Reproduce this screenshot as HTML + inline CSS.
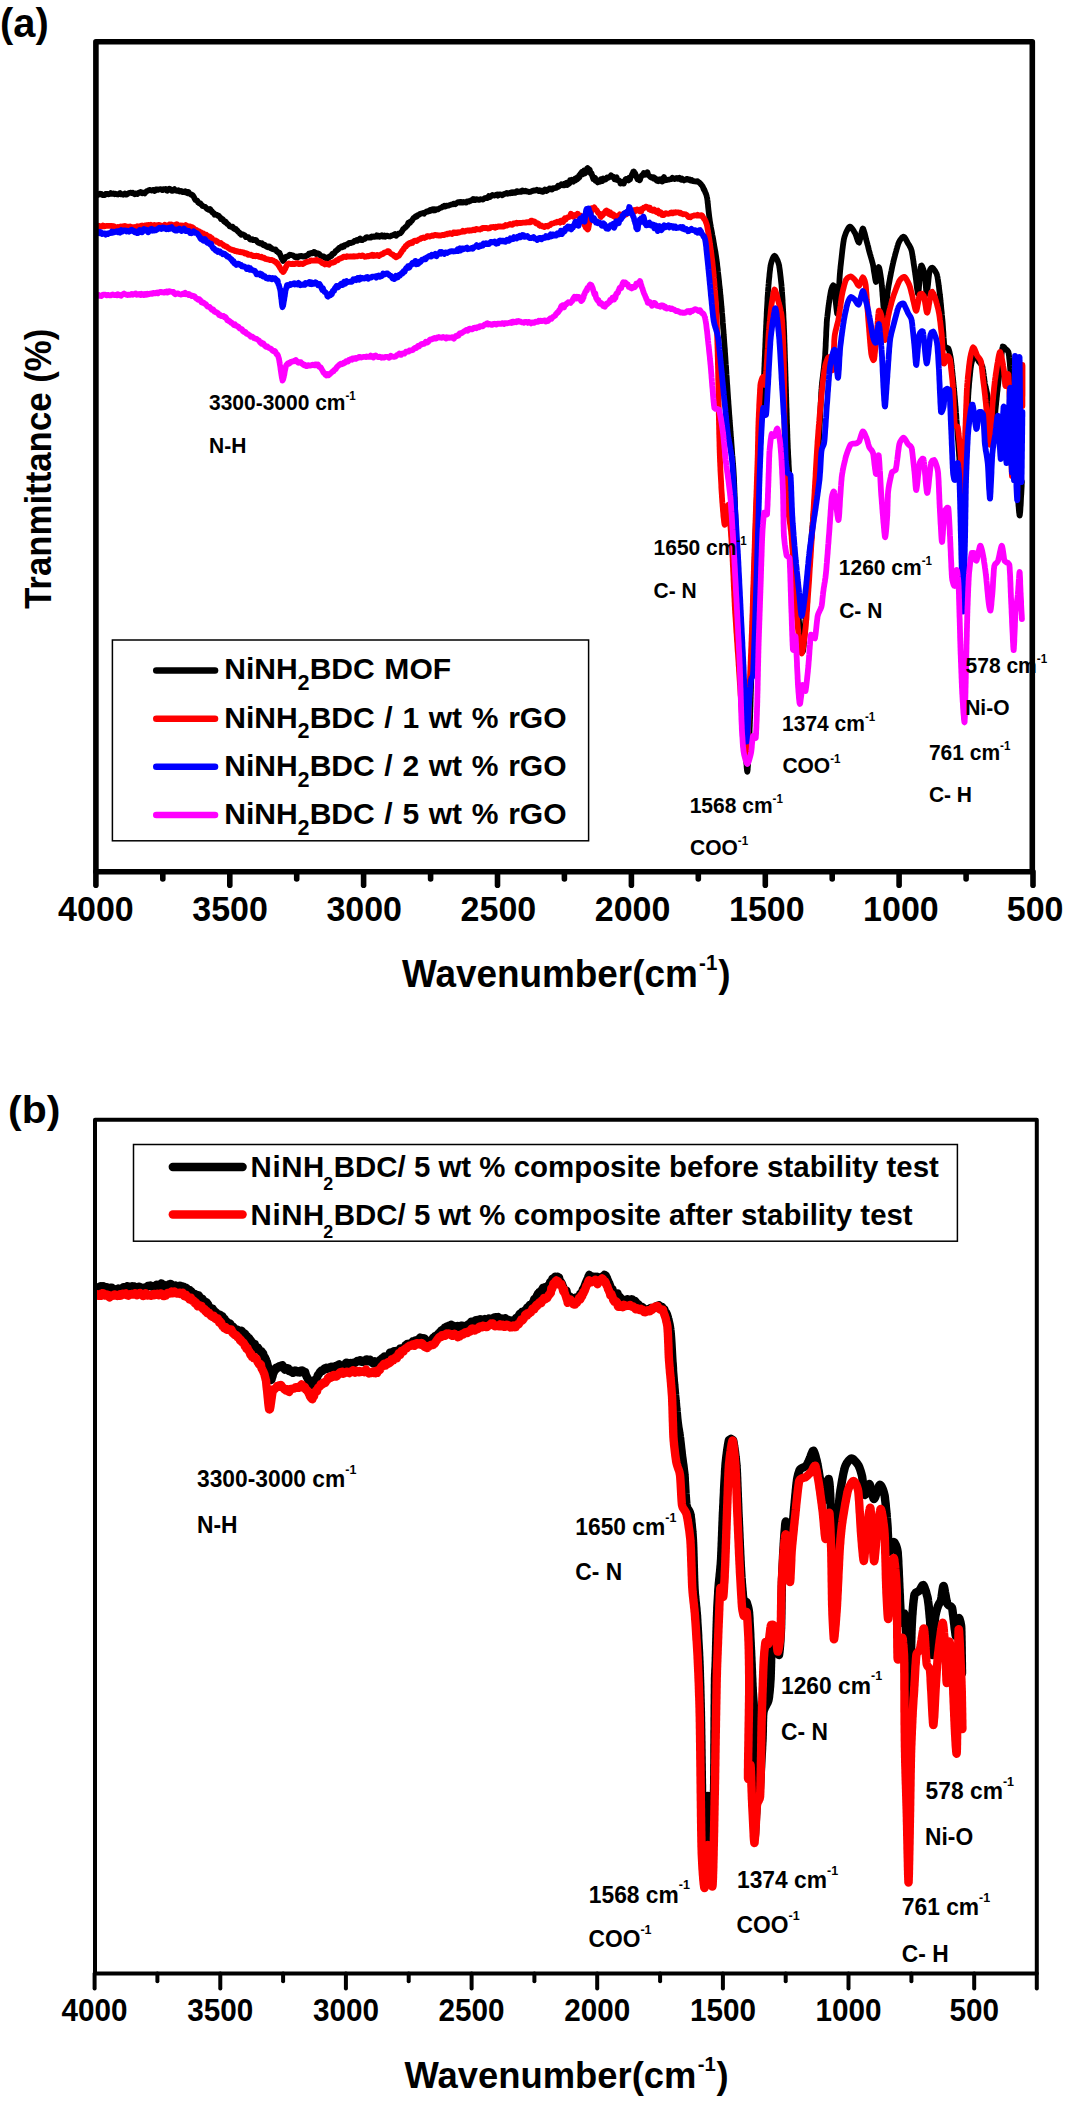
<!DOCTYPE html>
<html><head><meta charset="utf-8"><title>FTIR</title>
<style>html,body{margin:0;padding:0;background:#fff;}body{width:1065px;height:2103px;position:relative;overflow:hidden;font-family:"Liberation Sans",sans-serif;}</style></head>
<body>
<svg width="1065" height="2103" viewBox="0 0 1065 2103" style="display:block;position:absolute;left:0;top:0" font-family="'Liberation Sans', sans-serif" font-weight="bold" fill="#000">
<rect width="1065" height="2103" fill="#fff"/>
<path d="M97.5 195.0 L97.8 195.0 L98.2 194.9 L98.7 194.3 L99.3 194.0 L99.9 193.7 L100.6 194.4 L101.4 194.0 L102.2 195.0 L103.0 195.0 L103.9 195.2 L104.8 195.1 L105.7 193.8 L106.7 194.0 L107.7 193.8 L108.7 194.3 L109.7 194.0 L110.7 193.1 L111.7 193.8 L112.7 193.6 L113.6 193.5 L114.6 194.2 L115.5 193.7 L116.3 194.2 L117.2 194.3 L118.0 194.5 L118.7 194.0 L119.4 193.4 L120.0 193.1 L120.6 194.1 L121.2 194.4 L121.8 194.3 L122.5 194.1 L123.3 194.7 L124.0 194.3 L124.8 193.6 L125.7 194.5 L126.5 194.6 L127.4 194.2 L128.3 193.3 L129.2 192.9 L130.1 192.9 L131.0 192.6 L131.9 193.2 L132.9 192.8 L133.8 193.6 L134.7 194.3 L135.6 193.5 L136.5 193.6 L137.4 194.0 L138.2 192.9 L139.1 192.6 L139.9 192.8 L140.7 192.0 L141.4 192.2 L142.1 193.3 L142.8 193.0 L143.4 192.7 L144.0 193.2 L144.6 193.5 L145.2 192.7 L145.9 192.0 L146.6 191.3 L147.4 191.0 L148.1 190.8 L149.0 190.1 L149.8 190.0 L150.7 190.1 L151.5 190.6 L152.4 190.2 L153.4 189.9 L154.3 191.0 L155.2 190.6 L156.1 189.5 L157.1 189.4 L158.0 189.9 L158.9 189.3 L159.8 189.4 L160.7 189.1 L161.6 189.5 L162.4 190.1 L163.2 189.3 L164.0 189.1 L164.8 189.6 L165.5 189.1 L166.2 190.1 L166.8 190.5 L167.4 190.7 L168.0 189.8 L168.6 189.3 L169.3 188.6 L170.1 188.9 L170.9 190.0 L171.7 190.8 L172.6 190.8 L173.5 189.7 L174.4 189.1 L175.3 190.1 L176.3 190.6 L177.2 190.8 L178.2 190.2 L179.2 191.4 L180.1 191.5 L181.1 191.0 L182.0 191.3 L182.9 192.2 L183.7 192.1 L184.6 192.2 L185.4 191.3 L186.1 192.5 L186.8 192.1 L187.5 193.2 L188.0 192.8 L188.6 192.0 L189.0 193.3 L189.7 193.6 L190.3 194.0 L190.9 194.7 L191.5 194.4 L192.1 194.8 L192.7 195.3 L193.3 196.1 L193.9 197.0 L194.5 198.4 L195.0 199.3 L195.5 200.0 L196.1 200.2 L196.6 200.5 L197.1 200.6 L197.5 201.1 L198.0 202.3 L198.5 202.4 L199.0 203.2 L199.6 203.0 L200.3 203.2 L201.0 204.4 L201.8 205.0 L202.5 205.9 L203.3 206.1 L204.1 206.4 L205.0 206.7 L205.8 207.5 L206.6 208.5 L207.3 209.1 L208.1 209.5 L208.8 209.8 L209.4 209.2 L210.0 209.0 L210.4 209.3 L210.9 210.9 L211.4 210.8 L212.0 211.4 L212.6 212.7 L213.2 212.7 L213.8 213.1 L214.5 214.7 L215.2 214.2 L215.9 214.7 L216.6 214.7 L217.4 215.5 L218.1 216.0 L218.8 215.7 L219.5 216.9 L220.3 217.3 L220.9 219.0 L221.6 218.7 L222.3 219.0 L222.9 219.4 L223.5 220.5 L224.0 221.4 L224.5 221.3 L225.0 222.2 L225.5 221.6 L226.0 222.5 L226.5 222.7 L227.1 223.9 L227.7 224.0 L228.3 224.5 L229.0 225.3 L229.7 226.4 L230.4 226.3 L231.1 226.8 L231.8 226.6 L232.5 226.7 L233.2 227.5 L233.9 228.7 L234.6 229.0 L235.3 229.0 L236.0 229.0 L236.7 230.3 L237.3 230.4 L237.9 231.5 L238.5 232.1 L239.0 232.5 L239.5 232.6 L240.0 233.7 L240.6 234.0 L241.2 234.8 L241.8 234.7 L242.6 234.2 L243.3 234.6 L244.1 235.0 L244.9 235.5 L245.8 237.1 L246.6 236.9 L247.5 237.1 L248.4 237.2 L249.2 238.1 L250.1 239.5 L250.9 239.5 L251.7 239.6 L252.4 239.3 L253.2 240.1 L253.8 240.1 L254.4 239.9 L255.0 240.0 L255.6 239.8 L256.2 240.3 L256.9 241.2 L257.6 242.1 L258.4 242.8 L259.3 242.6 L260.1 243.4 L261.0 243.7 L261.9 243.3 L262.8 244.6 L263.6 245.3 L264.5 244.7 L265.4 245.5 L266.2 246.5 L267.0 246.9 L267.7 247.3 L268.4 246.5 L269.0 246.3 L269.5 246.6 L270.0 247.4 L270.7 248.1 L271.4 248.0 L272.2 249.0 L273.0 249.2 L273.8 249.4 L274.6 249.9 L275.4 249.4 L276.1 250.3 L276.8 251.5 L277.5 251.6 L278.1 252.2 L278.6 253.1 L279.0 253.1 L279.5 252.8 L279.9 254.1 L280.3 255.1 L280.8 255.9 L281.2 257.2 L281.6 258.2 L282.0 259.1 L282.3 259.0 L282.7 260.0 L283.0 261.0 L283.4 259.7 L283.8 260.4 L284.3 259.4 L284.9 258.5 L285.4 257.6 L286.1 256.6 L286.7 256.6 L287.3 256.3 L288.0 256.3 L288.5 255.7 L289.0 255.3 L289.7 254.7 L290.5 255.1 L291.3 254.8 L292.2 255.4 L293.1 255.3 L294.1 256.2 L295.0 257.1 L296.0 257.2 L296.9 256.5 L297.8 257.4 L298.6 256.7 L299.3 256.1 L300.0 256.0 L300.5 256.4 L301.2 256.0 L301.9 256.0 L302.6 256.1 L303.4 256.7 L304.3 256.6 L305.2 256.7 L306.0 255.8 L307.0 255.4 L307.9 255.2 L308.8 253.8 L309.6 254.0 L310.5 253.2 L311.3 252.9 L312.1 253.4 L312.8 253.0 L313.4 252.7 L314.0 251.9 L314.6 252.2 L315.3 252.6 L316.0 254.0 L316.8 253.7 L317.6 253.3 L318.4 253.6 L319.3 253.9 L320.1 255.2 L321.0 256.1 L321.9 256.4 L322.8 256.6 L323.6 256.4 L324.4 257.6 L325.1 257.9 L325.8 258.3 L326.4 257.6 L327.0 257.6 L327.5 258.6 L328.0 258.2 L328.5 257.0 L329.1 257.4 L329.7 256.5 L330.3 256.0 L331.0 256.3 L331.6 255.8 L332.3 253.8 L333.0 253.6 L333.7 253.7 L334.4 253.1 L335.1 252.1 L335.7 250.9 L336.4 250.6 L337.1 250.4 L337.7 249.1 L338.4 249.3 L339.0 248.0 L339.4 248.2 L340.0 247.7 L340.5 247.3 L341.1 246.7 L341.8 247.4 L342.5 247.2 L343.3 245.9 L344.1 246.4 L344.9 245.1 L345.7 244.9 L346.6 244.3 L347.4 244.6 L348.3 243.4 L349.2 243.0 L350.1 242.9 L351.0 243.1 L351.9 242.3 L352.8 242.4 L353.7 241.9 L354.5 241.0 L355.3 240.9 L356.1 240.5 L356.9 239.9 L357.6 240.6 L358.3 239.7 L358.9 239.7 L359.5 239.0 L360.0 238.6 L360.6 239.9 L361.3 240.2 L362.1 240.2 L362.9 239.3 L363.7 239.2 L364.6 239.0 L365.4 238.3 L366.3 237.3 L367.3 237.1 L368.2 237.7 L369.1 237.7 L370.0 237.2 L371.0 237.5 L371.9 236.5 L372.7 236.8 L373.6 236.4 L374.4 236.9 L375.2 236.7 L376.0 236.7 L376.7 235.4 L377.4 236.2 L378.0 236.6 L378.6 235.9 L379.3 236.7 L380.0 236.1 L380.8 235.7 L381.6 235.3 L382.5 236.5 L383.4 236.5 L384.4 235.6 L385.3 236.7 L386.3 235.9 L387.3 235.7 L388.2 236.1 L389.2 236.3 L390.1 236.5 L391.1 236.0 L391.9 235.3 L392.8 235.4 L393.6 234.9 L394.3 234.4 L395.0 234.0 L395.6 234.7 L396.1 235.8 L396.5 234.8 L397.4 234.1 L398.2 234.3 L398.9 233.4 L399.7 233.4 L400.3 233.4 L401.0 232.4 L401.6 231.9 L402.1 231.0 L402.6 230.4 L403.0 229.2 L403.5 228.7 L404.0 228.5 L404.6 228.1 L405.2 227.2 L405.8 227.1 L406.4 226.4 L407.0 225.4 L407.5 225.4 L408.0 223.7 L408.4 222.7 L408.9 223.5 L409.5 223.2 L410.1 222.6 L410.7 221.4 L411.4 221.1 L412.1 220.4 L412.8 219.1 L413.6 218.0 L414.3 217.6 L415.0 217.5 L415.4 216.5 L415.9 216.7 L416.4 216.0 L417.0 216.4 L417.7 215.0 L418.4 214.9 L419.1 214.7 L419.9 214.0 L420.7 213.7 L421.5 213.6 L422.3 213.3 L423.2 212.9 L424.1 213.6 L424.9 212.5 L425.8 212.2 L426.7 211.3 L427.5 211.5 L428.4 211.5 L429.2 210.9 L430.0 210.1 L430.4 210.9 L430.9 210.2 L431.5 210.2 L432.0 209.6 L432.7 210.1 L433.3 209.4 L434.0 210.4 L434.8 209.2 L435.5 210.2 L436.3 209.2 L437.1 209.4 L438.0 209.4 L438.8 208.8 L439.7 208.3 L440.6 207.8 L441.5 207.7 L442.5 206.7 L443.4 206.6 L444.3 205.7 L445.3 206.5 L446.2 205.6 L447.2 205.8 L448.1 205.7 L449.0 205.4 L450.0 205.0 L450.9 204.7 L451.8 204.5 L452.7 204.3 L453.5 203.6 L454.4 203.7 L455.2 204.3 L456.0 203.6 L456.7 203.1 L457.5 202.5 L458.2 202.1 L458.8 202.2 L459.4 202.2 L460.0 202.6 L460.6 202.0 L461.2 201.8 L461.8 202.1 L462.5 202.6 L463.2 202.6 L463.9 202.0 L464.7 202.4 L465.4 202.5 L466.2 202.7 L467.1 201.4 L467.9 201.5 L468.8 201.6 L469.6 201.2 L470.5 201.0 L471.4 200.1 L472.3 200.0 L473.2 199.0 L474.1 199.2 L475.0 200.1 L475.9 199.6 L476.8 199.2 L477.7 199.5 L478.6 199.9 L479.5 199.8 L480.4 199.2 L481.2 199.3 L482.1 199.3 L482.9 199.6 L483.8 198.8 L484.6 198.2 L485.3 198.1 L486.1 198.0 L486.8 198.1 L487.5 197.9 L488.2 197.0 L488.8 196.1 L489.4 196.6 L490.0 196.9 L490.6 196.1 L491.2 196.2 L491.8 195.3 L492.5 195.0 L493.2 195.2 L493.9 195.4 L494.7 195.6 L495.4 195.2 L496.2 194.8 L497.1 194.5 L497.9 195.7 L498.8 195.0 L499.6 194.3 L500.5 194.6 L501.4 194.7 L502.3 195.3 L503.2 194.6 L504.1 193.8 L505.0 193.8 L505.9 193.4 L506.8 193.0 L507.7 193.8 L508.6 193.1 L509.5 193.3 L510.4 193.4 L511.2 192.5 L512.1 192.1 L512.9 193.0 L513.8 192.3 L514.6 192.8 L515.3 192.9 L516.1 191.8 L516.8 191.1 L517.5 191.3 L518.2 192.0 L518.8 191.9 L519.4 191.7 L520.0 191.9 L520.6 191.3 L521.2 191.8 L521.9 191.5 L522.6 190.5 L523.3 191.3 L524.1 191.3 L524.9 191.4 L525.7 190.8 L526.6 191.2 L527.5 191.7 L528.4 191.6 L529.3 192.0 L530.2 191.8 L531.1 191.6 L532.1 191.0 L533.0 190.9 L534.0 190.3 L534.9 190.5 L535.9 190.4 L536.8 189.7 L537.8 190.6 L538.7 191.0 L539.6 190.2 L540.5 190.5 L541.4 191.4 L542.3 190.7 L543.2 191.8 L544.0 190.5 L544.8 189.7 L545.6 190.8 L546.3 191.0 L547.0 190.7 L547.7 189.5 L548.3 189.8 L548.9 189.3 L549.5 188.5 L550.0 188.8 L550.7 188.7 L551.4 189.5 L552.1 189.6 L552.9 188.2 L553.6 188.4 L554.5 188.2 L555.3 187.9 L556.2 187.8 L557.0 187.4 L557.9 185.8 L558.8 186.6 L559.7 185.5 L560.5 185.4 L561.4 184.3 L562.3 184.9 L563.1 185.2 L564.0 184.1 L564.8 185.2 L565.6 183.4 L566.3 182.9 L567.1 185.0 L567.8 184.7 L568.4 183.3 L569.0 183.7 L569.6 183.1 L570.1 180.1 L570.6 181.8 L571.0 181.2 L571.8 179.8 L572.6 180.7 L573.4 181.6 L574.2 179.7 L574.9 178.8 L575.7 180.2 L576.4 178.1 L577.1 179.5 L577.7 177.1 L578.4 178.3 L579.0 175.6 L579.5 177.3 L580.0 174.6 L580.5 173.7 L581.1 173.6 L581.8 172.1 L582.5 174.4 L583.2 172.4 L584.0 170.6 L584.8 173.5 L585.5 172.9 L586.3 170.6 L587.0 168.6 L587.6 168.0 L588.2 168.9 L588.7 170.1 L589.1 170.5 L589.5 169.4 L590.0 170.7 L590.5 173.2 L591.1 173.9 L591.6 173.4 L592.2 175.9 L592.8 177.6 L593.4 179.2 L594.0 179.2 L594.5 178.8 L595.1 177.9 L595.6 181.0 L596.1 181.1 L596.6 180.6 L597.0 181.1 L597.6 182.4 L598.2 180.8 L599.0 181.8 L599.8 181.8 L600.6 179.3 L601.5 179.0 L602.4 181.1 L603.3 178.4 L604.2 179.0 L605.0 178.8 L605.8 179.4 L606.4 178.7 L607.0 177.5 L607.7 177.9 L608.4 177.7 L609.3 177.0 L610.2 176.5 L611.1 175.3 L612.0 176.9 L612.9 176.6 L613.8 176.8 L614.6 179.4 L615.4 178.3 L616.0 177.7 L616.6 177.4 L617.2 180.1 L618.0 180.0 L618.8 180.2 L619.6 180.9 L620.5 183.6 L621.4 182.7 L622.2 182.3 L623.0 183.4 L623.8 183.6 L624.4 181.6 L625.0 180.7 L625.5 179.3 L626.0 179.0 L626.6 178.8 L627.2 179.1 L627.9 179.2 L628.6 180.5 L629.3 177.6 L630.0 179.4 L630.7 177.0 L631.4 176.2 L632.0 174.3 L632.6 174.8 L633.1 172.0 L633.6 172.2 L634.0 171.6 L634.6 174.5 L635.3 173.6 L636.0 175.6 L636.8 177.5 L637.5 179.3 L638.2 178.2 L638.9 179.6 L639.5 180.3 L640.0 180.0 L640.5 177.7 L641.1 176.8 L641.7 175.5 L642.4 174.8 L643.1 175.0 L643.8 172.9 L644.6 173.3 L645.3 174.6 L646.0 173.4 L646.4 174.4 L646.9 174.3 L647.5 172.3 L648.1 175.0 L648.8 175.5 L649.5 176.0 L650.3 176.9 L651.1 177.5 L651.9 177.2 L652.7 177.1 L653.5 178.5 L654.3 177.6 L655.1 178.4 L655.9 179.9 L656.7 180.6 L657.4 179.3 L658.0 180.1 L658.5 181.1 L659.1 179.6 L659.8 179.2 L660.5 180.8 L661.3 179.2 L662.2 181.6 L663.1 178.7 L664.0 177.0 L665.0 180.2 L665.9 179.7 L666.9 180.0 L667.9 179.7 L668.9 179.7 L669.8 179.3 L670.8 179.2 L671.7 178.9 L672.5 177.8 L673.4 178.7 L674.1 178.6 L674.8 179.1 L675.4 178.6 L676.0 178.1 L676.7 178.0 L677.5 178.8 L678.3 178.3 L679.2 177.8 L680.1 179.0 L681.0 179.7 L682.0 178.6 L683.0 179.6 L683.9 180.4 L684.9 179.7 L685.8 179.8 L686.7 179.0 L687.5 178.9 L688.2 179.5 L688.9 179.9 L689.5 179.6 L690.0 180.4 L690.9 180.6 L691.8 180.1 L692.7 181.1 L693.7 181.1 L694.6 181.3 L695.4 181.4 L696.2 181.5 L696.9 181.7 L697.5 181.2 L698.1 182.0 L698.7 182.2 L699.4 182.7 L700.1 183.3 L700.7 184.0 L701.4 184.9 L702.0 185.5 L702.6 186.4 L703.0 187.4 L703.3 187.8 L703.5 189.2 L703.8 188.7 L704.1 189.3 L704.5 190.2 L704.8 190.9 L705.1 191.9 L705.4 192.6 L705.8 193.4 L706.1 194.1 L706.3 194.9 L706.6 195.8 L706.8 196.7 L707.0 197.5 L707.2 198.4 L707.3 199.4 L707.5 200.6 L707.6 202.0 L707.8 203.5 L708.0 205.1 L708.1 206.7 L708.3 208.4 L708.5 210.2 L708.7 211.9 L708.9 213.6 L709.1 215.3 L709.3 217.0 L709.5 218.5 L709.7 220.0 L709.8 220.9 L710.0 221.9 L710.2 223.1 L710.4 224.4 L710.7 225.7 L710.9 227.2 L711.2 228.7 L711.5 230.3 L711.8 231.9 L712.1 233.6 L712.4 235.3 L712.8 237.1 L713.1 238.8 L713.4 240.6 L713.7 242.4 L714.0 244.1 L714.3 245.9 L714.6 247.6 L714.9 249.2 L715.2 250.8 L715.5 252.4 L715.7 253.8 L715.9 255.2 L716.1 256.5 L716.3 257.7 L716.4 258.7 L716.6 259.8 L716.7 261.0 L716.9 262.3 L717.1 263.7 L717.2 265.1 L717.4 266.6 L717.6 268.1 L717.8 269.7 L717.9 271.3 L718.1 273.0 L718.3 274.7 L718.5 276.4 L718.7 278.1 L718.9 279.8 L719.1 281.5 L719.2 283.3 L719.4 285.0 L719.6 286.6 L719.8 288.3 L719.9 289.9 L720.1 291.5 L720.2 293.1 L720.4 294.6 L720.5 296.0 L720.7 297.4 L720.8 298.7 L720.9 299.9 L721.0 301.0 L721.1 302.1 L721.2 303.2 L721.3 304.4 L721.4 305.7 L721.5 307.1 L721.7 308.5 L721.8 309.9 L721.9 311.4 L722.0 313.0 L722.2 314.6 L722.3 316.2 L722.4 317.9 L722.6 319.6 L722.7 321.3 L722.8 323.0 L723.0 324.7 L723.1 326.4 L723.2 328.1 L723.4 329.8 L723.5 331.5 L723.6 333.2 L723.7 334.9 L723.9 336.5 L724.0 338.1 L724.1 339.6 L724.2 341.1 L724.3 342.6 L724.4 344.0 L724.5 345.3 L724.6 346.6 L724.7 347.8 L724.8 348.8 L724.9 349.9 L724.9 351.1 L725.0 352.4 L725.1 353.7 L725.2 355.1 L725.3 356.5 L725.4 358.0 L725.5 359.6 L725.6 361.2 L725.7 362.8 L725.8 364.5 L726.0 366.2 L726.1 367.9 L726.2 369.7 L726.3 371.4 L726.4 373.2 L726.5 375.0 L726.7 376.8 L726.8 378.6 L726.9 380.4 L727.0 382.1 L727.1 383.9 L727.3 385.6 L727.4 387.3 L727.5 389.0 L727.6 390.6 L727.7 392.2 L727.8 393.8 L727.9 395.3 L728.0 396.7 L728.1 398.1 L728.2 399.4 L728.3 400.7 L728.4 401.9 L728.4 403.0 L728.5 404.0 L728.6 405.2 L728.7 406.5 L728.8 407.9 L728.9 409.3 L729.0 410.8 L729.1 412.4 L729.2 414.0 L729.3 415.6 L729.5 417.3 L729.6 419.0 L729.7 420.8 L729.9 422.5 L730.0 424.3 L730.1 426.1 L730.3 427.8 L730.4 429.6 L730.5 431.4 L730.7 433.1 L730.8 434.8 L730.9 436.5 L731.0 438.1 L731.2 439.7 L731.3 441.3 L731.4 442.8 L731.5 444.2 L731.6 445.5 L731.7 446.8 L731.8 448.0 L731.9 449.1 L731.9 450.1 L732.0 451.0 L732.1 452.5 L732.2 453.9 L732.3 455.3 L732.5 456.8 L732.6 458.2 L732.7 459.7 L732.8 461.1 L732.9 462.6 L733.0 464.1 L733.2 465.6 L733.3 467.1 L733.4 468.7 L733.5 470.3 L733.6 472.0 L733.7 473.6 L733.8 475.4 L733.9 477.2 L734.0 479.0 L734.0 479.7 L734.1 480.6 L734.1 481.4 L734.1 482.4 L734.2 483.4 L734.2 484.5 L734.3 485.7 L734.3 486.9 L734.4 488.1 L734.4 489.4 L734.5 490.8 L734.5 492.2 L734.6 493.6 L734.6 495.1 L734.7 496.7 L734.8 498.2 L734.8 499.8 L734.9 501.5 L734.9 503.1 L735.0 504.8 L735.1 506.6 L735.1 508.3 L735.2 510.1 L735.2 511.8 L735.3 513.6 L735.4 515.4 L735.4 517.2 L735.5 519.0 L735.6 520.9 L735.6 522.7 L735.7 524.5 L735.8 526.3 L735.8 528.1 L735.9 529.9 L736.0 531.7 L736.0 533.5 L736.1 535.2 L736.1 537.0 L736.2 538.7 L736.3 540.4 L736.3 542.0 L736.4 543.7 L736.4 545.3 L736.5 546.8 L736.6 548.4 L736.6 549.8 L736.7 551.3 L736.7 552.7 L736.8 554.0 L736.8 555.3 L736.9 556.6 L736.9 557.8 L737.0 558.9 L737.0 560.0 L737.0 561.1 L737.1 562.2 L737.1 563.4 L737.2 564.6 L737.2 565.9 L737.3 567.2 L737.4 568.6 L737.4 570.0 L737.5 571.4 L737.5 572.9 L737.6 574.3 L737.7 575.9 L737.7 577.4 L737.8 579.0 L737.9 580.6 L737.9 582.2 L738.0 583.8 L738.1 585.5 L738.2 587.2 L738.2 588.9 L738.3 590.6 L738.4 592.3 L738.5 594.0 L738.5 595.7 L738.6 597.4 L738.7 599.2 L738.8 600.9 L738.8 602.6 L738.9 604.4 L739.0 606.1 L739.1 607.8 L739.1 609.5 L739.2 611.2 L739.3 612.9 L739.4 614.6 L739.4 616.2 L739.5 617.9 L739.6 619.5 L739.7 621.1 L739.7 622.7 L739.8 624.2 L739.9 625.7 L739.9 627.2 L740.0 628.7 L740.1 630.1 L740.1 631.5 L740.2 632.8 L740.2 634.1 L740.3 635.4 L740.4 636.6 L740.4 637.8 L740.5 638.9 L740.5 640.0 L740.5 641.1 L740.6 642.2 L740.6 643.4 L740.7 644.7 L740.8 646.0 L740.8 647.3 L740.9 648.7 L740.9 650.1 L741.0 651.6 L741.1 653.1 L741.1 654.6 L741.2 656.2 L741.3 657.8 L741.3 659.4 L741.4 661.1 L741.5 662.8 L741.5 664.5 L741.6 666.2 L741.7 667.9 L741.8 669.7 L741.8 671.4 L741.9 673.2 L742.0 675.0 L742.1 676.8 L742.1 678.6 L742.2 680.3 L742.3 682.1 L742.4 683.9 L742.4 685.7 L742.5 687.4 L742.6 689.2 L742.7 690.9 L742.7 692.6 L742.8 694.3 L742.9 696.0 L743.0 697.7 L743.0 699.3 L743.1 700.9 L743.2 702.5 L743.3 704.0 L743.3 705.5 L743.4 707.0 L743.4 708.4 L743.5 709.8 L743.6 711.1 L743.6 712.4 L743.7 713.7 L743.7 714.9 L743.8 716.0 L743.9 717.1 L743.9 718.1 L744.0 719.1 L744.0 720.0 L744.1 721.4 L744.2 722.9 L744.2 724.5 L744.3 726.2 L744.4 728.0 L744.5 729.8 L744.6 731.7 L744.7 733.6 L744.8 735.5 L744.9 737.5 L745.0 739.6 L745.1 741.6 L745.2 743.6 L745.3 745.6 L745.5 747.7 L745.6 749.7 L745.7 751.6 L745.8 753.5 L745.9 755.4 L746.0 757.2 L746.1 759.0 L746.2 760.6 L746.3 762.2 L746.4 763.7 L746.6 765.1 L746.6 766.4 L746.7 767.6 L746.8 768.6 L746.9 769.5 L747.0 770.3 L747.1 770.9 L747.2 771.3 L747.2 771.6 L747.3 771.7 L747.4 771.6 L747.4 771.3 L747.5 770.9 L747.6 770.2 L747.7 769.5 L747.7 768.5 L747.8 767.5 L747.9 766.3 L748.0 764.9 L748.1 763.5 L748.2 762.0 L748.2 760.4 L748.3 758.7 L748.4 756.9 L748.5 755.0 L748.6 753.1 L748.7 751.2 L748.8 749.2 L748.9 747.2 L749.0 745.1 L749.1 743.1 L749.2 741.1 L749.2 739.0 L749.3 737.0 L749.4 735.0 L749.5 733.1 L749.6 731.2 L749.6 729.4 L749.7 727.6 L749.8 725.9 L749.8 724.3 L749.9 722.7 L749.9 721.3 L750.0 720.0 L750.0 719.0 L750.1 718.0 L750.1 716.9 L750.2 715.8 L750.2 714.5 L750.2 713.3 L750.3 711.9 L750.3 710.6 L750.4 709.1 L750.4 707.7 L750.5 706.1 L750.5 704.6 L750.5 703.0 L750.6 701.4 L750.6 699.7 L750.7 698.0 L750.7 696.3 L750.8 694.6 L750.8 692.9 L750.9 691.1 L750.9 689.4 L751.0 687.6 L751.0 685.8 L751.1 684.0 L751.1 682.2 L751.2 680.4 L751.2 678.7 L751.3 676.9 L751.3 675.1 L751.4 673.4 L751.4 671.7 L751.5 670.0 L751.5 668.3 L751.5 666.6 L751.6 665.0 L751.6 663.4 L751.7 661.9 L751.7 660.4 L751.8 658.9 L751.8 657.5 L751.8 656.1 L751.9 654.8 L751.9 653.5 L751.9 652.3 L752.0 651.1 L752.0 650.0 L752.0 648.9 L752.1 647.7 L752.1 646.5 L752.1 645.3 L752.2 643.9 L752.2 642.6 L752.3 641.2 L752.3 639.7 L752.3 638.2 L752.4 636.7 L752.4 635.1 L752.5 633.5 L752.5 631.9 L752.6 630.2 L752.6 628.5 L752.7 626.8 L752.7 625.1 L752.8 623.4 L752.8 621.6 L752.9 619.9 L752.9 618.1 L753.0 616.3 L753.0 614.6 L753.0 612.8 L753.1 611.0 L753.1 609.3 L753.2 607.5 L753.2 605.8 L753.3 604.1 L753.3 602.4 L753.4 600.7 L753.4 599.0 L753.5 597.4 L753.5 595.8 L753.6 594.3 L753.6 592.7 L753.7 591.2 L753.7 589.8 L753.7 588.4 L753.8 587.0 L753.8 585.7 L753.9 584.5 L753.9 583.3 L753.9 582.1 L754.0 581.0 L754.0 580.0 L754.0 578.8 L754.1 577.6 L754.1 576.3 L754.2 575.0 L754.2 573.6 L754.2 572.2 L754.3 570.7 L754.3 569.2 L754.4 567.6 L754.4 566.0 L754.5 564.4 L754.5 562.8 L754.6 561.1 L754.7 559.4 L754.7 557.7 L754.8 556.0 L754.8 554.3 L754.9 552.6 L754.9 550.9 L755.0 549.1 L755.1 547.4 L755.1 545.7 L755.2 544.0 L755.2 542.3 L755.3 540.6 L755.3 539.0 L755.4 537.4 L755.5 535.8 L755.5 534.2 L755.6 532.7 L755.6 531.2 L755.7 529.7 L755.7 528.3 L755.8 526.9 L755.8 525.6 L755.8 524.4 L755.9 523.2 L755.9 522.1 L756.0 521.0 L756.0 520.0 L756.0 518.8 L756.1 517.5 L756.1 516.2 L756.2 514.7 L756.2 513.3 L756.3 511.7 L756.4 510.1 L756.4 508.5 L756.5 506.8 L756.6 505.1 L756.6 503.4 L756.7 501.7 L756.8 499.9 L756.8 498.1 L756.9 496.3 L757.0 494.6 L757.0 492.8 L757.1 491.0 L757.2 489.3 L757.2 487.6 L757.3 485.9 L757.4 484.3 L757.4 482.6 L757.5 481.1 L757.6 479.6 L757.6 478.1 L757.7 476.7 L757.8 475.4 L757.8 474.1 L757.9 473.0 L757.9 471.9 L758.0 470.9 L758.0 470.0 L758.1 468.6 L758.2 467.1 L758.2 465.5 L758.3 464.0 L758.4 462.4 L758.5 460.7 L758.7 459.1 L758.8 457.4 L758.9 455.8 L759.0 454.1 L759.1 452.5 L759.2 450.9 L759.3 449.3 L759.5 447.8 L759.6 446.3 L759.7 444.9 L759.8 443.6 L759.8 442.3 L759.9 441.1 L760.0 440.0 L760.1 438.9 L760.2 437.7 L760.2 436.3 L760.3 434.9 L760.4 433.4 L760.5 431.8 L760.7 430.2 L760.8 428.6 L760.9 426.9 L761.0 425.2 L761.1 423.5 L761.2 421.8 L761.3 420.1 L761.5 418.4 L761.6 416.9 L761.7 415.3 L761.8 413.8 L761.8 412.5 L761.9 411.2 L762.0 410.0 L762.1 408.9 L762.1 407.7 L762.2 406.5 L762.3 405.1 L762.4 403.6 L762.5 402.1 L762.6 400.5 L762.7 398.9 L762.8 397.2 L762.9 395.5 L763.0 393.7 L763.1 392.0 L763.2 390.2 L763.3 388.5 L763.4 386.8 L763.5 385.1 L763.6 383.4 L763.7 381.8 L763.8 380.2 L763.9 378.8 L763.9 377.3 L764.0 376.0 L764.0 375.0 L764.1 374.0 L764.2 372.8 L764.2 371.5 L764.3 370.2 L764.3 368.7 L764.4 367.2 L764.5 365.7 L764.5 364.0 L764.6 362.4 L764.7 360.7 L764.7 358.9 L764.8 357.1 L764.9 355.4 L765.0 353.6 L765.0 351.7 L765.1 349.9 L765.2 348.2 L765.3 346.4 L765.3 344.6 L765.4 342.9 L765.5 341.2 L765.5 339.6 L765.6 338.0 L765.7 336.5 L765.7 335.0 L765.8 333.6 L765.8 332.3 L765.9 331.1 L766.0 330.0 L766.0 329.0 L766.1 327.8 L766.1 326.4 L766.2 325.0 L766.3 323.6 L766.3 322.0 L766.4 320.4 L766.5 318.8 L766.6 317.1 L766.7 315.4 L766.7 313.7 L766.8 312.0 L766.9 310.2 L767.0 308.5 L767.1 306.8 L767.2 305.1 L767.3 303.4 L767.4 301.8 L767.5 300.3 L767.5 298.8 L767.6 297.3 L767.7 296.0 L767.8 294.7 L767.9 293.5 L767.9 292.5 L768.0 291.5 L768.1 290.1 L768.2 288.6 L768.4 287.0 L768.5 285.2 L768.7 283.5 L768.8 281.6 L769.0 279.8 L769.2 277.9 L769.4 276.1 L769.5 274.3 L769.7 272.6 L769.9 271.0 L770.1 269.5 L770.2 268.1 L770.4 266.9 L770.6 265.8 L770.7 265.0 L771.2 263.0 L771.8 260.9 L772.5 258.9 L773.2 257.3 L773.9 256.2 L774.5 255.8 L775.1 256.2 L775.9 257.3 L776.8 258.9 L777.7 260.8 L778.4 262.9 L779.0 265.0 L779.2 265.8 L779.3 266.9 L779.5 268.1 L779.7 269.5 L779.9 271.0 L780.1 272.6 L780.3 274.3 L780.5 276.1 L780.7 277.9 L780.9 279.8 L781.1 281.6 L781.3 283.5 L781.5 285.2 L781.6 287.0 L781.8 288.6 L781.9 290.1 L782.0 291.5 L782.1 292.5 L782.1 293.5 L782.2 294.7 L782.3 295.9 L782.4 297.2 L782.5 298.6 L782.6 300.1 L782.6 301.6 L782.7 303.2 L782.8 304.8 L782.9 306.4 L783.0 308.1 L783.1 309.8 L783.2 311.5 L783.3 313.2 L783.4 315.0 L783.4 316.7 L783.5 318.3 L783.6 320.0 L783.7 321.6 L783.8 323.2 L783.8 324.8 L783.9 326.2 L783.9 327.7 L784.0 329.0 L784.0 329.9 L784.1 330.9 L784.1 332.0 L784.2 333.2 L784.2 334.5 L784.3 335.8 L784.3 337.2 L784.3 338.6 L784.4 340.1 L784.4 341.7 L784.5 343.3 L784.6 344.9 L784.6 346.6 L784.7 348.3 L784.7 350.0 L784.8 351.7 L784.8 353.5 L784.9 355.3 L784.9 357.1 L785.0 358.8 L785.0 360.6 L785.1 362.4 L785.2 364.2 L785.2 365.9 L785.3 367.6 L785.3 369.3 L785.4 371.0 L785.4 372.6 L785.5 374.2 L785.5 375.8 L785.6 377.3 L785.6 378.7 L785.6 380.1 L785.7 381.5 L785.7 382.7 L785.8 383.9 L785.8 385.0 L785.8 386.1 L785.9 387.3 L785.9 388.6 L786.0 389.9 L786.0 391.3 L786.0 392.8 L786.1 394.3 L786.1 395.8 L786.2 397.5 L786.2 399.1 L786.3 400.8 L786.3 402.5 L786.4 404.3 L786.4 406.0 L786.5 407.8 L786.6 409.6 L786.6 411.5 L786.7 413.3 L786.7 415.1 L786.8 416.9 L786.8 418.7 L786.9 420.4 L786.9 422.2 L787.0 423.9 L787.1 425.6 L787.1 427.3 L787.2 428.9 L787.2 430.5 L787.3 432.0 L787.3 433.4 L787.4 434.8 L787.4 436.2 L787.4 437.4 L787.5 438.6 L787.5 439.7 L787.6 440.8 L787.6 441.7 L787.7 443.1 L787.7 444.5 L787.8 446.0 L787.8 447.5 L787.9 449.0 L788.0 450.5 L788.1 452.1 L788.1 453.7 L788.2 455.3 L788.3 456.9 L788.4 458.5 L788.5 460.2 L788.6 461.8 L788.6 463.4 L788.7 465.0 L788.8 466.7 L788.9 468.3 L789.0 469.9 L789.1 471.5 L789.2 473.0 L789.3 474.6 L789.3 476.1 L789.4 477.5 L789.5 479.0 L789.5 479.9 L789.6 480.9 L789.7 482.0 L789.7 483.1 L789.8 484.3 L789.9 485.6 L789.9 487.0 L790.0 488.4 L790.1 489.9 L790.2 491.4 L790.3 493.0 L790.4 494.6 L790.5 496.2 L790.6 497.9 L790.7 499.6 L790.8 501.4 L790.9 503.1 L791.0 504.9 L791.1 506.7 L791.2 508.5 L791.3 510.3 L791.4 512.1 L791.5 513.9 L791.6 515.7 L791.7 517.5 L791.8 519.3 L791.9 521.0 L792.0 522.8 L792.1 524.5 L792.2 526.1 L792.3 527.8 L792.4 529.3 L792.5 530.9 L792.5 532.4 L792.6 533.8 L792.7 535.2 L792.8 536.5 L792.9 537.7 L792.9 538.9 L793.0 540.0 L793.1 541.1 L793.1 542.3 L793.2 543.5 L793.3 544.8 L793.4 546.1 L793.5 547.5 L793.6 548.9 L793.6 550.4 L793.7 551.9 L793.8 553.5 L793.9 555.1 L794.0 556.7 L794.1 558.4 L794.2 560.1 L794.4 561.8 L794.5 563.5 L794.6 565.2 L794.7 566.9 L794.8 568.7 L794.9 570.4 L795.0 572.2 L795.1 573.9 L795.2 575.6 L795.4 577.3 L795.5 579.0 L795.6 580.7 L795.7 582.3 L795.8 584.0 L795.9 585.6 L796.0 587.1 L796.1 588.6 L796.2 590.1 L796.3 591.6 L796.4 592.9 L796.5 594.3 L796.6 595.5 L796.7 596.8 L796.8 597.9 L796.9 599.0 L797.0 600.0 L797.1 601.2 L797.2 602.5 L797.4 604.0 L797.5 605.5 L797.6 607.1 L797.8 608.8 L798.0 610.6 L798.1 612.4 L798.3 614.3 L798.5 616.2 L798.7 618.2 L798.9 620.2 L799.1 622.2 L799.3 624.2 L799.5 626.2 L799.7 628.2 L799.9 630.2 L800.1 632.1 L800.3 634.0 L800.5 635.9 L800.7 637.7 L800.9 639.4 L801.1 641.1 L801.3 642.6 L801.4 644.1 L801.6 645.5 L801.8 646.7 L801.9 647.8 L802.1 648.8 L802.2 649.7 L802.4 650.4 L802.5 650.9 L802.6 651.3 L802.7 651.5 L802.8 651.5 L802.9 651.2 L803.1 650.8 L803.2 650.1 L803.3 649.1 L803.4 648.0 L803.6 646.8 L803.7 645.4 L803.8 643.8 L804.0 642.1 L804.1 640.3 L804.2 638.4 L804.4 636.5 L804.5 634.4 L804.6 632.4 L804.7 630.3 L804.9 628.2 L805.0 626.1 L805.1 624.0 L805.2 622.0 L805.4 620.0 L805.5 618.0 L805.6 616.2 L805.7 614.5 L805.8 612.8 L805.9 611.3 L806.0 610.0 L806.1 609.0 L806.1 608.0 L806.2 606.9 L806.3 605.7 L806.4 604.4 L806.5 603.0 L806.6 601.6 L806.7 600.2 L806.8 598.7 L806.9 597.1 L807.0 595.5 L807.1 593.9 L807.3 592.2 L807.4 590.5 L807.5 588.8 L807.6 587.1 L807.7 585.3 L807.9 583.5 L808.0 581.8 L808.1 580.0 L808.2 578.2 L808.4 576.5 L808.5 574.7 L808.6 573.0 L808.7 571.3 L808.8 569.6 L809.0 567.9 L809.1 566.3 L809.2 564.7 L809.3 563.2 L809.4 561.7 L809.5 560.2 L809.6 558.8 L809.7 557.5 L809.8 556.3 L809.9 555.1 L810.0 554.0 L810.1 552.9 L810.2 551.7 L810.3 550.5 L810.4 549.2 L810.5 547.8 L810.6 546.4 L810.8 545.0 L810.9 543.5 L811.0 541.9 L811.2 540.3 L811.3 538.7 L811.5 537.1 L811.6 535.4 L811.8 533.7 L811.9 532.0 L812.1 530.2 L812.3 528.5 L812.4 526.7 L812.6 525.0 L812.7 523.2 L812.9 521.5 L813.1 519.8 L813.2 518.0 L813.4 516.3 L813.5 514.7 L813.7 513.0 L813.8 511.4 L814.0 509.8 L814.1 508.2 L814.2 506.7 L814.4 505.2 L814.5 503.8 L814.6 502.5 L814.7 501.1 L814.8 499.9 L814.9 498.7 L815.0 497.6 L815.1 496.5 L815.2 495.4 L815.3 494.1 L815.4 492.8 L815.5 491.5 L815.6 490.1 L815.7 488.6 L815.8 487.1 L815.9 485.6 L816.0 484.0 L816.1 482.3 L816.3 480.7 L816.4 479.0 L816.5 477.3 L816.6 475.6 L816.7 473.8 L816.9 472.1 L817.0 470.3 L817.1 468.6 L817.2 466.8 L817.4 465.0 L817.5 463.3 L817.6 461.6 L817.7 459.9 L817.8 458.2 L817.9 456.5 L818.0 454.9 L818.2 453.3 L818.3 451.7 L818.4 450.2 L818.5 448.7 L818.5 447.3 L818.6 445.9 L818.7 444.6 L818.8 443.3 L818.9 442.2 L818.9 441.0 L819.0 440.0 L819.1 438.8 L819.1 437.6 L819.2 436.3 L819.3 434.9 L819.4 433.5 L819.4 432.0 L819.5 430.4 L819.6 428.9 L819.7 427.2 L819.7 425.6 L819.8 423.9 L819.9 422.2 L820.0 420.4 L820.0 418.7 L820.1 416.9 L820.2 415.1 L820.3 413.4 L820.3 411.6 L820.4 409.9 L820.5 408.2 L820.6 406.5 L820.7 404.8 L820.7 403.2 L820.8 401.6 L820.9 400.0 L821.0 398.5 L821.0 397.1 L821.1 395.7 L821.2 394.4 L821.2 393.1 L821.3 392.0 L821.4 390.9 L821.4 389.9 L821.5 389.0 L821.6 387.6 L821.7 386.1 L821.9 384.6 L822.0 383.0 L822.2 381.5 L822.4 379.8 L822.6 378.2 L822.8 376.5 L823.0 374.9 L823.2 373.2 L823.4 371.6 L823.6 369.9 L823.8 368.3 L824.0 366.7 L824.1 365.2 L824.3 363.7 L824.5 362.2 L824.6 360.8 L824.8 359.5 L824.9 358.2 L825.0 357.0 L825.1 355.9 L825.2 354.7 L825.2 353.4 L825.3 351.9 L825.4 350.4 L825.5 348.8 L825.6 347.1 L825.7 345.4 L825.7 343.6 L825.8 341.8 L825.9 340.0 L826.0 338.1 L826.1 336.3 L826.2 334.5 L826.2 332.7 L826.3 330.9 L826.4 329.2 L826.5 327.5 L826.6 326.0 L826.7 324.5 L826.7 323.1 L826.8 321.8 L826.9 320.6 L827.0 319.6 L827.1 318.2 L827.3 316.8 L827.5 315.1 L827.7 313.4 L827.9 311.6 L828.1 309.8 L828.3 307.9 L828.6 306.0 L828.8 304.2 L829.1 302.3 L829.4 300.5 L829.6 298.8 L829.8 297.2 L830.1 295.8 L830.3 294.4 L830.5 293.3 L830.7 292.3 L830.8 291.5 L831.4 289.2 L832.3 286.7 L833.3 285.3 L834.0 285.8 L834.1 286.5 L834.3 287.5 L834.5 288.9 L834.7 290.6 L834.9 292.5 L835.1 294.6 L835.3 296.8 L835.5 299.1 L835.7 301.5 L835.9 303.7 L836.2 305.9 L836.4 308.0 L836.6 309.8 L836.8 311.4 L837.0 312.6 L837.1 313.5 L837.3 314.0 L837.4 314.0 L837.5 313.7 L837.6 313.2 L837.6 312.5 L837.7 311.5 L837.8 310.4 L837.9 309.2 L838.0 307.8 L838.1 306.2 L838.2 304.6 L838.3 302.8 L838.4 300.9 L838.5 299.0 L838.6 297.1 L838.7 295.1 L838.8 293.0 L838.9 291.0 L839.0 289.0 L839.1 287.0 L839.2 285.0 L839.3 283.1 L839.4 281.3 L839.5 279.5 L839.6 277.9 L839.7 276.4 L839.8 275.0 L839.9 273.8 L840.0 272.7 L840.1 271.4 L840.2 270.1 L840.4 268.6 L840.5 267.0 L840.7 265.3 L840.9 263.6 L841.1 261.8 L841.3 260.0 L841.5 258.2 L841.7 256.4 L841.9 254.5 L842.1 252.7 L842.3 250.9 L842.5 249.2 L842.7 247.6 L842.9 246.0 L843.1 244.5 L843.3 243.1 L843.5 241.8 L843.7 240.7 L843.8 239.7 L844.0 238.9 L844.5 236.9 L845.2 234.9 L845.9 232.9 L846.7 231.1 L847.6 229.5 L848.3 228.2 L849.0 227.2 L849.6 226.7 L850.5 226.9 L851.7 228.1 L853.0 229.8 L854.1 231.6 L855.0 233.0 L855.6 234.4 L856.3 236.4 L857.1 238.7 L857.8 240.8 L858.5 242.2 L859.0 242.6 L859.3 242.0 L859.7 240.6 L860.2 238.8 L860.7 236.6 L861.2 234.3 L861.6 232.1 L862.1 230.3 L862.5 229.0 L862.8 228.5 L863.2 228.8 L863.6 229.9 L864.1 231.5 L864.7 233.4 L865.2 235.5 L865.7 237.5 L866.1 239.3 L866.5 240.7 L866.8 241.8 L867.2 243.3 L867.6 244.8 L868.1 246.5 L868.5 248.3 L868.9 250.0 L869.3 251.5 L869.7 252.9 L870.0 254.0 L870.4 255.3 L870.8 256.8 L871.3 258.5 L871.8 260.2 L872.2 261.9 L872.7 263.5 L873.0 265.0 L873.2 266.1 L873.5 267.7 L873.7 269.5 L874.0 271.5 L874.4 273.6 L874.7 275.7 L875.0 277.6 L875.3 279.3 L875.6 280.7 L875.8 281.6 L876.0 282.0 L876.2 281.6 L876.5 280.5 L876.8 278.9 L877.1 276.8 L877.4 274.6 L877.7 272.3 L878.0 270.3 L878.2 268.6 L878.5 267.4 L878.7 267.0 L878.9 267.3 L879.2 268.0 L879.5 269.2 L879.8 270.6 L880.1 272.4 L880.4 274.3 L880.7 276.2 L881.0 278.2 L881.3 280.2 L881.5 282.0 L881.6 282.9 L881.7 284.1 L881.8 285.4 L882.0 287.0 L882.1 288.7 L882.2 290.6 L882.4 292.5 L882.5 294.6 L882.7 296.6 L882.9 298.8 L883.0 300.9 L883.2 302.9 L883.3 305.0 L883.5 306.9 L883.7 308.7 L883.8 310.4 L884.0 311.9 L884.1 313.2 L884.2 314.3 L884.4 315.2 L884.5 315.7 L884.6 316.0 L884.7 315.9 L884.9 315.4 L885.1 314.6 L885.3 313.5 L885.5 312.1 L885.7 310.5 L885.9 308.7 L886.1 306.8 L886.3 304.7 L886.6 302.6 L886.8 300.5 L887.0 298.4 L887.2 296.3 L887.4 294.3 L887.7 292.5 L887.8 290.9 L888.0 289.5 L888.2 288.3 L888.4 287.1 L888.6 285.7 L888.9 284.2 L889.2 282.6 L889.5 281.0 L889.8 279.3 L890.1 277.5 L890.5 275.7 L890.8 274.0 L891.1 272.3 L891.5 270.6 L891.8 269.0 L892.1 267.5 L892.4 266.1 L892.7 264.9 L892.9 263.8 L893.2 262.6 L893.5 261.2 L893.9 259.6 L894.3 258.0 L894.8 256.2 L895.2 254.5 L895.7 252.7 L896.2 251.0 L896.6 249.3 L897.1 247.8 L897.5 246.3 L897.9 245.1 L898.2 244.0 L898.5 243.2 L899.4 241.3 L900.5 239.5 L901.7 238.0 L902.8 237.0 L903.6 236.6 L904.4 237.1 L905.3 238.4 L906.3 240.2 L907.2 241.9 L907.9 243.2 L908.6 244.3 L909.4 245.6 L910.2 247.1 L911.0 248.8 L911.6 250.7 L911.8 251.5 L912.0 252.6 L912.2 253.9 L912.5 255.4 L912.7 257.0 L913.0 258.7 L913.3 260.5 L913.5 262.3 L913.8 264.2 L914.1 266.1 L914.4 267.9 L914.6 269.6 L914.8 271.2 L915.1 272.7 L915.2 273.9 L915.4 275.0 L915.6 276.5 L915.8 278.2 L916.1 280.3 L916.3 282.4 L916.6 284.6 L916.8 286.8 L917.1 288.8 L917.4 290.7 L917.6 292.2 L917.8 293.3 L918.0 294.0 L918.2 294.0 L918.3 293.6 L918.4 292.8 L918.6 291.7 L918.7 290.2 L918.9 288.6 L919.0 286.7 L919.2 284.6 L919.4 282.5 L919.6 280.3 L919.7 278.1 L919.9 275.9 L920.1 273.8 L920.2 271.8 L920.4 270.0 L920.6 268.5 L920.7 267.2 L920.9 266.3 L921.0 265.7 L921.5 265.4 L922.2 266.4 L922.9 268.3 L923.7 270.6 L924.3 273.0 L924.8 275.0 L925.0 276.1 L925.1 277.6 L925.3 279.4 L925.5 281.5 L925.6 283.7 L925.8 285.9 L926.0 288.0 L926.1 290.0 L926.3 291.7 L926.4 293.0 L926.6 293.8 L926.7 294.0 L926.8 293.7 L927.0 292.9 L927.1 291.8 L927.3 290.3 L927.5 288.6 L927.7 286.8 L928.0 284.7 L928.2 282.7 L928.4 280.6 L928.6 278.5 L928.8 276.6 L929.0 274.9 L929.2 273.4 L929.4 272.2 L929.5 271.4 L930.2 269.5 L931.3 268.0 L932.3 267.6 L933.0 268.2 L934.1 269.5 L935.2 271.2 L936.3 273.1 L937.0 275.0 L937.2 275.9 L937.5 277.1 L937.7 278.5 L938.0 280.1 L938.2 281.8 L938.5 283.6 L938.7 285.5 L939.0 287.3 L939.2 289.2 L939.4 290.9 L939.6 292.5 L939.8 294.0 L939.9 295.0 L940.1 296.2 L940.2 297.6 L940.4 299.0 L940.5 300.6 L940.7 302.3 L940.9 304.1 L941.1 305.9 L941.2 307.8 L941.4 309.6 L941.6 311.4 L941.8 313.2 L941.9 315.0 L942.1 316.6 L942.2 318.2 L942.4 319.6 L942.5 320.9 L942.6 322.0 L942.7 323.3 L942.8 324.7 L942.9 326.3 L943.0 328.0 L943.1 329.8 L943.3 331.6 L943.4 333.5 L943.5 335.4 L943.6 337.2 L943.8 339.0 L943.9 340.7 L944.0 342.2 L944.1 343.6 L944.2 344.8 L944.4 345.8 L944.5 346.5 L946.3 347.5 L948.3 348.4 L948.7 349.3 L949.1 350.5 L949.5 352.0 L949.9 353.8 L950.3 355.6 L950.7 357.6 L951.0 359.6 L951.1 360.3 L951.2 361.2 L951.3 362.3 L951.4 363.4 L951.6 364.7 L951.7 366.0 L951.9 367.5 L952.0 369.0 L952.2 370.7 L952.4 372.3 L952.5 374.1 L952.7 375.8 L952.9 377.6 L953.1 379.4 L953.3 381.3 L953.4 383.1 L953.6 384.9 L953.8 386.7 L953.9 388.4 L954.1 390.2 L954.3 391.8 L954.4 393.4 L954.5 394.9 L954.7 396.3 L954.8 397.7 L954.9 398.9 L955.0 400.0 L955.1 401.1 L955.2 402.4 L955.3 403.7 L955.4 405.1 L955.5 406.6 L955.7 408.1 L955.8 409.7 L955.9 411.3 L956.0 413.0 L956.2 414.7 L956.3 416.5 L956.4 418.3 L956.5 420.0 L956.7 421.8 L956.8 423.5 L956.9 425.3 L957.1 427.0 L957.2 428.7 L957.3 430.3 L957.4 431.9 L957.5 433.5 L957.6 434.9 L957.7 436.3 L957.8 437.6 L957.9 438.9 L958.0 440.0 L958.1 441.1 L958.2 442.4 L958.3 443.8 L958.4 445.2 L958.5 446.8 L958.6 448.4 L958.7 450.1 L958.9 451.9 L959.0 453.6 L959.1 455.5 L959.3 457.3 L959.4 459.2 L959.5 461.0 L959.7 462.8 L959.8 464.7 L959.9 466.4 L960.1 468.2 L960.2 469.9 L960.3 471.5 L960.4 473.0 L960.5 474.5 L960.6 475.8 L960.7 477.1 L960.8 478.2 L960.9 479.2 L961.0 480.0 L961.2 482.0 L961.4 484.3 L961.6 486.7 L961.9 489.2 L962.1 491.6 L962.4 493.8 L962.7 495.6 L962.9 497.0 L963.1 497.8 L963.3 497.8 L963.5 497.0 L963.5 496.6 L963.6 496.0 L963.7 495.3 L963.7 494.4 L963.8 493.5 L963.8 492.4 L963.9 491.2 L964.0 489.9 L964.0 488.6 L964.1 487.1 L964.2 485.6 L964.2 484.0 L964.3 482.3 L964.4 480.6 L964.4 478.8 L964.5 477.0 L964.6 475.1 L964.7 473.3 L964.8 471.3 L964.8 469.4 L964.9 467.5 L965.0 465.6 L965.1 463.6 L965.1 461.7 L965.2 459.8 L965.3 457.9 L965.3 456.1 L965.4 454.3 L965.5 452.5 L965.5 450.8 L965.6 449.2 L965.7 447.6 L965.7 446.1 L965.8 444.7 L965.8 443.4 L965.9 442.2 L966.0 441.0 L966.0 440.0 L966.1 438.8 L966.1 437.5 L966.2 436.2 L966.3 434.8 L966.3 433.3 L966.4 431.8 L966.5 430.2 L966.6 428.5 L966.6 426.9 L966.7 425.2 L966.8 423.5 L966.9 421.7 L967.0 419.9 L967.1 418.2 L967.2 416.4 L967.2 414.6 L967.3 412.9 L967.4 411.2 L967.5 409.4 L967.6 407.8 L967.7 406.1 L967.8 404.5 L967.9 402.9 L967.9 401.4 L968.0 400.0 L968.1 398.6 L968.2 397.3 L968.2 396.0 L968.3 394.9 L968.4 393.8 L968.4 392.9 L968.5 392.0 L968.6 390.4 L968.7 388.8 L968.9 387.1 L969.0 385.4 L969.1 383.6 L969.3 381.8 L969.5 380.0 L969.6 378.3 L969.8 376.6 L970.0 374.9 L970.1 373.3 L970.3 371.8 L970.4 370.4 L970.6 369.1 L970.7 367.9 L970.9 366.9 L971.0 366.0 L971.3 364.2 L971.7 362.3 L972.2 360.4 L972.7 358.6 L973.2 356.9 L973.7 355.5 L974.1 354.5 L974.5 354.0 L975.2 354.4 L976.0 355.8 L976.9 357.7 L977.8 359.6 L978.5 361.0 L979.4 362.2 L980.6 363.6 L981.7 365.1 L982.5 367.0 L982.7 367.9 L982.9 369.2 L983.2 370.7 L983.4 372.4 L983.7 374.2 L983.9 376.1 L984.2 378.0 L984.4 379.8 L984.6 381.5 L984.8 382.9 L985.0 384.0 L985.3 385.4 L985.6 386.8 L986.0 388.4 L986.3 390.0 L986.7 391.7 L987.1 393.4 L987.4 395.2 L987.7 397.0 L987.8 397.9 L987.9 399.0 L988.1 400.4 L988.2 401.8 L988.4 403.4 L988.6 405.2 L988.8 407.0 L988.9 408.8 L989.1 410.7 L989.3 412.6 L989.5 414.5 L989.7 416.4 L989.8 418.1 L990.0 419.8 L990.1 421.4 L990.3 422.8 L990.4 424.0 L990.5 425.0 L990.6 426.5 L990.8 428.4 L991.0 430.4 L991.2 432.5 L991.3 434.7 L991.5 436.8 L991.7 438.8 L991.9 440.6 L992.1 442.0 L992.2 443.2 L992.4 443.9 L992.5 444.0 L992.6 443.7 L992.7 443.0 L992.8 442.1 L992.9 440.8 L993.1 439.3 L993.2 437.7 L993.3 435.8 L993.5 433.9 L993.6 431.9 L993.8 430.0 L993.9 428.0 L994.0 426.1 L994.2 424.3 L994.3 422.6 L994.4 421.2 L994.5 420.0 L994.6 418.8 L994.7 417.5 L994.9 416.1 L995.0 414.5 L995.2 412.9 L995.4 411.2 L995.5 409.4 L995.7 407.6 L995.9 405.8 L996.1 404.1 L996.2 402.3 L996.4 400.7 L996.6 399.1 L996.7 397.6 L996.9 396.2 L997.0 395.0 L997.1 393.9 L997.2 392.7 L997.4 391.3 L997.6 389.8 L997.7 388.2 L997.9 386.6 L998.1 384.9 L998.3 383.1 L998.5 381.3 L998.7 379.6 L998.9 377.9 L999.1 376.2 L999.3 374.5 L999.4 373.0 L999.6 371.5 L999.7 370.2 L999.9 369.0 L1000.0 368.0 L1000.2 366.7 L1000.3 365.1 L1000.5 363.5 L1000.7 361.7 L1000.9 359.8 L1001.1 357.9 L1001.4 356.0 L1001.6 354.1 L1001.8 352.4 L1002.0 350.7 L1002.2 349.3 L1002.4 348.1 L1002.6 347.1 L1002.7 346.5 L1004.0 347.0 L1005.5 349.0 L1007.1 350.1 L1008.4 352.0 L1008.6 352.8 L1008.7 353.8 L1008.9 355.0 L1009.1 356.4 L1009.2 358.0 L1009.4 359.7 L1009.6 361.5 L1009.8 363.3 L1009.9 365.2 L1010.1 367.1 L1010.2 369.0 L1010.3 369.8 L1010.3 370.6 L1010.4 371.6 L1010.4 372.7 L1010.5 373.9 L1010.6 375.1 L1010.6 376.5 L1010.7 377.9 L1010.8 379.4 L1010.9 381.0 L1011.0 382.6 L1011.1 384.2 L1011.2 385.9 L1011.3 387.7 L1011.4 389.5 L1011.5 391.2 L1011.5 393.1 L1011.6 394.9 L1011.7 396.7 L1011.8 398.5 L1011.9 400.3 L1012.0 402.1 L1012.1 403.9 L1012.2 405.6 L1012.3 407.3 L1012.4 409.0 L1012.5 410.6 L1012.6 412.2 L1012.6 413.7 L1012.7 415.1 L1012.8 416.5 L1012.9 417.7 L1012.9 418.9 L1013.0 420.0 L1013.1 421.1 L1013.1 422.3 L1013.2 423.6 L1013.3 424.9 L1013.4 426.3 L1013.4 427.8 L1013.5 429.3 L1013.6 430.8 L1013.7 432.4 L1013.8 434.1 L1013.9 435.7 L1014.0 437.4 L1014.1 439.1 L1014.2 440.9 L1014.3 442.6 L1014.4 444.4 L1014.5 446.1 L1014.6 447.9 L1014.7 449.6 L1014.8 451.3 L1014.9 453.0 L1015.0 454.7 L1015.1 456.4 L1015.2 458.0 L1015.3 459.5 L1015.4 461.1 L1015.5 462.5 L1015.6 463.9 L1015.7 465.3 L1015.8 466.6 L1015.9 467.8 L1015.9 468.9 L1016.0 470.0 L1016.1 471.2 L1016.2 472.5 L1016.3 473.9 L1016.4 475.5 L1016.5 477.1 L1016.6 478.9 L1016.7 480.7 L1016.9 482.6 L1017.0 484.5 L1017.1 486.4 L1017.3 488.4 L1017.4 490.4 L1017.5 492.4 L1017.7 494.4 L1017.8 496.4 L1018.0 498.4 L1018.1 500.3 L1018.3 502.1 L1018.4 503.9 L1018.5 505.6 L1018.7 507.2 L1018.8 508.7 L1018.9 510.1 L1019.0 511.3 L1019.1 512.4 L1019.3 513.4 L1019.4 514.2 L1019.4 514.8 L1019.5 515.3 L1019.6 515.5 L1019.7 515.5 L1019.8 515.1 L1019.9 514.4 L1020.0 513.4 L1020.2 512.1 L1020.3 510.6 L1020.4 508.8 L1020.5 506.9 L1020.7 504.9 L1020.8 502.8 L1020.9 500.6 L1021.0 498.4 L1021.1 496.1 L1021.3 493.9 L1021.4 491.8 L1021.5 489.8 L1021.6 487.9 L1021.7 486.2 L1021.7 484.7 L1021.8 483.4 L1021.9 482.4 L1021.9 481.7" fill="none" stroke="#000" stroke-width="5.8" stroke-linejoin="round" stroke-linecap="round"/>
<path d="M97.5 226.1 L97.8 225.7 L98.2 225.9 L98.7 226.4 L99.3 225.9 L99.9 226.2 L100.6 226.1 L101.4 226.4 L102.2 226.4 L103.0 225.6 L103.9 226.2 L104.8 226.3 L105.7 226.0 L106.7 225.8 L107.7 225.9 L108.7 225.8 L109.7 225.8 L110.7 226.0 L111.7 225.8 L112.7 226.3 L113.6 226.2 L114.6 226.7 L115.5 227.3 L116.3 227.7 L117.2 227.1 L118.0 227.0 L118.7 227.5 L119.4 227.5 L120.0 226.8 L120.6 226.4 L121.2 226.6 L121.8 226.7 L122.5 226.4 L123.2 226.2 L124.0 226.8 L124.8 226.1 L125.6 226.9 L126.5 226.5 L127.3 226.8 L128.2 226.8 L129.1 226.7 L130.0 226.4 L130.9 227.3 L131.8 227.5 L132.7 227.2 L133.6 227.1 L134.5 227.4 L135.4 227.2 L136.3 227.0 L137.2 226.3 L138.1 226.8 L138.9 227.1 L139.7 226.1 L140.5 226.1 L141.3 225.6 L142.0 225.5 L142.7 225.7 L143.4 226.0 L144.0 225.8 L144.6 225.5 L145.2 225.5 L145.9 225.3 L146.6 225.2 L147.3 225.8 L148.1 225.0 L148.9 224.8 L149.8 225.2 L150.7 224.8 L151.6 225.5 L152.5 226.0 L153.4 225.3 L154.4 224.9 L155.3 225.7 L156.3 225.8 L157.3 225.2 L158.2 225.0 L159.2 225.0 L160.2 225.4 L161.1 225.6 L162.1 226.1 L163.0 225.6 L163.9 225.7 L164.8 224.7 L165.6 225.3 L166.4 225.4 L167.2 225.8 L168.0 225.3 L168.7 225.3 L169.3 224.6 L169.9 225.0 L170.5 225.3 L171.0 224.4 L171.7 224.5 L172.5 225.4 L173.3 225.2 L174.2 225.1 L175.0 225.4 L175.9 224.5 L176.8 224.2 L177.8 224.9 L178.7 225.3 L179.6 225.8 L180.5 225.3 L181.4 225.5 L182.3 225.8 L183.2 225.7 L184.1 226.2 L184.9 225.6 L185.7 225.0 L186.5 225.6 L187.2 226.5 L187.8 226.9 L188.4 226.6 L189.0 226.3 L189.6 226.4 L190.3 226.6 L191.0 226.8 L191.7 226.8 L192.5 227.9 L193.3 227.8 L194.1 229.1 L194.9 229.3 L195.8 230.0 L196.6 230.0 L197.5 231.1 L198.3 231.0 L199.1 231.2 L199.9 232.0 L200.7 232.1 L201.5 233.0 L202.2 233.6 L202.8 233.7 L203.4 233.5 L204.0 234.2 L204.5 234.4 L205.1 234.7 L205.7 235.4 L206.4 234.9 L207.1 235.7 L207.9 236.0 L208.7 236.6 L209.5 236.5 L210.3 237.0 L211.1 237.8 L211.9 238.2 L212.7 239.6 L213.5 240.1 L214.3 240.1 L215.1 240.4 L215.9 240.6 L216.6 241.8 L217.3 241.4 L217.9 242.3 L218.5 242.5 L219.0 242.9 L219.6 243.6 L220.2 243.2 L220.8 243.0 L221.6 244.0 L222.3 244.1 L223.1 244.6 L223.9 245.6 L224.8 245.8 L225.6 246.5 L226.5 246.4 L227.4 247.2 L228.2 248.0 L229.1 248.4 L229.9 249.1 L230.7 249.6 L231.4 249.4 L232.2 250.1 L232.8 250.1 L233.4 250.0 L234.0 250.1 L234.6 250.9 L235.2 251.2 L236.0 251.0 L236.7 251.5 L237.5 251.1 L238.4 251.8 L239.3 252.1 L240.1 251.6 L241.0 252.3 L242.0 252.1 L242.9 252.3 L243.7 252.3 L244.6 253.4 L245.5 253.6 L246.3 253.2 L247.0 253.7 L247.8 254.6 L248.4 254.9 L249.0 254.4 L249.6 254.5 L250.3 254.9 L251.0 254.7 L251.8 255.5 L252.6 255.3 L253.5 256.2 L254.3 256.0 L255.3 256.3 L256.2 255.6 L257.1 256.1 L258.0 255.9 L258.9 256.8 L259.8 256.8 L260.6 257.3 L261.4 256.8 L262.2 257.7 L262.8 257.8 L263.5 257.6 L264.0 257.6 L264.7 258.5 L265.4 258.9 L266.2 259.0 L267.1 259.3 L268.0 259.4 L268.9 259.6 L269.9 260.0 L270.8 259.9 L271.7 260.0 L272.6 260.4 L273.4 260.6 L274.2 261.2 L274.9 261.8 L275.5 261.6 L276.0 262.2 L276.5 263.1 L276.9 262.9 L277.4 263.1 L278.0 264.2 L278.5 265.6 L279.0 265.9 L279.5 266.7 L280.1 268.0 L280.6 268.6 L281.1 269.2 L281.5 270.3 L281.9 270.9 L282.3 270.6 L282.7 271.3 L283.0 272.0 L283.4 272.0 L283.8 271.4 L284.2 269.9 L284.6 269.8 L285.1 269.1 L285.5 268.2 L286.0 266.8 L286.5 266.1 L287.0 264.8 L287.5 264.2 L288.0 264.3 L288.5 263.9 L289.0 263.4 L289.7 263.9 L290.5 263.9 L291.3 264.1 L292.2 263.9 L293.1 263.6 L294.0 264.2 L295.0 263.9 L295.9 263.2 L296.9 263.4 L297.7 263.1 L298.6 264.1 L299.3 264.1 L300.0 263.6 L300.5 263.5 L301.2 263.6 L301.8 263.8 L302.6 264.1 L303.4 263.7 L304.2 263.2 L305.1 262.5 L306.0 262.3 L306.9 261.7 L307.9 261.8 L308.8 261.3 L309.7 261.3 L310.6 260.6 L311.5 260.3 L312.3 260.7 L313.1 260.6 L313.8 260.5 L314.4 260.5 L315.0 260.5 L315.6 260.1 L316.3 259.8 L317.0 260.7 L317.8 260.6 L318.6 260.9 L319.4 260.9 L320.3 261.3 L321.2 262.0 L322.1 263.0 L323.0 263.5 L323.9 263.5 L324.7 264.4 L325.6 263.6 L326.4 263.7 L327.1 264.3 L327.8 264.2 L328.4 264.1 L329.0 264.6 L329.6 263.8 L330.2 263.4 L330.8 262.8 L331.5 262.9 L332.2 262.5 L333.0 262.7 L333.7 262.2 L334.5 262.1 L335.3 261.3 L336.1 260.6 L336.9 260.2 L337.7 260.4 L338.5 259.2 L339.3 258.7 L340.0 258.8 L340.7 258.4 L341.4 257.8 L342.0 257.9 L342.5 257.6 L343.1 257.0 L343.8 256.6 L344.5 256.8 L345.3 256.9 L346.2 257.0 L347.0 256.1 L347.9 256.5 L348.9 256.7 L349.8 256.4 L350.8 256.4 L351.7 256.6 L352.7 256.6 L353.6 256.1 L354.6 256.7 L355.5 256.3 L356.4 256.3 L357.2 256.4 L358.0 255.8 L358.7 255.8 L359.4 255.6 L360.0 255.9 L360.6 256.1 L361.3 255.9 L362.0 255.5 L362.8 255.5 L363.7 256.1 L364.6 256.8 L365.5 256.7 L366.5 256.6 L367.4 256.0 L368.4 256.3 L369.4 256.2 L370.3 255.4 L371.3 255.9 L372.2 254.9 L373.1 255.9 L374.0 255.1 L374.8 255.8 L375.6 255.5 L376.3 255.5 L377.0 254.9 L377.5 255.0 L378.0 255.2 L378.8 256.0 L379.7 255.2 L380.5 255.0 L381.4 254.2 L382.3 254.2 L383.1 253.9 L384.0 252.7 L384.8 252.4 L385.6 252.4 L386.3 252.1 L386.9 252.2 L387.5 251.2 L388.1 251.1 L388.8 251.3 L389.6 252.4 L390.4 253.3 L391.3 254.0 L392.1 254.3 L393.0 254.6 L393.8 255.7 L394.6 255.7 L395.4 256.9 L396.0 257.3 L396.5 256.4 L397.0 256.7 L397.6 256.5 L398.2 255.9 L398.9 255.7 L399.5 254.9 L400.2 253.9 L400.9 252.9 L401.5 251.9 L402.0 251.1 L402.6 250.3 L403.0 249.8 L403.5 249.7 L403.9 248.4 L404.5 247.8 L405.0 247.3 L405.6 246.0 L406.2 246.3 L406.9 245.1 L407.6 244.1 L408.3 244.4 L409.0 243.2 L409.4 243.6 L409.9 243.1 L410.5 242.7 L411.1 243.2 L411.8 242.2 L412.5 242.8 L413.3 241.8 L414.1 241.0 L415.0 240.6 L415.8 240.8 L416.7 241.1 L417.6 240.3 L418.5 239.8 L419.4 239.2 L420.2 239.0 L421.1 238.2 L421.9 238.1 L422.6 237.9 L423.3 237.5 L424.0 237.7 L424.5 238.1 L425.1 237.6 L425.7 237.2 L426.4 237.2 L427.1 236.2 L427.8 236.3 L428.6 236.1 L429.4 236.6 L430.3 236.1 L431.1 236.0 L432.0 235.5 L432.9 235.9 L433.8 235.4 L434.8 235.0 L435.7 235.0 L436.6 235.4 L437.5 235.2 L438.5 235.6 L439.4 235.5 L440.2 235.4 L441.1 235.5 L441.9 235.1 L442.8 234.9 L443.5 235.0 L444.3 235.0 L445.0 234.4 L445.5 234.5 L446.1 234.3 L446.7 234.4 L447.3 233.6 L448.0 233.6 L448.7 233.8 L449.4 233.3 L450.2 233.1 L451.0 233.8 L451.8 234.0 L452.7 233.6 L453.6 232.5 L454.5 232.4 L455.4 233.0 L456.3 232.5 L457.2 233.1 L458.2 232.2 L459.1 232.5 L460.1 232.2 L461.0 231.8 L462.0 231.8 L462.9 230.8 L463.9 231.5 L464.8 231.5 L465.7 230.9 L466.6 230.7 L467.5 230.5 L468.4 230.4 L469.3 230.8 L470.1 230.3 L470.9 230.7 L471.7 230.3 L472.4 230.4 L473.1 229.6 L473.8 229.7 L474.4 229.9 L475.0 230.2 L475.6 229.5 L476.2 229.0 L476.9 229.0 L477.6 229.4 L478.3 229.3 L479.1 229.3 L479.8 229.5 L480.7 228.9 L481.5 228.9 L482.3 228.1 L483.2 227.9 L484.1 227.9 L485.0 228.0 L485.9 228.0 L486.9 227.8 L487.8 228.5 L488.7 228.4 L489.7 228.4 L490.6 227.3 L491.5 227.1 L492.5 227.1 L493.4 227.0 L494.3 227.4 L495.2 227.7 L496.1 226.8 L497.0 227.2 L497.9 226.6 L498.7 226.3 L499.5 226.6 L500.3 226.3 L501.1 226.5 L501.8 226.7 L502.5 226.5 L503.2 226.7 L503.8 226.2 L504.4 225.9 L505.0 226.1 L505.6 225.1 L506.3 225.5 L507.0 225.5 L507.7 225.2 L508.5 224.8 L509.3 224.5 L510.1 224.0 L510.9 224.5 L511.8 224.8 L512.7 224.6 L513.6 223.3 L514.6 223.5 L515.5 223.4 L516.4 222.8 L517.4 223.5 L518.3 223.0 L519.3 222.8 L520.2 223.2 L521.2 222.8 L522.1 222.8 L523.0 222.7 L523.9 222.7 L524.7 222.7 L525.6 222.7 L526.4 222.1 L527.2 222.4 L527.9 222.3 L528.7 221.9 L529.3 222.0 L530.0 222.3 L530.5 221.0 L531.1 220.7 L531.6 220.7 L532.0 220.6 L532.8 221.5 L533.7 221.5 L534.5 221.5 L535.3 222.1 L536.1 223.4 L536.9 223.7 L537.6 223.3 L538.4 223.6 L539.1 225.2 L539.9 225.9 L540.6 225.3 L541.3 225.3 L542.0 225.9 L542.7 226.5 L543.3 226.6 L544.0 227.0 L544.5 227.0 L545.0 226.5 L545.6 225.8 L546.3 225.9 L547.0 226.4 L547.7 226.5 L548.5 225.6 L549.4 225.1 L550.2 225.2 L551.1 223.9 L552.0 223.7 L552.9 223.3 L553.8 223.3 L554.7 222.8 L555.5 222.5 L556.4 222.6 L557.2 221.7 L558.1 222.2 L558.8 222.0 L559.6 221.4 L560.3 222.6 L560.9 220.6 L561.5 221.5 L562.0 220.5 L562.6 220.7 L563.3 221.9 L564.0 220.3 L564.8 218.3 L565.6 219.6 L566.5 218.3 L567.3 217.5 L568.2 217.2 L569.1 217.2 L570.0 216.4 L570.9 213.7 L571.8 215.8 L572.6 215.1 L573.4 216.6 L574.2 215.0 L574.9 215.2 L575.5 215.6 L576.1 215.7 L576.6 215.5 L577.0 214.6 L577.6 213.7 L578.2 214.6 L578.8 216.4 L579.4 215.3 L579.9 216.6 L580.4 215.4 L581.0 217.3 L581.4 218.0 L581.9 221.0 L582.3 219.6 L582.7 221.6 L583.0 220.8 L583.4 221.1 L583.8 223.5 L584.3 224.1 L584.7 225.3 L585.2 226.2 L585.7 227.7 L586.2 227.3 L586.7 227.2 L587.1 228.8 L587.5 229.4 L587.8 227.8 L587.9 229.5 L588.1 229.0 L588.2 228.8 L588.3 228.0 L588.5 227.6 L588.6 226.8 L588.8 226.0 L588.9 224.7 L589.1 224.0 L589.2 223.4 L589.4 221.8 L589.5 220.9 L589.7 219.6 L589.9 218.9 L590.1 217.9 L590.2 216.7 L590.4 215.2 L590.6 214.5 L590.8 213.2 L590.9 212.5 L591.1 212.0 L591.3 210.5 L591.5 209.7 L591.6 209.1 L591.8 208.2 L592.0 209.1 L592.4 209.4 L593.0 208.9 L593.6 208.4 L594.4 207.4 L595.2 209.1 L596.0 209.8 L596.8 210.5 L597.7 212.1 L598.5 213.2 L599.3 213.3 L599.9 214.2 L600.5 216.5 L601.0 216.9 L601.7 214.2 L602.4 215.5 L603.2 214.5 L604.0 213.4 L604.8 212.3 L605.6 211.1 L606.3 210.6 L607.0 212.9 L607.5 211.0 L608.1 211.3 L608.7 213.9 L609.4 214.3 L610.2 212.3 L611.0 215.1 L611.8 214.9 L612.7 215.8 L613.5 214.4 L614.4 216.3 L615.2 217.1 L616.0 217.4 L616.5 218.3 L617.0 218.2 L617.6 217.2 L618.3 215.5 L619.1 216.1 L619.9 214.3 L620.7 215.5 L621.6 214.9 L622.5 214.6 L623.4 213.8 L624.4 214.6 L625.3 213.8 L626.3 214.4 L627.2 213.4 L628.2 211.2 L629.1 210.6 L629.9 210.0 L630.8 211.7 L631.5 210.8 L632.3 212.2 L632.9 210.8 L633.5 210.3 L634.0 210.0 L634.7 211.6 L635.5 210.0 L636.3 209.8 L637.1 209.4 L637.9 210.3 L638.7 210.7 L639.6 211.2 L640.4 209.6 L641.3 211.5 L642.1 208.9 L642.9 208.8 L643.7 207.6 L644.5 207.8 L645.3 207.5 L646.0 206.7 L646.5 206.6 L647.1 207.0 L647.7 207.3 L648.4 207.3 L649.1 209.3 L649.9 207.7 L650.7 210.0 L651.6 209.6 L652.5 210.8 L653.4 210.7 L654.3 209.5 L655.2 211.1 L656.1 211.9 L657.0 211.0 L657.9 210.6 L658.8 213.5 L659.7 212.5 L660.5 212.1 L661.3 212.7 L662.1 215.0 L662.8 215.0 L663.4 214.5 L664.0 214.9 L664.6 213.7 L665.3 213.9 L666.0 213.2 L666.9 213.6 L667.7 213.8 L668.6 213.8 L669.5 213.5 L670.5 212.8 L671.5 212.4 L672.5 213.3 L673.4 212.5 L674.4 212.8 L675.4 212.1 L676.3 212.6 L677.2 212.3 L678.1 212.4 L678.9 212.6 L679.7 213.2 L680.4 212.8 L681.0 213.5 L681.5 213.5 L682.0 213.6 L682.9 214.3 L683.8 214.2 L684.6 214.2 L685.5 214.3 L686.3 214.6 L687.0 215.2 L687.8 216.1 L688.6 217.1 L689.3 217.1 L690.0 217.1 L690.5 217.3 L691.2 216.4 L692.0 216.3 L692.8 215.8 L693.7 215.7 L694.7 215.3 L695.6 215.4 L696.6 215.5 L697.6 214.8 L698.5 215.5 L699.4 215.3 L700.2 215.5 L700.9 215.9 L701.5 215.3 L702.0 215.5 L702.5 216.0 L702.9 217.1 L703.4 217.8 L703.8 218.4 L704.3 219.2 L704.7 219.4 L705.1 220.3 L705.5 221.0 L705.8 222.0 L706.2 222.9 L706.5 223.8 L706.8 224.7 L707.0 225.7 L707.2 226.4 L707.3 227.3 L707.5 228.3 L707.7 229.5 L707.9 230.7 L708.2 232.1 L708.4 233.5 L708.6 235.1 L708.9 236.7 L709.2 238.4 L709.4 240.1 L709.7 241.8 L709.9 243.6 L710.2 245.4 L710.4 247.2 L710.7 249.0 L710.9 250.8 L711.2 252.5 L711.4 254.2 L711.6 255.9 L711.8 257.5 L712.0 259.0 L712.2 260.4 L712.4 261.8 L712.5 263.0 L712.6 264.0 L712.7 265.1 L712.8 266.3 L713.0 267.5 L713.1 268.8 L713.2 270.2 L713.4 271.7 L713.5 273.2 L713.6 274.7 L713.8 276.3 L713.9 278.0 L714.1 279.6 L714.2 281.3 L714.4 283.1 L714.5 284.8 L714.6 286.5 L714.8 288.3 L714.9 290.0 L715.1 291.8 L715.2 293.5 L715.3 295.2 L715.4 296.9 L715.6 298.5 L715.7 300.2 L715.8 301.7 L715.9 303.3 L716.0 304.7 L716.1 306.2 L716.2 307.5 L716.2 308.8 L716.3 310.0 L716.4 311.0 L716.4 312.1 L716.5 313.3 L716.5 314.5 L716.6 315.9 L716.6 317.2 L716.7 318.7 L716.7 320.2 L716.8 321.7 L716.8 323.3 L716.9 324.9 L716.9 326.6 L717.0 328.2 L717.0 330.0 L717.1 331.7 L717.1 333.5 L717.2 335.2 L717.2 337.0 L717.3 338.8 L717.3 340.6 L717.4 342.3 L717.4 344.1 L717.5 345.9 L717.5 347.6 L717.6 349.3 L717.6 351.0 L717.7 352.7 L717.7 354.3 L717.7 355.9 L717.8 357.4 L717.8 358.9 L717.9 360.4 L717.9 361.7 L717.9 363.1 L717.9 364.3 L718.0 365.5 L718.0 366.6 L718.0 367.7 L718.1 368.9 L718.1 370.2 L718.1 371.5 L718.1 372.9 L718.2 374.4 L718.2 375.9 L718.2 377.4 L718.2 379.0 L718.3 380.7 L718.3 382.4 L718.3 384.1 L718.4 385.8 L718.4 387.6 L718.4 389.4 L718.5 391.2 L718.5 393.0 L718.5 394.8 L718.5 396.6 L718.6 398.3 L718.6 400.1 L718.6 401.9 L718.7 403.6 L718.7 405.3 L718.7 407.0 L718.7 408.7 L718.8 410.3 L718.8 411.8 L718.8 413.3 L718.8 414.8 L718.9 416.2 L718.9 417.5 L718.9 418.8 L718.9 419.9 L719.0 421.1 L719.0 422.1 L719.0 423.0 L719.0 424.4 L719.1 425.9 L719.1 427.4 L719.1 428.9 L719.2 430.5 L719.2 432.2 L719.2 433.8 L719.3 435.5 L719.3 437.2 L719.4 438.9 L719.4 440.6 L719.5 442.3 L719.5 444.0 L719.5 445.7 L719.6 447.3 L719.6 449.0 L719.7 450.5 L719.7 452.1 L719.8 453.6 L719.8 455.0 L719.9 456.4 L719.9 457.7 L720.0 458.9 L720.0 460.0 L720.0 461.1 L720.1 462.3 L720.2 463.6 L720.2 465.0 L720.3 466.5 L720.4 468.1 L720.4 469.7 L720.5 471.4 L720.6 473.1 L720.7 474.8 L720.8 476.6 L720.9 478.3 L721.0 480.1 L721.1 481.9 L721.2 483.6 L721.3 485.3 L721.3 487.0 L721.4 488.6 L721.5 490.1 L721.6 491.6 L721.7 493.0 L721.8 494.3 L721.9 495.5 L721.9 496.6 L722.0 497.6 L722.1 499.0 L722.2 500.5 L722.3 502.2 L722.5 504.0 L722.6 505.9 L722.8 507.8 L722.9 509.8 L723.1 511.8 L723.3 513.7 L723.4 515.6 L723.6 517.4 L723.8 519.0 L724.0 520.6 L724.1 521.9 L724.3 523.0 L724.4 523.9 L724.6 524.5 L724.7 524.8 L724.9 524.6 L725.1 523.6 L725.4 522.1 L725.7 520.0 L726.0 517.7 L726.4 515.2 L726.7 512.7 L727.1 510.3 L727.4 508.1 L727.7 506.4 L728.0 505.2 L728.3 504.7 L728.5 505.0 L728.6 505.4 L728.7 506.0 L728.8 506.7 L728.9 507.6 L729.0 508.6 L729.1 509.7 L729.2 511.0 L729.4 512.4 L729.5 513.8 L729.6 515.4 L729.8 517.1 L729.9 518.8 L730.0 520.6 L730.2 522.4 L730.3 524.3 L730.4 526.2 L730.6 528.1 L730.7 530.1 L730.9 532.0 L731.0 534.0 L731.1 536.0 L731.3 537.9 L731.4 539.8 L731.5 541.7 L731.6 543.5 L731.7 545.2 L731.9 546.9 L732.0 548.5 L732.1 550.0 L732.1 551.5 L732.2 552.8 L732.3 554.0 L732.4 555.0 L732.4 556.1 L732.5 557.3 L732.6 558.6 L732.6 559.9 L732.7 561.3 L732.8 562.7 L732.8 564.2 L732.9 565.7 L733.0 567.2 L733.1 568.9 L733.1 570.5 L733.2 572.2 L733.3 573.9 L733.4 575.6 L733.5 577.3 L733.5 579.0 L733.6 580.8 L733.7 582.5 L733.8 584.3 L733.8 586.1 L733.9 587.8 L734.0 589.5 L734.1 591.2 L734.2 592.9 L734.2 594.6 L734.3 596.2 L734.4 597.8 L734.5 599.4 L734.5 600.9 L734.6 602.4 L734.7 603.8 L734.7 605.2 L734.8 606.5 L734.9 607.7 L734.9 608.9 L735.0 610.0 L735.1 611.1 L735.1 612.3 L735.2 613.5 L735.3 614.8 L735.4 616.2 L735.5 617.6 L735.6 619.1 L735.7 620.6 L735.8 622.1 L735.9 623.7 L736.0 625.4 L736.1 627.0 L736.2 628.7 L736.3 630.4 L736.4 632.1 L736.6 633.9 L736.7 635.6 L736.8 637.4 L736.9 639.2 L737.0 640.9 L737.2 642.7 L737.3 644.4 L737.4 646.1 L737.5 647.9 L737.6 649.5 L737.7 651.2 L737.9 652.8 L738.0 654.4 L738.1 656.0 L738.2 657.5 L738.3 659.0 L738.4 660.4 L738.5 661.8 L738.6 663.1 L738.6 664.3 L738.7 665.5 L738.8 666.6 L738.9 667.7 L739.0 668.9 L739.0 670.2 L739.1 671.5 L739.2 672.9 L739.3 674.3 L739.4 675.9 L739.5 677.4 L739.6 679.0 L739.7 680.7 L739.8 682.4 L739.9 684.1 L740.1 685.8 L740.2 687.6 L740.3 689.3 L740.4 691.1 L740.5 692.9 L740.6 694.7 L740.8 696.5 L740.9 698.3 L741.0 700.1 L741.1 701.9 L741.2 703.6 L741.3 705.3 L741.5 707.0 L741.6 708.6 L741.7 710.2 L741.8 711.8 L741.9 713.3 L742.0 714.8 L742.1 716.2 L742.2 717.5 L742.3 718.8 L742.4 719.9 L742.4 721.0 L742.5 722.1 L742.6 723.0 L742.7 724.4 L742.8 725.9 L743.0 727.6 L743.1 729.3 L743.3 731.1 L743.4 733.0 L743.6 735.0 L743.7 737.0 L743.9 739.0 L744.1 741.0 L744.3 743.0 L744.4 745.0 L744.6 746.9 L744.8 748.8 L745.0 750.6 L745.1 752.3 L745.3 753.9 L745.4 755.3 L745.6 756.6 L745.7 757.8 L745.9 758.8 L746.0 759.5 L746.1 760.1 L746.2 760.4 L746.3 760.5 L746.4 760.3 L746.5 759.9 L746.5 759.3 L746.6 758.5 L746.7 757.5 L746.8 756.4 L746.9 755.0 L747.0 753.6 L747.1 752.0 L747.2 750.3 L747.3 748.5 L747.4 746.6 L747.5 744.7 L747.5 742.7 L747.6 740.7 L747.7 738.7 L747.8 736.7 L747.9 734.7 L748.0 732.7 L748.1 730.8 L748.1 729.0 L748.2 727.2 L748.3 725.5 L748.3 723.9 L748.4 722.5 L748.4 721.2 L748.5 720.0 L748.5 718.9 L748.6 717.8 L748.6 716.5 L748.7 715.2 L748.8 713.8 L748.8 712.3 L748.9 710.8 L748.9 709.3 L749.0 707.7 L749.0 706.0 L749.1 704.4 L749.1 702.7 L749.2 701.0 L749.3 699.3 L749.3 697.5 L749.4 695.8 L749.4 694.1 L749.5 692.4 L749.5 690.8 L749.6 689.1 L749.7 687.5 L749.7 686.0 L749.8 684.4 L749.8 683.0 L749.9 681.6 L749.9 680.2 L750.0 679.0 L750.0 677.8 L750.0 676.8 L750.1 675.6 L750.1 674.4 L750.2 673.2 L750.2 671.8 L750.3 670.4 L750.4 668.9 L750.4 667.4 L750.5 665.9 L750.6 664.2 L750.6 662.6 L750.7 660.9 L750.8 659.2 L750.8 657.5 L750.9 655.8 L751.0 654.0 L751.1 652.3 L751.1 650.5 L751.2 648.8 L751.3 647.0 L751.4 645.3 L751.4 643.6 L751.5 641.9 L751.6 640.3 L751.6 638.7 L751.7 637.1 L751.7 635.6 L751.8 634.2 L751.9 632.8 L751.9 631.5 L752.0 630.2 L752.0 629.0 L752.0 628.0 L752.1 626.9 L752.1 625.7 L752.2 624.4 L752.2 623.1 L752.2 621.7 L752.3 620.3 L752.3 618.8 L752.4 617.3 L752.4 615.7 L752.5 614.1 L752.6 612.4 L752.6 610.8 L752.7 609.1 L752.7 607.3 L752.8 605.6 L752.8 603.8 L752.9 602.1 L752.9 600.3 L753.0 598.5 L753.0 596.8 L753.1 595.0 L753.2 593.3 L753.2 591.6 L753.3 589.9 L753.3 588.2 L753.4 586.5 L753.4 584.9 L753.5 583.4 L753.5 581.8 L753.6 580.4 L753.6 578.9 L753.6 577.5 L753.7 576.2 L753.7 575.0 L753.8 573.8 L753.8 572.7 L753.8 571.6 L753.9 570.4 L753.9 569.2 L754.0 567.9 L754.0 566.5 L754.1 565.1 L754.1 563.6 L754.2 562.1 L754.2 560.5 L754.3 558.9 L754.3 557.3 L754.4 555.6 L754.4 553.9 L754.5 552.2 L754.5 550.5 L754.6 548.7 L754.7 547.0 L754.7 545.2 L754.8 543.5 L754.8 541.7 L754.9 539.9 L755.0 538.2 L755.0 536.5 L755.1 534.7 L755.1 533.1 L755.2 531.4 L755.2 529.8 L755.3 528.2 L755.3 526.6 L755.4 525.1 L755.4 523.6 L755.5 522.2 L755.5 520.8 L755.6 519.5 L755.6 518.3 L755.7 517.1 L755.7 516.0 L755.7 514.9 L755.8 513.7 L755.8 512.5 L755.9 511.1 L755.9 509.7 L756.0 508.3 L756.0 506.8 L756.1 505.2 L756.1 503.6 L756.2 502.0 L756.2 500.3 L756.3 498.6 L756.4 496.9 L756.4 495.1 L756.5 493.4 L756.5 491.6 L756.6 489.8 L756.7 488.0 L756.7 486.2 L756.8 484.5 L756.8 482.7 L756.9 481.0 L757.0 479.2 L757.0 477.5 L757.1 475.9 L757.1 474.2 L757.2 472.6 L757.2 471.1 L757.3 469.6 L757.3 468.2 L757.4 466.8 L757.4 465.5 L757.5 464.2 L757.5 463.0 L757.5 461.9 L757.6 460.9 L757.6 460.0 L757.6 458.6 L757.7 457.2 L757.7 455.7 L757.8 454.1 L757.8 452.5 L757.8 450.9 L757.9 449.2 L757.9 447.5 L757.9 445.8 L758.0 444.1 L758.0 442.4 L758.1 440.7 L758.1 439.0 L758.1 437.3 L758.2 435.7 L758.2 434.1 L758.2 432.5 L758.3 430.9 L758.3 429.5 L758.3 428.0 L758.4 426.7 L758.4 425.4 L758.5 424.1 L758.5 423.0 L758.5 421.9 L758.6 420.6 L758.6 419.3 L758.7 417.8 L758.8 416.2 L758.8 414.6 L758.9 412.8 L759.0 411.1 L759.1 409.2 L759.2 407.4 L759.2 405.5 L759.3 403.7 L759.4 401.8 L759.5 400.0 L759.6 398.2 L759.7 396.4 L759.8 394.7 L759.9 393.1 L760.0 391.6 L760.0 390.2 L760.1 388.9 L760.2 387.7 L760.3 386.6 L760.3 385.7 L760.4 385.0 L760.7 382.9 L761.3 380.7 L761.9 378.9 L762.5 377.5 L762.9 377.0 L763.3 378.0 L763.7 380.4 L764.2 383.0 L764.6 384.9 L765.0 385.0 L765.1 384.5 L765.2 383.6 L765.3 382.5 L765.4 381.2 L765.6 379.6 L765.7 377.9 L765.9 376.1 L766.0 374.2 L766.1 372.2 L766.3 370.2 L766.4 368.2 L766.6 366.3 L766.7 364.5 L766.8 362.8 L766.9 361.3 L767.0 360.0 L767.1 359.0 L767.2 357.8 L767.2 356.5 L767.3 355.0 L767.4 353.5 L767.5 351.9 L767.6 350.2 L767.8 348.5 L767.9 346.8 L768.0 345.0 L768.1 343.2 L768.2 341.5 L768.3 339.8 L768.4 338.1 L768.5 336.5 L768.6 335.0 L768.7 333.5 L768.8 332.2 L768.9 331.0 L769.0 330.0 L769.1 328.7 L769.2 327.3 L769.4 325.7 L769.5 324.0 L769.7 322.3 L769.9 320.5 L770.0 318.7 L770.2 316.9 L770.4 315.1 L770.6 313.3 L770.7 311.6 L770.9 310.0 L771.1 308.5 L771.2 307.2 L771.4 306.0 L771.5 305.0 L771.7 303.4 L772.0 301.6 L772.3 299.7 L772.6 297.7 L773.0 295.8 L773.3 293.9 L773.6 292.3 L774.0 291.0 L774.2 290.0 L774.5 289.6 L774.9 289.8 L775.4 290.8 L775.9 292.3 L776.5 294.3 L777.1 296.3 L777.6 298.3 L778.0 300.0 L778.2 300.9 L778.5 301.9 L778.8 303.1 L779.2 304.4 L779.5 305.8 L779.9 307.3 L780.3 308.9 L780.6 310.6 L781.0 312.3 L781.3 314.1 L781.6 315.9 L781.8 317.8 L782.0 319.6 L782.1 320.4 L782.1 321.3 L782.2 322.2 L782.3 323.3 L782.3 324.4 L782.4 325.6 L782.5 326.9 L782.5 328.3 L782.6 329.7 L782.7 331.1 L782.8 332.7 L782.8 334.2 L782.9 335.8 L783.0 337.5 L783.0 339.1 L783.1 340.9 L783.2 342.6 L783.2 344.3 L783.3 346.1 L783.4 347.9 L783.4 349.7 L783.5 351.5 L783.6 353.3 L783.6 355.0 L783.7 356.8 L783.7 358.6 L783.8 360.3 L783.8 362.0 L783.9 363.7 L783.9 365.3 L783.9 366.9 L784.0 368.5 L784.0 370.0 L784.0 370.9 L784.0 371.8 L784.0 372.8 L784.1 373.8 L784.1 375.0 L784.1 376.1 L784.1 377.4 L784.1 378.7 L784.1 380.0 L784.2 381.4 L784.2 382.9 L784.2 384.4 L784.2 385.9 L784.2 387.5 L784.2 389.1 L784.2 390.8 L784.3 392.5 L784.3 394.2 L784.3 395.9 L784.3 397.7 L784.3 399.5 L784.3 401.3 L784.3 403.1 L784.4 405.0 L784.4 406.8 L784.4 408.7 L784.4 410.6 L784.4 412.5 L784.4 414.3 L784.4 416.2 L784.5 418.1 L784.5 420.0 L784.5 421.8 L784.5 423.7 L784.5 425.5 L784.5 427.4 L784.5 429.2 L784.5 431.0 L784.6 432.7 L784.6 434.5 L784.6 436.2 L784.6 437.9 L784.6 439.5 L784.6 441.1 L784.6 442.7 L784.6 444.2 L784.7 445.7 L784.7 447.2 L784.7 448.6 L784.7 449.9 L784.7 451.2 L784.7 452.4 L784.7 453.6 L784.7 454.7 L784.7 455.8 L784.8 456.8 L784.8 457.7 L784.8 458.5 L784.8 459.3 L784.8 460.0 L784.8 461.8 L784.9 463.5 L784.9 465.3 L785.0 467.0 L785.1 468.6 L785.1 470.2 L785.2 471.8 L785.3 473.3 L785.3 474.8 L785.4 476.2 L785.5 477.6 L785.6 478.9 L785.7 480.2 L785.7 481.4 L785.8 482.5 L785.9 483.6 L785.9 484.9 L786.0 486.3 L786.1 487.8 L786.2 489.4 L786.3 491.0 L786.5 492.8 L786.6 494.5 L786.7 496.3 L786.8 498.0 L787.0 499.7 L787.1 501.4 L787.2 502.9 L787.3 504.4 L787.5 505.8 L787.6 507.0 L787.7 508.1 L787.9 509.2 L788.0 510.5 L788.2 511.9 L788.5 513.3 L788.7 514.8 L788.9 516.3 L789.2 518.0 L789.4 519.6 L789.7 521.3 L789.9 523.0 L790.2 524.7 L790.4 526.5 L790.6 528.2 L790.9 529.9 L791.1 531.6 L791.2 533.3 L791.4 535.0 L791.5 535.9 L791.6 536.8 L791.6 537.9 L791.7 539.0 L791.8 540.3 L791.9 541.6 L792.0 543.0 L792.1 544.5 L792.2 546.0 L792.3 547.7 L792.5 549.3 L792.6 551.0 L792.7 552.8 L792.8 554.5 L792.9 556.4 L793.0 558.2 L793.2 560.0 L793.3 561.9 L793.4 563.8 L793.5 565.6 L793.6 567.5 L793.8 569.3 L793.9 571.2 L794.0 573.0 L794.1 574.8 L794.2 576.5 L794.3 578.2 L794.4 579.8 L794.5 581.4 L794.6 583.0 L794.7 584.4 L794.8 585.8 L794.9 587.1 L795.0 588.4 L795.1 589.5 L795.1 590.6 L795.2 591.5 L795.3 592.9 L795.4 594.3 L795.5 595.8 L795.6 597.3 L795.7 598.9 L795.8 600.6 L795.9 602.2 L796.1 603.9 L796.2 605.6 L796.3 607.4 L796.4 609.1 L796.5 610.8 L796.7 612.5 L796.8 614.2 L796.9 615.8 L797.0 617.5 L797.1 619.0 L797.3 620.5 L797.4 622.0 L797.5 623.4 L797.6 624.7 L797.7 625.9 L797.8 627.0 L797.9 628.1 L798.0 629.0 L798.2 630.5 L798.3 632.1 L798.5 633.9 L798.8 635.9 L799.0 637.9 L799.3 639.9 L799.5 641.9 L799.8 643.9 L800.1 645.8 L800.3 647.6 L800.6 649.2 L800.9 650.6 L801.1 651.8 L801.3 652.6 L801.5 653.2 L801.7 653.4 L801.9 653.2 L802.1 652.6 L802.3 651.8 L802.6 650.6 L802.8 649.2 L803.1 647.6 L803.4 645.8 L803.6 643.9 L803.9 641.9 L804.2 639.9 L804.5 637.9 L804.7 635.9 L804.9 633.9 L805.2 632.1 L805.3 630.5 L805.5 629.0 L805.6 628.1 L805.7 627.0 L805.8 625.9 L805.9 624.7 L806.0 623.4 L806.1 622.0 L806.2 620.5 L806.4 619.0 L806.5 617.5 L806.6 615.8 L806.7 614.2 L806.8 612.5 L807.0 610.8 L807.1 609.1 L807.2 607.4 L807.3 605.6 L807.4 603.9 L807.6 602.2 L807.7 600.6 L807.8 598.9 L807.9 597.3 L808.0 595.8 L808.1 594.3 L808.2 592.9 L808.3 591.5 L808.4 590.6 L808.4 589.5 L808.5 588.4 L808.6 587.2 L808.7 585.9 L808.8 584.6 L808.9 583.2 L809.0 581.7 L809.1 580.2 L809.2 578.6 L809.3 577.0 L809.4 575.3 L809.5 573.6 L809.6 571.9 L809.7 570.1 L809.8 568.3 L810.0 566.5 L810.1 564.7 L810.2 562.9 L810.3 561.1 L810.4 559.3 L810.6 557.5 L810.7 555.7 L810.8 553.9 L810.9 552.2 L811.0 550.4 L811.1 548.8 L811.2 547.1 L811.3 545.5 L811.4 544.0 L811.5 542.5 L811.6 541.1 L811.7 539.7 L811.8 538.4 L811.9 537.2 L811.9 536.1 L812.0 535.0 L812.1 533.8 L812.2 532.6 L812.2 531.3 L812.3 529.9 L812.4 528.5 L812.5 527.0 L812.6 525.5 L812.7 523.9 L812.8 522.3 L812.9 520.6 L813.0 519.0 L813.1 517.3 L813.2 515.6 L813.3 513.8 L813.4 512.1 L813.5 510.4 L813.6 508.6 L813.7 506.9 L813.8 505.2 L813.9 503.5 L814.0 501.8 L814.1 500.1 L814.2 498.5 L814.3 496.9 L814.4 495.4 L814.5 493.9 L814.6 492.4 L814.6 491.0 L814.7 489.7 L814.8 488.4 L814.9 487.2 L814.9 486.0 L815.0 485.0 L815.1 483.9 L815.1 482.6 L815.2 481.3 L815.3 480.0 L815.4 478.5 L815.5 477.1 L815.6 475.6 L815.6 474.0 L815.7 472.4 L815.8 470.7 L815.9 469.1 L816.0 467.4 L816.1 465.7 L816.2 464.0 L816.3 462.3 L816.4 460.6 L816.5 458.9 L816.6 457.2 L816.7 455.5 L816.8 453.9 L816.9 452.3 L817.0 450.7 L817.1 449.2 L817.2 447.7 L817.3 446.2 L817.4 444.8 L817.5 443.5 L817.5 442.3 L817.6 441.1 L817.7 440.0 L817.8 438.9 L817.9 437.7 L818.0 436.4 L818.1 435.0 L818.2 433.6 L818.3 432.1 L818.4 430.5 L818.6 428.9 L818.7 427.2 L818.8 425.5 L819.0 423.7 L819.1 422.0 L819.3 420.2 L819.4 418.4 L819.6 416.6 L819.7 414.8 L819.9 413.1 L820.0 411.3 L820.2 409.6 L820.3 407.9 L820.4 406.3 L820.6 404.7 L820.7 403.2 L820.9 401.7 L821.0 400.3 L821.1 399.0 L821.2 397.8 L821.3 396.6 L821.4 395.6 L821.5 394.7 L821.7 393.2 L821.8 391.6 L822.0 390.0 L822.2 388.2 L822.4 386.4 L822.6 384.6 L822.8 382.7 L823.0 380.9 L823.2 379.1 L823.5 377.3 L823.7 375.6 L823.9 373.9 L824.1 372.4 L824.3 370.9 L824.5 369.6 L824.7 368.4 L824.8 367.4 L825.0 366.6 L825.5 364.4 L826.2 362.2 L827.0 360.1 L827.7 358.4 L828.4 357.3 L829.0 357.0 L829.3 357.6 L829.8 359.1 L830.2 361.1 L830.7 363.4 L831.2 365.7 L831.6 367.8 L832.1 369.4 L832.4 370.2 L832.7 370.0 L832.8 369.5 L832.9 368.8 L833.0 367.9 L833.1 366.7 L833.1 365.3 L833.2 363.8 L833.3 362.1 L833.4 360.4 L833.5 358.5 L833.6 356.5 L833.6 354.6 L833.7 352.5 L833.8 350.5 L833.9 348.6 L834.0 346.6 L834.1 344.8 L834.2 343.0 L834.2 341.4 L834.3 339.9 L834.4 338.6 L834.5 337.4 L834.6 336.5 L834.8 334.9 L835.1 333.3 L835.4 331.7 L835.8 330.0 L836.2 328.5 L836.6 326.9 L837.0 325.3 L837.4 323.8 L837.8 322.4 L838.1 321.0 L838.4 319.6 L838.6 318.6 L838.8 317.3 L839.0 315.9 L839.2 314.4 L839.4 312.7 L839.7 310.9 L839.9 309.1 L840.2 307.2 L840.5 305.4 L840.7 303.5 L841.0 301.8 L841.2 300.1 L841.4 298.6 L841.6 297.2 L841.8 296.0 L842.0 295.0 L842.3 293.5 L842.6 291.9 L843.0 290.1 L843.5 288.3 L843.9 286.6 L844.3 284.9 L844.8 283.3 L845.2 281.9 L845.6 280.8 L845.9 280.0 L847.3 278.1 L849.1 276.9 L850.6 276.4 L852.0 277.1 L853.7 278.6 L855.0 280.0 L855.9 281.4 L857.0 283.4 L858.1 285.2 L859.0 285.8 L859.5 285.1 L860.2 283.5 L861.0 281.5 L861.7 279.6 L862.3 278.1 L862.8 277.4 L863.3 277.8 L864.0 279.0 L864.7 280.6 L865.2 282.6 L865.6 284.5 L865.7 285.2 L865.8 286.1 L865.9 287.1 L866.0 288.3 L866.1 289.6 L866.2 291.0 L866.3 292.6 L866.5 294.2 L866.6 295.9 L866.7 297.6 L866.8 299.4 L867.0 301.2 L867.1 303.1 L867.3 304.9 L867.4 306.8 L867.5 308.6 L867.6 310.4 L867.8 312.2 L867.9 313.9 L868.0 315.5 L868.1 317.0 L868.2 318.4 L868.3 319.8 L868.4 321.0 L868.5 322.0 L868.6 323.2 L868.7 324.6 L868.8 326.1 L869.0 327.7 L869.1 329.4 L869.2 331.1 L869.4 332.9 L869.5 334.8 L869.7 336.6 L869.8 338.5 L870.0 340.3 L870.1 342.1 L870.3 343.9 L870.4 345.6 L870.6 347.2 L870.7 348.7 L870.9 350.0 L871.0 351.3 L871.1 352.4 L871.2 353.3 L871.3 354.0 L871.8 356.3 L872.6 358.6 L873.4 360.1 L874.0 359.6 L874.1 359.0 L874.3 358.1 L874.4 357.0 L874.6 355.7 L874.7 354.1 L874.9 352.4 L875.1 350.6 L875.3 348.7 L875.5 346.7 L875.7 344.7 L875.9 342.7 L876.0 340.7 L876.2 338.8 L876.4 337.0 L876.5 335.4 L876.7 333.9 L876.8 332.6 L876.9 331.5 L877.0 330.1 L877.2 328.4 L877.3 326.6 L877.5 324.7 L877.6 322.7 L877.8 320.7 L877.9 318.7 L878.1 316.8 L878.2 315.1 L878.4 313.6 L878.5 312.4 L878.7 311.4 L878.8 310.8 L879.4 310.6 L880.2 312.0 L881.0 314.2 L881.6 316.4 L881.8 317.3 L881.9 318.6 L882.1 320.2 L882.3 322.0 L882.6 324.0 L882.8 326.2 L883.1 328.4 L883.3 330.6 L883.5 332.7 L883.8 334.6 L884.0 336.4 L884.2 337.9 L884.4 339.0 L884.6 339.7 L884.8 340.0 L885.0 339.8 L885.2 339.1 L885.4 338.0 L885.6 336.6 L885.8 335.0 L886.1 333.1 L886.3 331.1 L886.6 329.0 L886.8 326.8 L887.1 324.7 L887.3 322.7 L887.6 320.7 L887.8 319.0 L888.0 317.6 L888.2 316.4 L888.5 315.1 L888.8 313.6 L889.1 312.0 L889.5 310.3 L890.0 308.5 L890.4 306.8 L890.9 305.0 L891.3 303.3 L891.7 301.7 L892.2 300.2 L892.6 298.8 L892.9 297.7 L893.3 296.5 L893.7 295.2 L894.3 293.6 L894.9 292.0 L895.5 290.3 L896.1 288.6 L896.8 286.9 L897.4 285.3 L898.0 283.9 L898.5 282.6 L899.0 281.6 L899.4 280.8 L900.6 279.2 L902.1 277.8 L903.5 277.0 L904.7 277.0 L905.3 277.6 L906.1 278.7 L906.9 280.1 L907.7 281.7 L908.6 283.4 L909.3 285.0 L909.8 286.4 L910.1 287.4 L910.5 288.8 L910.9 290.4 L911.3 292.1 L911.8 293.9 L912.2 295.7 L912.6 297.4 L912.9 299.0 L913.2 300.4 L913.5 301.4 L913.9 303.1 L914.4 305.3 L914.9 307.5 L915.4 309.4 L915.9 310.6 L916.3 310.8 L916.5 310.3 L916.8 309.2 L917.2 307.6 L917.5 305.8 L917.9 303.8 L918.3 301.7 L918.7 299.6 L919.1 297.7 L919.4 296.0 L919.7 294.8 L920.0 294.0 L922.0 293.7 L923.8 295.8 L924.0 296.7 L924.3 298.1 L924.6 299.9 L925.0 302.0 L925.3 304.1 L925.7 306.3 L926.0 308.4 L926.3 310.2 L926.6 311.6 L926.9 312.5 L927.2 312.7 L927.4 312.3 L927.7 311.5 L927.9 310.3 L928.3 308.7 L928.6 306.9 L928.9 304.9 L929.3 302.8 L929.6 300.7 L930.0 298.7 L930.3 296.8 L930.6 295.1 L930.9 293.7 L931.2 292.6 L931.4 292.0 L932.2 291.8 L933.2 293.3 L934.2 295.5 L935.0 297.7 L935.3 298.6 L935.7 299.8 L936.1 301.2 L936.5 302.8 L937.0 304.5 L937.4 306.2 L937.9 308.0 L938.3 309.7 L938.6 311.3 L938.9 312.7 L939.1 313.7 L939.3 315.0 L939.5 316.4 L939.7 318.0 L939.9 319.7 L940.2 321.4 L940.4 323.3 L940.6 325.1 L940.8 326.9 L941.0 328.8 L941.2 330.5 L941.4 332.1 L941.6 333.6 L941.7 335.0 L941.8 336.1 L941.9 337.5 L942.0 339.0 L942.1 340.7 L942.2 342.5 L942.3 344.4 L942.4 346.4 L942.5 348.5 L942.6 350.5 L942.7 352.5 L942.8 354.4 L942.9 356.3 L943.0 358.0 L943.2 359.5 L943.3 360.9 L943.4 362.0 L943.5 362.8 L943.6 363.4 L944.2 363.6 L945.0 361.9 L945.9 359.4 L946.7 357.1 L947.3 355.9 L948.3 356.3 L949.3 357.7 L950.0 359.6 L950.1 360.3 L950.3 361.3 L950.4 362.5 L950.6 363.8 L950.8 365.3 L950.9 366.9 L951.1 368.6 L951.3 370.4 L951.5 372.2 L951.7 374.1 L951.9 376.0 L952.1 377.9 L952.3 379.8 L952.5 381.6 L952.6 383.3 L952.8 384.9 L952.9 386.4 L953.0 387.8 L953.1 388.8 L953.1 390.0 L953.2 391.4 L953.3 392.9 L953.4 394.5 L953.4 396.2 L953.5 398.0 L953.6 399.8 L953.7 401.7 L953.7 403.6 L953.8 405.6 L953.9 407.5 L954.0 409.5 L954.1 411.4 L954.1 413.2 L954.2 415.0 L954.3 416.7 L954.4 418.3 L954.4 419.8 L954.5 421.2 L954.6 422.4 L954.7 423.5 L954.7 424.3 L954.8 425.0 L956.2 426.0 L957.7 427.0 L957.8 427.7 L958.0 428.6 L958.1 429.8 L958.3 431.1 L958.5 432.6 L958.6 434.2 L958.8 435.9 L959.0 437.7 L959.2 439.5 L959.4 441.4 L959.6 443.3 L959.8 445.2 L959.9 447.0 L960.1 448.8 L960.2 450.5 L960.4 452.1 L960.5 453.5 L960.6 454.5 L960.7 455.7 L960.7 457.1 L960.8 458.7 L960.9 460.4 L961.0 462.3 L961.1 464.2 L961.2 466.3 L961.3 468.4 L961.4 470.5 L961.6 472.7 L961.7 474.8 L961.8 477.0 L961.9 479.1 L962.0 481.1 L962.1 483.0 L962.2 484.9 L962.3 486.6 L962.4 488.1 L962.5 489.5 L962.6 490.7 L962.7 491.7 L962.8 492.4 L962.9 492.9 L962.9 493.1 L963.0 493.0 L963.0 492.7 L963.1 492.3 L963.1 491.7 L963.2 491.0 L963.2 490.1 L963.3 489.1 L963.4 488.0 L963.4 486.8 L963.5 485.4 L963.5 484.0 L963.6 482.4 L963.7 480.8 L963.7 479.1 L963.8 477.3 L963.9 475.4 L963.9 473.5 L964.0 471.6 L964.1 469.6 L964.1 467.6 L964.2 465.6 L964.3 463.6 L964.3 461.5 L964.4 459.5 L964.5 457.5 L964.5 455.4 L964.6 453.5 L964.6 451.5 L964.7 449.6 L964.8 447.8 L964.8 446.0 L964.9 444.2 L964.9 442.6 L965.0 441.0 L965.0 439.5 L965.1 438.2 L965.1 436.9 L965.2 435.7 L965.2 434.7 L965.2 433.5 L965.3 432.2 L965.3 430.8 L965.4 429.3 L965.4 427.8 L965.5 426.3 L965.6 424.7 L965.6 423.0 L965.7 421.3 L965.7 419.6 L965.8 417.9 L965.9 416.1 L965.9 414.4 L966.0 412.6 L966.0 410.8 L966.1 409.1 L966.2 407.3 L966.2 405.6 L966.3 403.9 L966.4 402.2 L966.4 400.6 L966.5 399.0 L966.5 397.5 L966.6 396.0 L966.7 394.6 L966.7 393.2 L966.8 392.0 L966.8 390.8 L966.9 389.7 L966.9 388.7 L967.0 387.8 L967.1 386.3 L967.2 384.7 L967.4 383.0 L967.5 381.3 L967.7 379.5 L967.8 377.6 L968.0 375.8 L968.2 374.0 L968.4 372.2 L968.6 370.4 L968.8 368.7 L968.9 367.1 L969.1 365.5 L969.3 364.1 L969.5 362.7 L969.6 361.5 L969.8 360.5 L969.9 359.6 L970.2 357.7 L970.6 355.8 L971.0 353.8 L971.5 351.9 L972.0 350.2 L972.4 348.8 L972.8 347.9 L973.2 347.4 L973.8 347.8 L974.5 349.0 L975.3 350.9 L976.1 352.9 L976.8 354.7 L977.4 355.9 L978.3 357.1 L979.3 358.3 L980.3 359.8 L981.0 361.5 L981.2 362.4 L981.4 363.5 L981.6 364.9 L981.7 366.5 L981.9 368.2 L982.1 370.0 L982.3 371.9 L982.5 373.7 L982.7 375.4 L982.8 377.0 L983.0 378.4 L983.1 379.4 L983.3 380.6 L983.4 381.9 L983.6 383.3 L983.8 384.9 L984.0 386.5 L984.2 388.2 L984.4 389.9 L984.6 391.7 L984.8 393.5 L985.0 395.2 L985.2 396.9 L985.3 398.5 L985.5 400.1 L985.7 401.5 L985.8 402.8 L985.9 403.8 L986.0 405.0 L986.1 406.4 L986.3 407.9 L986.4 409.5 L986.5 411.2 L986.7 412.9 L986.8 414.7 L987.0 416.6 L987.2 418.5 L987.3 420.3 L987.5 422.2 L987.6 424.0 L987.8 425.8 L987.9 427.4 L988.1 429.0 L988.2 430.4 L988.3 431.8 L988.4 432.9 L988.5 433.9 L988.6 434.7 L988.9 436.9 L989.2 439.5 L989.5 442.0 L989.9 443.9 L990.2 444.7 L990.5 444.0 L990.6 443.5 L990.6 442.7 L990.7 441.8 L990.8 440.6 L990.8 439.3 L990.9 437.8 L991.0 436.3 L991.1 434.5 L991.2 432.7 L991.2 430.9 L991.3 428.9 L991.4 426.9 L991.5 424.9 L991.6 422.9 L991.7 420.9 L991.8 419.0 L991.8 417.1 L991.9 415.2 L992.0 413.5 L992.1 411.8 L992.2 410.3 L992.3 408.9 L992.3 407.7 L992.4 406.6 L992.5 405.3 L992.6 403.8 L992.7 402.3 L992.9 400.7 L993.0 399.0 L993.2 397.3 L993.3 395.6 L993.5 393.8 L993.7 392.0 L993.9 390.3 L994.0 388.5 L994.2 386.8 L994.4 385.2 L994.6 383.6 L994.7 382.2 L994.9 380.8 L995.0 379.5 L995.2 378.4 L995.4 377.2 L995.6 375.7 L995.8 374.0 L996.1 372.2 L996.4 370.3 L996.7 368.3 L997.0 366.3 L997.3 364.2 L997.7 362.2 L998.0 360.3 L998.3 358.5 L998.6 356.8 L998.9 355.3 L999.2 354.1 L999.5 353.1 L999.7 352.4 L999.9 352.0 L1000.2 352.1 L1000.5 352.8 L1000.9 354.0 L1001.3 355.6 L1001.7 357.6 L1002.1 359.7 L1002.5 361.9 L1002.9 364.0 L1003.2 366.0 L1003.5 367.7 L1003.7 369.0 L1003.9 370.3 L1004.1 371.9 L1004.2 373.7 L1004.4 375.7 L1004.6 377.7 L1004.7 379.7 L1004.9 381.6 L1005.0 383.3 L1005.2 384.6 L1005.3 385.5 L1005.5 386.0 L1005.8 385.4 L1006.2 383.3 L1006.7 380.5 L1007.2 377.6 L1007.7 375.2 L1008.1 374.0 L1008.4 374.6 L1008.5 375.1 L1008.5 375.7 L1008.6 376.5 L1008.7 377.5 L1008.7 378.5 L1008.8 379.7 L1008.9 381.0 L1009.0 382.4 L1009.0 383.9 L1009.1 385.5 L1009.2 387.2 L1009.3 388.9 L1009.4 390.7 L1009.4 392.5 L1009.5 394.4 L1009.6 396.2 L1009.7 398.1 L1009.7 400.1 L1009.8 402.0 L1009.9 403.9 L1010.0 405.7 L1010.0 407.6 L1010.1 409.4 L1010.2 411.1 L1010.2 412.8 L1010.3 414.4 L1010.4 416.0 L1010.4 417.4 L1010.5 418.8 L1010.5 420.0 L1010.5 421.0 L1010.6 422.2 L1010.6 423.5 L1010.6 424.9 L1010.7 426.4 L1010.7 428.0 L1010.8 429.7 L1010.8 431.4 L1010.8 433.3 L1010.9 435.2 L1010.9 437.1 L1011.0 439.1 L1011.0 441.1 L1011.1 443.2 L1011.1 445.2 L1011.1 447.3 L1011.2 449.4 L1011.2 451.4 L1011.3 453.4 L1011.3 455.4 L1011.4 457.4 L1011.4 459.3 L1011.5 461.2 L1011.5 463.0 L1011.5 464.7 L1011.6 466.3 L1011.6 467.8 L1011.7 469.3 L1011.7 470.6 L1011.7 471.8 L1011.8 472.8 L1011.8 473.8 L1011.9 474.5 L1011.9 475.2 L1011.9 475.6 L1012.0 475.9 L1012.0 476.0 L1012.0 475.9 L1012.1 475.6 L1012.1 475.2 L1012.2 474.5 L1012.2 473.7 L1012.2 472.8 L1012.3 471.7 L1012.4 470.5 L1012.4 469.2 L1012.5 467.7 L1012.5 466.2 L1012.6 464.5 L1012.6 462.8 L1012.7 461.0 L1012.8 459.1 L1012.8 457.2 L1012.9 455.2 L1012.9 453.2 L1013.0 451.2 L1013.1 449.1 L1013.1 447.0 L1013.2 445.0 L1013.3 442.9 L1013.3 440.8 L1013.4 438.8 L1013.4 436.8 L1013.5 434.9 L1013.6 433.0 L1013.6 431.2 L1013.7 429.4 L1013.7 427.8 L1013.8 426.2 L1013.8 424.7 L1013.9 423.3 L1013.9 422.1 L1014.0 421.0 L1014.0 420.0 L1014.1 418.6 L1014.1 417.1 L1014.2 415.4 L1014.3 413.6 L1014.3 411.7 L1014.4 409.7 L1014.5 407.7 L1014.6 405.6 L1014.7 403.4 L1014.7 401.3 L1014.8 399.1 L1014.9 397.0 L1015.0 394.9 L1015.1 392.9 L1015.2 391.0 L1015.3 389.1 L1015.3 387.4 L1015.4 385.8 L1015.5 384.4 L1015.6 383.1 L1015.7 382.0 L1015.7 381.1 L1015.8 380.4 L1015.9 380.0 L1015.9 379.9 L1016.0 380.0 L1016.0 380.3 L1016.1 380.7 L1016.1 381.4 L1016.2 382.2 L1016.2 383.2 L1016.2 384.3 L1016.3 385.5 L1016.3 386.9 L1016.4 388.4 L1016.4 390.0 L1016.5 391.7 L1016.5 393.5 L1016.6 395.4 L1016.7 397.4 L1016.7 399.4 L1016.8 401.5 L1016.8 403.6 L1016.9 405.7 L1016.9 407.8 L1017.0 410.0 L1017.1 412.2 L1017.1 414.3 L1017.2 416.4 L1017.2 418.5 L1017.3 420.6 L1017.3 422.6 L1017.4 424.6 L1017.5 426.5 L1017.5 428.3 L1017.6 430.0 L1017.6 431.6 L1017.7 433.1 L1017.7 434.5 L1017.8 435.7 L1017.8 436.8 L1017.8 437.8 L1017.9 438.6 L1017.9 439.3 L1018.0 439.7 L1018.0 440.0 L1018.1 440.1 L1018.1 439.9 L1018.2 439.5 L1018.3 438.7 L1018.3 437.8 L1018.4 436.6 L1018.5 435.3 L1018.6 433.7 L1018.6 432.0 L1018.7 430.2 L1018.8 428.3 L1018.9 426.3 L1019.0 424.2 L1019.1 422.0 L1019.2 419.8 L1019.2 417.7 L1019.3 415.5 L1019.4 413.4 L1019.5 411.3 L1019.6 409.3 L1019.7 407.4 L1019.7 405.6 L1019.8 403.9 L1019.9 402.4 L1019.9 401.1 L1020.0 400.0 L1020.1 398.8 L1020.2 397.3 L1020.3 395.7 L1020.4 394.0 L1020.5 392.2 L1020.6 390.3 L1020.7 388.2 L1020.8 386.2 L1021.0 384.1 L1021.1 382.0 L1021.2 380.0 L1021.4 378.0 L1021.5 376.0 L1021.6 374.1 L1021.7 372.4 L1021.8 370.8 L1022.0 369.3 L1022.1 368.0 L1022.1 366.9 L1022.2 366.0 L1022.3 365.4 L1022.4 365.1 L1022.4 365.0 L1022.4 365.2 L1022.5 365.7 L1022.5 366.4 L1022.5 367.4 L1022.5 368.6 L1022.5 369.9 L1022.5 371.4 L1022.5 373.1 L1022.5 374.9 L1022.5 376.8 L1022.5 378.8 L1022.5 380.8 L1022.5 382.9 L1022.5 385.0 L1022.5 387.2 L1022.5 389.3 L1022.5 391.4 L1022.5 393.4 L1022.5 395.4 L1022.4 397.2 L1022.4 399.0 L1022.4 400.6 L1022.4 402.1 L1022.4 403.4 L1022.4 404.5 L1022.4 405.3 L1022.4 406.0" fill="none" stroke="#ff0000" stroke-width="5.8" stroke-linejoin="round" stroke-linecap="round"/>
<path d="M97.5 232.4 L97.8 232.1 L98.2 233.1 L98.7 231.8 L99.3 232.4 L99.9 233.1 L100.6 232.0 L101.4 233.5 L102.2 234.0 L103.0 233.3 L103.9 233.4 L104.8 233.4 L105.7 234.7 L106.7 233.7 L107.7 234.1 L108.7 233.1 L109.7 233.1 L110.7 233.2 L111.7 231.6 L112.7 232.7 L113.6 231.7 L114.6 232.3 L115.5 231.8 L116.3 231.2 L117.2 232.1 L118.0 232.4 L118.7 231.0 L119.4 232.2 L120.0 232.6 L120.6 230.8 L121.2 230.1 L121.8 231.8 L122.5 231.5 L123.2 230.6 L124.0 230.3 L124.8 230.4 L125.6 230.6 L126.5 231.5 L127.3 230.7 L128.2 231.0 L129.1 231.7 L130.0 231.1 L130.9 230.1 L131.8 229.8 L132.7 231.1 L133.6 230.8 L134.5 232.1 L135.4 231.5 L136.3 232.5 L137.2 233.2 L138.1 232.9 L138.9 231.9 L139.7 230.0 L140.5 231.2 L141.3 230.7 L142.0 232.3 L142.7 231.5 L143.4 229.7 L144.0 229.0 L144.6 229.8 L145.2 230.7 L145.9 230.7 L146.6 229.8 L147.3 230.5 L148.1 232.3 L148.9 230.3 L149.8 230.9 L150.7 229.0 L151.6 228.8 L152.5 230.7 L153.4 229.6 L154.4 230.4 L155.3 229.7 L156.3 230.2 L157.3 229.3 L158.2 228.6 L159.2 227.8 L160.2 228.5 L161.1 229.0 L162.1 227.6 L163.0 227.5 L163.9 227.7 L164.8 228.6 L165.6 228.3 L166.4 229.2 L167.2 228.2 L168.0 227.9 L168.7 229.1 L169.3 227.7 L169.9 227.8 L170.5 228.7 L171.0 227.5 L171.7 227.1 L172.5 228.7 L173.3 228.8 L174.2 229.9 L175.0 230.5 L175.9 229.5 L176.8 230.5 L177.8 229.8 L178.7 228.9 L179.6 228.6 L180.5 229.6 L181.4 231.1 L182.3 230.7 L183.2 229.9 L184.1 228.6 L184.9 230.6 L185.7 231.1 L186.5 230.3 L187.2 230.6 L187.8 231.3 L188.4 231.5 L189.0 231.0 L189.6 231.9 L190.2 233.0 L190.9 232.3 L191.6 233.2 L192.3 232.2 L193.0 232.4 L193.8 231.3 L194.6 232.7 L195.4 232.5 L196.2 233.0 L197.0 233.3 L197.8 234.1 L198.6 235.4 L199.4 236.2 L200.2 238.0 L200.9 239.0 L201.6 238.5 L202.3 239.8 L202.9 240.3 L203.5 240.8 L204.0 240.8 L204.5 240.0 L205.0 239.0 L205.6 241.1 L206.2 240.6 L206.8 242.3 L207.5 242.8 L208.2 242.3 L208.9 243.3 L209.6 244.0 L210.4 244.6 L211.1 243.8 L211.9 246.3 L212.6 247.4 L213.4 248.5 L214.1 248.5 L214.8 249.5 L215.5 250.3 L216.2 250.8 L216.8 250.4 L217.4 250.4 L218.0 251.9 L218.5 251.7 L219.0 251.3 L219.5 251.9 L220.1 251.6 L220.7 252.9 L221.3 253.1 L222.0 252.9 L222.7 254.1 L223.4 253.7 L224.2 253.6 L224.9 254.0 L225.7 255.3 L226.5 255.1 L227.3 256.7 L228.1 256.7 L228.8 256.6 L229.6 258.0 L230.3 258.2 L231.0 259.5 L231.7 259.4 L232.3 261.2 L232.9 260.7 L233.5 260.9 L234.0 263.0 L234.5 263.0 L235.1 263.9 L235.7 263.6 L236.4 265.0 L237.1 264.5 L237.9 263.6 L238.7 263.8 L239.5 264.7 L240.3 265.1 L241.1 264.9 L241.9 266.3 L242.7 266.0 L243.5 266.6 L244.3 266.4 L245.1 267.1 L245.9 267.3 L246.6 269.0 L247.3 267.9 L247.9 268.2 L248.5 267.6 L249.0 268.6 L249.6 269.8 L250.2 268.1 L250.9 269.3 L251.6 269.7 L252.4 270.0 L253.2 270.5 L254.0 270.6 L254.9 270.8 L255.8 272.5 L256.6 274.4 L257.5 274.3 L258.4 273.6 L259.2 273.7 L260.0 273.4 L260.8 275.2 L261.6 274.1 L262.3 274.7 L262.9 276.4 L263.5 276.0 L264.0 276.3 L264.7 276.1 L265.4 277.2 L266.3 278.2 L267.2 278.5 L268.1 278.8 L269.0 277.7 L270.0 277.9 L271.0 278.9 L271.9 279.2 L272.8 278.0 L273.6 278.7 L274.3 279.1 L275.0 278.4 L275.6 279.1 L276.0 279.3 L276.5 280.4 L276.9 281.2 L277.3 281.8 L277.7 280.8 L278.1 283.1 L278.4 284.1 L278.7 284.7 L279.0 285.4 L279.3 286.6 L279.6 287.8 L279.8 288.3 L280.0 288.7 L280.1 289.4 L280.2 289.9 L280.3 290.4 L280.5 291.5 L280.6 292.4 L280.7 293.5 L280.8 294.9 L280.9 296.0 L281.1 296.8 L281.2 298.2 L281.3 298.7 L281.5 299.7 L281.6 301.3 L281.7 302.3 L281.8 303.0 L281.9 303.9 L282.1 305.1 L282.2 306.0 L282.3 306.3 L282.4 306.7 L282.5 307.2 L282.6 306.9 L282.7 305.3 L282.8 306.1 L282.9 305.7 L283.1 305.8 L283.2 305.1 L283.4 304.3 L283.5 303.4 L283.7 302.1 L283.9 300.8 L284.1 300.1 L284.2 299.3 L284.4 297.8 L284.6 296.8 L284.8 295.9 L284.9 294.9 L285.1 293.4 L285.3 292.3 L285.4 291.1 L285.6 290.2 L285.7 290.1 L285.9 289.2 L286.0 288.8 L286.3 287.8 L286.6 287.0 L287.0 285.1 L287.4 285.0 L287.9 285.3 L288.5 285.7 L289.2 285.0 L290.0 284.6 L290.4 284.1 L290.9 284.9 L291.5 284.5 L292.2 284.0 L293.0 283.8 L293.9 283.3 L294.8 284.4 L295.7 283.6 L296.7 284.3 L297.6 284.6 L298.6 282.9 L299.6 283.8 L300.6 285.3 L301.5 284.8 L302.4 284.5 L303.3 284.9 L304.1 284.2 L304.8 284.8 L305.5 283.0 L306.0 283.5 L306.7 283.5 L307.5 283.6 L308.3 282.9 L309.2 282.0 L310.1 283.9 L311.1 282.4 L312.0 284.1 L312.9 282.7 L313.9 283.7 L314.7 283.4 L315.6 282.2 L316.3 282.8 L317.0 283.2 L317.5 283.8 L318.0 285.3 L318.5 285.2 L319.1 284.5 L319.6 284.1 L320.1 285.5 L320.5 285.5 L321.0 286.9 L321.4 287.9 L321.9 288.9 L322.3 290.0 L322.6 288.6 L323.0 288.4 L323.4 289.9 L324.0 290.7 L324.6 292.0 L325.3 292.2 L326.0 292.8 L326.7 293.6 L327.3 296.1 L328.0 296.6 L328.5 295.5 L329.0 295.2 L329.4 295.7 L329.8 295.2 L330.3 294.3 L330.8 294.9 L331.3 293.1 L331.8 294.3 L332.4 292.3 L332.9 290.7 L333.5 290.3 L334.0 291.0 L334.5 288.8 L335.0 288.9 L335.4 287.7 L335.9 286.9 L336.5 285.9 L337.2 286.1 L337.9 287.4 L338.6 286.8 L339.4 285.8 L340.2 284.8 L341.0 283.9 L341.8 285.0 L342.6 285.0 L343.4 282.8 L344.1 281.8 L344.8 282.8 L345.4 283.6 L345.9 281.5 L346.5 281.0 L347.2 282.3 L348.0 281.9 L348.8 281.9 L349.6 281.6 L350.5 281.9 L351.4 281.8 L352.4 281.3 L353.3 279.3 L354.2 279.8 L355.2 279.1 L356.1 280.1 L357.0 279.4 L357.8 278.0 L358.6 278.0 L359.3 279.7 L360.0 279.0 L360.6 277.6 L361.2 278.9 L361.9 277.9 L362.7 277.9 L363.5 278.2 L364.4 278.6 L365.3 278.3 L366.3 277.3 L367.3 276.9 L368.2 278.8 L369.2 278.0 L370.2 277.3 L371.2 277.6 L372.1 276.6 L373.1 276.6 L373.9 276.7 L374.8 276.6 L375.6 276.3 L376.3 277.6 L376.9 276.2 L377.5 275.8 L378.0 276.5 L378.8 275.6 L379.7 276.7 L380.5 276.2 L381.4 276.3 L382.3 275.7 L383.1 273.5 L384.0 274.2 L384.8 274.3 L385.6 273.9 L386.3 273.4 L386.9 273.7 L387.5 273.4 L388.2 274.4 L388.9 274.6 L389.8 275.7 L390.7 275.6 L391.7 277.0 L392.6 278.5 L393.5 278.2 L394.4 279.0 L395.2 276.8 L395.9 275.9 L396.5 277.7 L397.1 277.6 L397.7 277.5 L398.4 275.5 L399.2 274.9 L399.9 275.8 L400.6 274.4 L401.3 273.5 L402.0 272.8 L402.5 273.6 L403.0 272.7 L403.5 271.3 L404.1 271.9 L404.7 271.7 L405.4 269.5 L406.1 268.3 L406.8 268.5 L407.4 268.2 L408.0 266.1 L408.5 267.4 L409.0 267.7 L409.6 267.2 L410.2 265.2 L410.9 265.0 L411.6 264.8 L412.4 263.0 L413.2 262.5 L414.1 263.1 L415.0 262.3 L415.4 260.9 L415.8 263.1 L416.3 264.3 L416.9 263.8 L417.5 262.9 L418.2 263.9 L418.9 262.1 L419.6 261.5 L420.4 262.2 L421.3 260.9 L422.1 259.7 L423.0 259.7 L423.8 259.5 L424.7 258.5 L425.6 259.3 L426.5 257.6 L427.4 257.3 L428.3 256.6 L429.2 255.8 L430.1 256.0 L431.0 256.5 L431.8 254.7 L432.6 255.2 L433.4 255.6 L434.1 255.1 L434.8 254.8 L435.4 253.7 L436.0 255.5 L436.6 256.1 L437.2 255.1 L437.8 254.5 L438.5 253.8 L439.3 253.5 L440.0 252.1 L440.9 253.7 L441.7 251.9 L442.6 253.1 L443.5 253.4 L444.4 253.9 L445.3 252.3 L446.2 252.5 L447.2 253.0 L448.1 252.1 L449.1 252.1 L450.0 251.3 L450.9 251.4 L451.9 251.1 L452.8 251.3 L453.6 251.5 L454.5 251.3 L455.3 251.3 L456.1 251.1 L456.9 250.1 L457.6 249.2 L458.3 251.1 L458.9 250.3 L459.5 249.4 L460.0 248.4 L460.7 250.5 L461.3 248.8 L462.1 248.3 L462.8 248.4 L463.6 249.2 L464.4 248.8 L465.2 248.4 L466.0 248.0 L466.9 247.6 L467.7 249.1 L468.6 248.5 L469.4 248.9 L470.3 248.5 L471.1 248.3 L472.0 247.8 L472.8 248.8 L473.6 247.1 L474.4 247.1 L475.2 246.5 L475.9 246.4 L476.7 245.1 L477.3 246.2 L478.0 246.5 L478.5 247.0 L479.1 246.1 L479.7 246.5 L480.4 245.2 L481.1 246.1 L481.9 245.8 L482.7 245.6 L483.5 243.5 L484.4 244.3 L485.2 244.2 L486.1 243.1 L487.1 243.6 L488.0 244.1 L488.9 244.2 L489.9 243.0 L490.8 242.0 L491.8 241.9 L492.7 242.4 L493.6 242.2 L494.5 241.5 L495.4 243.0 L496.3 243.8 L497.1 243.2 L498.0 243.3 L498.7 241.2 L499.5 241.6 L500.2 240.6 L500.8 241.3 L501.4 241.4 L502.0 240.6 L502.6 240.8 L503.3 240.7 L503.9 241.4 L504.7 240.8 L505.4 241.8 L506.2 240.5 L507.0 239.8 L507.8 240.5 L508.7 240.9 L509.6 240.2 L510.4 238.3 L511.3 239.4 L512.2 238.5 L513.1 239.0 L514.0 237.1 L514.8 238.4 L515.7 237.9 L516.5 238.4 L517.4 236.8 L518.2 237.8 L519.0 237.2 L519.7 235.8 L520.5 237.2 L521.2 236.2 L521.8 235.9 L522.4 235.0 L523.0 235.5 L523.6 235.3 L524.2 236.8 L524.9 236.9 L525.7 236.6 L526.5 236.7 L527.3 236.0 L528.1 237.1 L529.0 237.7 L529.9 238.2 L530.8 238.2 L531.8 237.6 L532.7 237.9 L533.6 237.0 L534.6 238.7 L535.5 238.5 L536.4 239.2 L537.3 240.0 L538.2 239.1 L539.1 238.0 L539.9 237.8 L540.7 238.1 L541.5 239.3 L542.2 237.8 L542.8 237.7 L543.4 238.3 L544.0 237.8 L544.6 237.5 L545.2 237.7 L545.9 236.0 L546.6 236.1 L547.4 237.0 L548.2 237.4 L549.0 237.0 L549.8 236.2 L550.7 234.3 L551.5 236.4 L552.4 234.5 L553.3 234.4 L554.1 235.5 L555.0 235.6 L555.8 235.7 L556.6 234.6 L557.4 233.2 L558.2 234.0 L558.9 234.5 L559.6 234.3 L560.3 233.9 L560.9 230.7 L561.5 233.4 L562.0 234.0 L562.6 232.7 L563.2 230.6 L563.9 231.9 L564.7 231.4 L565.4 228.3 L566.2 228.2 L567.1 227.4 L567.9 226.5 L568.7 228.5 L569.6 226.7 L570.4 228.0 L571.3 229.4 L572.1 227.9 L572.9 227.6 L573.6 225.4 L574.3 224.8 L575.0 222.6 L575.6 221.5 L576.1 221.9 L576.6 224.7 L577.0 222.1 L577.8 225.7 L578.6 225.8 L579.3 221.4 L580.1 218.9 L580.7 218.3 L581.4 221.5 L582.0 218.8 L582.5 219.7 L583.0 217.7 L583.3 216.2 L583.7 217.2 L584.2 221.1 L584.6 221.7 L585.1 217.5 L585.6 213.6 L586.1 210.4 L586.6 209.0 L587.1 209.5 L587.6 208.7 L588.0 210.0 L588.4 210.5 L588.7 208.3 L589.0 210.2 L589.2 212.7 L589.5 211.7 L589.8 211.7 L590.1 212.9 L590.5 213.2 L590.8 214.3 L591.2 216.2 L591.5 216.7 L591.9 218.3 L592.2 219.8 L592.6 220.2 L593.0 220.4 L593.3 219.5 L593.7 219.2 L594.0 218.1 L594.5 219.7 L595.2 220.7 L596.0 222.6 L596.9 221.4 L597.8 223.2 L598.8 222.3 L599.8 222.7 L600.8 224.2 L601.8 225.9 L602.6 225.9 L603.4 223.2 L604.0 223.8 L604.7 224.3 L605.4 226.6 L606.3 228.4 L607.2 227.5 L608.1 228.8 L609.0 227.7 L609.9 226.0 L610.8 225.0 L611.6 225.9 L612.4 224.4 L613.0 226.2 L613.5 223.8 L614.1 227.8 L614.8 226.2 L615.6 224.1 L616.3 221.3 L617.1 223.6 L617.9 221.7 L618.7 223.2 L619.5 220.9 L620.2 219.3 L620.9 219.4 L621.5 218.5 L622.0 217.2 L622.4 215.6 L622.8 216.9 L623.3 216.0 L623.8 214.3 L624.4 213.3 L624.9 212.9 L625.5 213.7 L626.1 213.3 L626.7 213.4 L627.2 211.7 L627.8 213.3 L628.3 213.0 L628.8 209.6 L629.2 207.0 L629.6 207.2 L630.0 210.4 L630.3 210.8 L630.6 209.5 L630.9 211.8 L631.3 212.4 L631.6 212.9 L632.0 214.0 L632.4 214.7 L632.8 215.0 L633.2 217.0 L633.6 217.0 L634.0 218.5 L634.4 220.6 L634.8 220.9 L635.1 222.8 L635.5 223.9 L635.9 224.4 L636.2 228.0 L636.5 228.2 L636.8 228.7 L637.0 229.2 L637.4 228.7 L637.8 229.0 L638.3 224.2 L638.8 223.6 L639.3 221.4 L639.8 219.3 L640.3 219.2 L640.8 222.0 L641.4 218.2 L641.9 220.4 L642.5 221.8 L643.0 217.5 L643.4 216.6 L643.9 217.8 L644.4 220.3 L645.0 223.6 L645.6 222.4 L646.3 225.4 L647.1 223.7 L647.8 224.9 L648.6 223.1 L649.4 222.6 L650.2 223.7 L651.0 225.4 L651.7 224.2 L652.5 225.8 L653.2 224.5 L653.8 226.9 L654.4 228.3 L655.0 227.9 L655.6 225.4 L656.2 228.5 L656.9 228.2 L657.7 231.1 L658.6 227.6 L659.4 226.1 L660.3 227.1 L661.3 230.2 L662.2 229.3 L663.2 226.6 L664.2 225.3 L665.1 227.4 L666.0 227.1 L666.9 225.9 L667.8 226.3 L668.6 225.2 L669.3 227.4 L670.0 226.2 L670.6 225.9 L671.2 225.9 L671.9 226.0 L672.7 226.3 L673.5 227.7 L674.4 226.5 L675.3 226.4 L676.2 227.9 L677.2 227.3 L678.2 227.8 L679.2 227.5 L680.1 227.0 L681.1 227.1 L682.0 228.5 L683.0 227.1 L683.9 229.3 L684.7 229.5 L685.5 229.1 L686.2 229.0 L686.9 230.1 L687.5 229.8 L688.0 231.3 L688.8 231.1 L689.6 230.6 L690.5 229.7 L691.4 228.8 L692.4 230.0 L693.3 230.0 L694.2 230.1 L695.2 230.2 L696.0 232.0 L696.9 232.0 L697.6 232.8 L698.3 232.6 L698.9 230.4 L699.4 230.1 L700.0 230.0 L700.5 231.4 L701.1 231.6 L701.7 233.9 L702.3 234.2 L702.9 234.8 L703.5 236.7 L703.9 236.2 L704.4 237.0 L704.7 238.2 L705.0 239.4 L705.1 239.7 L705.2 239.8 L705.2 240.2 L705.3 240.9 L705.4 241.2 L705.5 241.9 L705.6 242.4 L705.7 243.2 L705.8 244.2 L705.9 244.9 L706.0 245.6 L706.1 246.1 L706.2 246.9 L706.3 247.7 L706.3 248.6 L706.4 249.5 L706.5 250.3 L706.6 251.3 L706.7 252.2 L706.8 253.1 L706.9 254.1 L707.0 255.0 L707.1 256.0 L707.2 257.0 L707.3 257.9 L707.4 258.9 L707.5 259.9 L707.6 260.8 L707.7 261.8 L707.8 262.7 L707.9 263.7 L708.0 264.6 L708.1 265.5 L708.2 266.4 L708.3 267.3 L708.3 268.1 L708.4 268.9 L708.5 269.8 L708.6 270.5 L708.7 271.3 L708.7 272.0 L708.8 272.7 L708.9 273.7 L709.0 274.8 L709.1 276.0 L709.3 277.3 L709.4 278.7 L709.5 280.2 L709.7 281.7 L709.8 283.3 L710.0 285.0 L710.2 286.8 L710.3 288.5 L710.5 290.3 L710.7 292.2 L710.8 294.0 L711.0 295.9 L711.2 297.7 L711.4 299.6 L711.6 301.4 L711.7 303.2 L711.9 305.0 L712.1 306.7 L712.2 308.4 L712.4 310.0 L712.6 311.5 L712.7 313.0 L712.9 314.3 L713.0 315.6 L713.1 316.8 L713.3 317.9 L713.4 318.8 L713.5 319.6 L713.8 321.4 L714.2 323.1 L714.5 324.7 L715.0 326.2 L715.4 327.6 L715.9 329.0 L716.3 330.4 L716.7 331.8 L717.2 333.3 L717.5 334.9 L717.9 336.6 L718.2 338.4 L718.3 339.2 L718.4 340.1 L718.6 341.2 L718.7 342.3 L718.8 343.5 L719.0 344.9 L719.1 346.3 L719.3 347.7 L719.4 349.3 L719.6 350.9 L719.8 352.6 L719.9 354.3 L720.1 356.0 L720.3 357.8 L720.5 359.6 L720.6 361.4 L720.8 363.2 L721.0 365.0 L721.2 366.8 L721.3 368.6 L721.5 370.3 L721.7 372.1 L721.8 373.8 L722.0 375.4 L722.1 377.0 L722.3 378.5 L722.4 380.0 L722.5 381.4 L722.7 382.7 L722.8 383.9 L722.9 385.0 L723.0 386.1 L723.1 387.3 L723.3 388.6 L723.4 390.0 L723.5 391.4 L723.7 392.9 L723.8 394.5 L724.0 396.1 L724.1 397.8 L724.3 399.5 L724.5 401.3 L724.7 403.0 L724.8 404.8 L725.0 406.6 L725.2 408.4 L725.4 410.2 L725.5 412.0 L725.7 413.8 L725.9 415.5 L726.0 417.2 L726.2 418.9 L726.4 420.5 L726.5 422.1 L726.7 423.6 L726.8 425.1 L727.0 426.5 L727.1 427.8 L727.3 429.0 L727.4 430.1 L727.5 431.1 L727.6 432.0 L727.8 433.5 L728.0 435.0 L728.2 436.5 L728.5 438.1 L728.7 439.6 L729.0 441.2 L729.3 442.8 L729.6 444.4 L729.9 446.0 L730.2 447.6 L730.4 449.2 L730.7 450.8 L731.0 452.4 L731.2 453.9 L731.4 455.5 L731.7 457.0 L731.8 458.5 L732.0 460.0 L732.1 460.9 L732.2 461.9 L732.3 463.0 L732.4 464.2 L732.5 465.5 L732.6 466.9 L732.7 468.4 L732.8 469.9 L732.9 471.5 L733.0 473.1 L733.1 474.8 L733.2 476.5 L733.3 478.2 L733.4 480.0 L733.5 481.8 L733.6 483.6 L733.7 485.4 L733.8 487.2 L733.9 489.0 L734.0 490.7 L734.1 492.5 L734.2 494.2 L734.3 495.8 L734.4 497.5 L734.5 499.1 L734.6 500.6 L734.7 502.0 L734.8 503.4 L734.9 504.7 L734.9 505.9 L735.0 507.0 L735.1 508.1 L735.1 509.3 L735.2 510.5 L735.3 511.8 L735.4 513.2 L735.5 514.7 L735.6 516.1 L735.7 517.7 L735.8 519.2 L735.9 520.8 L736.0 522.5 L736.1 524.1 L736.2 525.8 L736.3 527.5 L736.4 529.2 L736.5 531.0 L736.6 532.7 L736.7 534.4 L736.8 536.1 L736.9 537.8 L737.0 539.5 L737.1 541.1 L737.2 542.7 L737.3 544.3 L737.4 545.9 L737.5 547.4 L737.6 548.8 L737.7 550.2 L737.8 551.5 L737.8 552.8 L737.9 554.0 L738.0 555.0 L738.0 556.1 L738.1 557.3 L738.1 558.5 L738.2 559.8 L738.3 561.2 L738.4 562.6 L738.4 564.1 L738.5 565.6 L738.6 567.1 L738.7 568.8 L738.7 570.4 L738.8 572.1 L738.9 573.7 L739.0 575.5 L739.1 577.2 L739.2 578.9 L739.3 580.7 L739.3 582.5 L739.4 584.2 L739.5 586.0 L739.6 587.7 L739.7 589.5 L739.8 591.2 L739.9 592.9 L739.9 594.5 L740.0 596.2 L740.1 597.8 L740.2 599.4 L740.3 600.9 L740.3 602.4 L740.4 603.8 L740.5 605.2 L740.5 606.5 L740.6 607.7 L740.6 608.9 L740.7 610.0 L740.8 611.1 L740.8 612.3 L740.9 613.5 L740.9 614.9 L741.0 616.2 L741.1 617.7 L741.2 619.2 L741.2 620.7 L741.3 622.3 L741.4 623.9 L741.5 625.6 L741.6 627.3 L741.7 629.0 L741.7 630.7 L741.8 632.5 L741.9 634.2 L742.0 636.0 L742.1 637.8 L742.2 639.6 L742.3 641.4 L742.4 643.1 L742.4 644.9 L742.5 646.6 L742.6 648.3 L742.7 650.0 L742.8 651.7 L742.9 653.3 L742.9 654.9 L743.0 656.4 L743.1 657.9 L743.2 659.4 L743.2 660.7 L743.3 662.1 L743.3 663.3 L743.4 664.5 L743.5 665.6 L743.5 666.6 L743.6 667.8 L743.6 669.1 L743.7 670.5 L743.7 671.9 L743.8 673.4 L743.9 675.0 L743.9 676.6 L744.0 678.2 L744.1 679.9 L744.1 681.6 L744.2 683.3 L744.3 685.1 L744.3 686.9 L744.4 688.6 L744.5 690.4 L744.5 692.2 L744.6 693.9 L744.7 695.7 L744.7 697.4 L744.8 699.0 L744.9 700.7 L744.9 702.3 L745.0 703.8 L745.1 705.3 L745.1 706.7 L745.2 708.0 L745.2 709.3 L745.3 710.5 L745.3 711.6 L745.4 712.6 L745.4 713.5 L745.5 715.1 L745.5 716.8 L745.6 718.7 L745.7 720.7 L745.8 722.8 L745.9 725.0 L746.0 727.1 L746.1 729.2 L746.1 731.3 L746.2 733.3 L746.3 735.1 L746.4 736.8 L746.5 738.3 L746.6 739.6 L746.7 740.6 L746.8 741.3 L746.8 741.7 L746.9 741.7 L747.0 741.4 L747.0 740.9 L747.1 740.2 L747.2 739.2 L747.2 738.0 L747.3 736.7 L747.4 735.2 L747.5 733.6 L747.6 731.9 L747.7 730.0 L747.8 728.1 L747.9 726.1 L748.0 724.1 L748.1 722.1 L748.2 720.1 L748.3 718.1 L748.4 716.1 L748.5 714.2 L748.6 712.3 L748.6 710.6 L748.7 709.0 L748.8 707.5 L748.9 706.1 L748.9 705.0 L749.0 704.0 L749.1 702.6 L749.2 701.0 L749.3 699.4 L749.4 697.6 L749.6 695.8 L749.7 694.0 L749.9 692.2 L750.0 690.4 L750.1 688.7 L750.3 687.0 L750.4 685.4 L750.6 683.9 L750.7 682.6 L750.8 681.4 L750.9 680.5 L751.0 679.7 L751.6 678.0 L752.5 676.7 L753.0 675.0 L753.0 674.3 L753.1 673.5 L753.1 672.6 L753.2 671.5 L753.3 670.4 L753.3 669.1 L753.4 667.7 L753.4 666.3 L753.5 664.7 L753.6 663.1 L753.6 661.4 L753.7 659.7 L753.8 657.9 L753.8 656.1 L753.9 654.3 L754.0 652.4 L754.0 650.5 L754.1 648.6 L754.2 646.8 L754.2 644.9 L754.3 643.1 L754.4 641.3 L754.4 639.5 L754.5 637.8 L754.5 636.1 L754.6 634.5 L754.7 633.0 L754.7 631.6 L754.8 630.2 L754.8 629.0 L754.8 628.0 L754.9 626.9 L754.9 625.7 L755.0 624.5 L755.0 623.2 L755.1 621.8 L755.1 620.4 L755.2 618.9 L755.2 617.4 L755.3 615.8 L755.3 614.2 L755.4 612.6 L755.4 610.9 L755.5 609.2 L755.5 607.5 L755.6 605.7 L755.7 604.0 L755.7 602.2 L755.8 600.4 L755.8 598.7 L755.9 596.9 L756.0 595.1 L756.0 593.4 L756.1 591.6 L756.1 589.9 L756.2 588.3 L756.2 586.6 L756.3 585.0 L756.3 583.4 L756.4 581.9 L756.4 580.4 L756.5 578.9 L756.5 577.6 L756.6 576.2 L756.6 575.0 L756.7 573.8 L756.7 572.7 L756.7 571.6 L756.8 570.4 L756.8 569.1 L756.9 567.8 L756.9 566.4 L757.0 564.9 L757.0 563.4 L757.1 561.8 L757.1 560.2 L757.2 558.6 L757.2 556.9 L757.3 555.2 L757.3 553.4 L757.4 551.6 L757.4 549.8 L757.5 548.0 L757.6 546.2 L757.6 544.4 L757.7 542.6 L757.7 540.8 L757.8 539.0 L757.8 537.2 L757.9 535.5 L757.9 533.8 L758.0 532.1 L758.1 530.4 L758.1 528.8 L758.2 527.2 L758.2 525.7 L758.2 524.3 L758.3 522.9 L758.3 521.5 L758.4 520.3 L758.4 519.1 L758.4 518.0 L758.5 516.9 L758.5 516.0 L758.5 514.6 L758.6 513.2 L758.6 511.7 L758.7 510.1 L758.7 508.6 L758.7 507.0 L758.8 505.4 L758.8 503.7 L758.9 502.1 L758.9 500.4 L759.0 498.7 L759.0 497.1 L759.0 495.4 L759.1 493.8 L759.1 492.1 L759.2 490.5 L759.2 488.9 L759.2 487.4 L759.3 485.9 L759.3 484.4 L759.4 483.0 L759.4 481.6 L759.5 480.3 L759.5 479.0 L759.5 478.0 L759.6 476.9 L759.6 475.7 L759.7 474.3 L759.7 472.9 L759.8 471.4 L759.8 469.9 L759.9 468.3 L760.0 466.6 L760.0 464.9 L760.1 463.1 L760.2 461.3 L760.2 459.5 L760.3 457.7 L760.4 455.9 L760.5 454.0 L760.5 452.2 L760.6 450.4 L760.7 448.6 L760.7 446.8 L760.8 445.1 L760.9 443.5 L761.0 441.9 L761.0 440.3 L761.1 438.8 L761.1 437.5 L761.2 436.2 L761.3 434.9 L761.3 433.9 L761.4 432.9 L761.4 432.0 L761.5 430.4 L761.6 428.7 L761.7 426.9 L761.8 425.0 L761.9 423.2 L762.0 421.3 L762.1 419.4 L762.3 417.6 L762.4 415.9 L762.5 414.3 L762.6 412.8 L762.8 411.4 L762.9 410.2 L763.0 409.3 L763.1 408.5 L763.2 408.0 L763.6 408.2 L764.3 410.4 L764.9 413.1 L765.5 415.1 L766.0 415.0 L766.1 414.5 L766.2 413.7 L766.3 412.8 L766.4 411.7 L766.5 410.4 L766.6 409.0 L766.7 407.5 L766.8 405.9 L766.9 404.1 L767.0 402.3 L767.1 400.5 L767.2 398.6 L767.3 396.8 L767.4 394.9 L767.5 393.1 L767.6 391.3 L767.7 389.6 L767.8 387.9 L767.9 386.4 L768.0 385.0 L768.1 384.1 L768.1 383.0 L768.2 381.9 L768.2 380.6 L768.3 379.3 L768.4 377.9 L768.5 376.4 L768.6 374.8 L768.6 373.2 L768.7 371.5 L768.8 369.8 L768.9 368.0 L769.0 366.2 L769.1 364.4 L769.2 362.6 L769.3 360.8 L769.4 359.0 L769.5 357.2 L769.6 355.4 L769.7 353.6 L769.8 351.9 L769.9 350.2 L770.0 348.6 L770.1 347.0 L770.2 345.5 L770.3 344.1 L770.3 342.8 L770.4 341.5 L770.5 340.4 L770.6 339.3 L770.7 338.4 L770.8 337.0 L771.0 335.4 L771.2 333.7 L771.4 331.8 L771.7 329.9 L771.9 328.0 L772.2 326.0 L772.4 324.0 L772.7 322.0 L773.0 320.0 L773.3 318.2 L773.6 316.4 L773.8 314.7 L774.1 313.2 L774.4 311.8 L774.6 310.7 L774.8 309.7 L775.1 309.0 L775.2 308.6 L775.4 308.4 L775.6 308.6 L775.7 309.0 L775.9 309.7 L776.1 310.7 L776.3 311.8 L776.5 313.2 L776.7 314.7 L776.9 316.4 L777.2 318.2 L777.4 320.0 L777.6 322.0 L777.8 324.0 L778.0 326.0 L778.2 328.0 L778.4 329.9 L778.6 331.8 L778.8 333.7 L778.9 335.4 L779.1 337.0 L779.2 338.4 L779.3 339.3 L779.4 340.3 L779.4 341.5 L779.5 342.7 L779.6 344.0 L779.7 345.3 L779.8 346.8 L779.9 348.3 L780.0 349.9 L780.1 351.5 L780.2 353.1 L780.3 354.8 L780.4 356.6 L780.5 358.3 L780.6 360.1 L780.7 361.8 L780.8 363.6 L780.9 365.4 L781.0 367.2 L781.1 368.9 L781.2 370.6 L781.3 372.3 L781.4 374.0 L781.5 375.6 L781.5 377.1 L781.6 378.6 L781.7 380.1 L781.8 381.4 L781.9 382.7 L781.9 383.9 L782.0 385.0 L782.1 386.1 L782.1 387.3 L782.2 388.6 L782.3 390.0 L782.4 391.4 L782.5 392.9 L782.6 394.5 L782.7 396.1 L782.8 397.8 L782.9 399.5 L783.0 401.3 L783.1 403.0 L783.2 404.8 L783.3 406.6 L783.4 408.4 L783.5 410.2 L783.6 412.0 L783.7 413.8 L783.9 415.5 L784.0 417.2 L784.1 418.9 L784.2 420.5 L784.2 422.1 L784.3 423.6 L784.4 425.1 L784.5 426.5 L784.6 427.8 L784.6 429.0 L784.7 430.1 L784.8 431.1 L784.8 432.0 L784.9 433.5 L784.9 435.1 L785.0 436.8 L785.1 438.5 L785.1 440.3 L785.2 442.1 L785.2 443.9 L785.3 445.7 L785.3 447.5 L785.4 449.2 L785.4 450.9 L785.5 452.6 L785.5 454.1 L785.6 455.5 L785.6 456.9 L785.7 458.1 L785.7 459.1 L785.8 460.0 L785.9 461.9 L786.1 463.8 L786.4 465.8 L786.6 467.6 L786.9 469.4 L787.1 470.9 L787.4 472.1 L787.6 473.0 L789.2 474.0 L790.5 475.0 L790.6 475.6 L790.6 476.5 L790.7 477.4 L790.8 478.5 L790.8 479.8 L790.9 481.1 L791.0 482.6 L791.0 484.2 L791.1 485.8 L791.2 487.5 L791.2 489.3 L791.3 491.1 L791.4 493.0 L791.4 494.9 L791.5 496.8 L791.6 498.7 L791.6 500.5 L791.7 502.4 L791.8 504.2 L791.8 506.0 L791.9 507.7 L792.0 509.3 L792.0 510.9 L792.1 512.3 L792.2 513.7 L792.2 514.9 L792.3 516.0 L792.4 517.2 L792.5 518.4 L792.5 519.7 L792.6 521.2 L792.7 522.6 L792.8 524.2 L793.0 525.8 L793.1 527.4 L793.2 529.1 L793.3 530.8 L793.5 532.5 L793.6 534.3 L793.7 536.0 L793.9 537.8 L794.0 539.5 L794.1 541.2 L794.3 542.8 L794.4 544.5 L794.5 546.0 L794.7 547.6 L794.8 549.0 L794.9 550.4 L795.0 551.7 L795.1 552.9 L795.2 554.0 L795.3 555.1 L795.4 556.3 L795.5 557.7 L795.7 559.1 L795.8 560.6 L796.0 562.2 L796.1 563.8 L796.3 565.5 L796.5 567.2 L796.7 568.9 L796.8 570.7 L797.0 572.5 L797.2 574.2 L797.4 576.0 L797.6 577.7 L797.7 579.4 L797.9 581.1 L798.1 582.7 L798.2 584.2 L798.4 585.7 L798.5 587.0 L798.7 588.3 L798.8 589.5 L798.9 590.6 L799.0 591.5 L799.1 593.0 L799.3 594.6 L799.5 596.4 L799.6 598.4 L799.8 600.4 L800.0 602.4 L800.2 604.5 L800.4 606.5 L800.5 608.4 L800.7 610.2 L800.9 611.8 L801.1 613.2 L801.2 614.4 L801.4 615.2 L801.6 615.8 L801.7 616.0 L801.9 615.8 L802.0 615.2 L802.3 614.4 L802.5 613.2 L802.7 611.8 L803.0 610.2 L803.3 608.4 L803.6 606.5 L803.8 604.5 L804.1 602.4 L804.4 600.4 L804.6 598.4 L804.9 596.4 L805.1 594.6 L805.3 593.0 L805.5 591.5 L805.6 590.6 L805.7 589.5 L805.9 588.3 L806.0 587.0 L806.1 585.6 L806.3 584.1 L806.4 582.5 L806.6 580.8 L806.8 579.1 L806.9 577.4 L807.1 575.6 L807.3 573.8 L807.4 572.0 L807.6 570.2 L807.8 568.4 L807.9 566.7 L808.1 565.0 L808.3 563.3 L808.4 561.7 L808.6 560.2 L808.7 558.7 L808.8 557.4 L809.0 556.1 L809.1 555.0 L809.2 554.0 L809.3 552.7 L809.5 551.3 L809.7 549.9 L809.9 548.3 L810.1 546.7 L810.3 545.0 L810.6 543.3 L810.8 541.6 L811.0 539.9 L811.3 538.2 L811.5 536.5 L811.7 534.8 L811.9 533.2 L812.2 531.7 L812.4 530.3 L812.5 529.0 L812.7 527.7 L812.9 526.6 L813.0 525.7 L813.2 524.3 L813.4 522.8 L813.7 521.2 L813.9 519.6 L814.1 518.0 L814.4 516.3 L814.7 514.7 L814.9 513.1 L815.1 511.5 L815.4 509.9 L815.6 508.4 L815.8 507.0 L815.9 506.0 L816.1 504.8 L816.3 503.5 L816.5 502.0 L816.7 500.4 L817.0 498.7 L817.2 497.0 L817.5 495.1 L817.7 493.3 L818.0 491.4 L818.2 489.6 L818.5 487.8 L818.7 486.0 L818.9 484.4 L819.1 482.8 L819.3 481.3 L819.5 480.0 L819.6 478.8 L819.7 477.6 L819.8 476.3 L819.9 474.8 L820.0 473.2 L820.2 471.4 L820.3 469.7 L820.4 467.8 L820.5 465.9 L820.6 464.1 L820.7 462.2 L820.8 460.4 L820.9 458.7 L821.0 457.0 L821.1 455.5 L821.2 454.1 L821.3 452.9 L821.4 451.8 L821.5 451.0 L821.8 449.2 L822.3 447.7 L822.9 446.4 L823.5 445.0 L824.0 443.5 L824.3 441.7 L824.4 441.0 L824.5 440.1 L824.6 439.0 L824.7 437.8 L824.8 436.5 L824.9 435.1 L825.0 433.6 L825.1 432.0 L825.2 430.3 L825.3 428.6 L825.5 426.8 L825.6 425.0 L825.7 423.2 L825.8 421.3 L825.9 419.5 L826.1 417.7 L826.2 415.9 L826.3 414.1 L826.4 412.4 L826.5 410.8 L826.6 409.2 L826.7 407.7 L826.8 406.4 L826.9 405.1 L827.0 404.0 L827.1 402.9 L827.2 401.7 L827.3 400.3 L827.4 398.9 L827.5 397.4 L827.6 395.8 L827.7 394.1 L827.8 392.4 L828.0 390.6 L828.1 388.9 L828.2 387.1 L828.4 385.3 L828.5 383.5 L828.6 381.7 L828.8 380.0 L828.9 378.3 L829.0 376.6 L829.2 375.0 L829.3 373.5 L829.4 372.1 L829.5 370.7 L829.7 369.5 L829.8 368.4 L829.9 367.4 L830.0 366.6 L830.3 364.7 L830.6 362.7 L831.1 360.6 L831.5 358.4 L832.0 356.3 L832.5 354.3 L833.0 352.6 L833.5 351.2 L833.9 350.2 L834.3 349.7 L834.6 349.7 L834.8 350.1 L834.9 351.0 L835.1 352.3 L835.3 353.8 L835.5 355.6 L835.8 357.6 L836.0 359.8 L836.2 362.0 L836.4 364.3 L836.6 366.6 L836.8 368.8 L837.0 370.9 L837.2 372.8 L837.4 374.5 L837.6 375.9 L837.7 376.9 L837.9 377.6 L838.0 377.8 L838.1 377.6 L838.2 377.1 L838.3 376.3 L838.4 375.2 L838.5 374.0 L838.6 372.5 L838.7 370.9 L838.9 369.1 L839.0 367.2 L839.1 365.3 L839.2 363.3 L839.3 361.2 L839.4 359.2 L839.5 357.2 L839.7 355.3 L839.8 353.5 L839.9 351.8 L840.0 350.3 L840.1 348.9 L840.2 347.8 L840.3 346.6 L840.5 345.2 L840.7 343.7 L840.9 342.1 L841.1 340.4 L841.3 338.6 L841.5 336.8 L841.8 335.0 L842.0 333.1 L842.3 331.3 L842.5 329.5 L842.8 327.7 L843.0 326.1 L843.2 324.5 L843.5 323.0 L843.7 321.7 L843.8 320.6 L844.0 319.6 L844.3 318.1 L844.6 316.4 L844.9 314.7 L845.3 312.9 L845.7 311.1 L846.1 309.3 L846.4 307.6 L846.8 306.1 L847.2 304.7 L847.4 303.6 L847.7 302.7 L848.4 300.8 L849.3 299.0 L850.2 297.7 L851.0 297.0 L852.2 297.4 L853.8 298.7 L855.0 299.9 L856.1 301.7 L857.5 304.0 L858.6 304.6 L859.0 303.9 L859.4 302.5 L859.9 300.7 L860.5 298.7 L861.0 296.6 L861.6 294.6 L862.0 292.8 L862.5 291.6 L862.8 291.0 L863.3 291.4 L863.9 292.9 L864.5 295.1 L865.1 297.4 L865.6 299.5 L865.8 300.5 L866.1 301.7 L866.5 303.2 L866.9 304.8 L867.3 306.5 L867.7 308.3 L868.1 310.1 L868.5 311.9 L868.8 313.6 L869.1 315.1 L869.4 316.4 L869.6 317.6 L869.9 319.0 L870.1 320.6 L870.4 322.4 L870.8 324.3 L871.1 326.2 L871.4 328.2 L871.7 330.1 L872.0 331.9 L872.3 333.5 L872.6 334.9 L872.8 336.1 L873.0 337.0 L873.6 339.2 L874.5 341.4 L875.3 342.8 L876.0 342.7 L876.2 342.0 L876.4 340.7 L876.6 339.0 L876.9 337.0 L877.1 334.8 L877.4 332.5 L877.7 330.2 L877.9 328.1 L878.2 326.3 L878.4 325.0 L878.6 324.2 L878.8 324.0 L878.9 324.3 L879.1 325.0 L879.2 325.9 L879.4 327.0 L879.6 328.4 L879.8 330.0 L879.9 331.7 L880.1 333.6 L880.3 335.5 L880.5 337.5 L880.7 339.5 L880.9 341.5 L881.1 343.4 L881.2 345.2 L881.4 347.0 L881.5 348.6 L881.6 350.0 L881.7 351.0 L881.7 352.1 L881.8 353.3 L881.9 354.7 L882.0 356.2 L882.1 357.7 L882.1 359.4 L882.2 361.1 L882.3 362.8 L882.4 364.6 L882.5 366.4 L882.6 368.3 L882.6 370.1 L882.7 372.0 L882.8 373.8 L882.9 375.6 L883.0 377.3 L883.1 379.0 L883.1 380.5 L883.2 382.0 L883.3 383.5 L883.3 384.7 L883.4 385.9 L883.4 386.9 L883.5 387.8 L883.6 389.6 L883.7 391.6 L883.8 393.7 L884.0 395.9 L884.1 398.0 L884.2 400.1 L884.4 402.0 L884.5 403.7 L884.6 405.1 L884.8 406.0 L884.9 406.6 L885.0 406.6 L885.1 406.3 L885.2 405.6 L885.3 404.7 L885.4 403.5 L885.5 402.1 L885.6 400.5 L885.8 398.8 L885.9 396.9 L886.0 395.0 L886.2 393.0 L886.3 390.9 L886.5 388.9 L886.6 386.9 L886.7 384.9 L886.9 383.1 L887.0 381.4 L887.1 379.8 L887.2 378.4 L887.3 377.4 L887.4 376.3 L887.4 375.0 L887.5 373.6 L887.6 372.2 L887.7 370.6 L887.9 368.9 L888.0 367.2 L888.1 365.5 L888.2 363.7 L888.3 361.9 L888.5 360.0 L888.6 358.2 L888.7 356.4 L888.8 354.6 L889.0 352.8 L889.1 351.1 L889.2 349.5 L889.3 347.9 L889.5 346.4 L889.6 345.0 L889.7 343.8 L889.8 342.6 L889.9 341.6 L890.0 340.8 L890.2 339.1 L890.5 337.3 L890.9 335.6 L891.2 333.9 L891.6 332.3 L892.0 330.7 L892.4 329.2 L892.8 327.7 L893.2 326.4 L893.5 325.1 L893.8 324.0 L894.1 322.8 L894.5 321.3 L894.9 319.6 L895.4 317.8 L895.9 315.9 L896.4 314.0 L896.9 312.2 L897.3 310.5 L897.8 309.0 L898.2 307.9 L898.5 307.0 L899.9 304.9 L901.7 303.5 L903.2 303.3 L903.8 303.9 L904.4 305.1 L905.2 306.7 L906.0 308.4 L906.7 310.1 L907.4 311.6 L907.9 312.7 L908.6 313.9 L909.4 315.2 L910.3 316.6 L911.1 318.2 L911.6 320.0 L911.7 320.8 L911.9 321.9 L912.1 323.2 L912.3 324.7 L912.4 326.3 L912.6 328.1 L912.8 329.9 L913.0 331.8 L913.2 333.7 L913.4 335.7 L913.6 337.6 L913.8 339.4 L914.0 341.1 L914.1 342.7 L914.3 344.2 L914.4 345.5 L914.5 346.5 L914.6 348.0 L914.8 349.8 L914.9 351.8 L915.1 353.9 L915.2 356.1 L915.4 358.2 L915.6 360.2 L915.7 362.0 L915.9 363.4 L916.0 364.5 L916.2 365.0 L916.3 365.0 L916.4 364.6 L916.5 363.9 L916.6 363.0 L916.7 361.7 L916.9 360.3 L917.0 358.7 L917.2 356.9 L917.3 355.0 L917.5 353.0 L917.7 351.0 L917.8 348.9 L918.0 346.9 L918.2 344.9 L918.3 342.9 L918.5 341.1 L918.7 339.5 L918.8 338.0 L918.9 336.8 L919.1 335.7 L919.2 335.0 L920.2 332.8 L921.8 331.1 L922.9 331.5 L923.0 332.1 L923.2 333.1 L923.3 334.3 L923.5 335.7 L923.7 337.4 L923.9 339.2 L924.1 341.2 L924.3 343.2 L924.5 345.3 L924.7 347.5 L924.9 349.6 L925.1 351.7 L925.3 353.8 L925.5 355.7 L925.7 357.5 L925.9 359.1 L926.1 360.5 L926.3 361.7 L926.4 362.6 L926.6 363.2 L926.7 363.4 L926.8 363.3 L927.0 362.7 L927.2 361.9 L927.4 360.7 L927.6 359.3 L927.8 357.6 L928.0 355.8 L928.3 353.9 L928.5 351.8 L928.7 349.7 L928.9 347.6 L929.2 345.5 L929.4 343.4 L929.6 341.5 L929.8 339.8 L930.0 338.2 L930.1 336.8 L930.3 335.8 L930.4 335.0 L931.6 332.3 L933.2 331.5 L933.6 332.2 L934.2 333.3 L934.8 334.9 L935.5 336.7 L936.1 338.7 L936.6 340.7 L937.0 342.7 L937.1 343.6 L937.2 344.6 L937.4 345.8 L937.5 347.2 L937.6 348.6 L937.7 350.2 L937.8 351.9 L938.0 353.6 L938.1 355.3 L938.2 357.1 L938.3 359.0 L938.4 360.8 L938.5 362.5 L938.6 364.3 L938.7 365.9 L938.8 367.5 L938.9 369.0 L939.0 369.9 L939.0 371.1 L939.1 372.3 L939.1 373.7 L939.2 375.2 L939.3 376.8 L939.3 378.5 L939.4 380.3 L939.5 382.1 L939.6 384.0 L939.7 386.0 L939.7 387.9 L939.8 389.9 L939.9 391.9 L940.0 393.8 L940.1 395.8 L940.2 397.7 L940.3 399.5 L940.3 401.3 L940.4 403.0 L940.5 404.6 L940.6 406.1 L940.7 407.4 L940.7 408.7 L940.8 409.7 L940.9 410.7 L940.9 411.4 L941.0 412.0 L941.7 412.2 L942.8 409.6 L943.6 406.6 L943.7 405.7 L943.9 404.3 L944.0 402.7 L944.2 400.9 L944.4 398.9 L944.5 396.9 L944.7 395.0 L944.9 393.2 L945.0 391.7 L945.2 390.5 L945.4 389.7 L947.4 388.6 L949.2 389.7 L949.3 390.3 L949.4 391.2 L949.5 392.1 L949.5 393.3 L949.6 394.6 L949.7 396.0 L949.8 397.5 L949.9 399.1 L950.0 400.8 L950.1 402.6 L950.1 404.4 L950.2 406.2 L950.3 408.1 L950.4 410.0 L950.5 411.9 L950.5 413.7 L950.6 415.6 L950.7 417.3 L950.7 419.1 L950.8 420.7 L950.9 422.2 L950.9 423.7 L951.0 425.0 L951.0 426.0 L951.1 427.1 L951.1 428.3 L951.2 429.7 L951.3 431.1 L951.3 432.6 L951.4 434.2 L951.5 435.9 L951.5 437.6 L951.6 439.4 L951.7 441.2 L951.7 443.1 L951.8 445.0 L951.9 446.9 L952.0 448.7 L952.0 450.6 L952.1 452.5 L952.2 454.4 L952.3 456.2 L952.3 457.9 L952.4 459.7 L952.5 461.3 L952.5 462.9 L952.6 464.4 L952.7 465.8 L952.7 467.2 L952.8 468.4 L952.9 469.5 L952.9 470.5 L953.0 471.3 L953.0 472.0 L953.2 474.2 L953.6 476.5 L954.0 478.6 L954.4 479.9 L954.8 480.0 L955.0 479.4 L955.2 478.1 L955.5 476.4 L955.8 474.4 L956.1 472.2 L956.4 469.9 L956.7 467.8 L957.0 465.8 L957.3 464.3 L957.5 463.3 L957.7 463.0 L957.8 463.3 L958.0 463.9 L958.2 464.9 L958.3 466.3 L958.5 467.8 L958.7 469.6 L958.9 471.5 L959.0 473.6 L959.2 475.6 L959.3 477.7 L959.4 479.8 L959.5 481.7 L959.5 482.5 L959.6 483.3 L959.6 484.3 L959.6 485.3 L959.7 486.5 L959.7 487.7 L959.7 489.0 L959.8 490.3 L959.8 491.7 L959.9 493.2 L959.9 494.8 L959.9 496.4 L960.0 498.0 L960.0 499.7 L960.1 501.4 L960.1 503.1 L960.2 504.9 L960.2 506.7 L960.2 508.5 L960.3 510.4 L960.3 512.2 L960.4 514.1 L960.4 515.9 L960.5 517.7 L960.5 519.5 L960.5 521.4 L960.6 523.1 L960.6 524.9 L960.7 526.6 L960.7 528.3 L960.7 530.0 L960.8 531.6 L960.8 533.1 L960.9 534.6 L960.9 536.1 L960.9 537.5 L961.0 538.8 L961.0 540.0 L961.0 541.0 L961.1 542.1 L961.1 543.4 L961.1 544.7 L961.2 546.1 L961.2 547.6 L961.2 549.2 L961.3 550.8 L961.3 552.5 L961.3 554.3 L961.4 556.2 L961.4 558.0 L961.5 560.0 L961.5 561.9 L961.6 563.9 L961.6 565.9 L961.7 568.0 L961.7 570.1 L961.8 572.1 L961.8 574.2 L961.9 576.3 L961.9 578.3 L962.0 580.4 L962.0 582.4 L962.1 584.5 L962.1 586.5 L962.2 588.4 L962.2 590.3 L962.3 592.2 L962.3 594.0 L962.3 595.8 L962.4 597.5 L962.4 599.1 L962.5 600.6 L962.5 602.1 L962.6 603.5 L962.6 604.8 L962.7 606.0 L962.7 607.1 L962.8 608.1 L962.8 608.9 L962.8 609.7 L962.9 610.3 L962.9 610.8 L962.9 611.2 L963.0 611.4 L963.0 611.5 L963.0 611.4 L963.1 611.2 L963.1 610.8 L963.1 610.3 L963.2 609.7 L963.2 608.9 L963.3 608.1 L963.3 607.1 L963.3 606.0 L963.4 604.8 L963.4 603.5 L963.5 602.1 L963.5 600.6 L963.6 599.1 L963.6 597.5 L963.7 595.8 L963.7 594.0 L963.8 592.2 L963.8 590.3 L963.9 588.4 L963.9 586.5 L964.0 584.5 L964.0 582.4 L964.1 580.4 L964.1 578.3 L964.2 576.3 L964.2 574.2 L964.3 572.1 L964.3 570.1 L964.4 568.0 L964.4 565.9 L964.5 563.9 L964.5 561.9 L964.6 560.0 L964.6 558.0 L964.6 556.2 L964.7 554.3 L964.7 552.5 L964.8 550.8 L964.8 549.2 L964.8 547.6 L964.9 546.1 L964.9 544.7 L964.9 543.4 L965.0 542.1 L965.0 541.0 L965.0 540.0 L965.0 538.8 L965.1 537.5 L965.1 536.1 L965.1 534.7 L965.1 533.3 L965.2 531.8 L965.2 530.2 L965.2 528.7 L965.2 527.0 L965.3 525.4 L965.3 523.7 L965.3 522.0 L965.3 520.3 L965.4 518.6 L965.4 516.8 L965.4 515.1 L965.4 513.3 L965.5 511.5 L965.5 509.8 L965.5 508.0 L965.6 506.3 L965.6 504.5 L965.6 502.8 L965.6 501.1 L965.7 499.5 L965.7 497.8 L965.7 496.2 L965.7 494.6 L965.8 493.1 L965.8 491.6 L965.8 490.2 L965.8 488.8 L965.9 487.4 L965.9 486.2 L965.9 484.9 L965.9 483.8 L966.0 482.7 L966.0 481.7 L966.0 480.5 L966.1 479.2 L966.1 477.8 L966.2 476.3 L966.2 474.8 L966.3 473.2 L966.3 471.6 L966.4 469.9 L966.5 468.2 L966.5 466.5 L966.6 464.7 L966.7 463.0 L966.7 461.2 L966.8 459.4 L966.9 457.6 L967.0 455.8 L967.0 454.1 L967.1 452.3 L967.2 450.6 L967.3 449.0 L967.3 447.3 L967.4 445.7 L967.5 444.2 L967.6 442.7 L967.6 441.3 L967.7 440.0 L967.8 438.8 L967.8 437.6 L967.9 436.5 L967.9 435.6 L968.0 434.7 L968.1 433.1 L968.3 431.4 L968.4 429.6 L968.6 427.8 L968.8 426.0 L969.0 424.1 L969.2 422.3 L969.4 420.5 L969.6 418.8 L969.8 417.1 L970.0 415.6 L970.2 414.2 L970.4 412.9 L970.5 411.7 L970.7 410.8 L970.8 410.0 L971.3 407.2 L972.0 404.6 L972.7 404.7 L972.8 405.3 L973.0 406.3 L973.2 407.7 L973.4 409.3 L973.7 411.1 L974.0 413.1 L974.2 415.2 L974.5 417.4 L974.8 419.5 L975.1 421.5 L975.3 423.4 L975.6 425.2 L975.8 426.6 L976.1 427.8 L976.2 428.6 L976.4 429.0 L976.6 428.8 L976.9 428.0 L977.1 426.5 L977.4 424.7 L977.7 422.6 L977.9 420.3 L978.2 418.1 L978.5 416.0 L978.7 414.2 L979.0 412.8 L979.2 412.0 L981.2 411.8 L983.0 414.0 L983.1 414.7 L983.2 415.6 L983.3 416.7 L983.4 418.0 L983.5 419.5 L983.6 421.0 L983.7 422.7 L983.8 424.5 L983.9 426.4 L984.0 428.3 L984.1 430.2 L984.2 432.0 L984.3 433.9 L984.4 435.7 L984.5 437.4 L984.6 439.0 L984.6 440.5 L984.7 441.9 L984.8 443.0 L984.9 444.0 L985.1 445.5 L985.3 446.9 L985.5 448.5 L985.7 450.1 L986.0 451.6 L986.3 453.3 L986.6 454.9 L986.8 456.5 L987.1 458.1 L987.3 459.8 L987.5 461.4 L987.7 463.0 L987.8 464.0 L987.9 465.2 L988.0 466.6 L988.1 468.2 L988.2 470.0 L988.3 471.9 L988.4 473.9 L988.5 476.0 L988.6 478.2 L988.7 480.3 L988.8 482.5 L988.9 484.7 L989.0 486.8 L989.1 488.8 L989.3 490.7 L989.4 492.4 L989.5 494.0 L989.6 495.4 L989.7 496.6 L989.8 497.6 L989.8 498.2 L989.9 498.6 L990.0 498.6 L990.1 498.4 L990.1 497.9 L990.2 497.3 L990.3 496.4 L990.3 495.4 L990.4 494.2 L990.5 492.9 L990.6 491.4 L990.6 489.8 L990.7 488.1 L990.8 486.3 L990.9 484.4 L991.0 482.5 L991.1 480.5 L991.2 478.4 L991.3 476.4 L991.4 474.3 L991.5 472.3 L991.5 470.3 L991.6 468.3 L991.7 466.3 L991.8 464.4 L991.9 462.6 L992.0 460.9 L992.0 459.4 L992.1 457.9 L992.2 456.5 L992.3 455.4 L992.3 454.3 L992.4 453.5 L992.6 451.6 L992.8 449.8 L993.0 448.0 L993.3 446.3 L993.5 444.6 L993.8 442.9 L994.1 441.4 L994.3 439.9 L994.6 438.4 L994.8 437.1 L995.0 435.8 L995.2 434.7 L995.4 433.4 L995.6 431.6 L995.8 429.5 L996.1 427.3 L996.3 424.9 L996.6 422.6 L996.9 420.5 L997.1 418.6 L997.4 417.1 L997.6 416.1 L997.8 415.7 L998.0 416.0 L998.1 416.4 L998.2 417.2 L998.2 418.1 L998.3 419.3 L998.4 420.7 L998.5 422.3 L998.6 424.1 L998.7 426.0 L998.8 428.0 L998.9 430.1 L999.1 432.2 L999.2 434.5 L999.3 436.7 L999.4 439.0 L999.5 441.2 L999.6 443.4 L999.7 445.6 L999.8 447.6 L1000.0 449.6 L1000.1 451.5 L1000.2 453.1 L1000.3 454.7 L1000.4 456.0 L1000.5 457.1 L1000.6 458.0 L1000.6 458.6 L1000.7 459.0 L1000.8 459.0 L1000.9 458.8 L1000.9 458.3 L1001.0 457.6 L1001.1 456.7 L1001.1 455.6 L1001.2 454.3 L1001.3 452.8 L1001.4 451.2 L1001.5 449.4 L1001.6 447.5 L1001.7 445.5 L1001.8 443.4 L1001.9 441.3 L1002.0 439.1 L1002.1 436.8 L1002.2 434.5 L1002.2 432.2 L1002.3 429.9 L1002.4 427.6 L1002.5 425.4 L1002.6 423.2 L1002.7 421.1 L1002.8 419.1 L1002.9 417.1 L1003.0 415.3 L1003.1 413.6 L1003.2 412.1 L1003.3 410.7 L1003.4 409.5 L1003.4 408.4 L1003.5 407.6 L1003.6 407.0 L1003.6 406.7 L1003.7 406.6 L1003.8 406.8 L1003.8 407.1 L1003.9 407.7 L1003.9 408.5 L1004.0 409.5 L1004.1 410.6 L1004.2 411.9 L1004.2 413.4 L1004.3 415.0 L1004.4 416.7 L1004.5 418.5 L1004.6 420.4 L1004.7 422.4 L1004.7 424.5 L1004.8 426.6 L1004.9 428.8 L1005.0 431.0 L1005.1 433.3 L1005.2 435.5 L1005.3 437.8 L1005.4 440.0 L1005.4 442.2 L1005.5 444.3 L1005.6 446.4 L1005.7 448.5 L1005.8 450.4 L1005.9 452.3 L1005.9 454.0 L1006.0 455.7 L1006.1 457.2 L1006.2 458.5 L1006.2 459.7 L1006.3 460.8 L1006.3 461.6 L1006.4 462.3 L1006.5 462.8 L1006.5 463.0 L1006.6 463.0 L1006.6 462.8 L1006.7 462.3 L1006.8 461.6 L1006.8 460.6 L1006.9 459.5 L1007.0 458.2 L1007.1 456.7 L1007.1 455.1 L1007.2 453.3 L1007.3 451.5 L1007.4 449.5 L1007.5 447.5 L1007.5 445.4 L1007.6 443.2 L1007.7 441.1 L1007.8 438.9 L1007.9 436.8 L1007.9 434.7 L1008.0 432.6 L1008.1 430.6 L1008.2 428.7 L1008.2 426.9 L1008.3 425.2 L1008.3 423.7 L1008.4 422.3 L1008.5 421.0 L1008.5 420.0 L1008.6 418.6 L1008.6 417.1 L1008.7 415.3 L1008.8 413.4 L1008.9 411.5 L1009.0 409.4 L1009.1 407.2 L1009.2 405.1 L1009.3 402.9 L1009.4 400.8 L1009.5 398.7 L1009.5 396.7 L1009.6 394.9 L1009.7 393.2 L1009.8 391.6 L1009.9 390.3 L1010.0 389.2 L1010.0 388.4 L1010.1 387.9 L1010.2 387.7 L1010.2 387.8 L1010.2 388.1 L1010.3 388.6 L1010.3 389.3 L1010.3 390.1 L1010.3 391.1 L1010.4 392.2 L1010.4 393.4 L1010.4 394.8 L1010.4 396.3 L1010.5 397.9 L1010.5 399.6 L1010.5 401.4 L1010.5 403.2 L1010.6 405.1 L1010.6 407.1 L1010.6 409.1 L1010.6 411.1 L1010.7 413.1 L1010.7 415.2 L1010.7 417.2 L1010.7 419.3 L1010.7 421.3 L1010.8 423.3 L1010.8 425.2 L1010.8 427.1 L1010.8 428.9 L1010.9 430.7 L1010.9 432.3 L1010.9 433.9 L1010.9 435.4 L1010.9 436.7 L1011.0 438.0 L1011.0 439.1 L1011.0 440.0 L1011.0 441.5 L1011.1 443.2 L1011.1 445.1 L1011.2 447.1 L1011.2 449.3 L1011.2 451.5 L1011.3 453.7 L1011.4 456.0 L1011.4 458.2 L1011.5 460.4 L1011.5 462.5 L1011.6 464.5 L1011.6 466.3 L1011.7 468.0 L1011.7 469.4 L1011.8 470.6 L1011.8 471.6 L1011.9 472.2 L1011.9 472.5 L1012.0 472.5 L1012.0 472.0 L1012.0 471.6 L1012.0 471.1 L1012.0 470.4 L1012.1 469.6 L1012.1 468.6 L1012.1 467.5 L1012.1 466.3 L1012.1 465.0 L1012.2 463.5 L1012.2 462.0 L1012.2 460.4 L1012.2 458.6 L1012.2 456.9 L1012.3 455.0 L1012.3 453.0 L1012.3 451.1 L1012.3 449.0 L1012.4 446.9 L1012.4 444.8 L1012.4 442.6 L1012.4 440.5 L1012.5 438.3 L1012.5 436.1 L1012.5 433.9 L1012.5 431.7 L1012.5 429.5 L1012.6 427.4 L1012.6 425.3 L1012.6 423.2 L1012.6 421.1 L1012.7 419.1 L1012.7 417.2 L1012.7 415.3 L1012.7 413.5 L1012.8 411.8 L1012.8 410.2 L1012.8 408.7 L1012.8 407.2 L1012.8 405.9 L1012.9 404.7 L1012.9 403.6 L1012.9 402.6 L1012.9 401.8 L1012.9 401.1 L1013.0 400.6 L1013.0 400.2 L1013.0 400.0 L1013.0 400.0 L1013.0 400.1 L1013.0 400.5 L1013.0 400.9 L1013.1 401.6 L1013.1 402.3 L1013.1 403.3 L1013.1 404.3 L1013.1 405.5 L1013.1 406.8 L1013.2 408.3 L1013.2 409.8 L1013.2 411.4 L1013.2 413.2 L1013.2 415.0 L1013.3 416.9 L1013.3 418.9 L1013.3 420.9 L1013.3 423.0 L1013.3 425.2 L1013.4 427.4 L1013.4 429.6 L1013.4 431.9 L1013.4 434.2 L1013.4 436.5 L1013.5 438.8 L1013.5 441.1 L1013.5 443.4 L1013.5 445.8 L1013.6 448.1 L1013.6 450.3 L1013.6 452.6 L1013.6 454.8 L1013.6 456.9 L1013.7 459.0 L1013.7 461.1 L1013.7 463.1 L1013.7 465.0 L1013.7 466.8 L1013.8 468.6 L1013.8 470.2 L1013.8 471.8 L1013.8 473.2 L1013.8 474.5 L1013.9 475.7 L1013.9 476.8 L1013.9 477.8 L1013.9 478.6 L1013.9 479.2 L1013.9 479.7 L1014.0 480.0 L1014.0 480.2 L1014.0 480.2 L1014.0 480.0 L1014.0 479.8 L1014.0 479.4 L1014.0 479.0 L1014.0 478.5 L1014.0 477.9 L1014.1 477.2 L1014.1 476.4 L1014.1 475.5 L1014.1 474.5 L1014.1 473.5 L1014.1 472.4 L1014.1 471.2 L1014.1 470.0 L1014.1 468.7 L1014.2 467.3 L1014.2 465.8 L1014.2 464.3 L1014.2 462.8 L1014.2 461.1 L1014.2 459.5 L1014.2 457.7 L1014.2 456.0 L1014.3 454.1 L1014.3 452.3 L1014.3 450.4 L1014.3 448.4 L1014.3 446.5 L1014.3 444.5 L1014.3 442.4 L1014.3 440.3 L1014.4 438.3 L1014.4 436.1 L1014.4 434.0 L1014.4 431.8 L1014.4 429.7 L1014.4 427.5 L1014.4 425.3 L1014.5 423.1 L1014.5 420.9 L1014.5 418.7 L1014.5 416.5 L1014.5 414.2 L1014.5 412.0 L1014.5 409.8 L1014.6 407.6 L1014.6 405.5 L1014.6 403.3 L1014.6 401.2 L1014.6 399.0 L1014.6 396.9 L1014.6 394.8 L1014.7 392.8 L1014.7 390.8 L1014.7 388.8 L1014.7 386.8 L1014.7 384.9 L1014.7 383.0 L1014.7 381.1 L1014.7 379.3 L1014.8 377.6 L1014.8 375.9 L1014.8 374.2 L1014.8 372.6 L1014.8 371.1 L1014.8 369.6 L1014.8 368.2 L1014.8 366.8 L1014.9 365.6 L1014.9 364.3 L1014.9 363.2 L1014.9 362.1 L1014.9 361.1 L1014.9 360.2 L1014.9 359.4 L1014.9 358.6 L1014.9 357.9 L1015.0 357.4 L1015.0 356.9 L1015.0 356.5 L1015.0 356.2 L1015.0 356.0 L1015.0 355.9 L1015.0 355.9 L1015.0 356.0 L1015.0 356.2 L1015.0 356.5 L1015.0 356.9 L1015.1 357.4 L1015.1 358.0 L1015.1 358.6 L1015.1 359.4 L1015.1 360.2 L1015.1 361.1 L1015.1 362.1 L1015.1 363.2 L1015.2 364.3 L1015.2 365.5 L1015.2 366.7 L1015.2 368.1 L1015.2 369.4 L1015.2 370.9 L1015.2 372.4 L1015.2 374.0 L1015.3 375.6 L1015.3 377.2 L1015.3 378.9 L1015.3 380.7 L1015.3 382.5 L1015.3 384.3 L1015.3 386.2 L1015.4 388.1 L1015.4 390.0 L1015.4 391.9 L1015.4 393.9 L1015.4 395.9 L1015.4 398.0 L1015.4 400.0 L1015.5 402.1 L1015.5 404.2 L1015.5 406.3 L1015.5 408.4 L1015.5 410.5 L1015.5 412.6 L1015.5 414.7 L1015.6 416.8 L1015.6 418.9 L1015.6 421.0 L1015.6 423.1 L1015.6 425.2 L1015.6 427.3 L1015.6 429.4 L1015.7 431.4 L1015.7 433.4 L1015.7 435.4 L1015.7 437.4 L1015.7 439.3 L1015.7 441.3 L1015.7 443.1 L1015.8 445.0 L1015.8 446.8 L1015.8 448.6 L1015.8 450.3 L1015.8 452.0 L1015.8 453.6 L1015.8 455.2 L1015.9 456.7 L1015.9 458.2 L1015.9 459.6 L1015.9 460.9 L1015.9 462.2 L1015.9 463.5 L1015.9 464.6 L1015.9 465.7 L1016.0 466.7 L1016.0 467.7 L1016.0 468.5 L1016.0 469.3 L1016.0 470.0 L1016.0 471.9 L1016.1 474.0 L1016.1 476.3 L1016.2 478.6 L1016.3 481.1 L1016.4 483.5 L1016.4 485.9 L1016.5 488.3 L1016.6 490.6 L1016.7 492.7 L1016.8 494.6 L1016.9 496.4 L1017.0 497.8 L1017.1 499.0 L1017.1 499.7 L1017.2 500.2 L1017.3 500.1 L1017.3 499.6 L1017.4 498.6 L1017.4 498.2 L1017.4 497.7 L1017.4 497.1 L1017.5 496.4 L1017.5 495.6 L1017.5 494.8 L1017.5 493.8 L1017.5 492.8 L1017.5 491.7 L1017.6 490.6 L1017.6 489.4 L1017.6 488.1 L1017.6 486.8 L1017.6 485.4 L1017.6 483.9 L1017.7 482.4 L1017.7 480.9 L1017.7 479.3 L1017.7 477.6 L1017.7 476.0 L1017.7 474.2 L1017.8 472.5 L1017.8 470.7 L1017.8 468.8 L1017.8 467.0 L1017.8 465.1 L1017.9 463.2 L1017.9 461.3 L1017.9 459.3 L1017.9 457.4 L1017.9 455.4 L1018.0 453.4 L1018.0 451.4 L1018.0 449.4 L1018.0 447.4 L1018.0 445.4 L1018.0 443.4 L1018.1 441.4 L1018.1 439.5 L1018.1 437.5 L1018.1 435.5 L1018.1 433.6 L1018.2 431.7 L1018.2 429.8 L1018.2 427.9 L1018.2 426.1 L1018.2 424.3 L1018.2 422.5 L1018.3 420.8 L1018.3 419.1 L1018.3 417.4 L1018.3 415.8 L1018.3 414.2 L1018.3 412.7 L1018.4 411.2 L1018.4 409.8 L1018.4 408.5 L1018.4 407.2 L1018.4 405.9 L1018.4 404.8 L1018.4 403.7 L1018.5 402.6 L1018.5 401.7 L1018.5 400.8 L1018.5 400.0 L1018.5 398.2 L1018.6 396.3 L1018.6 394.3 L1018.6 392.2 L1018.7 390.0 L1018.7 387.9 L1018.7 385.6 L1018.8 383.4 L1018.8 381.2 L1018.9 379.0 L1018.9 376.8 L1019.0 374.6 L1019.0 372.5 L1019.1 370.5 L1019.1 368.6 L1019.1 366.7 L1019.2 365.0 L1019.2 363.4 L1019.3 362.0 L1019.3 360.7 L1019.4 359.5 L1019.4 358.6 L1019.4 357.9 L1019.5 357.3 L1019.5 357.1 L1019.5 357.0 L1019.6 357.2 L1019.6 357.7 L1019.6 358.0 L1019.6 358.5 L1019.6 359.0 L1019.6 359.7 L1019.7 360.4 L1019.7 361.2 L1019.7 362.1 L1019.7 363.1 L1019.7 364.2 L1019.7 365.4 L1019.7 366.6 L1019.8 367.9 L1019.8 369.2 L1019.8 370.7 L1019.8 372.2 L1019.8 373.7 L1019.8 375.3 L1019.9 377.0 L1019.9 378.7 L1019.9 380.4 L1019.9 382.2 L1019.9 384.0 L1019.9 385.9 L1019.9 387.8 L1020.0 389.7 L1020.0 391.6 L1020.0 393.6 L1020.0 395.6 L1020.0 397.6 L1020.0 399.6 L1020.1 401.6 L1020.1 403.6 L1020.1 405.7 L1020.1 407.7 L1020.1 409.7 L1020.1 411.7 L1020.2 413.7 L1020.2 415.7 L1020.2 417.7 L1020.2 419.7 L1020.2 421.6 L1020.2 423.5 L1020.3 425.3 L1020.3 427.2 L1020.3 429.0 L1020.3 430.7 L1020.3 432.4 L1020.3 434.1 L1020.3 435.7 L1020.4 437.3 L1020.4 438.8 L1020.4 440.2 L1020.4 441.6 L1020.4 442.9 L1020.4 444.2 L1020.4 445.4 L1020.5 446.4 L1020.5 447.5 L1020.5 448.4 L1020.5 449.2 L1020.5 450.0 L1020.5 451.9 L1020.6 453.9 L1020.6 456.0 L1020.6 458.2 L1020.7 460.4 L1020.7 462.6 L1020.8 464.8 L1020.9 467.0 L1020.9 469.2 L1021.0 471.3 L1021.0 473.2 L1021.1 475.1 L1021.1 476.8 L1021.2 478.3 L1021.2 479.6 L1021.3 480.6 L1021.3 481.5 L1021.4 482.0 L1021.4 482.2 L1021.5 482.1 L1021.5 481.7 L1021.5 481.3 L1021.5 480.8 L1021.5 480.2 L1021.6 479.4 L1021.6 478.5 L1021.6 477.5 L1021.6 476.4 L1021.6 475.1 L1021.7 473.8 L1021.7 472.4 L1021.7 470.9 L1021.7 469.3 L1021.8 467.6 L1021.8 465.9 L1021.8 464.1 L1021.8 462.2 L1021.8 460.3 L1021.9 458.4 L1021.9 456.4 L1021.9 454.4 L1021.9 452.4 L1022.0 450.3 L1022.0 448.2 L1022.0 446.2 L1022.0 444.1 L1022.1 442.0 L1022.1 440.0 L1022.1 438.0 L1022.1 436.0 L1022.2 434.0 L1022.2 432.1 L1022.2 430.2 L1022.2 428.3 L1022.2 426.6 L1022.3 424.8 L1022.3 423.2 L1022.3 421.6 L1022.3 420.2 L1022.3 418.8 L1022.3 417.5 L1022.4 416.3 L1022.4 415.2 L1022.4 414.2 L1022.4 413.3 L1022.4 412.6 L1022.4 412.0" fill="none" stroke="#0000ff" stroke-width="5.8" stroke-linejoin="round" stroke-linecap="round"/>
<path d="M97.5 295.6 L97.8 295.5 L98.2 295.4 L98.7 295.0 L99.3 295.8 L99.9 295.9 L100.6 296.0 L101.4 296.1 L102.2 295.2 L103.0 294.6 L103.9 294.7 L104.8 294.6 L105.7 294.8 L106.7 295.3 L107.7 294.8 L108.7 295.1 L109.7 295.3 L110.7 295.3 L111.7 294.8 L112.7 294.5 L113.6 294.8 L114.6 295.1 L115.5 294.9 L116.3 294.7 L117.2 295.3 L118.0 294.3 L118.7 294.9 L119.4 294.9 L120.0 295.3 L120.6 295.0 L121.2 295.6 L121.8 294.8 L122.5 294.7 L123.3 293.9 L124.0 293.5 L124.8 294.1 L125.7 294.3 L126.5 294.8 L127.4 295.1 L128.3 294.7 L129.2 294.8 L130.1 294.9 L131.0 294.4 L131.9 293.9 L132.9 294.7 L133.8 294.0 L134.7 293.8 L135.6 293.4 L136.5 294.8 L137.4 294.7 L138.2 294.6 L139.1 293.9 L139.9 294.7 L140.7 295.0 L141.4 293.8 L142.1 294.8 L142.8 294.8 L143.4 294.4 L144.0 294.9 L144.6 294.0 L145.2 293.9 L145.9 294.8 L146.6 294.7 L147.4 293.8 L148.1 294.4 L149.0 294.2 L149.8 293.6 L150.7 293.9 L151.5 293.5 L152.4 293.8 L153.4 292.8 L154.3 293.0 L155.2 293.4 L156.1 292.8 L157.1 292.5 L158.0 293.3 L158.9 292.5 L159.8 292.0 L160.7 292.0 L161.6 292.3 L162.4 292.1 L163.2 292.5 L164.0 292.7 L164.8 291.9 L165.5 292.2 L166.2 291.5 L166.8 291.4 L167.4 292.6 L168.0 292.5 L168.6 291.9 L169.3 291.1 L170.1 291.5 L170.8 291.7 L171.7 291.9 L172.5 292.0 L173.4 291.9 L174.3 293.5 L175.2 294.2 L176.2 293.8 L177.1 293.3 L178.1 293.3 L179.0 294.1 L180.0 294.1 L180.9 294.5 L181.8 294.4 L182.7 293.6 L183.6 294.1 L184.4 293.7 L185.2 292.9 L186.0 294.2 L186.7 293.9 L187.4 294.2 L188.0 294.6 L188.5 294.9 L189.0 294.0 L189.7 294.7 L190.4 295.2 L191.1 295.5 L191.9 296.1 L192.6 295.6 L193.4 295.9 L194.1 296.0 L194.9 296.6 L195.6 297.8 L196.4 298.5 L197.1 298.8 L197.8 299.6 L198.5 299.0 L199.2 299.1 L199.8 299.7 L200.4 300.6 L201.0 300.8 L201.4 302.2 L201.9 302.4 L202.5 302.8 L203.1 302.8 L203.7 302.7 L204.3 303.5 L205.0 303.8 L205.8 304.0 L206.5 305.1 L207.2 306.2 L208.0 306.7 L208.7 306.8 L209.5 306.9 L210.3 307.9 L211.0 308.6 L211.7 309.7 L212.4 309.1 L213.1 309.4 L213.8 310.5 L214.4 311.6 L215.0 311.5 L215.5 312.1 L216.0 312.4 L216.5 312.2 L217.1 312.6 L217.7 313.0 L218.3 313.6 L219.0 315.0 L219.7 314.7 L220.4 315.2 L221.2 316.1 L221.9 316.0 L222.7 316.1 L223.5 316.0 L224.3 317.2 L225.1 316.8 L225.8 317.3 L226.6 318.8 L227.3 320.3 L228.0 320.1 L228.7 320.4 L229.3 321.4 L229.9 321.3 L230.5 322.1 L231.0 322.6 L231.5 322.6 L232.0 322.9 L232.5 323.5 L233.1 324.0 L233.7 324.9 L234.3 324.6 L235.0 324.3 L235.7 325.6 L236.4 325.8 L237.1 326.0 L237.8 326.7 L238.5 326.6 L239.2 327.9 L239.9 328.6 L240.6 328.7 L241.3 329.1 L242.0 329.3 L242.7 331.0 L243.3 330.8 L243.9 331.9 L244.5 332.2 L245.0 332.2 L245.5 332.0 L246.0 332.9 L246.5 333.8 L247.1 333.8 L247.8 334.0 L248.5 334.6 L249.2 335.0 L250.0 335.7 L250.7 336.8 L251.6 336.3 L252.4 336.7 L253.2 337.3 L254.0 338.1 L254.9 338.4 L255.7 338.7 L256.5 338.9 L257.3 339.5 L258.0 340.0 L258.7 340.2 L259.4 341.2 L260.0 342.2 L260.5 342.9 L261.0 342.2 L261.6 343.7 L262.2 343.4 L262.8 343.6 L263.5 343.5 L264.3 345.1 L265.1 345.9 L265.8 346.8 L266.6 346.6 L267.4 346.5 L268.2 347.5 L268.9 347.9 L269.7 348.2 L270.4 348.5 L271.0 348.7 L271.6 349.6 L272.1 349.9 L272.6 350.8 L273.0 350.8 L273.6 351.3 L274.2 351.5 L274.8 351.0 L275.3 351.5 L275.9 352.8 L276.5 354.2 L277.0 354.4 L277.5 354.5 L278.0 355.7 L278.4 356.9 L278.7 358.0 L278.8 358.5 L279.0 358.9 L279.1 359.7 L279.2 360.4 L279.4 361.1 L279.5 362.2 L279.7 362.9 L279.8 363.9 L280.0 365.1 L280.2 366.0 L280.3 366.9 L280.5 368.2 L280.6 369.4 L280.8 370.4 L281.0 371.7 L281.1 372.7 L281.3 373.7 L281.4 374.8 L281.6 375.6 L281.7 376.7 L281.9 377.6 L282.0 378.2 L282.1 378.6 L282.3 379.4 L282.4 379.9 L282.5 380.6 L282.6 380.3 L282.7 379.6 L282.9 379.0 L283.1 379.4 L283.3 378.9 L283.4 378.1 L283.6 377.5 L283.8 376.7 L284.0 375.5 L284.3 374.6 L284.5 373.2 L284.7 371.8 L284.9 370.7 L285.2 369.6 L285.4 368.5 L285.6 367.6 L285.9 366.4 L286.1 365.6 L286.3 365.2 L286.6 364.6 L286.8 364.6 L287.3 363.9 L288.0 363.3 L288.7 363.8 L289.6 363.4 L290.6 361.9 L291.5 361.8 L292.5 361.3 L293.4 361.4 L294.3 360.7 L295.1 360.6 L295.8 360.0 L296.3 360.7 L296.9 361.1 L297.6 362.3 L298.3 362.7 L299.1 362.2 L299.9 362.2 L300.8 362.2 L301.6 363.6 L302.4 363.7 L303.2 364.6 L304.0 365.2 L304.7 364.8 L305.4 365.4 L306.0 366.0 L306.6 365.6 L307.2 366.0 L308.0 365.2 L308.8 365.2 L309.7 365.7 L310.6 365.4 L311.6 365.3 L312.5 364.6 L313.5 365.0 L314.4 365.4 L315.2 364.4 L316.1 364.5 L316.8 365.3 L317.5 365.1 L318.0 364.6 L318.5 365.8 L319.0 366.8 L319.5 366.9 L320.1 367.1 L320.7 367.4 L321.3 368.5 L321.9 369.6 L322.5 370.5 L323.1 371.8 L323.7 372.9 L324.3 372.8 L324.9 374.0 L325.5 374.9 L326.0 374.8 L326.5 375.5 L327.0 375.1 L327.4 374.0 L328.0 375.0 L328.5 375.3 L329.1 374.2 L329.8 374.2 L330.5 373.5 L331.2 372.6 L332.0 372.3 L332.7 371.4 L333.5 371.2 L334.3 369.8 L335.0 369.5 L335.8 369.1 L336.5 367.5 L337.2 366.8 L337.8 366.3 L338.4 365.8 L339.0 365.1 L339.5 364.6 L340.1 364.3 L340.7 363.8 L341.4 364.3 L342.1 364.0 L342.9 363.7 L343.7 362.8 L344.5 363.2 L345.4 362.4 L346.2 361.3 L347.1 361.7 L348.0 361.6 L348.8 360.0 L349.7 359.9 L350.5 359.3 L351.3 359.0 L352.0 359.6 L352.7 358.4 L353.4 358.6 L354.0 358.8 L354.6 358.3 L355.2 358.0 L355.9 358.8 L356.6 358.3 L357.4 357.7 L358.3 357.9 L359.1 356.9 L360.1 357.0 L361.0 357.5 L361.9 357.4 L362.9 357.0 L363.8 356.8 L364.8 356.8 L365.7 357.1 L366.6 356.5 L367.5 356.7 L368.4 356.8 L369.2 356.9 L370.0 356.7 L370.7 355.5 L371.4 356.8 L372.0 356.4 L372.6 356.7 L373.3 357.5 L374.0 356.1 L374.8 356.5 L375.7 355.5 L376.6 356.7 L377.5 356.6 L378.4 357.1 L379.4 356.6 L380.4 357.1 L381.3 357.7 L382.3 357.1 L383.3 357.7 L384.2 357.6 L385.1 356.8 L386.0 356.8 L386.8 356.8 L387.6 357.1 L388.3 357.2 L388.9 357.8 L389.5 357.7 L390.0 356.7 L390.8 355.8 L391.6 356.5 L392.5 356.4 L393.3 356.9 L394.2 356.9 L395.0 356.6 L395.8 356.4 L396.7 355.3 L397.5 355.0 L398.4 354.3 L399.2 353.6 L400.0 354.7 L400.4 354.7 L401.0 354.9 L401.5 353.7 L402.2 353.9 L402.9 353.9 L403.6 353.3 L404.4 353.6 L405.2 352.8 L406.0 351.7 L406.9 351.6 L407.8 351.6 L408.7 351.6 L409.5 350.5 L410.4 350.4 L411.3 350.3 L412.2 350.1 L413.0 349.9 L413.9 348.5 L414.7 348.1 L415.4 347.6 L416.2 348.0 L416.8 347.3 L417.4 346.9 L418.0 346.0 L418.5 346.6 L419.1 346.4 L419.7 345.5 L420.4 344.9 L421.1 344.2 L421.8 344.5 L422.6 344.0 L423.3 343.7 L424.1 343.9 L424.9 342.9 L425.8 341.7 L426.6 342.2 L427.4 342.5 L428.2 341.8 L429.1 340.7 L429.9 339.8 L430.7 339.3 L431.4 339.3 L432.2 339.3 L432.9 338.6 L433.6 338.3 L434.3 337.9 L434.9 338.7 L435.5 338.7 L436.0 338.4 L436.6 338.4 L437.3 337.4 L438.0 337.4 L438.8 337.0 L439.6 337.5 L440.5 337.5 L441.4 337.8 L442.3 337.2 L443.2 336.9 L444.2 337.5 L445.1 337.9 L446.1 338.5 L447.0 337.3 L447.9 337.8 L448.9 337.5 L449.7 337.8 L450.6 337.7 L451.4 337.5 L452.1 337.2 L452.8 338.1 L453.4 337.9 L454.0 338.6 L454.6 337.6 L455.2 336.7 L455.8 335.9 L456.5 336.3 L457.2 335.4 L457.9 335.8 L458.7 335.5 L459.4 333.6 L460.2 333.2 L461.0 333.0 L461.8 333.2 L462.5 332.4 L463.3 332.0 L464.1 331.4 L464.9 330.8 L465.6 330.7 L466.3 329.9 L467.0 329.9 L467.7 330.6 L468.4 329.8 L469.0 329.0 L469.5 328.6 L470.1 328.8 L470.7 329.3 L471.4 329.1 L472.1 329.3 L472.9 328.9 L473.7 328.0 L474.6 327.6 L475.4 327.6 L476.3 328.3 L477.2 327.3 L478.2 326.8 L479.1 327.3 L480.0 326.1 L481.0 326.2 L481.9 326.1 L482.8 326.3 L483.8 325.2 L484.7 324.5 L485.5 324.5 L486.4 323.8 L487.2 323.3 L488.0 324.5 L488.7 323.9 L489.4 323.9 L490.0 324.0 L490.6 324.2 L491.2 324.9 L491.8 324.9 L492.5 324.2 L493.2 324.6 L494.0 323.9 L494.8 323.7 L495.6 323.9 L496.5 324.5 L497.4 323.7 L498.3 323.8 L499.2 323.6 L500.1 323.8 L501.1 323.9 L502.0 323.2 L502.9 323.2 L503.9 324.0 L504.8 323.2 L505.7 323.1 L506.6 323.4 L507.5 323.4 L508.4 322.8 L509.2 322.9 L510.0 322.5 L510.8 322.8 L511.5 323.0 L512.2 321.6 L512.8 321.6 L513.4 322.4 L514.0 321.7 L514.6 322.3 L515.3 321.9 L516.0 322.3 L516.8 321.3 L517.6 321.8 L518.5 320.9 L519.3 321.5 L520.2 321.4 L521.2 322.1 L522.1 322.4 L523.0 322.4 L524.0 322.8 L524.9 321.9 L525.8 322.0 L526.8 321.9 L527.7 322.8 L528.6 321.9 L529.4 322.1 L530.3 322.7 L531.1 323.4 L531.9 322.5 L532.6 322.5 L533.3 322.9 L533.9 322.8 L534.5 322.8 L535.0 321.9 L535.7 321.6 L536.4 321.9 L537.2 321.9 L538.0 321.9 L538.8 320.8 L539.7 321.1 L540.6 320.6 L541.4 321.0 L542.3 321.1 L543.2 320.8 L544.1 320.5 L544.9 320.3 L545.8 321.5 L546.6 321.2 L547.3 321.0 L548.1 321.0 L548.8 319.8 L549.4 319.3 L550.0 318.6 L550.4 318.3 L550.9 318.1 L551.5 318.8 L552.0 317.6 L552.6 317.6 L553.2 316.8 L553.9 316.4 L554.5 316.0 L555.2 315.7 L555.9 314.1 L556.6 313.7 L557.3 312.4 L558.0 312.5 L558.7 311.3 L559.4 309.9 L560.0 310.0 L560.7 307.6 L561.4 306.1 L562.0 306.5 L562.6 305.3 L563.1 306.1 L563.7 305.3 L564.1 307.5 L564.6 305.1 L565.0 304.8 L565.6 304.5 L566.2 304.6 L566.8 303.3 L567.6 303.1 L568.3 302.2 L569.1 302.7 L569.9 302.6 L570.6 302.9 L571.4 301.5 L572.2 301.2 L573.0 299.2 L573.7 297.9 L574.4 296.9 L575.0 298.6 L575.6 298.4 L576.2 296.9 L576.6 296.8 L577.0 298.5 L577.9 297.0 L578.8 296.9 L579.6 298.1 L580.4 299.3 L581.2 301.1 L582.0 300.4 L582.3 300.2 L582.6 299.6 L583.1 297.1 L583.5 297.7 L584.0 294.6 L584.5 294.4 L585.1 292.3 L585.7 291.7 L586.3 290.2 L586.8 290.5 L587.4 287.9 L588.0 287.8 L588.5 287.9 L589.1 286.6 L589.5 285.2 L590.0 284.7 L590.4 285.6 L590.7 287.4 L591.0 285.4 L591.3 285.1 L591.7 285.9 L592.0 286.5 L592.3 287.4 L592.6 287.8 L592.9 288.8 L593.2 290.1 L593.5 291.2 L593.8 291.9 L594.1 293.2 L594.4 294.3 L594.7 294.8 L595.0 293.5 L595.3 293.4 L595.7 296.3 L596.2 298.3 L596.7 298.5 L597.2 300.0 L597.8 300.6 L598.4 300.0 L599.1 302.3 L599.7 303.7 L600.3 303.8 L600.9 302.7 L601.5 303.6 L602.0 303.6 L602.5 305.0 L603.0 305.9 L603.5 305.0 L604.2 306.5 L604.9 306.7 L605.7 305.1 L606.5 303.8 L607.4 304.1 L608.3 302.8 L609.2 302.5 L610.1 299.9 L610.9 300.8 L611.7 299.6 L612.4 297.7 L613.0 298.0 L613.3 298.2 L613.7 298.6 L614.1 299.5 L614.5 298.6 L615.0 296.3 L615.4 297.9 L615.9 295.4 L616.4 293.6 L616.9 293.8 L617.5 292.6 L618.0 292.7 L618.5 290.5 L619.1 289.6 L619.6 287.9 L620.1 287.8 L620.7 287.0 L621.2 288.1 L621.6 286.2 L622.1 285.7 L622.5 283.7 L623.0 282.9 L623.3 282.2 L623.7 284.2 L624.0 284.3 L624.6 282.3 L625.3 282.4 L626.1 283.6 L627.0 284.0 L627.8 284.5 L628.7 286.9 L629.5 286.7 L630.4 287.7 L631.1 287.3 L631.8 288.4 L632.5 286.9 L633.0 287.2 L633.5 287.0 L634.1 287.2 L634.8 287.3 L635.5 286.2 L636.2 283.8 L636.9 284.5 L637.6 284.2 L638.3 284.3 L638.9 282.2 L639.5 282.7 L640.0 281.0 L640.2 282.2 L640.4 281.7 L640.7 283.7 L640.9 284.4 L641.2 284.7 L641.5 285.8 L641.7 286.6 L642.0 287.8 L642.3 288.2 L642.6 288.9 L643.0 290.4 L643.3 291.5 L643.6 292.1 L643.9 293.1 L644.3 294.0 L644.6 294.5 L645.0 295.5 L645.3 296.4 L645.6 297.1 L646.0 297.8 L646.3 299.0 L646.7 299.4 L647.0 300.5 L647.3 300.6 L647.7 302.8 L648.0 302.1 L648.5 301.5 L649.0 301.8 L649.7 301.8 L650.4 303.8 L651.1 303.7 L651.9 305.8 L652.8 304.5 L653.7 303.0 L654.6 302.9 L655.6 303.9 L656.5 305.6 L657.5 305.8 L658.4 306.2 L659.3 305.9 L660.2 306.6 L661.1 305.5 L661.9 305.6 L662.7 305.4 L663.4 305.7 L664.0 306.8 L664.6 307.7 L665.2 306.5 L665.9 307.8 L666.6 308.6 L667.4 308.2 L668.3 308.2 L669.2 308.0 L670.1 308.7 L671.0 309.1 L671.9 308.5 L672.9 309.3 L673.8 309.3 L674.8 310.1 L675.7 310.9 L676.6 311.2 L677.4 310.9 L678.3 311.4 L679.0 311.6 L679.8 312.0 L680.4 312.7 L681.0 312.6 L681.6 312.5 L682.0 312.5 L682.9 312.9 L683.8 312.6 L684.7 312.8 L685.5 312.7 L686.4 311.8 L687.2 311.2 L688.0 311.1 L688.7 311.0 L689.4 311.9 L690.0 312.3 L690.6 312.0 L691.4 310.8 L692.3 311.1 L693.3 310.4 L694.3 309.6 L695.3 309.1 L696.3 309.5 L697.3 310.0 L698.1 310.9 L698.8 310.3 L699.4 310.2 L700.0 310.1 L700.6 311.0 L701.2 312.1 L701.8 313.1 L702.5 313.5 L703.1 313.4 L703.7 314.2 L704.2 315.5 L704.7 316.8 L705.0 317.5 L705.1 318.1 L705.2 318.7 L705.3 319.3 L705.5 319.9 L705.6 320.7 L705.7 321.3 L705.8 321.9 L705.9 322.8 L706.1 323.5 L706.2 324.4 L706.3 325.3 L706.4 326.2 L706.5 327.1 L706.6 328.1 L706.7 329.0 L706.9 329.9 L707.0 330.9 L707.1 331.8 L707.2 332.8 L707.3 333.7 L707.4 334.5 L707.5 335.4 L707.6 336.2 L707.6 337.0 L707.7 337.7 L707.8 338.4 L707.9 339.4 L708.0 340.6 L708.2 341.9 L708.3 343.3 L708.5 344.8 L708.7 346.4 L708.9 348.1 L709.0 349.8 L709.2 351.6 L709.4 353.4 L709.6 355.2 L709.8 356.9 L709.9 358.7 L710.1 360.4 L710.3 362.1 L710.4 363.7 L710.6 365.2 L710.7 366.6 L710.8 367.6 L710.9 368.7 L711.0 370.0 L711.1 371.4 L711.2 372.9 L711.4 374.5 L711.5 376.2 L711.6 378.0 L711.8 379.8 L711.9 381.7 L712.1 383.6 L712.2 385.5 L712.4 387.5 L712.6 389.4 L712.7 391.3 L712.9 393.2 L713.0 395.1 L713.2 396.8 L713.3 398.5 L713.5 400.2 L713.6 401.7 L713.8 403.1 L713.9 404.4 L714.0 405.5 L714.2 406.5 L714.3 407.3 L714.4 408.0 L715.6 408.9 L717.6 408.9 L719.0 409.8 L719.2 410.5 L719.5 411.4 L719.7 412.6 L720.0 414.0 L720.3 415.5 L720.6 417.1 L720.9 418.9 L721.2 420.7 L721.5 422.5 L721.8 424.3 L722.0 426.0 L722.3 427.7 L722.5 429.3 L722.7 430.7 L722.9 432.0 L723.0 433.1 L723.2 434.3 L723.3 435.6 L723.5 437.0 L723.6 438.5 L723.8 440.2 L723.9 441.8 L724.1 443.6 L724.3 445.3 L724.4 447.1 L724.6 448.9 L724.8 450.6 L724.9 452.4 L725.1 454.1 L725.2 455.7 L725.4 457.2 L725.6 458.7 L725.7 460.0 L725.8 461.0 L725.9 462.0 L726.1 463.2 L726.3 464.5 L726.4 465.8 L726.6 467.2 L726.8 468.7 L727.0 470.2 L727.2 471.8 L727.5 473.4 L727.7 475.0 L727.9 476.7 L728.1 478.4 L728.4 480.1 L728.6 481.8 L728.8 483.5 L729.0 485.2 L729.2 486.9 L729.4 488.6 L729.6 490.2 L729.8 491.8 L730.0 493.3 L730.1 494.8 L730.3 496.2 L730.4 497.6 L730.5 498.5 L730.6 499.6 L730.7 500.7 L730.7 501.9 L730.8 503.1 L730.9 504.4 L731.0 505.8 L731.1 507.3 L731.2 508.8 L731.3 510.4 L731.4 512.0 L731.6 513.6 L731.7 515.3 L731.8 517.0 L731.9 518.8 L732.0 520.5 L732.1 522.3 L732.2 524.1 L732.3 525.9 L732.4 527.7 L732.5 529.5 L732.7 531.3 L732.8 533.1 L732.9 534.8 L733.0 536.6 L733.1 538.3 L733.2 540.0 L733.3 541.6 L733.4 543.2 L733.5 544.8 L733.5 546.3 L733.6 547.7 L733.7 549.1 L733.8 550.5 L733.9 551.7 L733.9 552.9 L734.0 554.0 L734.1 555.1 L734.1 556.3 L734.2 557.5 L734.3 558.8 L734.4 560.1 L734.4 561.6 L734.5 563.0 L734.6 564.5 L734.7 566.0 L734.8 567.6 L734.9 569.2 L734.9 570.9 L735.0 572.5 L735.1 574.2 L735.2 575.9 L735.3 577.7 L735.4 579.4 L735.5 581.1 L735.6 582.9 L735.7 584.6 L735.8 586.3 L735.9 588.0 L735.9 589.8 L736.0 591.4 L736.1 593.1 L736.2 594.8 L736.3 596.4 L736.4 597.9 L736.5 599.5 L736.5 601.0 L736.6 602.4 L736.7 603.8 L736.8 605.2 L736.8 606.5 L736.9 607.7 L736.9 608.9 L737.0 610.0 L737.1 611.1 L737.1 612.3 L737.2 613.5 L737.2 614.8 L737.3 616.2 L737.4 617.6 L737.5 619.1 L737.5 620.6 L737.6 622.1 L737.7 623.7 L737.8 625.4 L737.9 627.0 L738.0 628.7 L738.1 630.4 L738.1 632.1 L738.2 633.9 L738.3 635.6 L738.4 637.4 L738.5 639.2 L738.6 640.9 L738.7 642.7 L738.8 644.4 L738.8 646.1 L738.9 647.9 L739.0 649.5 L739.1 651.2 L739.2 652.8 L739.3 654.4 L739.3 656.0 L739.4 657.5 L739.5 659.0 L739.5 660.4 L739.6 661.8 L739.6 663.1 L739.7 664.3 L739.8 665.5 L739.8 666.6 L739.8 667.7 L739.9 668.9 L739.9 670.2 L740.0 671.5 L740.0 672.9 L740.1 674.4 L740.1 676.0 L740.2 677.5 L740.2 679.2 L740.3 680.8 L740.3 682.6 L740.4 684.3 L740.4 686.1 L740.5 687.9 L740.6 689.7 L740.6 691.5 L740.7 693.3 L740.7 695.1 L740.8 697.0 L740.8 698.8 L740.9 700.6 L740.9 702.3 L741.0 704.1 L741.0 705.8 L741.1 707.5 L741.1 709.1 L741.2 710.7 L741.2 712.3 L741.3 713.8 L741.3 715.2 L741.4 716.5 L741.4 717.8 L741.4 719.0 L741.5 720.2 L741.5 721.2 L741.6 722.2 L741.6 723.0 L741.7 724.7 L741.8 726.4 L741.8 728.2 L741.9 730.0 L742.0 731.8 L742.1 733.6 L742.2 735.4 L742.4 737.2 L742.5 738.9 L742.6 740.6 L742.7 742.2 L742.8 743.8 L742.9 745.3 L743.0 746.7 L743.2 747.9 L743.3 749.1 L743.4 750.1 L743.5 751.0 L743.8 752.7 L744.1 754.5 L744.6 756.4 L745.1 758.3 L745.6 760.1 L746.1 761.6 L746.5 762.8 L747.0 763.7 L747.3 764.0 L747.7 763.6 L748.3 762.5 L748.9 760.8 L749.5 758.8 L750.1 756.7 L750.6 754.7 L751.0 753.0 L751.2 751.9 L751.4 750.5 L751.6 748.8 L751.8 746.9 L751.9 744.9 L752.1 742.9 L752.3 741.1 L752.5 739.3 L752.7 737.9 L752.8 736.7 L753.0 736.0 L754.4 737.0 L755.7 738.0 L755.8 737.4 L755.8 736.6 L755.9 735.6 L756.0 734.5 L756.1 733.3 L756.1 731.9 L756.2 730.4 L756.3 728.8 L756.4 727.1 L756.4 725.4 L756.5 723.5 L756.6 721.7 L756.7 719.8 L756.7 717.9 L756.8 716.0 L756.9 714.2 L756.9 712.3 L757.0 710.5 L757.0 708.8 L757.1 707.1 L757.2 705.5 L757.2 704.0 L757.2 703.1 L757.3 702.1 L757.3 701.0 L757.3 699.9 L757.3 698.6 L757.4 697.3 L757.4 695.9 L757.4 694.5 L757.5 693.0 L757.5 691.5 L757.6 689.9 L757.6 688.2 L757.6 686.5 L757.7 684.8 L757.7 683.1 L757.7 681.3 L757.8 679.6 L757.8 677.8 L757.9 676.0 L757.9 674.2 L757.9 672.4 L758.0 670.6 L758.0 668.8 L758.0 667.0 L758.1 665.3 L758.1 663.6 L758.2 661.9 L758.2 660.2 L758.2 658.6 L758.3 657.1 L758.3 655.5 L758.3 654.1 L758.4 652.7 L758.4 651.4 L758.4 650.1 L758.5 648.9 L758.5 647.8 L758.5 646.7 L758.6 645.5 L758.6 644.3 L758.6 643.0 L758.7 641.6 L758.7 640.2 L758.8 638.8 L758.8 637.3 L758.9 635.7 L758.9 634.1 L759.0 632.5 L759.0 630.9 L759.1 629.2 L759.2 627.5 L759.2 625.8 L759.3 624.0 L759.3 622.3 L759.4 620.5 L759.5 618.8 L759.5 617.0 L759.6 615.3 L759.6 613.6 L759.7 611.8 L759.8 610.1 L759.8 608.5 L759.9 606.8 L759.9 605.2 L760.0 603.6 L760.0 602.1 L760.1 600.6 L760.1 599.1 L760.2 597.7 L760.2 596.3 L760.3 595.0 L760.3 593.8 L760.4 592.6 L760.4 591.5 L760.4 590.4 L760.5 589.2 L760.5 587.9 L760.6 586.6 L760.6 585.1 L760.7 583.6 L760.7 582.1 L760.8 580.5 L760.8 578.8 L760.9 577.1 L760.9 575.4 L761.0 573.6 L761.0 571.9 L761.1 570.0 L761.1 568.2 L761.2 566.4 L761.3 564.5 L761.3 562.7 L761.4 560.8 L761.4 559.0 L761.5 557.2 L761.6 555.4 L761.6 553.7 L761.7 551.9 L761.7 550.3 L761.8 548.6 L761.8 547.0 L761.9 545.5 L761.9 544.0 L762.0 542.6 L762.0 541.2 L762.1 540.0 L762.1 538.8 L762.2 537.7 L762.2 536.7 L762.3 535.8 L762.3 535.0 L762.4 533.0 L762.5 531.1 L762.6 529.0 L762.8 527.0 L762.9 525.1 L763.1 523.2 L763.2 521.3 L763.4 519.6 L763.5 518.0 L763.7 516.5 L763.8 515.2 L763.9 514.1 L764.1 513.2 L764.2 512.6 L765.6 513.6 L767.0 514.5 L767.1 513.9 L767.1 513.0 L767.2 512.0 L767.3 510.8 L767.3 509.4 L767.4 507.9 L767.5 506.3 L767.6 504.6 L767.6 502.7 L767.7 500.9 L767.8 498.9 L767.9 497.0 L767.9 495.0 L768.0 493.0 L768.1 491.1 L768.1 489.2 L768.2 487.4 L768.3 485.6 L768.3 484.0 L768.4 482.5 L768.4 481.1 L768.5 479.9 L768.5 478.8 L768.5 477.5 L768.6 476.1 L768.6 474.5 L768.7 472.9 L768.8 471.2 L768.8 469.5 L768.9 467.7 L768.9 465.9 L769.0 464.1 L769.0 462.3 L769.1 460.6 L769.1 458.9 L769.2 457.3 L769.3 455.8 L769.3 454.4 L769.4 453.1 L769.4 452.0 L769.5 451.0 L769.6 449.5 L769.8 447.8 L770.0 445.9 L770.2 444.0 L770.4 442.1 L770.6 440.3 L770.9 438.6 L771.1 437.0 L771.3 435.7 L771.5 434.7 L771.7 434.0 L773.0 434.8 L774.5 436.0 L775.0 434.9 L775.6 432.9 L776.2 430.7 L776.8 429.0 L777.3 428.5 L777.6 429.1 L777.9 430.3 L778.3 432.0 L778.7 434.0 L779.1 436.1 L779.5 438.2 L779.8 440.1 L780.0 441.7 L780.1 442.7 L780.3 443.9 L780.4 445.3 L780.5 446.8 L780.7 448.4 L780.8 450.0 L780.9 451.7 L781.1 453.5 L781.2 455.2 L781.3 456.9 L781.4 458.5 L781.5 460.0 L781.6 460.9 L781.6 462.0 L781.7 463.2 L781.7 464.5 L781.8 465.9 L781.9 467.4 L782.0 469.0 L782.1 470.6 L782.1 472.3 L782.2 474.0 L782.3 475.8 L782.4 477.6 L782.5 479.4 L782.6 481.1 L782.6 482.9 L782.7 484.6 L782.8 486.2 L782.8 487.8 L782.9 489.3 L783.0 490.7 L783.0 492.0 L783.0 493.0 L783.1 494.1 L783.1 495.4 L783.1 496.7 L783.1 498.2 L783.2 499.7 L783.2 501.4 L783.2 503.0 L783.3 504.8 L783.3 506.6 L783.3 508.4 L783.3 510.3 L783.4 512.1 L783.4 514.0 L783.4 515.9 L783.5 517.7 L783.5 519.5 L783.5 521.3 L783.5 523.1 L783.6 524.8 L783.6 526.4 L783.7 527.9 L783.7 529.4 L783.7 530.7 L783.8 532.0 L783.8 533.1 L783.9 534.1 L783.9 535.0 L784.0 536.8 L784.2 538.6 L784.4 540.5 L784.6 542.5 L784.8 544.4 L785.1 546.3 L785.3 548.1 L785.6 549.8 L785.9 551.4 L786.1 552.8 L786.3 554.0 L786.5 555.1 L786.7 555.8 L788.2 556.7 L789.5 557.7 L789.5 558.3 L789.6 559.1 L789.7 560.0 L789.7 561.0 L789.8 562.2 L789.8 563.5 L789.9 564.8 L789.9 566.3 L790.0 567.8 L790.1 569.4 L790.1 571.1 L790.2 572.9 L790.3 574.7 L790.3 576.5 L790.4 578.4 L790.4 580.3 L790.5 582.2 L790.6 584.1 L790.6 586.1 L790.7 588.0 L790.7 589.9 L790.8 591.8 L790.9 593.7 L790.9 595.5 L791.0 597.3 L791.0 599.0 L791.1 600.7 L791.1 602.3 L791.2 603.8 L791.2 605.3 L791.3 606.6 L791.3 607.9 L791.4 609.0 L791.4 610.0 L791.4 611.3 L791.5 612.7 L791.6 614.3 L791.6 615.9 L791.7 617.6 L791.7 619.4 L791.8 621.2 L791.8 623.1 L791.9 625.0 L792.0 626.9 L792.0 628.9 L792.1 630.8 L792.2 632.7 L792.2 634.6 L792.3 636.4 L792.4 638.2 L792.4 639.9 L792.5 641.5 L792.6 643.0 L792.6 644.4 L792.7 645.7 L792.8 646.8 L792.8 647.8 L792.9 648.6 L792.9 649.2 L793.0 649.7 L793.2 649.9 L793.5 648.4 L793.8 645.8 L794.2 642.7 L794.6 639.7 L794.9 637.3 L795.2 636.0 L795.5 636.5 L795.6 637.0 L795.6 637.6 L795.7 638.5 L795.8 639.4 L795.8 640.6 L795.9 641.8 L796.0 643.2 L796.1 644.7 L796.1 646.3 L796.2 648.0 L796.3 649.7 L796.4 651.6 L796.5 653.5 L796.6 655.4 L796.7 657.4 L796.8 659.3 L796.9 661.3 L797.0 663.3 L797.0 665.3 L797.1 667.3 L797.2 669.2 L797.3 671.1 L797.4 672.9 L797.5 674.7 L797.6 676.4 L797.6 678.0 L797.7 679.4 L797.8 680.8 L797.8 682.1 L797.9 683.2 L797.9 684.2 L798.0 685.0 L798.1 687.0 L798.3 689.1 L798.4 691.2 L798.6 693.3 L798.8 695.4 L798.9 697.4 L799.1 699.2 L799.3 700.8 L799.4 702.1 L799.6 703.1 L799.8 703.8 L799.9 704.0 L800.1 703.7 L800.3 702.7 L800.5 701.2 L800.7 699.4 L801.0 697.3 L801.3 695.1 L801.5 692.8 L801.8 690.6 L802.1 688.6 L802.3 686.9 L802.5 685.7 L802.7 685.0 L803.3 685.6 L804.1 688.2 L804.9 690.8 L805.5 691.0 L805.6 690.4 L805.8 689.6 L805.9 688.5 L806.1 687.2 L806.3 685.7 L806.5 684.1 L806.7 682.3 L806.9 680.5 L807.1 678.6 L807.3 676.6 L807.5 674.7 L807.7 672.9 L807.9 671.1 L808.0 669.4 L808.2 667.9 L808.3 666.6 L808.4 665.6 L808.5 664.3 L808.6 662.9 L808.7 661.4 L808.9 659.7 L809.0 658.0 L809.1 656.1 L809.3 654.2 L809.4 652.3 L809.5 650.3 L809.7 648.4 L809.8 646.5 L810.0 644.7 L810.1 642.9 L810.2 641.2 L810.4 639.7 L810.5 638.3 L810.6 637.1 L810.8 636.0 L810.9 635.2 L811.0 634.6 L812.1 635.1 L813.7 637.9 L814.9 638.4 L815.1 637.8 L815.2 636.8 L815.4 635.6 L815.6 634.1 L815.8 632.4 L816.0 630.6 L816.2 628.7 L816.4 626.7 L816.6 624.8 L816.8 622.9 L817.0 621.1 L817.2 619.5 L817.4 618.0 L817.5 616.8 L817.7 615.9 L818.2 614.1 L818.9 612.4 L819.6 610.9 L820.4 609.4 L821.0 607.9 L821.5 606.5 L821.7 605.5 L821.9 604.2 L822.1 602.7 L822.3 601.1 L822.4 599.4 L822.6 597.7 L822.8 595.9 L823.0 594.3 L823.1 592.8 L823.3 591.5 L823.5 590.4 L823.6 589.2 L823.8 587.8 L824.1 586.3 L824.3 584.8 L824.6 583.1 L824.9 581.4 L825.1 579.6 L825.4 577.9 L825.6 576.1 L825.8 574.4 L826.0 572.7 L826.1 571.8 L826.2 570.8 L826.3 569.7 L826.4 568.4 L826.5 567.1 L826.6 565.6 L826.7 564.1 L826.9 562.5 L827.0 560.8 L827.1 559.1 L827.3 557.3 L827.4 555.6 L827.6 553.8 L827.7 552.0 L827.8 550.2 L828.0 548.4 L828.1 546.6 L828.2 544.9 L828.4 543.3 L828.5 541.7 L828.6 540.1 L828.7 538.7 L828.8 537.3 L828.9 536.1 L829.0 535.0 L829.1 533.9 L829.2 532.6 L829.3 531.3 L829.4 529.8 L829.5 528.2 L829.6 526.6 L829.7 524.9 L829.9 523.1 L830.0 521.3 L830.1 519.5 L830.2 517.7 L830.4 515.8 L830.5 514.0 L830.6 512.2 L830.7 510.4 L830.9 508.7 L831.0 507.0 L831.1 505.5 L831.2 504.0 L831.3 502.6 L831.4 501.3 L831.5 500.2 L831.6 499.1 L831.7 498.3 L831.8 497.6 L832.2 495.4 L832.9 493.0 L833.6 491.5 L834.2 492.0 L834.3 492.6 L834.5 493.6 L834.7 494.9 L835.0 496.5 L835.2 498.3 L835.5 500.3 L835.8 502.4 L836.0 504.5 L836.3 506.7 L836.6 508.9 L836.9 511.0 L837.2 513.0 L837.4 514.9 L837.7 516.5 L837.9 517.9 L838.1 519.0 L838.3 519.7 L838.4 520.0 L838.5 519.9 L838.7 519.2 L838.8 518.2 L839.0 516.8 L839.1 515.1 L839.3 513.1 L839.4 511.0 L839.5 508.8 L839.7 506.6 L839.8 504.5 L839.9 502.4 L840.0 500.5 L840.1 498.9 L840.2 497.6 L840.3 496.5 L840.4 495.1 L840.5 493.7 L840.6 492.1 L840.7 490.5 L840.8 488.8 L840.9 487.0 L841.1 485.2 L841.2 483.5 L841.3 481.8 L841.5 480.2 L841.6 478.7 L841.7 477.3 L841.9 476.1 L842.0 475.0 L842.2 473.7 L842.5 472.2 L842.7 470.6 L843.1 468.9 L843.4 467.2 L843.8 465.4 L844.2 463.6 L844.6 462.0 L845.0 460.4 L845.3 459.0 L845.6 457.7 L845.9 456.7 L846.3 455.2 L846.9 453.5 L847.5 451.7 L848.2 449.8 L848.9 448.1 L849.6 446.6 L850.1 445.3 L850.6 444.5 L852.8 443.6 L855.0 443.6 L857.0 443.1 L859.0 441.7 L859.5 440.7 L860.0 439.1 L860.6 437.2 L861.2 435.2 L861.8 433.4 L862.4 432.0 L862.8 431.4 L863.4 431.7 L864.3 433.0 L865.1 434.8 L865.9 436.6 L866.5 438.0 L866.9 439.2 L867.4 440.8 L867.9 442.7 L868.4 444.5 L868.9 446.1 L869.3 447.3 L870.1 448.6 L871.2 449.8 L872.2 451.2 L873.0 453.0 L873.2 453.9 L873.4 455.1 L873.6 456.7 L873.8 458.5 L874.1 460.4 L874.3 462.5 L874.5 464.6 L874.8 466.6 L875.0 468.5 L875.3 470.3 L875.5 471.7 L875.7 472.9 L875.8 473.7 L876.0 474.0 L876.2 473.6 L876.4 472.5 L876.6 470.8 L876.9 468.7 L877.1 466.3 L877.4 463.8 L877.6 461.3 L877.9 459.1 L878.1 457.2 L878.3 455.8 L878.5 455.2 L878.7 455.4 L878.8 455.8 L878.8 456.4 L878.9 457.2 L879.0 458.1 L879.1 459.2 L879.2 460.4 L879.3 461.8 L879.4 463.3 L879.5 464.9 L879.6 466.6 L879.7 468.3 L879.8 470.2 L880.0 472.0 L880.1 474.0 L880.2 475.9 L880.3 477.9 L880.4 479.8 L880.5 481.8 L880.6 483.7 L880.7 485.6 L880.8 487.4 L880.9 489.1 L881.0 490.8 L881.1 492.4 L881.2 493.9 L881.3 495.3 L881.4 496.5 L881.5 497.6 L881.6 498.8 L881.7 500.1 L881.8 501.6 L881.9 503.1 L882.1 504.8 L882.2 506.6 L882.3 508.4 L882.5 510.3 L882.6 512.2 L882.8 514.2 L883.0 516.1 L883.1 518.1 L883.3 520.1 L883.4 522.0 L883.6 523.8 L883.8 525.6 L883.9 527.4 L884.1 529.0 L884.2 530.5 L884.3 531.9 L884.5 533.2 L884.6 534.3 L884.7 535.3 L884.8 536.1 L884.9 536.6 L885.0 537.0 L885.2 537.2 L885.3 536.7 L885.5 535.8 L885.7 534.3 L885.9 532.6 L886.1 530.6 L886.3 528.4 L886.5 526.1 L886.7 523.8 L886.8 521.6 L887.0 519.5 L887.1 517.7 L887.2 516.3 L887.3 515.2 L887.3 513.9 L887.4 512.4 L887.4 510.8 L887.5 509.1 L887.5 507.3 L887.6 505.5 L887.6 503.6 L887.7 501.7 L887.7 499.9 L887.8 498.1 L887.9 496.4 L887.9 494.8 L888.0 493.4 L888.1 492.1 L888.2 491.0 L888.4 489.6 L888.6 488.0 L888.9 486.2 L889.2 484.3 L889.6 482.4 L890.0 480.5 L890.4 478.6 L890.8 476.9 L891.1 475.3 L891.5 473.9 L891.8 472.8 L892.0 472.0 L893.9 471.0 L895.7 470.0 L895.9 469.3 L896.0 468.2 L896.2 467.0 L896.5 465.5 L896.7 463.8 L896.9 462.0 L897.2 460.1 L897.4 458.2 L897.7 456.2 L897.9 454.2 L898.1 452.3 L898.4 450.5 L898.6 448.8 L898.8 447.2 L899.0 445.9 L899.2 444.8 L899.4 444.0 L900.0 442.2 L900.9 440.5 L901.9 439.0 L902.9 438.0 L903.6 437.6 L904.3 438.2 L905.3 439.5 L906.3 441.2 L907.2 442.9 L907.9 444.0 L909.2 445.1 L910.6 446.2 L911.6 447.9 L911.8 448.7 L911.9 449.7 L912.1 450.9 L912.3 452.4 L912.5 453.9 L912.7 455.7 L912.9 457.5 L913.1 459.3 L913.3 461.2 L913.5 463.1 L913.7 464.9 L913.9 466.6 L914.1 468.2 L914.2 469.7 L914.4 471.0 L914.5 472.0 L914.6 473.4 L914.8 475.1 L914.9 477.0 L915.1 479.1 L915.2 481.2 L915.4 483.2 L915.5 485.2 L915.7 486.9 L915.8 488.3 L916.0 489.4 L916.1 490.0 L916.3 490.0 L916.4 489.6 L916.5 488.9 L916.7 487.9 L916.9 486.6 L917.1 485.1 L917.3 483.3 L917.5 481.5 L917.7 479.5 L917.9 477.5 L918.1 475.4 L918.4 473.4 L918.6 471.4 L918.8 469.5 L919.0 467.7 L919.2 466.2 L919.4 464.8 L919.6 463.8 L919.7 463.0 L920.8 460.5 L922.4 458.6 L923.5 459.0 L923.6 459.6 L923.8 460.6 L923.9 461.8 L924.1 463.2 L924.2 464.8 L924.4 466.6 L924.6 468.6 L924.8 470.6 L925.0 472.8 L925.2 475.0 L925.4 477.1 L925.5 479.3 L925.7 481.4 L925.9 483.5 L926.1 485.4 L926.3 487.2 L926.5 488.8 L926.6 490.2 L926.8 491.3 L926.9 492.2 L927.1 492.8 L927.2 493.0 L927.3 492.9 L927.5 492.4 L927.7 491.6 L927.9 490.4 L928.0 489.1 L928.3 487.5 L928.5 485.7 L928.7 483.8 L928.9 481.7 L929.1 479.6 L929.3 477.5 L929.6 475.4 L929.8 473.3 L930.0 471.3 L930.2 469.4 L930.4 467.6 L930.6 466.1 L930.7 464.8 L930.9 463.7 L931.0 463.0 L932.4 460.5 L934.2 460.0 L934.6 460.6 L935.1 461.6 L935.6 462.9 L936.2 464.5 L936.8 466.3 L937.3 468.2 L937.7 470.1 L938.0 472.0 L938.1 472.8 L938.2 473.7 L938.2 474.8 L938.3 476.0 L938.4 477.4 L938.5 478.8 L938.6 480.4 L938.7 482.0 L938.7 483.7 L938.8 485.4 L938.9 487.2 L939.0 489.0 L939.0 490.9 L939.1 492.7 L939.2 494.5 L939.3 496.3 L939.3 498.0 L939.4 499.7 L939.5 501.3 L939.5 502.9 L939.6 504.3 L939.7 505.7 L939.7 506.9 L939.8 508.0 L939.9 509.2 L939.9 510.6 L940.0 512.2 L940.1 513.9 L940.2 515.7 L940.3 517.7 L940.4 519.7 L940.5 521.7 L940.6 523.8 L940.8 525.8 L940.9 527.9 L941.0 529.9 L941.1 531.8 L941.2 533.6 L941.3 535.3 L941.4 536.9 L941.5 538.3 L941.6 539.5 L941.7 540.5 L941.8 541.3 L941.9 541.8 L942.0 542.0 L942.1 541.9 L942.2 541.4 L942.3 540.6 L942.4 539.4 L942.5 538.1 L942.6 536.5 L942.8 534.7 L942.9 532.8 L943.0 530.8 L943.2 528.7 L943.3 526.5 L943.5 524.4 L943.6 522.3 L943.7 520.3 L943.9 518.4 L944.0 516.7 L944.1 515.1 L944.3 513.8 L944.4 512.8 L944.5 512.0 L945.6 509.5 L947.2 507.6 L948.3 508.0 L948.4 508.6 L948.5 509.4 L948.6 510.5 L948.7 511.7 L948.8 513.1 L948.9 514.7 L949.0 516.4 L949.1 518.2 L949.2 520.0 L949.3 521.9 L949.4 523.8 L949.5 525.7 L949.6 527.7 L949.7 529.5 L949.8 531.3 L949.8 533.0 L949.9 534.6 L950.0 536.0 L950.1 537.0 L950.1 538.1 L950.2 539.4 L950.2 540.8 L950.3 542.3 L950.4 543.9 L950.4 545.6 L950.5 547.3 L950.6 549.1 L950.7 551.0 L950.8 552.9 L950.8 554.8 L950.9 556.7 L951.0 558.7 L951.1 560.6 L951.2 562.5 L951.3 564.3 L951.3 566.1 L951.4 567.8 L951.5 569.5 L951.6 571.0 L951.7 572.5 L951.7 573.8 L951.8 575.0 L951.9 576.1 L951.9 577.0 L952.0 577.7 L952.3 580.0 L952.9 582.4 L953.5 584.5 L954.1 585.8 L954.5 586.0 L954.7 585.3 L954.9 584.0 L955.1 582.2 L955.4 580.0 L955.6 577.7 L955.9 575.4 L956.1 573.3 L956.3 571.6 L956.5 570.5 L956.7 570.0 L956.9 570.2 L957.1 570.9 L957.3 572.0 L957.5 573.5 L957.7 575.2 L957.9 577.1 L958.2 579.1 L958.3 581.1 L958.5 583.1 L958.6 585.0 L958.6 585.7 L958.7 586.5 L958.7 587.5 L958.7 588.5 L958.8 589.6 L958.8 590.8 L958.9 592.0 L958.9 593.4 L959.0 594.8 L959.0 596.3 L959.0 597.8 L959.1 599.5 L959.1 601.1 L959.2 602.8 L959.2 604.6 L959.3 606.3 L959.3 608.1 L959.4 610.0 L959.4 611.8 L959.5 613.7 L959.5 615.6 L959.6 617.5 L959.7 619.4 L959.7 621.3 L959.8 623.2 L959.8 625.0 L959.9 626.9 L959.9 628.7 L960.0 630.5 L960.0 632.3 L960.1 634.0 L960.1 635.7 L960.1 637.3 L960.2 638.9 L960.2 640.4 L960.3 641.9 L960.3 643.3 L960.4 644.6 L960.4 645.8 L960.4 647.0 L960.5 648.0 L960.5 649.0 L960.5 650.3 L960.6 651.7 L960.6 653.1 L960.7 654.6 L960.8 656.1 L960.8 657.7 L960.9 659.4 L960.9 661.0 L961.0 662.7 L961.1 664.5 L961.1 666.2 L961.2 668.0 L961.3 669.7 L961.3 671.5 L961.4 673.3 L961.5 675.0 L961.5 676.8 L961.6 678.5 L961.7 680.2 L961.7 681.8 L961.8 683.4 L961.9 685.0 L961.9 686.5 L962.0 688.0 L962.1 689.4 L962.1 690.7 L962.2 691.9 L962.2 693.1 L962.3 694.1 L962.4 695.1 L962.4 696.0 L962.5 697.6 L962.6 699.5 L962.7 701.5 L962.9 703.6 L963.0 705.8 L963.1 708.0 L963.3 710.2 L963.4 712.4 L963.6 714.4 L963.8 716.4 L963.9 718.1 L964.0 719.6 L964.2 720.8 L964.3 721.7 L964.4 722.2 L964.5 722.3 L964.6 722.0 L964.6 721.6 L964.7 721.1 L964.7 720.5 L964.7 719.7 L964.8 718.8 L964.8 717.7 L964.9 716.6 L964.9 715.3 L964.9 714.0 L965.0 712.5 L965.0 711.0 L965.1 709.4 L965.1 707.7 L965.2 705.9 L965.2 704.1 L965.2 702.3 L965.3 700.4 L965.3 698.5 L965.4 696.6 L965.4 694.6 L965.5 692.7 L965.5 690.7 L965.5 688.8 L965.6 686.9 L965.6 684.9 L965.7 683.1 L965.7 681.2 L965.7 679.5 L965.8 677.7 L965.8 676.1 L965.8 674.5 L965.9 672.9 L965.9 671.5 L965.9 670.2 L966.0 668.9 L966.0 667.8 L966.0 666.7 L966.1 665.5 L966.1 664.3 L966.1 663.0 L966.2 661.6 L966.2 660.2 L966.2 658.7 L966.3 657.1 L966.3 655.5 L966.3 653.9 L966.4 652.2 L966.4 650.5 L966.5 648.7 L966.5 647.0 L966.5 645.2 L966.6 643.4 L966.6 641.6 L966.7 639.8 L966.7 638.0 L966.8 636.2 L966.8 634.4 L966.8 632.7 L966.9 630.9 L966.9 629.2 L967.0 627.5 L967.0 625.9 L967.0 624.3 L967.1 622.7 L967.1 621.2 L967.2 619.7 L967.2 618.3 L967.2 617.0 L967.3 615.8 L967.3 614.6 L967.3 613.5 L967.4 612.4 L967.4 611.5 L967.4 610.1 L967.5 608.7 L967.5 607.2 L967.6 605.7 L967.7 604.1 L967.7 602.4 L967.8 600.7 L967.8 599.0 L967.9 597.3 L968.0 595.5 L968.0 593.8 L968.1 592.1 L968.2 590.3 L968.2 588.7 L968.3 587.0 L968.4 585.4 L968.5 583.8 L968.5 582.3 L968.6 580.8 L968.7 579.5 L968.7 578.2 L968.8 577.0 L968.9 575.9 L968.9 574.9 L969.0 574.0 L969.1 572.5 L969.3 570.8 L969.5 569.1 L969.7 567.3 L969.9 565.5 L970.1 563.6 L970.3 561.9 L970.6 560.1 L970.8 558.5 L971.0 557.0 L971.2 555.7 L971.4 554.6 L971.6 553.7 L971.7 553.0 L974.0 553.0 L974.4 554.2 L974.9 556.4 L975.4 558.7 L975.9 560.4 L976.4 560.8 L976.7 560.2 L977.0 559.0 L977.4 557.3 L977.8 555.3 L978.3 553.2 L978.7 551.1 L979.2 549.1 L979.6 547.4 L979.9 546.3 L980.2 545.7 L980.6 545.9 L981.1 547.1 L981.6 548.9 L982.2 551.0 L982.6 553.1 L983.0 555.0 L983.2 556.0 L983.4 557.2 L983.6 558.6 L983.9 560.2 L984.1 561.9 L984.4 563.7 L984.7 565.5 L984.9 567.4 L985.2 569.2 L985.4 570.9 L985.6 572.5 L985.8 574.0 L985.9 575.0 L986.1 576.3 L986.2 577.7 L986.4 579.3 L986.5 581.0 L986.7 582.8 L986.9 584.6 L987.1 586.5 L987.2 588.5 L987.4 590.4 L987.6 592.3 L987.8 594.1 L987.9 595.8 L988.1 597.4 L988.2 598.8 L988.4 600.1 L988.5 601.2 L988.6 602.0 L988.9 604.3 L989.3 606.8 L989.8 609.0 L990.2 610.4 L990.5 610.5 L990.6 610.0 L990.8 609.0 L991.0 607.6 L991.2 606.0 L991.4 604.1 L991.5 602.1 L991.7 600.1 L991.9 598.0 L992.1 596.1 L992.3 594.3 L992.4 592.7 L992.5 591.7 L992.6 590.4 L992.7 588.9 L992.8 587.3 L992.9 585.5 L993.0 583.7 L993.1 581.7 L993.2 579.8 L993.3 577.8 L993.5 575.9 L993.6 574.0 L993.7 572.3 L993.8 570.6 L993.9 569.1 L994.1 567.9 L994.2 566.8 L994.3 566.0 L994.9 564.5 L996.0 563.3 L997.1 562.3 L998.0 560.8 L998.3 559.8 L998.7 558.3 L999.1 556.5 L999.5 554.5 L999.9 552.4 L1000.4 550.3 L1000.8 548.5 L1001.2 547.0 L1001.5 546.1 L1001.8 545.7 L1002.0 546.1 L1002.3 547.1 L1002.6 548.5 L1002.9 550.4 L1003.2 552.4 L1003.5 554.5 L1003.8 556.6 L1004.0 558.4 L1004.3 559.8 L1004.6 560.8 L1006.1 562.2 L1008.1 563.0 L1009.3 564.5 L1009.4 565.2 L1009.5 566.0 L1009.6 567.0 L1009.7 568.1 L1009.7 569.3 L1009.8 570.6 L1009.9 572.1 L1010.0 573.6 L1010.1 575.2 L1010.2 576.9 L1010.2 578.6 L1010.3 580.4 L1010.4 582.2 L1010.5 584.0 L1010.5 585.9 L1010.6 587.7 L1010.7 589.5 L1010.7 591.3 L1010.8 593.0 L1010.9 594.7 L1010.9 596.4 L1011.0 597.9 L1011.1 599.4 L1011.1 600.7 L1011.2 602.0 L1011.2 603.0 L1011.3 604.2 L1011.4 605.5 L1011.4 606.9 L1011.5 608.4 L1011.6 610.0 L1011.6 611.8 L1011.7 613.6 L1011.8 615.4 L1011.9 617.3 L1012.0 619.3 L1012.0 621.3 L1012.1 623.3 L1012.2 625.3 L1012.3 627.3 L1012.4 629.3 L1012.5 631.3 L1012.6 633.2 L1012.7 635.1 L1012.8 637.0 L1012.8 638.7 L1012.9 640.4 L1013.0 642.0 L1013.1 643.4 L1013.2 644.8 L1013.2 646.0 L1013.3 647.1 L1013.4 648.0 L1013.4 648.8 L1013.5 649.4 L1013.6 649.8 L1013.6 650.0 L1013.7 650.0 L1013.7 649.6 L1013.8 649.0 L1013.9 648.1 L1013.9 647.0 L1014.0 645.7 L1014.1 644.2 L1014.2 642.5 L1014.3 640.7 L1014.3 638.7 L1014.4 636.7 L1014.5 634.6 L1014.6 632.4 L1014.7 630.3 L1014.8 628.1 L1014.9 625.9 L1014.9 623.8 L1015.0 621.8 L1015.1 619.9 L1015.2 618.0 L1015.2 616.3 L1015.3 614.8 L1015.4 613.5 L1015.4 612.4 L1015.5 611.5 L1015.7 609.7 L1015.9 607.9 L1016.1 606.3 L1016.3 604.7 L1016.6 603.1 L1016.9 601.6 L1017.1 600.2 L1017.3 598.8 L1017.5 597.4 L1017.7 596.0 L1017.8 595.0 L1017.9 593.7 L1018.0 592.1 L1018.2 590.4 L1018.3 588.5 L1018.4 586.5 L1018.6 584.4 L1018.7 582.4 L1018.8 580.4 L1019.0 578.5 L1019.1 576.8 L1019.2 575.3 L1019.3 574.0 L1019.4 573.0 L1019.5 572.3 L1019.6 572.0 L1019.7 572.2 L1019.8 572.9 L1019.8 574.0 L1019.9 575.4 L1020.0 577.2 L1020.1 579.1 L1020.2 581.2 L1020.2 583.4 L1020.3 585.5 L1020.4 587.6 L1020.5 589.5 L1020.5 591.3 L1020.6 592.7 L1020.7 593.8 L1020.7 595.1 L1020.8 596.6 L1020.9 598.3 L1021.0 600.0 L1021.1 601.9 L1021.1 603.8 L1021.2 605.8 L1021.3 607.7 L1021.4 609.6 L1021.5 611.4 L1021.6 613.2 L1021.7 614.7 L1021.8 616.2 L1021.8 617.4 L1021.9 618.3 L1021.9 619.0" fill="none" stroke="#ff00ff" stroke-width="5.8" stroke-linejoin="round" stroke-linecap="round"/>
<text transform="translate(209.0,410.2) scale(1,1.04)" font-size="21">3300-3000 cm<tspan font-size="11.6" dy="-9.9">-1</tspan></text>
<text transform="translate(209.0,453.1) scale(1,1.04)" font-size="21">N-H</text>
<text transform="translate(653.6,555.2) scale(1,1.04)" font-size="21">1650 cm<tspan font-size="11.6" dy="-9.9">-1</tspan></text>
<text transform="translate(653.6,598.0) scale(1,1.04)" font-size="21">C- N</text>
<text transform="translate(689.7,812.8) scale(1,1.04)" font-size="21">1568 cm<tspan font-size="11.6" dy="-9.9">-1</tspan></text>
<text transform="translate(690.0,855.1) scale(1,1.04)" font-size="21">COO<tspan font-size="11.6" dy="-9.9">-1</tspan></text>
<text transform="translate(782.1,731.2) scale(1,1.04)" font-size="21">1374 cm<tspan font-size="11.6" dy="-9.9">-1</tspan></text>
<text transform="translate(782.4,772.9) scale(1,1.04)" font-size="21">COO<tspan font-size="11.6" dy="-9.9">-1</tspan></text>
<text transform="translate(838.8,575.0) scale(1,1.04)" font-size="21">1260 cm<tspan font-size="11.6" dy="-9.9">-1</tspan></text>
<text transform="translate(839.2,618.3) scale(1,1.04)" font-size="21">C- N</text>
<text transform="translate(965.6,672.8) scale(1,1.04)" font-size="21">578 cm<tspan font-size="11.6" dy="-9.9">-1</tspan></text>
<text transform="translate(965.2,715.3) scale(1,1.04)" font-size="21">Ni-O</text>
<text transform="translate(928.9,760.2) scale(1,1.04)" font-size="21">761 cm<tspan font-size="11.6" dy="-9.9">-1</tspan></text>
<text transform="translate(928.9,801.5) scale(1,1.04)" font-size="21">C- H</text>
<path d="M95.9 41.8 H1032.3 V871.8 H95.9 Z" fill="none" stroke="#000" stroke-width="5.6" stroke-linejoin="round"/>
<line x1="95.9" y1="871.8" x2="95.9" y2="885.2" stroke="#000" stroke-width="5.6" stroke-linecap="round"/>
<line x1="162.8" y1="871.8" x2="162.8" y2="879.0" stroke="#000" stroke-width="5.6" stroke-linecap="round"/>
<line x1="229.8" y1="871.8" x2="229.8" y2="885.2" stroke="#000" stroke-width="5.6" stroke-linecap="round"/>
<line x1="296.7" y1="871.8" x2="296.7" y2="879.0" stroke="#000" stroke-width="5.6" stroke-linecap="round"/>
<line x1="363.6" y1="871.8" x2="363.6" y2="885.2" stroke="#000" stroke-width="5.6" stroke-linecap="round"/>
<line x1="430.6" y1="871.8" x2="430.6" y2="879.0" stroke="#000" stroke-width="5.6" stroke-linecap="round"/>
<line x1="497.5" y1="871.8" x2="497.5" y2="885.2" stroke="#000" stroke-width="5.6" stroke-linecap="round"/>
<line x1="564.4" y1="871.8" x2="564.4" y2="879.0" stroke="#000" stroke-width="5.6" stroke-linecap="round"/>
<line x1="631.4" y1="871.8" x2="631.4" y2="885.2" stroke="#000" stroke-width="5.6" stroke-linecap="round"/>
<line x1="698.3" y1="871.8" x2="698.3" y2="879.0" stroke="#000" stroke-width="5.6" stroke-linecap="round"/>
<line x1="765.3" y1="871.8" x2="765.3" y2="885.2" stroke="#000" stroke-width="5.6" stroke-linecap="round"/>
<line x1="832.2" y1="871.8" x2="832.2" y2="879.0" stroke="#000" stroke-width="5.6" stroke-linecap="round"/>
<line x1="899.1" y1="871.8" x2="899.1" y2="885.2" stroke="#000" stroke-width="5.6" stroke-linecap="round"/>
<line x1="966.1" y1="871.8" x2="966.1" y2="879.0" stroke="#000" stroke-width="5.6" stroke-linecap="round"/>
<line x1="1033.0" y1="871.8" x2="1033.0" y2="885.2" stroke="#000" stroke-width="5.6" stroke-linecap="round"/>
<text transform="translate(95.9,921) scale(1,1.04)" font-size="34" text-anchor="middle">4000</text>
<text transform="translate(230.1,921) scale(1,1.04)" font-size="34" text-anchor="middle">3500</text>
<text transform="translate(364.2,921) scale(1,1.04)" font-size="34" text-anchor="middle">3000</text>
<text transform="translate(498.4,921) scale(1,1.04)" font-size="34" text-anchor="middle">2500</text>
<text transform="translate(632.6,921) scale(1,1.04)" font-size="34" text-anchor="middle">2000</text>
<text transform="translate(766.8,921) scale(1,1.04)" font-size="34" text-anchor="middle">1500</text>
<text transform="translate(900.9,921) scale(1,1.04)" font-size="34" text-anchor="middle">1000</text>
<text transform="translate(1035.1,921) scale(1,1.04)" font-size="34" text-anchor="middle">500</text>
<text transform="translate(402,986.8) scale(1,1.04)" font-size="36.9">Wavenumber(cm<tspan font-size="20.5" dy="-16.5" dx="1.3">-1</tspan><tspan font-size="36.9" dy="16.5" dx="0.8">)</tspan></text>
<text transform="translate(51,609) rotate(-90) scale(1,1.04)" font-size="34.8">Tranmittance (%)</text>
<text x="0" y="37.2" font-size="39.8">(a)</text>
<rect x="112.4" y="640" width="476.2" height="200.8" fill="#fff" stroke="#000" stroke-width="1.5"/>
<line x1="156.3" y1="670.5" x2="215" y2="670.5" stroke="#000" stroke-width="6.6" stroke-linecap="round"/>
<text transform="translate(224.2,679.3) scale(1.029,1.04)" font-size="29.2" word-spacing="1.3">NiNH<tspan font-size="21" dy="10.5">2</tspan><tspan font-size="29.2" dy="-10.5">BDC MOF</tspan></text>
<line x1="156.3" y1="718.8" x2="215" y2="718.8" stroke="#ff0000" stroke-width="6.6" stroke-linecap="round"/>
<text transform="translate(224.2,727.5) scale(1.029,1.04)" font-size="29.2" word-spacing="1.3">NiNH<tspan font-size="21" dy="10.5">2</tspan><tspan font-size="29.2" dy="-10.5">BDC / 1 wt % rGO</tspan></text>
<line x1="156.3" y1="766.8" x2="215" y2="766.8" stroke="#0000ff" stroke-width="6.6" stroke-linecap="round"/>
<text transform="translate(224.2,776.0) scale(1.029,1.04)" font-size="29.2" word-spacing="1.3">NiNH<tspan font-size="21" dy="10.5">2</tspan><tspan font-size="29.2" dy="-10.5">BDC / 2 wt % rGO</tspan></text>
<line x1="156.3" y1="815.0" x2="215" y2="815.0" stroke="#ff00ff" stroke-width="6.6" stroke-linecap="round"/>
<text transform="translate(224.2,824.2) scale(1.029,1.04)" font-size="29.2" word-spacing="1.3">NiNH<tspan font-size="21" dy="10.5">2</tspan><tspan font-size="29.2" dy="-10.5">BDC / 5 wt % rGO</tspan></text>
<path d="M97.5 1288.9 L97.8 1288.1 L98.2 1288.8 L98.7 1288.8 L99.3 1287.8 L99.9 1286.5 L100.6 1286.3 L101.4 1286.7 L102.2 1287.8 L103.0 1286.1 L103.9 1286.9 L104.8 1287.5 L105.7 1287.1 L106.7 1287.1 L107.7 1288.1 L108.7 1289.2 L109.7 1288.5 L110.7 1287.8 L111.7 1287.7 L112.7 1288.8 L113.6 1288.8 L114.6 1290.2 L115.5 1289.7 L116.3 1290.0 L117.2 1289.2 L118.0 1288.7 L118.7 1289.7 L119.4 1289.5 L120.0 1289.5 L120.6 1288.7 L121.2 1289.3 L121.9 1289.3 L122.6 1288.0 L123.3 1287.2 L124.1 1288.3 L124.9 1287.2 L125.8 1288.3 L126.7 1287.5 L127.5 1286.1 L128.5 1288.0 L129.4 1287.4 L130.3 1288.1 L131.3 1288.0 L132.2 1286.2 L133.1 1287.0 L134.1 1286.4 L135.0 1288.3 L135.9 1289.0 L136.8 1288.7 L137.7 1287.4 L138.5 1286.9 L139.4 1286.7 L140.1 1287.6 L140.9 1288.7 L141.6 1289.0 L142.3 1289.6 L142.9 1289.8 L143.5 1287.7 L144.0 1289.2 L144.7 1288.5 L145.4 1287.8 L146.2 1287.4 L147.0 1286.6 L147.8 1286.0 L148.7 1285.9 L149.5 1285.7 L150.4 1285.5 L151.3 1286.1 L152.2 1286.7 L153.1 1286.7 L154.0 1286.2 L154.9 1285.7 L155.8 1286.6 L156.7 1284.6 L157.5 1285.0 L158.4 1285.0 L159.2 1286.2 L159.9 1285.1 L160.7 1284.6 L161.4 1283.4 L162.0 1285.5 L162.6 1286.5 L163.2 1286.0 L163.9 1284.8 L164.6 1286.7 L165.4 1287.2 L166.2 1286.8 L167.1 1287.3 L168.0 1285.5 L168.9 1284.5 L169.9 1284.1 L170.8 1283.9 L171.8 1285.2 L172.8 1286.5 L173.7 1286.8 L174.7 1286.7 L175.6 1285.5 L176.6 1286.3 L177.5 1286.9 L178.3 1288.1 L179.1 1285.9 L179.9 1285.6 L180.7 1285.9 L181.3 1287.6 L182.0 1286.3 L182.5 1287.2 L183.0 1287.8 L183.7 1286.8 L184.4 1288.1 L185.1 1287.7 L185.9 1287.6 L186.6 1288.2 L187.4 1289.5 L188.1 1290.3 L188.9 1291.7 L189.6 1289.9 L190.4 1291.4 L191.1 1291.3 L191.8 1291.9 L192.5 1293.0 L193.2 1293.5 L193.8 1293.7 L194.4 1294.8 L195.0 1294.0 L195.4 1295.9 L195.9 1295.1 L196.4 1294.7 L197.0 1294.8 L197.6 1295.8 L198.2 1295.8 L198.8 1295.5 L199.5 1296.8 L200.2 1297.8 L200.9 1298.3 L201.6 1299.5 L202.4 1298.8 L203.1 1299.8 L203.8 1301.6 L204.5 1302.2 L205.3 1302.4 L205.9 1302.1 L206.6 1302.3 L207.3 1304.1 L207.9 1304.0 L208.5 1305.6 L209.0 1306.6 L209.5 1307.4 L210.0 1308.0 L210.4 1307.9 L210.9 1308.8 L211.4 1308.4 L212.0 1308.5 L212.6 1308.6 L213.2 1310.0 L213.8 1310.4 L214.4 1311.1 L215.1 1311.6 L215.8 1313.1 L216.5 1312.8 L217.2 1314.3 L217.8 1314.2 L218.5 1315.7 L219.2 1314.4 L219.9 1314.8 L220.6 1315.1 L221.2 1316.8 L221.8 1317.2 L222.4 1316.3 L223.0 1318.2 L223.6 1319.2 L224.1 1319.2 L224.6 1318.9 L225.0 1321.2 L225.5 1321.9 L226.0 1322.5 L226.5 1321.3 L227.1 1323.1 L227.7 1322.8 L228.3 1323.3 L229.0 1325.0 L229.7 1323.3 L230.4 1324.1 L231.1 1325.6 L231.8 1327.1 L232.6 1327.5 L233.3 1327.0 L234.0 1328.8 L234.7 1329.5 L235.4 1328.9 L236.1 1330.1 L236.7 1329.5 L237.4 1330.5 L238.0 1330.2 L238.5 1330.9 L239.1 1331.9 L239.6 1331.4 L240.0 1331.9 L240.4 1332.4 L240.9 1331.2 L241.4 1330.8 L242.0 1331.3 L242.6 1332.6 L243.2 1333.5 L243.8 1333.0 L244.4 1333.5 L245.1 1334.0 L245.8 1335.8 L246.4 1335.6 L247.1 1336.3 L247.8 1337.5 L248.4 1338.6 L249.1 1338.1 L249.7 1339.3 L250.3 1340.9 L250.9 1340.6 L251.5 1341.9 L252.0 1342.2 L252.5 1343.2 L253.0 1345.2 L253.4 1343.6 L253.8 1343.8 L254.3 1344.3 L254.8 1344.2 L255.4 1346.6 L256.1 1347.3 L256.7 1349.2 L257.4 1347.8 L258.1 1347.8 L258.7 1349.0 L259.4 1350.4 L260.1 1351.3 L260.8 1351.7 L261.4 1351.2 L262.0 1352.4 L262.6 1354.2 L263.1 1353.4 L263.6 1355.8 L264.0 1356.1 L264.3 1356.7 L264.6 1357.9 L264.9 1357.4 L265.2 1358.3 L265.5 1358.9 L265.8 1359.3 L266.1 1360.3 L266.5 1361.1 L266.8 1362.1 L267.1 1363.0 L267.4 1364.3 L267.7 1365.6 L267.9 1366.1 L268.2 1367.2 L268.5 1367.8 L268.7 1368.5 L268.9 1369.1 L269.1 1369.7 L269.3 1370.7 L269.4 1371.1 L269.6 1372.1 L269.8 1372.6 L270.0 1374.0 L270.1 1374.9 L270.3 1376.2 L270.4 1377.0 L270.6 1378.1 L270.7 1379.0 L270.9 1379.7 L271.0 1380.0 L271.2 1378.9 L271.4 1379.9 L271.6 1379.2 L271.8 1378.2 L272.0 1377.7 L272.3 1376.9 L272.6 1375.8 L272.9 1374.6 L273.2 1373.4 L273.5 1372.8 L273.9 1372.1 L274.2 1371.1 L274.5 1370.6 L274.8 1370.3 L275.3 1369.9 L275.9 1367.8 L276.6 1368.8 L277.4 1367.9 L278.2 1367.5 L279.1 1366.3 L280.0 1366.9 L280.8 1366.8 L281.6 1365.5 L282.3 1365.1 L282.8 1367.8 L283.4 1366.6 L284.1 1368.6 L284.9 1369.6 L285.7 1369.2 L286.5 1368.7 L287.4 1368.2 L288.3 1368.3 L289.2 1371.0 L290.0 1370.9 L290.8 1370.4 L291.6 1372.2 L292.2 1370.9 L292.8 1372.9 L293.4 1372.2 L294.2 1370.9 L295.0 1370.5 L295.9 1370.7 L296.9 1372.2 L297.8 1372.3 L298.8 1371.7 L299.7 1372.6 L300.6 1370.8 L301.5 1371.8 L302.2 1370.5 L302.8 1371.5 L303.3 1371.4 L303.8 1371.5 L304.3 1371.7 L304.7 1372.4 L305.2 1372.3 L305.6 1373.8 L306.0 1375.2 L306.5 1376.2 L306.8 1376.8 L307.2 1377.6 L307.5 1377.9 L307.8 1378.8 L308.2 1379.8 L308.7 1381.2 L309.2 1382.0 L309.8 1383.0 L310.3 1382.5 L310.9 1384.1 L311.4 1384.6 L311.8 1385.1 L312.1 1385.3 L312.5 1383.0 L312.9 1383.7 L313.3 1382.5 L313.8 1381.6 L314.3 1380.5 L314.8 1380.5 L315.4 1379.7 L315.9 1379.0 L316.4 1378.5 L316.9 1377.8 L317.3 1376.9 L317.7 1375.7 L318.3 1374.5 L318.8 1374.1 L319.5 1373.1 L320.1 1371.8 L320.9 1371.2 L321.6 1370.3 L322.3 1371.0 L323.1 1370.2 L323.9 1369.4 L324.6 1368.3 L325.4 1368.9 L326.1 1367.7 L326.8 1368.9 L327.4 1368.7 L327.9 1367.9 L328.4 1368.4 L329.0 1367.5 L329.7 1367.3 L330.4 1368.3 L331.2 1366.8 L332.0 1368.1 L332.8 1367.5 L333.7 1366.7 L334.6 1367.3 L335.5 1366.2 L336.4 1365.8 L337.3 1365.3 L338.2 1365.5 L339.1 1364.3 L340.0 1365.5 L340.9 1365.4 L341.8 1366.7 L342.6 1366.7 L343.4 1365.5 L344.1 1366.8 L344.8 1364.4 L345.4 1364.9 L346.0 1362.8 L346.6 1363.7 L347.3 1362.8 L348.0 1363.1 L348.8 1363.3 L349.7 1364.7 L350.6 1363.0 L351.5 1363.8 L352.4 1363.1 L353.4 1362.8 L354.3 1363.4 L355.3 1362.4 L356.3 1361.9 L357.3 1360.9 L358.2 1361.0 L359.2 1361.3 L360.1 1360.2 L361.0 1361.6 L361.9 1362.0 L362.7 1361.1 L363.5 1361.8 L364.2 1360.5 L364.8 1361.2 L365.4 1360.5 L366.0 1361.2 L366.4 1359.4 L367.3 1360.1 L368.2 1361.1 L369.1 1360.4 L370.0 1359.7 L370.8 1360.9 L371.6 1362.2 L372.4 1362.8 L373.2 1363.4 L374.0 1362.4 L374.7 1361.3 L375.5 1362.8 L375.9 1362.4 L376.5 1362.1 L377.1 1362.1 L377.7 1363.0 L378.4 1362.1 L379.2 1361.4 L380.0 1360.1 L380.8 1359.6 L381.7 1358.7 L382.5 1357.9 L383.4 1357.8 L384.3 1356.6 L385.1 1356.9 L386.0 1356.7 L386.8 1357.5 L387.5 1356.6 L388.3 1357.2 L388.9 1355.4 L389.5 1354.2 L390.0 1352.7 L390.5 1352.4 L391.2 1353.6 L391.9 1352.7 L392.6 1353.2 L393.3 1352.7 L394.0 1351.2 L394.7 1352.9 L395.5 1352.5 L396.2 1351.0 L397.0 1351.6 L397.8 1351.6 L398.5 1351.9 L399.3 1350.8 L400.0 1350.1 L400.4 1348.4 L400.9 1349.7 L401.4 1350.1 L402.0 1348.7 L402.6 1348.2 L403.3 1347.8 L404.0 1348.0 L404.8 1346.9 L405.6 1345.1 L406.4 1345.9 L407.2 1344.0 L408.0 1344.4 L408.9 1343.8 L409.7 1343.8 L410.6 1344.4 L411.4 1343.9 L412.2 1342.5 L413.0 1341.1 L413.8 1341.1 L414.5 1341.3 L415.2 1340.4 L415.9 1340.6 L416.5 1340.5 L417.1 1341.3 L417.6 1339.9 L418.0 1341.2 L418.7 1339.0 L419.5 1339.6 L420.3 1337.6 L421.1 1337.9 L421.9 1338.2 L422.7 1338.2 L423.6 1339.1 L424.4 1338.5 L425.3 1339.3 L426.1 1342.0 L426.9 1342.2 L427.7 1342.4 L428.5 1341.7 L429.3 1340.8 L430.0 1341.1 L430.4 1341.3 L430.9 1342.1 L431.4 1341.0 L431.9 1340.6 L432.5 1339.0 L433.1 1337.7 L433.8 1337.9 L434.5 1338.1 L435.2 1335.9 L435.9 1336.4 L436.7 1335.3 L437.5 1335.5 L438.2 1333.8 L439.0 1333.9 L439.8 1332.2 L440.5 1333.5 L441.3 1330.6 L442.1 1330.2 L442.8 1329.4 L443.5 1330.1 L444.2 1329.7 L444.9 1327.5 L445.5 1328.3 L446.1 1326.8 L446.6 1326.6 L447.1 1327.0 L447.6 1326.4 L448.0 1327.0 L448.7 1325.8 L449.5 1325.4 L450.3 1325.6 L451.1 1324.7 L451.9 1326.2 L452.7 1325.9 L453.6 1325.8 L454.4 1326.2 L455.3 1326.4 L456.1 1327.5 L456.9 1326.9 L457.7 1326.2 L458.5 1326.8 L459.3 1327.0 L460.0 1327.1 L460.5 1326.3 L461.0 1325.7 L461.6 1326.3 L462.3 1325.6 L463.0 1327.3 L463.7 1326.1 L464.5 1326.8 L465.3 1327.1 L466.1 1326.2 L467.0 1325.1 L467.9 1325.8 L468.7 1324.2 L469.6 1324.3 L470.5 1322.8 L471.4 1321.6 L472.2 1322.8 L473.1 1323.1 L473.9 1321.6 L474.7 1321.6 L475.5 1320.2 L476.2 1320.8 L476.8 1320.4 L477.4 1321.0 L478.0 1319.9 L478.6 1320.6 L479.3 1321.3 L480.0 1319.3 L480.8 1320.4 L481.6 1320.5 L482.4 1319.8 L483.3 1321.5 L484.2 1320.3 L485.1 1319.1 L486.1 1319.5 L487.0 1319.8 L487.9 1319.5 L488.9 1318.5 L489.8 1319.7 L490.7 1319.2 L491.6 1319.9 L492.4 1319.6 L493.2 1319.3 L494.0 1317.5 L494.7 1317.6 L495.4 1317.1 L496.0 1318.2 L496.6 1317.2 L497.3 1317.4 L498.0 1317.1 L498.8 1318.5 L499.7 1319.7 L500.5 1318.7 L501.4 1318.5 L502.4 1319.6 L503.3 1318.9 L504.3 1319.4 L505.3 1318.2 L506.2 1320.5 L507.2 1319.7 L508.1 1320.1 L509.0 1320.0 L509.9 1322.1 L510.7 1321.9 L511.5 1321.1 L512.2 1321.5 L512.9 1320.4 L513.5 1320.9 L514.0 1321.1 L514.5 1320.5 L515.0 1320.7 L515.6 1319.9 L516.1 1318.1 L516.7 1317.9 L517.3 1318.0 L517.9 1317.8 L518.5 1316.8 L519.1 1314.9 L519.7 1314.1 L520.3 1313.6 L520.9 1314.7 L521.5 1314.5 L522.1 1311.7 L522.7 1312.6 L523.3 1312.5 L523.9 1312.5 L524.4 1311.9 L525.0 1310.3 L525.5 1310.6 L526.0 1310.6 L526.3 1309.1 L526.7 1309.6 L527.1 1307.6 L527.5 1307.5 L528.0 1308.2 L528.5 1308.0 L529.0 1306.2 L529.5 1306.2 L530.0 1304.7 L530.6 1305.6 L531.2 1305.7 L531.8 1304.4 L532.4 1303.6 L533.0 1302.2 L533.7 1301.8 L534.3 1298.9 L534.9 1300.0 L535.6 1299.6 L536.2 1297.6 L536.8 1296.2 L537.4 1295.0 L538.1 1293.3 L538.7 1294.8 L539.3 1292.2 L539.8 1292.1 L540.4 1292.6 L540.9 1290.9 L541.5 1291.6 L542.0 1290.0 L542.4 1289.2 L542.9 1287.9 L543.3 1287.8 L543.7 1287.9 L544.0 1289.1 L544.6 1288.8 L545.2 1287.8 L545.8 1286.9 L546.5 1287.0 L547.2 1288.4 L547.9 1285.9 L548.7 1285.0 L549.4 1285.1 L550.2 1282.1 L550.9 1281.4 L551.7 1282.2 L552.4 1278.8 L553.2 1280.1 L553.9 1279.1 L554.6 1277.3 L555.2 1276.8 L555.8 1278.6 L556.4 1278.0 L556.9 1279.4 L557.3 1276.7 L557.7 1277.3 L558.1 1278.9 L558.5 1277.6 L558.9 1277.4 L559.3 1278.9 L559.8 1281.7 L560.2 1281.4 L560.6 1281.5 L561.0 1282.4 L561.5 1283.0 L561.9 1283.8 L562.3 1284.8 L562.7 1286.2 L563.1 1286.6 L563.4 1287.9 L563.8 1288.8 L564.1 1289.1 L564.4 1290.3 L564.7 1291.3 L565.0 1290.7 L565.4 1291.3 L565.9 1291.6 L566.4 1290.5 L566.9 1293.2 L567.5 1296.8 L568.1 1297.7 L568.7 1297.6 L569.2 1296.7 L569.8 1296.4 L570.3 1298.4 L570.8 1299.3 L571.3 1300.8 L571.8 1300.6 L572.5 1300.5 L573.3 1298.4 L574.2 1300.7 L575.1 1297.9 L576.0 1297.4 L576.9 1299.2 L577.8 1298.4 L578.6 1297.1 L579.4 1297.0 L580.0 1294.7 L580.2 1293.9 L580.5 1295.0 L580.8 1295.1 L581.1 1294.6 L581.4 1293.1 L581.8 1292.1 L582.2 1291.9 L582.5 1290.9 L582.9 1289.4 L583.3 1288.9 L583.7 1288.6 L584.1 1287.9 L584.5 1286.8 L584.9 1285.3 L585.3 1284.7 L585.7 1283.1 L586.1 1282.9 L586.5 1281.4 L586.9 1280.8 L587.2 1279.8 L587.6 1278.9 L587.9 1279.7 L588.2 1277.8 L588.5 1276.4 L588.8 1276.0 L589.1 1276.3 L589.3 1274.8 L589.9 1276.0 L590.7 1276.6 L591.4 1276.3 L592.3 1277.0 L593.1 1277.2 L593.9 1276.7 L594.7 1277.0 L595.5 1278.9 L596.2 1276.9 L596.8 1276.7 L597.4 1277.9 L598.0 1279.4 L598.8 1280.0 L599.6 1280.0 L600.5 1277.1 L601.4 1277.8 L602.2 1276.7 L603.0 1277.2 L603.8 1275.8 L604.5 1274.9 L605.0 1275.1 L605.3 1275.2 L605.5 1277.0 L605.8 1277.6 L606.1 1276.1 L606.4 1277.4 L606.8 1277.7 L607.1 1278.6 L607.5 1279.8 L607.8 1280.2 L608.2 1281.1 L608.5 1282.2 L608.9 1282.9 L609.3 1283.4 L609.6 1284.7 L610.0 1285.3 L610.3 1286.4 L610.6 1287.1 L610.9 1287.8 L611.2 1289.0 L611.5 1289.7 L611.8 1290.3 L612.0 1289.6 L612.4 1289.1 L612.9 1291.9 L613.4 1292.6 L613.9 1293.3 L614.5 1294.7 L615.1 1293.5 L615.7 1293.9 L616.4 1294.8 L617.0 1294.7 L617.6 1293.4 L618.2 1296.7 L618.8 1298.0 L619.3 1297.8 L619.8 1296.7 L620.4 1298.4 L621.1 1299.7 L621.9 1299.8 L622.7 1299.6 L623.6 1300.3 L624.5 1299.9 L625.5 1300.4 L626.4 1300.3 L627.4 1299.1 L628.3 1300.0 L629.1 1300.3 L630.0 1299.7 L630.7 1299.6 L631.4 1300.1 L631.9 1299.3 L632.4 1299.5 L633.1 1301.2 L633.7 1302.4 L634.4 1301.5 L635.2 1301.1 L636.0 1302.2 L636.8 1303.6 L637.6 1304.0 L638.5 1304.5 L639.3 1306.0 L640.2 1307.0 L641.0 1306.8 L641.8 1306.8 L642.6 1307.3 L643.4 1309.1 L644.1 1308.9 L644.7 1310.3 L645.4 1309.7 L645.9 1309.2 L646.4 1310.4 L647.1 1310.6 L647.8 1309.8 L648.6 1309.0 L649.5 1309.1 L650.4 1308.1 L651.3 1307.9 L652.3 1308.8 L653.2 1308.7 L654.1 1308.0 L655.0 1307.4 L655.8 1307.6 L656.6 1306.2 L657.3 1305.8 L657.9 1307.2 L658.4 1306.1 L659.1 1305.3 L659.8 1306.0 L660.5 1306.5 L661.3 1307.8 L662.1 1307.0 L662.9 1309.1 L663.7 1309.0 L664.4 1309.5 L665.0 1312.2 L665.6 1312.2 L666.0 1313.1 L666.2 1312.8 L666.4 1313.3 L666.6 1313.8 L666.8 1314.1 L667.0 1314.7 L667.2 1315.3 L667.4 1316.1 L667.6 1317.0 L667.9 1317.5 L668.1 1318.4 L668.3 1319.2 L668.5 1320.0 L668.7 1320.7 L668.9 1322.1 L669.1 1322.4 L669.3 1323.3 L669.5 1324.2 L669.7 1325.2 L669.8 1326.1 L670.0 1327.1 L670.1 1328.1 L670.3 1329.0 L670.4 1330.0 L670.5 1330.8 L670.6 1331.7 L670.7 1332.8 L670.8 1333.9 L670.9 1335.2 L671.0 1336.5 L671.1 1337.9 L671.2 1339.4 L671.3 1341.0 L671.4 1342.6 L671.5 1344.3 L671.6 1346.0 L671.7 1347.7 L671.8 1349.5 L671.9 1351.3 L672.0 1353.1 L672.1 1354.9 L672.2 1356.7 L672.3 1358.5 L672.4 1360.3 L672.5 1362.0 L672.7 1363.7 L672.8 1365.4 L672.9 1367.0 L673.0 1368.5 L673.0 1370.0 L673.1 1371.4 L673.2 1372.7 L673.3 1373.9 L673.4 1375.0 L673.5 1376.1 L673.6 1377.3 L673.7 1378.6 L673.8 1380.0 L673.9 1381.5 L674.1 1383.0 L674.2 1384.6 L674.4 1386.3 L674.5 1388.0 L674.7 1389.7 L674.8 1391.5 L675.0 1393.3 L675.1 1395.1 L675.3 1396.9 L675.5 1398.7 L675.6 1400.5 L675.8 1402.3 L676.0 1404.0 L676.1 1405.7 L676.3 1407.4 L676.4 1409.0 L676.6 1410.6 L676.7 1412.1 L676.9 1413.5 L677.0 1414.9 L677.1 1416.1 L677.2 1417.2 L677.3 1418.3 L677.4 1419.2 L677.5 1420.0 L677.7 1421.9 L677.9 1423.8 L678.2 1425.6 L678.4 1427.4 L678.7 1429.1 L679.0 1430.7 L679.2 1432.3 L679.4 1433.8 L679.7 1435.1 L679.8 1436.4 L680.0 1437.6 L680.2 1438.8 L680.3 1440.3 L680.5 1441.8 L680.7 1443.5 L680.9 1445.3 L681.1 1447.1 L681.3 1448.9 L681.5 1450.6 L681.7 1452.2 L681.8 1453.7 L682.0 1455.0 L682.1 1456.1 L682.3 1457.4 L682.5 1458.8 L682.7 1460.3 L682.9 1461.9 L683.1 1463.6 L683.4 1465.3 L683.6 1467.0 L683.8 1468.8 L684.0 1470.4 L684.2 1472.1 L684.4 1473.6 L684.5 1475.0 L684.6 1476.0 L684.7 1477.1 L684.8 1478.5 L684.8 1479.9 L684.9 1481.5 L685.0 1483.2 L685.1 1484.9 L685.2 1486.7 L685.3 1488.6 L685.4 1490.5 L685.5 1492.3 L685.6 1494.1 L685.8 1495.9 L685.9 1497.6 L686.0 1499.2 L686.1 1500.7 L686.2 1502.0 L686.3 1503.2 L686.4 1504.2 L686.5 1505.0 L687.0 1506.9 L687.6 1508.4 L688.5 1509.8 L689.3 1511.2 L690.0 1512.8 L690.5 1514.6 L690.6 1515.4 L690.8 1516.4 L690.9 1517.6 L691.1 1518.9 L691.3 1520.3 L691.4 1521.9 L691.6 1523.5 L691.8 1525.2 L691.9 1526.9 L692.1 1528.7 L692.3 1530.5 L692.4 1532.3 L692.6 1534.1 L692.7 1535.9 L692.8 1537.6 L692.9 1539.2 L693.0 1540.8 L693.0 1541.7 L693.1 1542.7 L693.1 1543.8 L693.2 1545.1 L693.2 1546.4 L693.3 1547.8 L693.3 1549.3 L693.4 1550.9 L693.4 1552.6 L693.5 1554.3 L693.5 1556.0 L693.6 1557.8 L693.6 1559.6 L693.7 1561.4 L693.7 1563.3 L693.8 1565.1 L693.8 1567.0 L693.9 1568.8 L693.9 1570.7 L694.0 1572.4 L694.0 1574.2 L694.1 1575.9 L694.1 1577.6 L694.2 1579.1 L694.2 1580.7 L694.3 1582.1 L694.3 1583.4 L694.4 1584.7 L694.4 1585.9 L694.5 1586.9 L694.5 1587.8 L694.6 1589.3 L694.7 1590.8 L694.8 1592.3 L694.9 1593.9 L695.1 1595.5 L695.2 1597.1 L695.4 1598.7 L695.5 1600.3 L695.7 1601.9 L695.9 1603.5 L696.0 1605.1 L696.2 1606.7 L696.4 1608.3 L696.5 1609.9 L696.6 1611.5 L696.8 1613.0 L696.9 1614.5 L697.0 1616.0 L697.1 1616.9 L697.1 1617.9 L697.2 1619.0 L697.3 1620.2 L697.3 1621.5 L697.4 1622.8 L697.5 1624.2 L697.6 1625.7 L697.7 1627.3 L697.8 1628.9 L697.9 1630.5 L698.0 1632.2 L698.1 1633.9 L698.2 1635.6 L698.2 1637.4 L698.3 1639.2 L698.4 1640.9 L698.5 1642.7 L698.6 1644.5 L698.7 1646.3 L698.8 1648.0 L698.9 1649.7 L699.0 1651.4 L699.1 1653.1 L699.1 1654.7 L699.2 1656.2 L699.3 1657.7 L699.3 1659.1 L699.4 1660.5 L699.5 1661.8 L699.5 1663.0 L699.5 1664.0 L699.6 1665.0 L699.6 1666.1 L699.7 1667.2 L699.7 1668.4 L699.7 1669.6 L699.8 1670.8 L699.8 1672.1 L699.9 1673.4 L699.9 1674.8 L699.9 1676.2 L700.0 1677.6 L700.0 1679.0 L700.1 1680.5 L700.1 1682.0 L700.2 1683.5 L700.2 1685.0 L700.3 1686.6 L700.3 1688.2 L700.3 1689.8 L700.4 1691.4 L700.4 1693.0 L700.5 1694.7 L700.5 1696.4 L700.5 1698.1 L700.6 1699.8 L700.6 1701.5 L700.7 1703.2 L700.7 1705.0 L700.7 1706.7 L700.8 1708.4 L700.8 1710.2 L700.9 1712.0 L700.9 1713.7 L700.9 1715.5 L701.0 1717.2 L701.0 1719.0 L701.0 1719.8 L701.0 1720.6 L701.0 1721.5 L701.1 1722.5 L701.1 1723.4 L701.1 1724.5 L701.1 1725.6 L701.1 1726.7 L701.1 1727.9 L701.2 1729.1 L701.2 1730.4 L701.2 1731.7 L701.2 1733.0 L701.2 1734.4 L701.3 1735.8 L701.3 1737.3 L701.3 1738.7 L701.3 1740.3 L701.4 1741.8 L701.4 1743.4 L701.4 1745.0 L701.4 1746.6 L701.4 1748.3 L701.5 1750.0 L701.5 1751.7 L701.5 1753.4 L701.5 1755.2 L701.6 1757.0 L701.6 1758.8 L701.6 1760.6 L701.6 1762.4 L701.7 1764.3 L701.7 1766.1 L701.7 1768.0 L701.7 1769.9 L701.8 1771.7 L701.8 1773.6 L701.8 1775.5 L701.8 1777.4 L701.9 1779.4 L701.9 1781.3 L701.9 1783.2 L702.0 1785.1 L702.0 1787.0 L702.0 1788.9 L702.0 1790.8 L702.1 1792.7 L702.1 1794.6 L702.1 1796.5 L702.1 1798.4 L702.2 1800.3 L702.2 1802.1 L702.2 1804.0 L702.3 1805.8 L702.3 1807.6 L702.3 1809.4 L702.3 1811.2 L702.4 1812.9 L702.4 1814.7 L702.4 1816.4 L702.4 1818.1 L702.5 1819.8 L702.5 1821.4 L702.5 1823.0 L702.5 1824.6 L702.6 1826.2 L702.6 1827.7 L702.6 1829.2 L702.6 1830.6 L702.7 1832.1 L702.7 1833.5 L702.7 1834.8 L702.7 1836.1 L702.8 1837.4 L702.8 1838.6 L702.8 1839.8 L702.8 1840.9 L702.8 1842.0 L702.9 1843.1 L702.9 1844.1 L702.9 1845.0 L702.9 1845.9 L702.9 1846.8 L703.0 1847.6 L703.0 1848.3 L703.0 1849.0 L703.1 1851.0 L703.1 1853.1 L703.2 1855.3 L703.3 1857.6 L703.5 1860.0 L703.6 1862.3 L703.7 1864.7 L703.9 1867.1 L704.0 1869.3 L704.2 1871.5 L704.3 1873.5 L704.5 1875.3 L704.6 1877.0 L704.8 1878.4 L704.9 1879.5 L705.1 1880.3 L705.2 1880.8 L705.3 1881.0 L705.4 1880.7 L705.5 1880.0 L705.5 1879.6 L705.6 1879.1 L705.6 1878.4 L705.6 1877.6 L705.7 1876.7 L705.7 1875.7 L705.7 1874.6 L705.8 1873.4 L705.8 1872.1 L705.9 1870.7 L705.9 1869.2 L705.9 1867.6 L706.0 1866.0 L706.0 1864.3 L706.1 1862.5 L706.1 1860.6 L706.2 1858.7 L706.2 1856.8 L706.2 1854.8 L706.3 1852.8 L706.3 1850.7 L706.4 1848.6 L706.4 1846.5 L706.5 1844.3 L706.5 1842.2 L706.6 1840.0 L706.6 1837.9 L706.7 1835.7 L706.7 1833.5 L706.8 1831.4 L706.8 1829.2 L706.9 1827.1 L706.9 1825.0 L707.0 1823.0 L707.0 1820.9 L707.1 1819.0 L707.1 1817.0 L707.2 1815.2 L707.2 1813.3 L707.2 1811.6 L707.3 1809.9 L707.3 1808.3 L707.4 1806.7 L707.4 1805.2 L707.5 1803.9 L707.5 1802.6 L707.6 1801.4 L707.6 1800.3 L707.6 1799.4 L707.7 1798.5 L707.7 1797.8 L707.8 1797.1 L707.8 1796.6 L707.8 1796.3 L707.9 1796.1 L707.9 1796.0 L707.9 1796.1 L708.0 1796.3 L708.0 1796.7 L708.1 1797.2 L708.1 1797.9 L708.1 1798.7 L708.2 1799.6 L708.2 1800.7 L708.3 1801.8 L708.3 1803.1 L708.4 1804.5 L708.4 1806.0 L708.5 1807.5 L708.6 1809.2 L708.6 1810.9 L708.7 1812.7 L708.7 1814.6 L708.8 1816.6 L708.9 1818.6 L708.9 1820.6 L709.0 1822.7 L709.0 1824.8 L709.1 1827.0 L709.2 1829.2 L709.2 1831.4 L709.3 1833.7 L709.4 1835.9 L709.4 1838.2 L709.5 1840.4 L709.6 1842.7 L709.6 1844.9 L709.7 1847.1 L709.7 1849.3 L709.8 1851.5 L709.9 1853.6 L709.9 1855.7 L710.0 1857.8 L710.1 1859.8 L710.1 1861.7 L710.2 1863.6 L710.2 1865.3 L710.3 1867.1 L710.4 1868.7 L710.4 1870.3 L710.5 1871.7 L710.5 1873.1 L710.6 1874.3 L710.6 1875.5 L710.7 1876.5 L710.7 1877.4 L710.8 1878.2 L710.8 1878.9 L710.9 1879.4 L710.9 1879.7 L711.0 1879.9 L711.0 1880.0 L711.0 1879.9 L711.1 1879.7 L711.1 1879.4 L711.2 1878.9 L711.2 1878.4 L711.3 1877.7 L711.3 1877.0 L711.4 1876.1 L711.4 1875.2 L711.5 1874.1 L711.5 1873.0 L711.6 1871.8 L711.6 1870.5 L711.7 1869.1 L711.7 1867.7 L711.8 1866.2 L711.9 1864.6 L711.9 1863.0 L712.0 1861.3 L712.0 1859.5 L712.1 1857.8 L712.2 1855.9 L712.2 1854.0 L712.3 1852.1 L712.4 1850.2 L712.4 1848.2 L712.5 1846.2 L712.6 1844.2 L712.6 1842.1 L712.7 1840.1 L712.7 1838.0 L712.8 1835.9 L712.9 1833.8 L712.9 1831.8 L713.0 1829.7 L713.0 1827.6 L713.1 1825.6 L713.2 1823.5 L713.2 1821.5 L713.3 1819.5 L713.3 1817.5 L713.4 1815.6 L713.4 1813.7 L713.5 1811.8 L713.5 1810.0 L713.6 1808.3 L713.6 1806.5 L713.7 1804.9 L713.7 1803.3 L713.8 1801.7 L713.8 1800.2 L713.8 1798.8 L713.9 1797.5 L713.9 1796.2 L713.9 1795.0 L714.0 1793.9 L714.0 1792.9 L714.0 1792.0 L714.0 1790.6 L714.1 1789.2 L714.1 1787.7 L714.1 1786.3 L714.1 1784.7 L714.2 1783.2 L714.2 1781.6 L714.2 1780.0 L714.2 1778.4 L714.2 1776.8 L714.3 1775.1 L714.3 1773.5 L714.3 1771.8 L714.3 1770.1 L714.3 1768.5 L714.3 1766.8 L714.3 1765.1 L714.4 1763.4 L714.4 1761.8 L714.4 1760.1 L714.4 1758.5 L714.4 1756.8 L714.4 1755.2 L714.4 1753.6 L714.4 1752.1 L714.4 1750.5 L714.4 1749.0 L714.4 1747.5 L714.4 1746.1 L714.4 1744.7 L714.5 1743.3 L714.5 1742.0 L714.5 1740.7 L714.5 1739.4 L714.5 1738.2 L714.5 1737.1 L714.5 1736.0 L714.5 1734.9 L714.5 1733.7 L714.5 1732.4 L714.5 1731.1 L714.6 1729.6 L714.6 1728.2 L714.6 1726.6 L714.6 1725.0 L714.6 1723.4 L714.6 1721.7 L714.6 1719.9 L714.6 1718.2 L714.7 1716.4 L714.7 1714.6 L714.7 1712.7 L714.7 1710.9 L714.7 1709.1 L714.7 1707.2 L714.7 1705.4 L714.8 1703.6 L714.8 1701.8 L714.8 1700.0 L714.8 1698.2 L714.8 1696.5 L714.8 1694.8 L714.9 1693.2 L714.9 1691.6 L714.9 1690.1 L714.9 1688.7 L714.9 1687.3 L714.9 1686.0 L714.9 1684.8 L715.0 1683.6 L715.0 1682.6 L715.0 1681.6 L715.0 1680.7 L715.0 1680.0 L715.0 1678.2 L715.1 1676.6 L715.1 1675.1 L715.2 1673.6 L715.3 1672.2 L715.3 1670.8 L715.4 1669.4 L715.5 1667.9 L715.6 1666.4 L715.6 1664.8 L715.7 1663.0 L715.7 1662.2 L715.8 1661.3 L715.8 1660.2 L715.8 1659.0 L715.8 1657.8 L715.9 1656.4 L715.9 1654.9 L716.0 1653.3 L716.0 1651.7 L716.1 1650.0 L716.1 1648.3 L716.1 1646.5 L716.2 1644.7 L716.2 1642.8 L716.3 1640.9 L716.3 1639.0 L716.4 1637.2 L716.4 1635.3 L716.5 1633.4 L716.5 1631.6 L716.6 1629.8 L716.6 1628.1 L716.7 1626.4 L716.7 1624.8 L716.8 1623.2 L716.8 1621.8 L716.9 1620.4 L716.9 1619.1 L716.9 1618.0 L717.0 1616.9 L717.0 1616.0 L717.1 1614.5 L717.1 1612.9 L717.2 1611.3 L717.3 1609.7 L717.3 1608.0 L717.4 1606.2 L717.5 1604.5 L717.6 1602.8 L717.7 1601.1 L717.8 1599.4 L717.9 1597.7 L718.0 1596.1 L718.1 1594.5 L718.2 1593.0 L718.2 1591.5 L718.3 1590.2 L718.4 1588.9 L718.5 1587.8 L718.6 1586.7 L718.7 1585.4 L718.8 1584.1 L718.9 1582.7 L719.1 1581.2 L719.2 1579.7 L719.4 1578.1 L719.6 1576.4 L719.7 1574.8 L719.9 1573.1 L720.1 1571.4 L720.2 1569.7 L720.4 1568.0 L720.5 1566.3 L720.7 1564.7 L720.8 1563.1 L720.9 1561.5 L721.0 1560.0 L721.1 1559.1 L721.1 1558.1 L721.2 1557.0 L721.2 1555.9 L721.3 1554.6 L721.3 1553.2 L721.4 1551.8 L721.5 1550.3 L721.5 1548.8 L721.6 1547.2 L721.7 1545.5 L721.7 1543.8 L721.8 1542.1 L721.9 1540.4 L721.9 1538.6 L722.0 1536.8 L722.1 1535.1 L722.1 1533.3 L722.2 1531.5 L722.3 1529.7 L722.3 1528.0 L722.4 1526.3 L722.5 1524.6 L722.5 1522.9 L722.6 1521.3 L722.7 1519.8 L722.7 1518.3 L722.8 1516.9 L722.8 1515.5 L722.9 1514.3 L722.9 1513.1 L723.0 1512.0 L723.1 1510.9 L723.1 1509.7 L723.2 1508.4 L723.2 1507.0 L723.3 1505.5 L723.4 1504.0 L723.5 1502.4 L723.5 1500.7 L723.6 1499.1 L723.7 1497.3 L723.8 1495.6 L723.9 1493.8 L724.0 1492.0 L724.0 1490.2 L724.1 1488.4 L724.2 1486.6 L724.3 1484.8 L724.4 1483.0 L724.5 1481.3 L724.6 1479.6 L724.7 1477.9 L724.8 1476.3 L724.9 1474.7 L725.0 1473.2 L725.0 1471.8 L725.1 1470.4 L725.2 1469.1 L725.3 1467.9 L725.4 1466.9 L725.4 1465.9 L725.5 1465.0 L725.6 1463.4 L725.8 1461.6 L726.0 1459.8 L726.2 1458.0 L726.4 1456.1 L726.7 1454.2 L726.9 1452.3 L727.2 1450.4 L727.4 1448.7 L727.7 1447.0 L727.9 1445.4 L728.2 1444.0 L728.4 1442.7 L728.6 1441.6 L728.8 1440.7 L729.0 1440.0 L731.0 1438.8 L733.0 1440.0 L733.2 1440.6 L733.4 1441.5 L733.6 1442.5 L733.8 1443.8 L734.0 1445.1 L734.2 1446.6 L734.5 1448.2 L734.7 1449.9 L735.0 1451.7 L735.2 1453.5 L735.4 1455.3 L735.6 1457.2 L735.9 1459.0 L736.0 1460.8 L736.2 1462.5 L736.4 1464.1 L736.5 1465.7 L736.6 1466.6 L736.6 1467.6 L736.7 1468.6 L736.8 1469.8 L736.8 1471.1 L736.9 1472.4 L737.0 1473.8 L737.0 1475.3 L737.1 1476.8 L737.2 1478.4 L737.2 1480.1 L737.3 1481.8 L737.4 1483.5 L737.4 1485.2 L737.5 1487.0 L737.6 1488.8 L737.6 1490.5 L737.7 1492.3 L737.8 1494.1 L737.8 1495.9 L737.9 1497.6 L738.0 1499.4 L738.0 1501.0 L738.1 1502.7 L738.2 1504.3 L738.2 1505.9 L738.3 1507.4 L738.3 1508.8 L738.4 1510.2 L738.4 1511.5 L738.5 1512.7 L738.5 1513.7 L738.6 1514.8 L738.6 1516.0 L738.7 1517.3 L738.8 1518.7 L738.8 1520.1 L738.9 1521.6 L738.9 1523.1 L739.0 1524.7 L739.1 1526.4 L739.2 1528.1 L739.2 1529.8 L739.3 1531.6 L739.4 1533.3 L739.5 1535.2 L739.5 1537.0 L739.6 1538.8 L739.7 1540.6 L739.8 1542.5 L739.8 1544.3 L739.9 1546.1 L740.0 1547.9 L740.1 1549.7 L740.2 1551.4 L740.2 1553.1 L740.3 1554.8 L740.4 1556.4 L740.5 1558.0 L740.5 1559.5 L740.6 1561.0 L740.7 1562.4 L740.7 1563.7 L740.8 1564.9 L740.8 1566.1 L740.9 1567.1 L741.0 1568.1 L741.0 1569.0 L741.1 1570.6 L741.2 1572.2 L741.3 1574.0 L741.4 1575.8 L741.5 1577.6 L741.7 1579.5 L741.8 1581.3 L741.9 1583.2 L742.1 1585.1 L742.2 1586.9 L742.4 1588.6 L742.5 1590.4 L742.7 1592.0 L742.8 1593.5 L742.9 1595.0 L743.0 1596.3 L743.2 1597.4 L743.3 1598.5 L743.4 1599.3 L743.5 1600.0 L744.9 1601.0 L746.5 1602.0 L746.9 1602.9 L747.3 1604.3 L747.8 1606.0 L748.3 1607.9 L748.7 1609.9 L749.0 1612.0 L749.1 1612.8 L749.1 1613.7 L749.2 1614.7 L749.3 1615.9 L749.4 1617.2 L749.5 1618.6 L749.5 1620.1 L749.6 1621.7 L749.7 1623.4 L749.8 1625.1 L749.9 1626.9 L750.0 1628.7 L750.1 1630.6 L750.2 1632.4 L750.3 1634.3 L750.3 1636.1 L750.4 1637.9 L750.5 1639.7 L750.6 1641.4 L750.7 1643.0 L750.7 1644.6 L750.8 1646.1 L750.9 1647.5 L750.9 1648.8 L751.0 1650.0 L751.1 1651.1 L751.1 1652.3 L751.2 1653.6 L751.2 1655.0 L751.3 1656.5 L751.4 1658.0 L751.4 1659.7 L751.5 1661.3 L751.6 1663.1 L751.7 1664.8 L751.7 1666.6 L751.8 1668.4 L751.9 1670.2 L752.0 1672.1 L752.0 1673.9 L752.1 1675.6 L752.2 1677.4 L752.3 1679.1 L752.3 1680.8 L752.4 1682.4 L752.5 1683.9 L752.5 1685.3 L752.6 1686.7 L752.7 1687.9 L752.7 1689.1 L752.8 1690.1 L752.8 1691.0 L752.9 1692.5 L753.0 1693.9 L753.1 1695.4 L753.2 1696.8 L753.3 1698.2 L753.4 1699.7 L753.5 1701.1 L753.6 1702.6 L753.7 1704.1 L753.8 1705.6 L753.9 1707.2 L754.0 1708.8 L754.1 1710.5 L754.1 1712.2 L754.2 1714.0 L754.2 1714.8 L754.2 1715.6 L754.3 1716.5 L754.3 1717.6 L754.3 1718.7 L754.4 1719.8 L754.4 1721.1 L754.4 1722.4 L754.5 1723.8 L754.5 1725.2 L754.5 1726.7 L754.6 1728.2 L754.6 1729.8 L754.6 1731.5 L754.7 1733.1 L754.7 1734.8 L754.8 1736.6 L754.8 1738.3 L754.8 1740.1 L754.9 1741.9 L754.9 1743.7 L754.9 1745.6 L755.0 1747.4 L755.0 1749.2 L755.1 1751.1 L755.1 1752.9 L755.1 1754.7 L755.2 1756.5 L755.2 1758.3 L755.2 1760.0 L755.3 1761.8 L755.3 1763.5 L755.3 1765.1 L755.3 1766.8 L755.4 1768.4 L755.4 1769.9 L755.4 1771.4 L755.4 1772.8 L755.4 1774.2 L755.5 1775.5 L755.5 1776.7 L755.5 1777.9 L755.5 1779.0 L755.5 1780.0 L755.5 1781.2 L755.5 1782.5 L755.5 1783.9 L755.5 1785.4 L755.5 1787.0 L755.5 1788.6 L755.4 1790.3 L755.4 1792.1 L755.4 1793.9 L755.4 1795.8 L755.3 1797.7 L755.3 1799.6 L755.3 1801.6 L755.3 1803.5 L755.2 1805.5 L755.2 1807.5 L755.2 1809.5 L755.1 1811.4 L755.1 1813.3 L755.1 1815.2 L755.0 1817.1 L755.0 1818.9 L755.0 1820.7 L754.9 1822.4 L754.9 1824.0 L754.9 1825.6 L754.9 1827.1 L754.8 1828.5 L754.8 1829.8 L754.8 1831.0 L754.8 1832.1 L754.8 1833.1 L754.8 1834.0 L754.8 1834.7 L754.8 1835.3 L754.8 1835.7 L754.8 1836.0 L754.8 1836.1 L754.9 1835.9 L754.9 1835.3 L755.0 1834.4 L755.1 1833.2 L755.2 1831.7 L755.3 1830.1 L755.4 1828.2 L755.5 1826.2 L755.6 1824.1 L755.8 1821.9 L755.9 1819.6 L756.0 1817.4 L756.1 1815.1 L756.3 1812.9 L756.4 1810.8 L756.5 1808.9 L756.6 1807.0 L756.7 1805.4 L756.8 1804.0 L756.9 1802.9 L757.0 1802.0 L757.3 1800.1 L757.8 1798.5 L758.3 1797.0 L758.9 1795.5 L759.3 1793.9 L759.6 1792.0 L759.7 1791.3 L759.7 1790.4 L759.8 1789.5 L759.9 1788.4 L760.0 1787.2 L760.0 1785.8 L760.1 1784.4 L760.2 1782.9 L760.3 1781.3 L760.4 1779.7 L760.5 1778.0 L760.6 1776.2 L760.7 1774.4 L760.8 1772.5 L760.9 1770.6 L761.0 1768.7 L761.1 1766.8 L761.2 1764.9 L761.3 1762.9 L761.4 1761.0 L761.5 1759.1 L761.6 1757.2 L761.7 1755.4 L761.8 1753.6 L761.9 1751.9 L762.0 1750.2 L762.1 1748.6 L762.1 1747.1 L762.2 1745.6 L762.3 1744.3 L762.3 1743.0 L762.4 1741.9 L762.5 1740.9 L762.5 1740.0 L762.6 1738.4 L762.6 1736.7 L762.7 1735.0 L762.7 1733.2 L762.8 1731.4 L762.8 1729.6 L762.8 1727.8 L762.9 1726.0 L762.9 1724.2 L762.9 1722.5 L763.0 1720.9 L763.0 1719.3 L763.1 1717.7 L763.1 1716.3 L763.2 1715.0 L763.3 1713.9 L763.4 1712.9 L763.5 1712.0 L763.9 1710.3 L764.5 1708.7 L765.2 1707.1 L766.0 1705.7 L766.7 1704.2 L767.5 1702.8 L768.1 1701.4 L768.5 1700.0 L768.7 1699.0 L768.9 1697.8 L769.1 1696.5 L769.2 1695.0 L769.4 1693.4 L769.6 1691.7 L769.8 1689.9 L769.9 1688.1 L770.1 1686.4 L770.2 1684.6 L770.3 1683.0 L770.4 1681.4 L770.5 1680.0 L770.6 1679.0 L770.6 1677.9 L770.7 1676.5 L770.7 1675.1 L770.8 1673.5 L770.8 1671.8 L770.9 1670.1 L770.9 1668.3 L771.0 1666.4 L771.0 1664.6 L771.1 1662.7 L771.1 1660.9 L771.2 1659.1 L771.2 1657.4 L771.3 1655.8 L771.3 1654.4 L771.4 1653.0 L771.4 1651.8 L771.5 1650.8 L771.5 1650.0 L771.7 1647.9 L771.9 1645.9 L772.1 1643.9 L772.4 1642.2 L772.7 1640.9 L773.0 1640.0 L774.8 1639.1 L776.5 1640.0 L776.7 1640.9 L777.0 1642.3 L777.2 1644.2 L777.5 1646.4 L777.8 1648.6 L778.1 1650.7 L778.4 1652.6 L778.6 1654.1 L778.8 1654.9 L779.0 1655.0 L779.1 1654.6 L779.2 1653.9 L779.3 1653.0 L779.5 1651.8 L779.6 1650.4 L779.8 1648.9 L779.9 1647.2 L780.1 1645.3 L780.2 1643.4 L780.4 1641.4 L780.5 1639.4 L780.6 1637.4 L780.7 1635.5 L780.8 1633.5 L780.9 1631.7 L781.0 1630.0 L781.0 1629.1 L781.1 1628.2 L781.1 1627.1 L781.1 1625.9 L781.2 1624.7 L781.2 1623.3 L781.2 1621.9 L781.2 1620.4 L781.3 1618.8 L781.3 1617.2 L781.3 1615.5 L781.4 1613.8 L781.4 1612.0 L781.4 1610.2 L781.5 1608.4 L781.5 1606.6 L781.5 1604.7 L781.5 1602.9 L781.6 1601.1 L781.6 1599.3 L781.6 1597.5 L781.7 1595.7 L781.7 1593.9 L781.7 1592.3 L781.8 1590.6 L781.8 1589.0 L781.8 1587.5 L781.8 1586.0 L781.9 1584.6 L781.9 1583.3 L781.9 1582.1 L782.0 1581.0 L782.0 1580.0 L782.0 1578.7 L782.1 1577.4 L782.2 1575.9 L782.2 1574.4 L782.3 1572.8 L782.4 1571.1 L782.4 1569.4 L782.5 1567.7 L782.6 1565.9 L782.7 1564.1 L782.8 1562.2 L782.9 1560.4 L783.0 1558.6 L783.0 1556.8 L783.1 1555.0 L783.2 1553.3 L783.3 1551.6 L783.4 1550.0 L783.5 1548.4 L783.6 1546.9 L783.7 1545.5 L783.7 1544.2 L783.8 1542.9 L783.9 1541.8 L783.9 1540.9 L784.0 1540.0 L784.1 1538.2 L784.3 1536.1 L784.4 1533.8 L784.6 1531.5 L784.8 1529.3 L785.0 1527.2 L785.1 1525.2 L785.3 1523.6 L785.5 1522.4 L785.7 1521.6 L785.8 1521.5 L786.0 1522.0 L786.1 1522.4 L786.1 1523.1 L786.2 1523.9 L786.3 1525.0 L786.4 1526.2 L786.4 1527.5 L786.5 1529.0 L786.6 1530.6 L786.7 1532.3 L786.8 1534.1 L786.9 1536.0 L787.1 1538.0 L787.2 1540.0 L787.3 1542.1 L787.4 1544.2 L787.5 1546.3 L787.6 1548.4 L787.7 1550.5 L787.8 1552.5 L787.9 1554.6 L788.1 1556.5 L788.2 1558.4 L788.3 1560.2 L788.4 1561.9 L788.5 1563.4 L788.6 1564.9 L788.6 1566.2 L788.7 1567.3 L788.8 1568.3 L788.9 1569.1 L788.9 1569.6 L789.0 1570.0 L789.1 1570.2 L789.2 1570.0 L789.4 1569.3 L789.5 1568.2 L789.6 1566.8 L789.7 1565.1 L789.9 1563.2 L790.0 1561.1 L790.1 1558.9 L790.3 1556.7 L790.4 1554.4 L790.5 1552.2 L790.6 1550.1 L790.8 1548.2 L790.9 1546.5 L791.0 1545.0 L791.1 1544.0 L791.2 1542.9 L791.3 1541.6 L791.4 1540.3 L791.5 1538.8 L791.6 1537.2 L791.8 1535.6 L791.9 1533.9 L792.1 1532.2 L792.2 1530.4 L792.4 1528.6 L792.5 1526.8 L792.7 1525.0 L792.8 1523.2 L793.0 1521.5 L793.1 1519.8 L793.3 1518.1 L793.4 1516.5 L793.6 1515.0 L793.7 1513.6 L793.8 1512.3 L793.9 1511.1 L794.0 1510.0 L794.1 1508.8 L794.2 1507.4 L794.4 1506.0 L794.5 1504.4 L794.7 1502.8 L794.8 1501.1 L795.0 1499.3 L795.2 1497.5 L795.3 1495.7 L795.5 1493.9 L795.7 1492.2 L795.8 1490.4 L796.0 1488.7 L796.2 1487.1 L796.3 1485.6 L796.5 1484.2 L796.6 1482.9 L796.8 1481.8 L796.9 1480.8 L797.0 1480.0 L797.3 1478.1 L797.7 1476.3 L798.1 1474.6 L798.6 1473.0 L799.1 1471.5 L799.5 1470.4 L800.0 1469.5 L801.2 1468.5 L803.0 1467.6 L804.7 1466.9 L806.0 1466.0 L806.8 1464.8 L807.7 1463.1 L808.6 1461.2 L809.4 1459.4 L810.0 1458.0 L810.6 1456.5 L811.3 1454.5 L812.1 1452.6 L812.8 1451.1 L813.4 1450.7 L813.8 1451.3 L814.3 1452.4 L814.9 1454.1 L815.5 1456.0 L816.0 1458.1 L816.6 1460.1 L817.0 1462.0 L817.2 1462.9 L817.4 1464.1 L817.7 1465.5 L818.0 1467.1 L818.2 1468.8 L818.6 1470.5 L818.9 1472.4 L819.2 1474.3 L819.5 1476.1 L819.8 1478.0 L820.1 1479.7 L820.4 1481.3 L820.6 1482.7 L820.8 1484.0 L821.0 1485.0 L821.3 1486.5 L821.5 1488.3 L821.8 1490.3 L822.2 1492.4 L822.5 1494.4 L822.8 1496.3 L823.1 1497.9 L823.4 1499.1 L823.7 1499.9 L824.0 1500.0 L824.2 1499.6 L824.5 1498.7 L824.8 1497.4 L825.1 1495.7 L825.5 1493.8 L825.9 1491.8 L826.3 1489.6 L826.6 1487.5 L827.0 1485.4 L827.4 1483.5 L827.7 1481.8 L828.0 1480.5 L828.2 1479.5 L828.4 1479.0 L828.7 1479.0 L828.9 1479.8 L829.1 1481.1 L829.4 1482.8 L829.6 1484.8 L829.7 1486.9 L829.9 1489.1 L830.0 1491.0 L830.0 1491.7 L830.1 1492.6 L830.1 1493.5 L830.2 1494.6 L830.2 1495.7 L830.3 1497.0 L830.4 1498.3 L830.4 1499.7 L830.5 1501.2 L830.5 1502.7 L830.6 1504.3 L830.7 1506.0 L830.7 1507.7 L830.8 1509.4 L830.9 1511.2 L831.0 1513.0 L831.0 1514.8 L831.1 1516.6 L831.2 1518.4 L831.2 1520.3 L831.3 1522.1 L831.4 1523.9 L831.4 1525.7 L831.5 1527.5 L831.6 1529.2 L831.6 1530.9 L831.7 1532.6 L831.8 1534.2 L831.8 1535.8 L831.9 1537.2 L831.9 1538.7 L832.0 1540.0 L832.0 1541.0 L832.1 1542.0 L832.1 1543.2 L832.2 1544.5 L832.2 1545.8 L832.3 1547.3 L832.3 1548.8 L832.4 1550.4 L832.4 1552.0 L832.5 1553.8 L832.5 1555.6 L832.6 1557.4 L832.7 1559.3 L832.7 1561.2 L832.8 1563.1 L832.9 1565.1 L832.9 1567.1 L833.0 1569.2 L833.1 1571.2 L833.1 1573.2 L833.2 1575.3 L833.3 1577.3 L833.4 1579.3 L833.4 1581.3 L833.5 1583.3 L833.6 1585.3 L833.6 1587.2 L833.7 1589.1 L833.8 1590.9 L833.8 1592.7 L833.9 1594.5 L834.0 1596.1 L834.0 1597.8 L834.1 1599.3 L834.2 1600.7 L834.2 1602.1 L834.3 1603.4 L834.3 1604.6 L834.4 1605.7 L834.4 1606.7 L834.5 1607.5 L834.5 1608.3 L834.6 1608.9 L834.6 1609.4 L834.7 1609.8 L834.7 1610.0 L834.7 1610.1 L834.8 1610.0 L834.8 1609.7 L834.9 1609.1 L835.0 1608.4 L835.0 1607.5 L835.1 1606.5 L835.1 1605.3 L835.2 1604.0 L835.2 1602.5 L835.3 1601.0 L835.3 1599.3 L835.4 1597.5 L835.4 1595.6 L835.5 1593.7 L835.6 1591.7 L835.6 1589.7 L835.7 1587.6 L835.7 1585.6 L835.8 1583.4 L835.8 1581.3 L835.9 1579.2 L836.0 1577.2 L836.0 1575.1 L836.1 1573.1 L836.1 1571.2 L836.2 1569.3 L836.2 1567.5 L836.3 1565.8 L836.3 1564.1 L836.4 1562.6 L836.4 1561.2 L836.5 1560.0 L836.5 1559.0 L836.6 1557.9 L836.6 1556.7 L836.7 1555.4 L836.7 1554.1 L836.8 1552.7 L836.9 1551.2 L836.9 1549.7 L837.0 1548.2 L837.0 1546.5 L837.1 1544.9 L837.2 1543.2 L837.3 1541.4 L837.3 1539.7 L837.4 1537.9 L837.5 1536.1 L837.5 1534.2 L837.6 1532.4 L837.7 1530.6 L837.8 1528.7 L837.9 1526.9 L837.9 1525.0 L838.0 1523.2 L838.1 1521.4 L838.2 1519.7 L838.3 1517.9 L838.4 1516.2 L838.4 1514.5 L838.5 1512.9 L838.6 1511.3 L838.7 1509.7 L838.8 1508.3 L838.9 1506.8 L838.9 1505.5 L839.0 1504.2 L839.1 1503.0 L839.2 1501.9 L839.2 1500.8 L839.3 1499.9 L839.4 1499.0 L839.6 1497.4 L839.7 1495.8 L839.9 1494.1 L840.2 1492.3 L840.4 1490.5 L840.7 1488.7 L841.0 1486.9 L841.3 1485.1 L841.6 1483.3 L841.9 1481.6 L842.2 1479.8 L842.5 1478.2 L842.8 1476.5 L843.1 1475.0 L843.4 1473.5 L843.7 1472.1 L844.0 1470.9 L844.3 1469.7 L844.5 1468.7 L844.8 1467.8 L845.0 1467.0 L845.7 1465.2 L846.6 1463.6 L847.6 1462.0 L848.7 1460.6 L849.8 1459.6 L850.8 1458.8 L851.6 1458.5 L852.5 1458.8 L853.7 1459.6 L855.0 1460.9 L856.3 1462.4 L857.4 1463.8 L858.2 1465.0 L858.8 1466.1 L859.4 1467.5 L860.0 1469.1 L860.6 1470.8 L861.1 1472.6 L861.6 1474.4 L862.0 1476.0 L862.2 1477.1 L862.4 1478.6 L862.6 1480.3 L862.8 1482.3 L863.1 1484.4 L863.3 1486.5 L863.5 1488.5 L863.8 1490.4 L864.0 1492.1 L864.3 1493.5 L864.5 1494.5 L864.7 1495.0 L865.2 1494.7 L865.8 1493.1 L866.6 1490.9 L867.4 1488.4 L868.1 1486.1 L868.8 1484.5 L869.4 1484.0 L869.8 1484.5 L870.2 1485.7 L870.6 1487.4 L871.1 1489.5 L871.7 1491.6 L872.2 1493.8 L872.7 1495.8 L873.2 1497.4 L873.6 1498.6 L874.0 1499.0 L874.4 1498.6 L875.0 1497.6 L875.6 1496.1 L876.2 1494.2 L876.9 1492.1 L877.6 1490.0 L878.2 1488.1 L878.8 1486.5 L879.4 1485.3 L879.8 1484.8 L880.4 1485.0 L881.1 1485.8 L881.9 1487.2 L882.7 1489.0 L883.4 1491.0 L884.0 1493.0 L884.5 1495.0 L884.7 1495.9 L884.8 1496.9 L885.0 1498.2 L885.1 1499.6 L885.3 1501.1 L885.5 1502.8 L885.7 1504.5 L885.8 1506.3 L886.0 1508.2 L886.2 1510.1 L886.4 1512.0 L886.5 1513.8 L886.7 1515.6 L886.8 1517.3 L887.0 1518.9 L887.1 1520.5 L887.2 1521.8 L887.3 1523.0 L887.4 1524.1 L887.5 1525.5 L887.6 1527.0 L887.7 1528.6 L887.7 1530.4 L887.8 1532.2 L887.9 1534.1 L888.0 1536.0 L888.1 1537.9 L888.2 1539.8 L888.3 1541.7 L888.4 1543.5 L888.5 1545.1 L888.6 1546.7 L888.7 1548.1 L888.9 1549.3 L889.0 1550.3 L889.1 1551.0 L889.2 1551.5 L889.6 1551.7 L890.3 1550.6 L891.0 1548.7 L891.8 1546.4 L892.6 1544.3 L893.3 1542.6 L893.8 1542.0 L894.4 1542.4 L895.1 1543.6 L895.9 1545.2 L896.6 1547.2 L897.2 1549.4 L897.6 1551.5 L897.7 1552.2 L897.8 1553.1 L897.8 1554.2 L897.9 1555.4 L898.0 1556.7 L898.1 1558.1 L898.2 1559.7 L898.3 1561.3 L898.3 1562.9 L898.4 1564.7 L898.5 1566.5 L898.6 1568.3 L898.7 1570.1 L898.8 1571.9 L898.8 1573.8 L898.9 1575.6 L899.0 1577.4 L899.1 1579.1 L899.1 1580.8 L899.2 1582.4 L899.3 1584.0 L899.3 1585.4 L899.4 1586.7 L899.4 1587.9 L899.5 1589.0 L899.6 1590.2 L899.6 1591.6 L899.7 1593.1 L899.8 1594.8 L899.9 1596.5 L899.9 1598.3 L900.0 1600.2 L900.1 1602.1 L900.2 1604.1 L900.3 1606.0 L900.4 1608.0 L900.5 1609.9 L900.6 1611.7 L900.7 1613.5 L900.8 1615.2 L900.9 1616.7 L901.0 1618.2 L901.1 1619.5 L901.2 1620.6 L901.2 1621.6 L901.3 1622.3 L901.4 1622.8 L901.8 1622.9 L902.2 1621.1 L902.8 1618.2 L903.3 1615.3 L903.8 1613.4 L904.2 1613.4 L904.3 1613.9 L904.4 1614.6 L904.5 1615.4 L904.7 1616.5 L904.8 1617.7 L905.0 1619.0 L905.1 1620.5 L905.3 1622.1 L905.4 1623.7 L905.6 1625.5 L905.8 1627.3 L905.9 1629.1 L906.1 1631.0 L906.2 1632.9 L906.4 1634.8 L906.5 1636.6 L906.6 1638.4 L906.7 1640.2 L906.8 1641.9 L906.9 1643.5 L907.0 1645.0 L907.0 1645.9 L907.1 1646.8 L907.1 1647.9 L907.1 1649.0 L907.2 1650.1 L907.2 1651.3 L907.2 1652.6 L907.3 1653.9 L907.3 1655.3 L907.3 1656.7 L907.3 1658.2 L907.4 1659.7 L907.4 1661.3 L907.4 1662.9 L907.4 1664.5 L907.5 1666.1 L907.5 1667.8 L907.5 1669.5 L907.5 1671.2 L907.5 1672.9 L907.6 1674.7 L907.6 1676.4 L907.6 1678.2 L907.6 1679.9 L907.6 1681.7 L907.7 1683.5 L907.7 1685.2 L907.7 1686.9 L907.7 1688.6 L907.7 1690.3 L907.7 1692.0 L907.7 1693.7 L907.8 1695.3 L907.8 1696.9 L907.8 1698.5 L907.8 1700.0 L907.8 1700.9 L907.8 1701.8 L907.8 1702.7 L907.8 1703.8 L907.8 1704.8 L907.8 1706.0 L907.9 1707.1 L907.9 1708.4 L907.9 1709.6 L907.9 1710.9 L907.9 1712.3 L907.9 1713.7 L907.9 1715.1 L907.9 1716.6 L907.9 1718.1 L907.9 1719.7 L907.9 1721.3 L907.9 1722.9 L908.0 1724.5 L908.0 1726.2 L908.0 1727.8 L908.0 1729.6 L908.0 1731.3 L908.0 1733.0 L908.0 1734.8 L908.0 1736.6 L908.0 1738.4 L908.0 1740.2 L908.0 1742.0 L908.0 1743.8 L908.1 1745.7 L908.1 1747.5 L908.1 1749.3 L908.1 1751.2 L908.1 1753.0 L908.1 1754.9 L908.1 1756.7 L908.1 1758.5 L908.1 1760.4 L908.1 1762.2 L908.1 1764.0 L908.1 1765.8 L908.2 1767.5 L908.2 1769.3 L908.2 1771.0 L908.2 1772.7 L908.2 1774.4 L908.2 1776.1 L908.2 1777.7 L908.2 1779.4 L908.2 1780.9 L908.2 1782.5 L908.2 1784.0 L908.2 1785.5 L908.2 1787.0 L908.2 1788.4 L908.3 1789.7 L908.3 1791.1 L908.3 1792.4 L908.3 1793.6 L908.3 1794.8 L908.3 1795.9 L908.3 1797.0 L908.3 1798.1 L908.3 1799.1 L908.3 1800.0 L908.3 1801.3 L908.3 1802.8 L908.3 1804.2 L908.3 1805.8 L908.3 1807.4 L908.3 1809.1 L908.3 1810.9 L908.3 1812.7 L908.4 1814.5 L908.4 1816.4 L908.4 1818.3 L908.4 1820.3 L908.4 1822.3 L908.4 1824.3 L908.4 1826.3 L908.4 1828.3 L908.4 1830.4 L908.4 1832.4 L908.4 1834.4 L908.4 1836.5 L908.4 1838.5 L908.4 1840.5 L908.4 1842.4 L908.5 1844.4 L908.5 1846.3 L908.5 1848.2 L908.5 1850.0 L908.5 1851.8 L908.5 1853.5 L908.5 1855.2 L908.5 1856.8 L908.5 1858.3 L908.5 1859.8 L908.5 1861.2 L908.5 1862.5 L908.5 1863.7 L908.5 1864.8 L908.5 1865.9 L908.6 1866.8 L908.6 1867.6 L908.6 1868.3 L908.6 1868.9 L908.6 1869.4 L908.6 1869.7 L908.6 1869.9 L908.6 1870.0 L908.6 1869.9 L908.6 1869.7 L908.6 1869.4 L908.6 1868.9 L908.6 1868.3 L908.7 1867.6 L908.7 1866.8 L908.7 1865.9 L908.7 1864.8 L908.7 1863.7 L908.7 1862.5 L908.7 1861.2 L908.7 1859.8 L908.7 1858.3 L908.8 1856.8 L908.8 1855.2 L908.8 1853.5 L908.8 1851.8 L908.8 1850.0 L908.8 1848.2 L908.8 1846.3 L908.9 1844.4 L908.9 1842.4 L908.9 1840.5 L908.9 1838.5 L908.9 1836.5 L908.9 1834.4 L908.9 1832.4 L909.0 1830.4 L909.0 1828.3 L909.0 1826.3 L909.0 1824.3 L909.0 1822.3 L909.0 1820.3 L909.0 1818.3 L909.1 1816.4 L909.1 1814.5 L909.1 1812.7 L909.1 1810.9 L909.1 1809.1 L909.1 1807.4 L909.1 1805.8 L909.2 1804.2 L909.2 1802.8 L909.2 1801.3 L909.2 1800.0 L909.2 1799.1 L909.2 1798.1 L909.2 1797.1 L909.2 1796.0 L909.2 1794.8 L909.3 1793.7 L909.3 1792.4 L909.3 1791.2 L909.3 1789.9 L909.3 1788.5 L909.3 1787.1 L909.3 1785.7 L909.3 1784.2 L909.4 1782.7 L909.4 1781.2 L909.4 1779.6 L909.4 1778.1 L909.4 1776.4 L909.4 1774.8 L909.4 1773.1 L909.5 1771.5 L909.5 1769.8 L909.5 1768.0 L909.5 1766.3 L909.5 1764.5 L909.5 1762.8 L909.6 1761.0 L909.6 1759.2 L909.6 1757.4 L909.6 1755.6 L909.6 1753.8 L909.6 1752.0 L909.7 1750.1 L909.7 1748.3 L909.7 1746.5 L909.7 1744.7 L909.7 1742.9 L909.7 1741.1 L909.8 1739.3 L909.8 1737.5 L909.8 1735.7 L909.8 1734.0 L909.8 1732.2 L909.9 1730.5 L909.9 1728.8 L909.9 1727.1 L909.9 1725.4 L909.9 1723.8 L909.9 1722.2 L910.0 1720.6 L910.0 1719.0 L910.0 1717.5 L910.0 1716.0 L910.0 1714.5 L910.0 1713.1 L910.1 1711.7 L910.1 1710.3 L910.1 1709.0 L910.1 1707.7 L910.1 1706.4 L910.1 1705.2 L910.1 1704.1 L910.2 1703.0 L910.2 1701.9 L910.2 1700.9 L910.2 1700.0 L910.2 1698.7 L910.2 1697.4 L910.3 1696.0 L910.3 1694.5 L910.3 1693.1 L910.3 1691.5 L910.4 1690.0 L910.4 1688.4 L910.4 1686.8 L910.4 1685.1 L910.5 1683.4 L910.5 1681.7 L910.5 1680.0 L910.5 1678.3 L910.6 1676.5 L910.6 1674.7 L910.6 1672.9 L910.7 1671.1 L910.7 1669.3 L910.7 1667.5 L910.8 1665.7 L910.8 1663.9 L910.8 1662.1 L910.9 1660.3 L910.9 1658.5 L910.9 1656.8 L911.0 1655.0 L911.0 1653.3 L911.0 1651.6 L911.1 1649.9 L911.1 1648.2 L911.2 1646.6 L911.2 1645.0 L911.2 1643.4 L911.3 1641.9 L911.3 1640.4 L911.3 1639.0 L911.4 1637.6 L911.4 1636.2 L911.4 1634.9 L911.5 1633.7 L911.5 1632.5 L911.5 1631.3 L911.6 1630.2 L911.6 1629.2 L911.6 1628.3 L911.7 1627.4 L911.7 1626.6 L911.8 1624.8 L911.9 1623.0 L912.0 1621.2 L912.1 1619.3 L912.2 1617.5 L912.3 1615.6 L912.5 1613.8 L912.6 1611.9 L912.7 1610.2 L912.9 1608.4 L913.0 1606.7 L913.2 1605.1 L913.3 1603.5 L913.5 1602.0 L913.6 1600.6 L913.8 1599.3 L914.0 1598.1 L914.1 1597.0 L914.2 1596.1 L914.4 1595.3 L914.5 1594.6 L915.7 1592.8 L917.6 1591.8 L919.2 1590.9 L920.1 1589.4 L921.3 1587.2 L922.4 1585.4 L923.3 1585.0 L923.7 1585.6 L924.2 1586.6 L924.7 1588.0 L925.3 1589.6 L925.9 1591.4 L926.4 1593.3 L926.9 1595.2 L927.4 1596.9 L927.7 1598.4 L927.9 1599.4 L928.0 1600.5 L928.2 1601.9 L928.4 1603.3 L928.6 1604.9 L928.8 1606.5 L928.9 1608.3 L929.1 1610.0 L929.3 1611.8 L929.4 1613.5 L929.6 1615.3 L929.7 1616.9 L929.9 1618.5 L930.0 1620.0 L930.1 1621.0 L930.2 1622.1 L930.2 1623.5 L930.3 1625.0 L930.4 1626.7 L930.6 1628.4 L930.7 1630.3 L930.8 1632.2 L930.9 1634.2 L931.0 1636.2 L931.1 1638.3 L931.3 1640.3 L931.4 1642.2 L931.5 1644.2 L931.6 1646.0 L931.7 1647.7 L931.8 1649.3 L931.9 1650.7 L932.0 1652.0 L932.1 1653.1 L932.2 1654.0 L932.2 1654.6 L932.3 1655.0 L932.4 1655.1 L932.5 1654.5 L932.6 1653.4 L932.7 1651.9 L932.8 1650.0 L932.9 1647.9 L933.0 1645.6 L933.1 1643.3 L933.2 1641.1 L933.3 1639.1 L933.4 1637.3 L933.5 1636.0 L933.6 1634.8 L933.7 1633.3 L933.8 1631.7 L934.0 1629.9 L934.1 1628.0 L934.3 1626.2 L934.4 1624.3 L934.6 1622.5 L934.8 1620.8 L934.9 1619.3 L935.1 1618.0 L935.2 1617.0 L935.5 1615.4 L935.9 1613.6 L936.3 1611.8 L936.8 1610.1 L937.2 1608.4 L937.7 1607.1 L938.0 1606.0 L938.7 1604.6 L939.5 1603.1 L940.4 1601.6 L941.0 1600.0 L941.2 1598.9 L941.5 1597.2 L941.8 1595.2 L942.1 1593.0 L942.4 1590.9 L942.7 1588.9 L943.0 1587.3 L943.3 1586.3 L943.6 1586.0 L943.8 1586.4 L944.1 1587.3 L944.4 1588.7 L944.7 1590.3 L945.0 1592.2 L945.4 1594.2 L945.8 1596.3 L946.1 1598.3 L946.5 1600.2 L946.8 1601.8 L947.1 1603.1 L947.4 1604.0 L948.8 1605.5 L950.7 1606.3 L952.0 1607.8 L952.2 1608.6 L952.4 1609.7 L952.6 1611.1 L952.8 1612.7 L953.0 1614.4 L953.3 1616.4 L953.5 1618.4 L953.8 1620.5 L954.0 1622.6 L954.3 1624.7 L954.5 1626.8 L954.7 1628.7 L955.0 1630.5 L955.2 1632.2 L955.4 1633.6 L955.5 1634.7 L955.7 1635.5 L955.8 1636.0 L956.1 1636.0 L956.3 1635.0 L956.6 1633.1 L956.9 1630.8 L957.1 1628.4 L957.3 1626.0 L957.5 1624.0 L957.7 1622.8 L958.1 1620.6 L958.6 1618.6 L959.0 1618.0 L959.4 1618.7 L959.9 1620.2 L960.5 1622.2 L960.9 1624.4 L961.2 1626.6 L961.2 1627.3 L961.3 1628.2 L961.3 1629.2 L961.3 1630.4 L961.4 1631.7 L961.4 1633.1 L961.4 1634.7 L961.5 1636.3 L961.5 1638.0 L961.5 1639.8 L961.6 1641.7 L961.6 1643.6 L961.6 1645.5 L961.7 1647.5 L961.7 1649.4 L961.7 1651.4 L961.7 1653.4 L961.8 1655.3 L961.8 1657.3 L961.8 1659.1 L961.8 1660.9 L961.9 1662.7 L961.9 1664.4 L961.9 1666.0 L961.9 1667.4 L961.9 1668.8 L962.0 1670.0 L962.0 1671.1 L962.0 1672.1 L962.0 1672.9 L962.0 1673.5" fill="none" stroke="#000" stroke-width="8.4" stroke-linejoin="round" stroke-linecap="round"/>
<path d="M97.5 1294.3 L97.8 1295.5 L98.2 1295.9 L98.7 1294.8 L99.3 1294.4 L99.9 1295.8 L100.6 1295.8 L101.4 1293.4 L102.2 1294.5 L103.0 1293.1 L103.9 1294.3 L104.8 1295.5 L105.7 1294.3 L106.7 1294.6 L107.7 1294.7 L108.7 1296.7 L109.7 1297.5 L110.7 1295.6 L111.7 1295.8 L112.7 1295.9 L113.6 1294.9 L114.6 1294.5 L115.5 1294.6 L116.3 1295.6 L117.2 1296.0 L118.0 1295.5 L118.7 1295.8 L119.4 1295.4 L120.0 1294.2 L120.6 1295.7 L121.2 1295.6 L121.9 1294.4 L122.6 1293.8 L123.3 1294.5 L124.1 1294.3 L124.9 1293.7 L125.8 1293.3 L126.7 1295.2 L127.5 1295.1 L128.5 1295.7 L129.4 1295.2 L130.3 1294.2 L131.3 1294.0 L132.2 1294.5 L133.1 1293.8 L134.1 1294.4 L135.0 1293.3 L135.9 1294.6 L136.8 1295.3 L137.7 1293.9 L138.5 1293.3 L139.4 1293.2 L140.1 1292.9 L140.9 1294.8 L141.6 1295.0 L142.3 1294.4 L142.9 1295.9 L143.5 1296.1 L144.0 1294.1 L144.7 1293.6 L145.5 1293.3 L146.3 1294.7 L147.1 1294.8 L148.0 1295.4 L148.9 1294.5 L149.8 1295.1 L150.8 1295.8 L151.7 1295.4 L152.7 1294.5 L153.7 1295.4 L154.6 1293.9 L155.5 1294.9 L156.4 1294.5 L157.3 1293.7 L158.1 1294.9 L158.9 1295.2 L159.7 1294.7 L160.4 1293.4 L161.0 1293.4 L161.5 1294.9 L162.0 1294.0 L162.8 1294.9 L163.6 1296.1 L164.3 1296.1 L165.1 1295.3 L165.9 1295.5 L166.6 1294.1 L167.4 1293.1 L168.1 1292.9 L168.9 1293.1 L169.6 1293.5 L170.3 1292.5 L171.0 1292.4 L171.5 1291.5 L172.1 1292.5 L172.8 1293.2 L173.5 1292.3 L174.3 1291.4 L175.2 1292.4 L176.1 1293.1 L177.1 1293.5 L178.0 1293.3 L179.0 1292.8 L179.9 1293.8 L180.9 1293.0 L181.8 1293.0 L182.7 1292.8 L183.5 1293.6 L184.2 1296.1 L184.9 1294.8 L185.5 1295.4 L186.0 1294.7 L186.7 1297.1 L187.3 1296.7 L188.0 1297.0 L188.7 1297.5 L189.4 1299.4 L190.1 1297.9 L190.9 1297.6 L191.6 1300.2 L192.3 1300.9 L193.0 1300.2 L193.7 1300.8 L194.3 1302.5 L195.0 1303.4 L195.4 1302.3 L195.8 1302.4 L196.3 1303.0 L196.8 1304.5 L197.4 1305.9 L198.0 1306.4 L198.7 1306.4 L199.4 1305.2 L200.1 1305.3 L200.8 1306.8 L201.5 1305.9 L202.2 1307.5 L203.0 1309.2 L203.7 1309.3 L204.5 1308.9 L205.2 1311.1 L205.9 1311.8 L206.6 1310.9 L207.2 1313.1 L207.9 1313.4 L208.5 1313.4 L209.0 1312.6 L209.5 1314.4 L210.0 1313.9 L210.4 1315.0 L210.9 1316.1 L211.4 1316.2 L212.0 1316.4 L212.6 1316.9 L213.2 1316.7 L213.8 1315.8 L214.4 1317.7 L215.1 1318.7 L215.8 1317.6 L216.5 1319.4 L217.2 1319.1 L217.8 1318.5 L218.5 1320.5 L219.2 1322.5 L219.9 1321.2 L220.6 1323.5 L221.2 1322.8 L221.8 1324.3 L222.4 1326.1 L223.0 1326.2 L223.6 1326.8 L224.1 1328.1 L224.6 1327.6 L225.0 1327.9 L225.5 1327.0 L226.0 1328.5 L226.5 1329.5 L227.1 1329.7 L227.7 1329.1 L228.4 1329.0 L229.1 1329.0 L229.7 1330.4 L230.5 1329.5 L231.2 1329.4 L231.9 1330.9 L232.6 1333.0 L233.4 1332.9 L234.1 1334.4 L234.8 1335.0 L235.5 1334.8 L236.2 1335.0 L236.8 1335.6 L237.4 1337.2 L238.0 1337.4 L238.6 1337.4 L239.1 1338.4 L239.6 1339.3 L240.0 1340.4 L240.4 1339.6 L240.8 1339.8 L241.3 1341.3 L241.7 1341.9 L242.2 1341.7 L242.7 1342.9 L243.3 1342.4 L243.8 1343.1 L244.3 1344.2 L244.9 1346.4 L245.4 1345.4 L246.0 1347.4 L246.5 1348.8 L247.1 1349.2 L247.6 1348.1 L248.2 1350.3 L248.7 1350.5 L249.2 1351.4 L249.7 1352.6 L250.1 1353.9 L250.6 1355.1 L251.0 1353.5 L251.3 1354.1 L251.7 1355.5 L252.0 1356.7 L252.5 1356.6 L253.0 1357.3 L253.5 1358.0 L254.1 1357.7 L254.7 1356.9 L255.3 1358.9 L255.9 1359.0 L256.5 1358.7 L257.1 1360.7 L257.7 1362.2 L258.3 1362.4 L258.9 1364.3 L259.4 1364.6 L259.9 1364.5 L260.3 1363.9 L260.7 1365.0 L261.0 1365.0 L261.3 1367.3 L261.6 1368.6 L261.9 1368.5 L262.2 1369.4 L262.5 1370.1 L262.8 1370.5 L263.2 1371.3 L263.5 1372.0 L263.8 1372.9 L264.1 1373.4 L264.4 1374.1 L264.7 1375.5 L264.9 1376.5 L265.2 1377.4 L265.4 1378.2 L265.6 1379.4 L265.8 1380.0 L265.9 1380.1 L266.0 1380.4 L266.1 1381.1 L266.1 1381.8 L266.2 1382.6 L266.3 1383.6 L266.4 1384.8 L266.5 1385.8 L266.6 1386.7 L266.7 1387.6 L266.8 1388.6 L266.9 1389.3 L267.0 1390.1 L267.2 1391.6 L267.3 1392.8 L267.4 1394.0 L267.5 1394.9 L267.6 1396.1 L267.7 1397.2 L267.8 1398.0 L267.9 1398.9 L268.0 1400.2 L268.1 1401.2 L268.2 1402.3 L268.3 1403.4 L268.4 1403.9 L268.5 1405.0 L268.6 1405.9 L268.7 1406.7 L268.8 1407.4 L268.9 1408.0 L269.0 1408.7 L269.1 1409.2 L269.2 1409.3 L269.3 1409.3 L269.3 1408.7 L269.4 1408.4 L269.5 1408.0 L269.6 1407.7 L269.7 1409.5 L269.9 1409.2 L270.0 1408.6 L270.1 1408.3 L270.3 1407.5 L270.4 1406.8 L270.6 1405.6 L270.7 1404.4 L270.9 1403.6 L271.0 1402.7 L271.2 1401.4 L271.3 1400.5 L271.5 1399.0 L271.7 1398.0 L271.8 1396.8 L272.0 1395.6 L272.2 1394.4 L272.3 1393.1 L272.5 1392.5 L272.7 1391.9 L272.8 1391.3 L273.0 1390.5 L273.1 1389.7 L273.3 1389.2 L273.7 1389.3 L274.3 1389.6 L274.9 1388.9 L275.7 1388.2 L276.4 1387.2 L277.2 1386.0 L278.0 1386.3 L278.8 1385.5 L279.6 1386.0 L280.2 1386.9 L280.8 1385.0 L281.3 1385.4 L281.8 1386.4 L282.4 1387.5 L283.0 1387.5 L283.7 1388.2 L284.4 1389.4 L285.1 1389.5 L285.8 1390.4 L286.6 1390.0 L287.3 1389.2 L288.0 1389.3 L288.6 1390.4 L289.2 1392.0 L289.8 1390.5 L290.3 1389.7 L290.9 1389.0 L291.6 1389.1 L292.4 1389.0 L293.2 1388.4 L294.1 1388.5 L295.0 1387.7 L295.9 1387.1 L296.8 1387.4 L297.7 1387.8 L298.6 1387.8 L299.4 1387.2 L300.1 1386.5 L300.8 1385.2 L301.3 1384.7 L301.8 1384.3 L302.4 1386.4 L303.1 1387.6 L303.8 1386.8 L304.5 1386.7 L305.1 1387.2 L305.8 1389.5 L306.4 1389.4 L306.9 1390.0 L307.4 1391.4 L307.8 1391.5 L308.2 1391.3 L308.7 1393.6 L309.3 1393.9 L309.8 1396.2 L310.4 1397.0 L310.9 1397.7 L311.5 1398.4 L312.0 1398.1 L312.4 1399.3 L312.7 1397.5 L313.1 1397.5 L313.5 1396.9 L314.0 1396.2 L314.4 1394.5 L314.9 1392.8 L315.5 1392.6 L316.0 1390.7 L316.5 1390.7 L317.0 1391.4 L317.5 1388.9 L318.0 1388.1 L318.4 1387.4 L318.8 1387.3 L319.2 1386.9 L319.7 1386.6 L320.2 1386.0 L320.8 1384.2 L321.4 1384.3 L322.0 1384.7 L322.7 1384.2 L323.4 1382.6 L324.1 1382.8 L324.7 1383.2 L325.4 1382.8 L326.1 1381.3 L326.8 1380.5 L327.4 1380.0 L327.8 1378.2 L328.3 1379.0 L328.9 1377.2 L329.6 1376.6 L330.3 1378.0 L331.0 1377.4 L331.8 1377.3 L332.6 1375.5 L333.5 1374.9 L334.3 1376.4 L335.2 1376.2 L336.1 1376.6 L337.0 1376.1 L337.9 1374.8 L338.8 1373.5 L339.7 1372.6 L340.6 1372.9 L341.4 1372.1 L342.2 1371.6 L342.9 1373.8 L343.7 1373.4 L344.3 1373.3 L344.9 1373.0 L345.4 1372.1 L346.1 1372.0 L346.8 1371.7 L347.6 1371.8 L348.4 1372.0 L349.3 1373.2 L350.2 1371.9 L351.1 1372.2 L352.1 1370.9 L353.0 1370.2 L354.0 1372.0 L354.9 1372.6 L355.8 1371.4 L356.7 1370.8 L357.5 1371.7 L358.3 1371.9 L359.1 1372.2 L359.8 1370.9 L360.4 1372.0 L361.0 1371.9 L361.7 1371.6 L362.5 1371.4 L363.3 1371.5 L364.2 1372.1 L365.1 1370.8 L366.0 1369.5 L367.0 1371.0 L368.0 1372.7 L368.9 1373.4 L369.9 1372.6 L370.8 1373.0 L371.7 1372.5 L372.6 1371.7 L373.4 1373.0 L374.2 1371.7 L374.9 1371.3 L375.5 1373.2 L376.0 1372.2 L376.6 1372.7 L377.2 1372.8 L377.9 1370.2 L378.6 1370.2 L379.3 1370.5 L380.1 1369.6 L380.8 1367.7 L381.6 1366.3 L382.4 1366.3 L383.2 1365.1 L384.0 1363.7 L384.8 1365.1 L385.6 1365.5 L386.4 1364.1 L387.1 1364.5 L387.8 1362.3 L388.4 1362.0 L389.0 1363.4 L389.6 1362.5 L390.1 1362.7 L390.5 1362.2 L391.1 1361.8 L391.7 1359.2 L392.3 1359.9 L392.9 1360.0 L393.6 1360.1 L394.3 1358.2 L394.9 1358.4 L395.6 1357.3 L396.2 1357.5 L396.9 1358.3 L397.6 1356.1 L398.2 1354.6 L398.8 1353.3 L399.4 1353.9 L400.0 1355.1 L400.4 1354.1 L401.0 1352.5 L401.5 1351.0 L402.2 1351.2 L402.9 1350.5 L403.6 1351.4 L404.4 1349.4 L405.2 1348.8 L406.0 1348.2 L406.8 1348.3 L407.7 1346.8 L408.5 1346.6 L409.4 1345.7 L410.2 1346.0 L411.0 1345.8 L411.8 1345.4 L412.5 1344.5 L413.2 1345.5 L413.9 1344.4 L414.5 1345.8 L415.0 1345.1 L415.6 1343.5 L416.3 1344.6 L417.1 1343.2 L417.9 1343.1 L418.8 1343.7 L419.7 1343.3 L420.6 1344.7 L421.5 1343.0 L422.5 1343.7 L423.5 1344.8 L424.4 1346.8 L425.3 1345.9 L426.2 1347.6 L427.1 1348.0 L427.9 1346.4 L428.7 1346.7 L429.4 1346.0 L430.0 1345.8 L430.5 1345.1 L431.0 1344.9 L431.5 1344.6 L432.1 1344.6 L432.7 1345.0 L433.3 1344.9 L434.0 1343.9 L434.7 1343.8 L435.4 1342.5 L436.1 1341.3 L436.8 1340.6 L437.5 1339.2 L438.2 1338.4 L438.9 1337.5 L439.6 1336.9 L440.3 1337.4 L441.0 1337.0 L441.7 1335.4 L442.3 1335.6 L442.9 1335.6 L443.5 1336.1 L444.0 1335.5 L444.5 1334.6 L445.0 1335.9 L445.6 1334.5 L446.3 1333.7 L447.1 1334.3 L447.9 1334.0 L448.8 1333.4 L449.7 1333.9 L450.6 1333.9 L451.5 1335.6 L452.5 1335.9 L453.5 1335.3 L454.4 1333.7 L455.3 1334.9 L456.2 1335.4 L457.1 1335.7 L457.9 1337.3 L458.7 1335.1 L459.4 1335.1 L460.0 1336.2 L460.6 1335.3 L461.2 1334.5 L461.8 1334.3 L462.5 1333.8 L463.3 1334.5 L464.1 1333.0 L464.9 1332.5 L465.7 1332.2 L466.5 1332.2 L467.4 1333.1 L468.2 1331.5 L469.1 1332.0 L469.9 1331.8 L470.7 1329.9 L471.5 1328.9 L472.3 1328.4 L473.0 1328.7 L473.7 1330.1 L474.4 1330.6 L475.0 1330.4 L475.5 1329.7 L476.1 1328.9 L476.8 1329.4 L477.5 1329.1 L478.2 1328.8 L479.0 1327.0 L479.8 1326.6 L480.6 1327.1 L481.5 1326.4 L482.4 1327.2 L483.3 1325.6 L484.2 1326.2 L485.1 1326.4 L486.0 1327.0 L486.9 1327.1 L487.7 1326.2 L488.6 1325.5 L489.4 1325.5 L490.2 1324.4 L491.0 1323.6 L491.7 1324.0 L492.4 1324.3 L493.0 1323.4 L493.6 1324.5 L494.2 1325.2 L494.9 1326.3 L495.6 1326.2 L496.4 1325.5 L497.2 1325.9 L498.1 1325.5 L499.0 1326.4 L499.9 1324.3 L500.9 1325.9 L501.8 1326.2 L502.8 1324.8 L503.8 1326.8 L504.7 1326.9 L505.7 1326.5 L506.6 1324.6 L507.6 1325.8 L508.5 1325.4 L509.3 1326.6 L510.1 1327.4 L510.9 1327.1 L511.7 1326.4 L512.3 1327.3 L513.0 1325.5 L513.5 1326.8 L514.0 1325.6 L514.6 1326.4 L515.1 1327.2 L515.7 1327.1 L516.3 1325.3 L517.0 1324.6 L517.6 1325.0 L518.2 1324.4 L518.8 1324.2 L519.5 1323.0 L520.1 1322.1 L520.7 1320.6 L521.3 1319.6 L521.9 1319.2 L522.5 1320.5 L523.1 1319.6 L523.6 1318.8 L524.2 1317.9 L524.7 1316.8 L525.1 1315.0 L525.6 1314.4 L526.0 1314.7 L526.5 1315.5 L527.0 1315.5 L527.6 1313.1 L528.2 1313.1 L528.9 1313.9 L529.6 1312.4 L530.3 1312.5 L531.0 1312.3 L531.8 1310.4 L532.5 1308.7 L533.2 1308.2 L534.0 1309.5 L534.7 1308.5 L535.3 1306.4 L536.0 1305.5 L536.6 1304.8 L537.1 1306.0 L537.6 1305.3 L538.0 1304.1 L538.6 1303.1 L539.2 1302.5 L539.8 1303.2 L540.5 1303.5 L541.2 1303.2 L541.9 1300.2 L542.6 1300.7 L543.3 1300.4 L544.0 1297.9 L544.7 1298.7 L545.4 1299.3 L546.0 1298.3 L546.5 1297.5 L547.0 1298.3 L547.3 1297.2 L547.7 1297.2 L548.1 1296.1 L548.5 1295.8 L548.9 1294.7 L549.4 1294.2 L549.8 1294.4 L550.3 1292.6 L550.8 1293.0 L551.3 1288.2 L551.8 1289.4 L552.3 1288.3 L552.8 1287.0 L553.3 1283.7 L553.7 1284.8 L554.2 1284.0 L554.6 1284.6 L555.0 1283.3 L555.4 1281.2 L555.7 1281.0 L556.0 1283.4 L556.5 1280.3 L557.0 1282.8 L557.5 1281.0 L558.2 1281.3 L558.8 1282.8 L559.4 1284.7 L560.1 1284.0 L560.7 1284.6 L561.4 1284.4 L562.0 1286.4 L562.5 1288.3 L563.0 1290.4 L563.4 1291.5 L563.8 1289.0 L564.1 1290.0 L564.4 1292.1 L564.7 1292.9 L565.1 1294.0 L565.4 1294.9 L565.7 1295.7 L566.1 1296.8 L566.4 1298.2 L566.7 1298.9 L567.0 1299.8 L567.4 1300.6 L567.7 1302.9 L568.0 1302.3 L568.3 1302.1 L568.9 1301.5 L569.6 1300.9 L570.5 1299.5 L571.4 1301.2 L572.4 1302.1 L573.4 1304.3 L574.3 1304.6 L575.1 1304.6 L575.8 1303.3 L576.2 1302.1 L576.6 1302.2 L577.0 1302.7 L577.5 1300.9 L578.0 1300.9 L578.5 1300.0 L579.1 1297.8 L579.6 1299.1 L580.2 1299.4 L580.7 1298.6 L581.2 1295.4 L581.7 1296.7 L582.2 1296.1 L582.6 1294.2 L583.0 1294.0 L583.3 1291.9 L583.6 1293.4 L583.9 1291.6 L584.3 1291.1 L584.7 1290.8 L585.1 1289.5 L585.5 1288.4 L585.9 1287.4 L586.3 1285.8 L586.7 1285.5 L587.1 1284.8 L587.5 1284.1 L587.9 1283.0 L588.3 1281.7 L588.7 1281.1 L589.0 1280.2 L589.3 1282.4 L589.9 1282.1 L590.7 1281.3 L591.6 1282.2 L592.5 1281.4 L593.5 1280.8 L594.4 1280.5 L595.3 1279.6 L596.1 1281.9 L596.8 1281.6 L597.5 1284.2 L598.3 1282.5 L599.2 1281.4 L600.1 1279.8 L601.1 1280.4 L602.0 1278.3 L602.9 1279.0 L603.7 1281.3 L604.3 1280.9 L604.6 1281.1 L604.9 1282.7 L605.2 1281.4 L605.5 1282.3 L605.9 1282.8 L606.2 1284.3 L606.6 1285.5 L606.9 1285.9 L607.3 1286.3 L607.7 1287.6 L608.0 1289.0 L608.4 1289.4 L608.7 1290.3 L609.1 1291.4 L609.4 1292.1 L609.7 1292.9 L610.0 1293.3 L610.3 1295.3 L610.6 1294.9 L611.0 1294.5 L611.4 1293.8 L611.8 1295.8 L612.2 1296.0 L612.7 1298.0 L613.2 1300.1 L613.7 1299.4 L614.2 1301.6 L614.8 1300.8 L615.3 1301.3 L615.8 1301.7 L616.3 1301.5 L616.8 1302.0 L617.3 1302.8 L617.8 1306.2 L618.3 1306.7 L618.9 1305.9 L619.5 1306.8 L620.3 1305.9 L621.1 1305.9 L622.0 1306.6 L622.9 1307.2 L623.8 1304.8 L624.7 1305.0 L625.7 1306.0 L626.6 1305.9 L627.5 1305.9 L628.4 1305.7 L629.3 1305.7 L630.1 1304.9 L630.8 1305.7 L631.4 1306.4 L631.9 1306.7 L632.6 1306.3 L633.2 1306.5 L634.0 1307.2 L634.8 1307.7 L635.6 1309.2 L636.4 1308.2 L637.3 1308.2 L638.2 1309.4 L639.1 1309.9 L640.0 1309.2 L640.9 1308.8 L641.7 1309.4 L642.6 1309.4 L643.3 1311.3 L644.1 1312.0 L644.8 1312.1 L645.4 1312.3 L645.9 1310.8 L646.4 1310.8 L647.2 1310.4 L648.0 1311.4 L648.9 1311.4 L649.9 1311.4 L650.8 1309.8 L651.7 1310.2 L652.5 1307.7 L653.4 1308.3 L654.1 1307.3 L654.8 1306.8 L655.4 1306.6 L656.0 1307.1 L656.8 1307.1 L657.6 1306.0 L658.5 1308.0 L659.4 1309.1 L660.3 1309.6 L661.1 1309.4 L661.9 1310.3 L662.5 1310.1 L663.0 1309.6 L663.2 1311.6 L663.5 1312.0 L663.7 1312.6 L664.0 1313.5 L664.2 1314.1 L664.5 1315.0 L664.8 1315.7 L665.1 1316.6 L665.3 1317.2 L665.6 1318.0 L665.9 1319.2 L666.1 1320.2 L666.3 1321.3 L666.6 1322.4 L666.8 1323.1 L667.0 1324.1 L667.1 1325.0 L667.3 1325.7 L667.4 1326.8 L667.5 1327.2 L667.5 1327.6 L667.5 1328.3 L667.6 1328.9 L667.6 1329.7 L667.7 1330.2 L667.7 1331.2 L667.8 1331.8 L667.8 1332.5 L667.9 1333.0 L667.9 1333.7 L667.9 1334.6 L668.0 1335.5 L668.0 1336.7 L668.1 1337.4 L668.1 1338.1 L668.1 1339.2 L668.2 1340.1 L668.2 1340.9 L668.2 1342.0 L668.3 1342.7 L668.3 1343.8 L668.4 1344.6 L668.4 1345.5 L668.4 1346.4 L668.5 1347.5 L668.5 1348.4 L668.5 1349.7 L668.6 1350.5 L668.6 1351.6 L668.6 1352.4 L668.7 1353.4 L668.7 1354.2 L668.7 1354.6 L668.8 1355.3 L668.8 1356.3 L668.8 1357.0 L668.9 1357.6 L668.9 1358.1 L669.0 1359.1 L669.0 1360.0 L669.1 1361.1 L669.2 1362.2 L669.3 1363.5 L669.4 1364.8 L669.5 1366.3 L669.6 1367.7 L669.8 1369.3 L669.9 1370.9 L670.0 1372.5 L670.2 1374.2 L670.4 1375.9 L670.5 1377.6 L670.7 1379.3 L670.8 1381.1 L671.0 1382.8 L671.1 1384.4 L671.2 1386.1 L671.4 1387.7 L671.5 1389.2 L671.6 1390.7 L671.7 1392.2 L671.8 1393.5 L671.9 1394.8 L672.0 1396.0 L672.1 1397.1 L672.1 1398.3 L672.2 1399.6 L672.2 1401.0 L672.3 1402.4 L672.3 1404.0 L672.4 1405.7 L672.5 1407.4 L672.5 1409.1 L672.6 1410.9 L672.6 1412.7 L672.7 1414.5 L672.7 1416.4 L672.8 1418.2 L672.8 1420.1 L672.9 1421.9 L673.0 1423.7 L673.0 1425.4 L673.1 1427.1 L673.1 1428.7 L673.2 1430.3 L673.2 1431.8 L673.3 1433.2 L673.3 1434.4 L673.4 1435.6 L673.4 1436.7 L673.5 1437.6 L673.6 1439.1 L673.7 1440.7 L673.9 1442.3 L674.0 1444.0 L674.2 1445.8 L674.4 1447.6 L674.6 1449.3 L674.8 1451.1 L675.0 1452.8 L675.2 1454.4 L675.4 1456.0 L675.6 1457.4 L675.8 1458.8 L676.0 1460.0 L676.1 1461.1 L676.3 1462.0 L676.6 1463.4 L677.0 1464.8 L677.4 1466.2 L677.9 1467.6 L678.4 1469.0 L678.9 1470.4 L679.4 1471.8 L679.7 1473.4 L680.0 1475.0 L680.1 1475.9 L680.2 1476.9 L680.3 1478.2 L680.4 1479.6 L680.5 1481.2 L680.6 1482.8 L680.7 1484.6 L680.8 1486.4 L680.9 1488.3 L681.0 1490.1 L681.1 1492.0 L681.2 1493.9 L681.3 1495.7 L681.4 1497.4 L681.5 1499.1 L681.6 1500.6 L681.7 1502.0 L681.8 1503.2 L681.9 1504.2 L682.0 1505.0 L682.4 1506.6 L683.0 1508.0 L683.8 1509.2 L684.6 1510.4 L685.4 1511.6 L686.1 1513.0 L686.6 1514.6 L686.8 1515.4 L687.0 1516.4 L687.2 1517.6 L687.5 1518.9 L687.7 1520.3 L688.0 1521.9 L688.2 1523.5 L688.5 1525.2 L688.7 1526.9 L689.0 1528.7 L689.3 1530.5 L689.5 1532.3 L689.7 1534.1 L689.9 1535.9 L690.1 1537.6 L690.3 1539.2 L690.4 1540.8 L690.5 1541.7 L690.5 1542.7 L690.6 1543.8 L690.7 1545.1 L690.7 1546.4 L690.8 1547.8 L690.9 1549.3 L690.9 1550.9 L691.0 1552.6 L691.0 1554.3 L691.1 1556.0 L691.2 1557.8 L691.2 1559.6 L691.3 1561.4 L691.4 1563.3 L691.4 1565.1 L691.5 1567.0 L691.6 1568.8 L691.6 1570.7 L691.7 1572.4 L691.7 1574.2 L691.8 1575.9 L691.9 1577.6 L691.9 1579.1 L692.0 1580.7 L692.0 1582.1 L692.1 1583.4 L692.1 1584.7 L692.2 1585.9 L692.2 1586.9 L692.3 1587.8 L692.4 1589.3 L692.5 1590.8 L692.6 1592.3 L692.8 1593.9 L692.9 1595.5 L693.1 1597.1 L693.3 1598.7 L693.4 1600.3 L693.6 1601.9 L693.8 1603.5 L694.0 1605.1 L694.1 1606.7 L694.3 1608.3 L694.5 1609.9 L694.6 1611.5 L694.8 1613.0 L694.9 1614.5 L695.0 1616.0 L695.1 1616.9 L695.1 1617.9 L695.2 1619.0 L695.3 1620.2 L695.4 1621.5 L695.5 1622.8 L695.6 1624.2 L695.7 1625.7 L695.8 1627.3 L695.9 1628.9 L696.0 1630.5 L696.1 1632.2 L696.2 1633.9 L696.3 1635.6 L696.4 1637.4 L696.5 1639.2 L696.7 1640.9 L696.8 1642.7 L696.9 1644.5 L697.0 1646.3 L697.1 1648.0 L697.2 1649.7 L697.3 1651.4 L697.4 1653.1 L697.5 1654.7 L697.6 1656.2 L697.6 1657.7 L697.7 1659.1 L697.8 1660.5 L697.8 1661.8 L697.9 1663.0 L697.9 1664.0 L698.0 1665.0 L698.0 1666.1 L698.1 1667.2 L698.1 1668.4 L698.2 1669.6 L698.2 1670.8 L698.3 1672.1 L698.4 1673.4 L698.4 1674.8 L698.5 1676.2 L698.5 1677.6 L698.6 1679.0 L698.6 1680.5 L698.7 1682.0 L698.8 1683.5 L698.8 1685.0 L698.9 1686.6 L698.9 1688.2 L699.0 1689.8 L699.0 1691.4 L699.1 1693.0 L699.1 1694.7 L699.2 1696.4 L699.3 1698.1 L699.3 1699.8 L699.4 1701.5 L699.4 1703.2 L699.5 1705.0 L699.5 1706.7 L699.6 1708.4 L699.6 1710.2 L699.6 1712.0 L699.7 1713.7 L699.7 1715.5 L699.8 1717.2 L699.8 1719.0 L699.8 1719.8 L699.8 1720.6 L699.8 1721.5 L699.9 1722.4 L699.9 1723.4 L699.9 1724.5 L699.9 1725.6 L699.9 1726.7 L699.9 1727.9 L700.0 1729.1 L700.0 1730.3 L700.0 1731.6 L700.0 1733.0 L700.0 1734.3 L700.1 1735.7 L700.1 1737.2 L700.1 1738.7 L700.1 1740.2 L700.1 1741.7 L700.2 1743.3 L700.2 1744.9 L700.2 1746.5 L700.2 1748.2 L700.2 1749.8 L700.3 1751.5 L700.3 1753.3 L700.3 1755.0 L700.3 1756.8 L700.3 1758.6 L700.4 1760.4 L700.4 1762.2 L700.4 1764.0 L700.4 1765.9 L700.5 1767.7 L700.5 1769.6 L700.5 1771.5 L700.5 1773.3 L700.5 1775.2 L700.6 1777.1 L700.6 1779.0 L700.6 1780.9 L700.6 1782.8 L700.7 1784.7 L700.7 1786.6 L700.7 1788.6 L700.7 1790.5 L700.7 1792.3 L700.8 1794.2 L700.8 1796.1 L700.8 1798.0 L700.8 1799.9 L700.9 1801.7 L700.9 1803.6 L700.9 1805.4 L700.9 1807.2 L701.0 1809.0 L701.0 1810.8 L701.0 1812.5 L701.0 1814.3 L701.0 1816.0 L701.1 1817.7 L701.1 1819.4 L701.1 1821.0 L701.1 1822.6 L701.2 1824.2 L701.2 1825.8 L701.2 1827.3 L701.2 1828.8 L701.2 1830.3 L701.3 1831.7 L701.3 1833.1 L701.3 1834.5 L701.3 1835.8 L701.4 1837.1 L701.4 1838.3 L701.4 1839.5 L701.4 1840.7 L701.4 1841.8 L701.5 1842.9 L701.5 1843.9 L701.5 1844.9 L701.5 1845.8 L701.5 1846.7 L701.6 1847.5 L701.6 1848.3 L701.6 1849.0 L701.7 1850.8 L701.7 1852.7 L701.8 1854.7 L701.9 1856.7 L702.0 1858.7 L702.1 1860.7 L702.2 1862.8 L702.3 1864.8 L702.4 1866.8 L702.5 1868.8 L702.7 1870.8 L702.8 1872.7 L702.9 1874.5 L703.1 1876.3 L703.2 1878.0 L703.3 1879.6 L703.5 1881.1 L703.6 1882.5 L703.7 1883.7 L703.9 1884.8 L704.0 1885.8 L704.1 1886.6 L704.2 1887.2 L704.3 1887.7 L704.4 1887.9 L704.5 1888.0 L704.6 1887.8 L704.7 1887.3 L704.8 1886.5 L704.9 1885.5 L705.0 1884.2 L705.1 1882.8 L705.2 1881.1 L705.3 1879.3 L705.4 1877.4 L705.6 1875.3 L705.7 1873.2 L705.8 1871.0 L705.9 1868.7 L706.1 1866.4 L706.2 1864.1 L706.3 1861.9 L706.5 1859.7 L706.6 1857.5 L706.7 1855.5 L706.9 1853.5 L707.0 1851.8 L707.1 1850.1 L707.2 1848.7 L707.4 1847.4 L707.5 1846.4 L707.6 1845.7 L707.7 1845.2 L707.8 1845.0 L707.9 1845.2 L708.0 1845.7 L708.2 1846.5 L708.3 1847.7 L708.5 1849.1 L708.7 1850.8 L708.9 1852.7 L709.1 1854.7 L709.3 1856.9 L709.5 1859.2 L709.7 1861.6 L709.9 1864.0 L710.1 1866.5 L710.3 1868.9 L710.5 1871.3 L710.7 1873.7 L710.9 1875.9 L711.1 1878.0 L711.3 1880.0 L711.5 1881.7 L711.7 1883.3 L711.9 1884.5 L712.0 1885.5 L712.2 1886.2 L712.3 1886.5 L712.4 1886.5 L712.5 1886.0 L712.5 1885.7 L712.6 1885.2 L712.6 1884.7 L712.7 1884.1 L712.7 1883.3 L712.7 1882.5 L712.8 1881.7 L712.8 1880.7 L712.9 1879.7 L712.9 1878.6 L713.0 1877.4 L713.0 1876.1 L713.0 1874.8 L713.1 1873.5 L713.1 1872.0 L713.2 1870.6 L713.2 1869.0 L713.3 1867.4 L713.3 1865.8 L713.3 1864.1 L713.4 1862.4 L713.4 1860.7 L713.5 1858.9 L713.5 1857.0 L713.6 1855.2 L713.6 1853.3 L713.6 1851.4 L713.7 1849.5 L713.7 1847.5 L713.8 1845.6 L713.8 1843.6 L713.9 1841.6 L713.9 1839.7 L713.9 1837.7 L714.0 1835.7 L714.0 1833.7 L714.1 1831.7 L714.1 1829.8 L714.1 1827.8 L714.2 1825.9 L714.2 1823.9 L714.2 1822.0 L714.3 1820.2 L714.3 1818.3 L714.3 1816.5 L714.4 1814.7 L714.4 1812.9 L714.4 1811.2 L714.5 1809.5 L714.5 1807.9 L714.5 1806.3 L714.6 1804.8 L714.6 1803.3 L714.6 1801.8 L714.6 1800.5 L714.7 1799.1 L714.7 1797.9 L714.7 1796.7 L714.7 1795.6 L714.8 1794.6 L714.8 1793.6 L714.8 1792.7 L714.8 1791.3 L714.9 1789.8 L714.9 1788.3 L714.9 1786.8 L714.9 1785.2 L715.0 1783.6 L715.0 1782.0 L715.0 1780.4 L715.1 1778.7 L715.1 1777.1 L715.1 1775.4 L715.1 1773.7 L715.2 1772.0 L715.2 1770.3 L715.2 1768.6 L715.2 1766.9 L715.3 1765.2 L715.3 1763.6 L715.3 1761.9 L715.3 1760.2 L715.4 1758.6 L715.4 1756.9 L715.4 1755.3 L715.4 1753.7 L715.5 1752.1 L715.5 1750.6 L715.5 1749.1 L715.5 1747.6 L715.5 1746.1 L715.6 1744.7 L715.6 1743.3 L715.6 1742.0 L715.6 1740.7 L715.6 1739.4 L715.7 1738.2 L715.7 1737.1 L715.7 1736.0 L715.7 1734.9 L715.7 1733.7 L715.8 1732.4 L715.8 1731.1 L715.8 1729.6 L715.8 1728.1 L715.9 1726.6 L715.9 1725.0 L715.9 1723.3 L715.9 1721.6 L716.0 1719.9 L716.0 1718.1 L716.0 1716.3 L716.1 1714.5 L716.1 1712.7 L716.1 1710.9 L716.2 1709.0 L716.2 1707.2 L716.2 1705.3 L716.3 1703.5 L716.3 1701.7 L716.3 1700.0 L716.4 1698.2 L716.4 1696.5 L716.4 1694.8 L716.5 1693.2 L716.5 1691.6 L716.5 1690.1 L716.5 1688.7 L716.6 1687.3 L716.6 1686.0 L716.6 1684.8 L716.6 1683.6 L716.6 1682.6 L716.7 1681.6 L716.7 1680.7 L716.7 1680.0 L716.7 1678.2 L716.8 1676.6 L716.8 1675.1 L716.9 1673.6 L716.9 1672.2 L716.9 1670.8 L717.0 1669.4 L717.0 1667.9 L717.1 1666.4 L717.1 1664.8 L717.2 1663.0 L717.2 1662.2 L717.3 1661.3 L717.3 1660.2 L717.3 1659.0 L717.4 1657.8 L717.4 1656.4 L717.5 1654.9 L717.6 1653.3 L717.6 1651.7 L717.7 1650.0 L717.7 1648.3 L717.8 1646.5 L717.9 1644.7 L718.0 1642.8 L718.0 1640.9 L718.1 1639.0 L718.2 1637.2 L718.2 1635.3 L718.3 1633.4 L718.4 1631.6 L718.4 1629.8 L718.5 1628.1 L718.6 1626.4 L718.6 1624.8 L718.7 1623.2 L718.8 1621.8 L718.8 1620.4 L718.9 1619.1 L718.9 1618.0 L719.0 1616.9 L719.0 1616.0 L719.1 1614.5 L719.1 1612.8 L719.2 1611.0 L719.3 1609.2 L719.3 1607.2 L719.4 1605.3 L719.5 1603.3 L719.6 1601.4 L719.7 1599.4 L719.7 1597.6 L719.8 1595.8 L719.9 1594.1 L720.0 1592.6 L720.1 1591.2 L720.2 1590.0 L720.2 1589.1 L720.3 1588.3 L720.4 1587.8 L720.7 1587.9 L721.2 1589.7 L721.8 1592.4 L722.3 1595.1 L722.8 1596.9 L723.2 1597.0 L723.3 1596.5 L723.4 1595.8 L723.5 1594.8 L723.6 1593.7 L723.7 1592.4 L723.8 1591.0 L723.9 1589.4 L724.0 1587.7 L724.1 1585.9 L724.2 1584.0 L724.4 1582.1 L724.5 1580.1 L724.6 1578.2 L724.7 1576.2 L724.7 1574.3 L724.8 1572.5 L724.9 1570.7 L725.0 1569.0 L725.0 1568.1 L725.1 1567.2 L725.1 1566.1 L725.2 1565.0 L725.2 1563.8 L725.3 1562.5 L725.3 1561.1 L725.4 1559.6 L725.4 1558.1 L725.5 1556.6 L725.5 1554.9 L725.6 1553.3 L725.7 1551.6 L725.7 1549.8 L725.8 1548.0 L725.8 1546.2 L725.9 1544.4 L726.0 1542.6 L726.0 1540.8 L726.1 1538.9 L726.2 1537.1 L726.2 1535.3 L726.3 1533.4 L726.3 1531.6 L726.4 1529.9 L726.5 1528.1 L726.5 1526.4 L726.6 1524.8 L726.6 1523.2 L726.7 1521.6 L726.7 1520.1 L726.8 1518.7 L726.8 1517.3 L726.9 1516.0 L726.9 1514.8 L727.0 1513.7 L727.0 1512.7 L727.0 1511.5 L727.1 1510.2 L727.1 1508.8 L727.2 1507.4 L727.2 1505.9 L727.3 1504.3 L727.4 1502.7 L727.4 1501.0 L727.5 1499.3 L727.5 1497.6 L727.6 1495.9 L727.7 1494.1 L727.7 1492.3 L727.8 1490.5 L727.8 1488.7 L727.9 1487.0 L728.0 1485.2 L728.0 1483.4 L728.1 1481.7 L728.2 1480.1 L728.2 1478.4 L728.3 1476.8 L728.4 1475.3 L728.4 1473.8 L728.5 1472.4 L728.6 1471.1 L728.6 1469.8 L728.7 1468.6 L728.8 1467.5 L728.8 1466.6 L728.9 1465.7 L729.0 1464.1 L729.2 1462.4 L729.4 1460.6 L729.6 1458.7 L729.8 1456.7 L730.1 1454.7 L730.3 1452.8 L730.6 1450.8 L730.8 1449.0 L731.1 1447.2 L731.4 1445.6 L731.6 1444.1 L731.9 1442.9 L732.1 1441.8 L732.3 1441.1 L732.5 1440.6 L732.6 1440.4 L732.8 1440.6 L732.9 1441.1 L733.1 1442.0 L733.3 1443.2 L733.5 1444.6 L733.7 1446.2 L733.9 1448.0 L734.1 1449.9 L734.3 1451.9 L734.5 1454.0 L734.7 1456.1 L734.8 1458.2 L735.0 1460.2 L735.2 1462.2 L735.3 1464.0 L735.4 1465.7 L735.5 1466.6 L735.5 1467.5 L735.6 1468.6 L735.6 1469.8 L735.7 1471.1 L735.7 1472.4 L735.8 1473.8 L735.9 1475.3 L735.9 1476.8 L736.0 1478.4 L736.1 1480.1 L736.1 1481.7 L736.2 1483.4 L736.3 1485.2 L736.3 1487.0 L736.4 1488.7 L736.5 1490.5 L736.5 1492.3 L736.6 1494.1 L736.7 1495.9 L736.7 1497.6 L736.8 1499.3 L736.8 1501.0 L736.9 1502.7 L737.0 1504.3 L737.0 1505.9 L737.1 1507.4 L737.1 1508.8 L737.2 1510.2 L737.2 1511.5 L737.3 1512.7 L737.3 1513.7 L737.4 1514.8 L737.4 1516.0 L737.5 1517.3 L737.6 1518.6 L737.6 1520.1 L737.7 1521.5 L737.7 1523.1 L737.8 1524.6 L737.9 1526.3 L738.0 1527.9 L738.0 1529.6 L738.1 1531.4 L738.2 1533.1 L738.3 1534.9 L738.3 1536.7 L738.4 1538.5 L738.5 1540.4 L738.6 1542.2 L738.7 1544.0 L738.7 1545.8 L738.8 1547.6 L738.9 1549.3 L739.0 1551.1 L739.0 1552.8 L739.1 1554.5 L739.2 1556.1 L739.3 1557.7 L739.3 1559.2 L739.4 1560.7 L739.5 1562.1 L739.5 1563.4 L739.6 1564.7 L739.7 1565.9 L739.7 1567.0 L739.8 1568.1 L739.8 1569.0 L739.9 1570.4 L739.9 1571.8 L740.0 1573.3 L740.1 1574.9 L740.2 1576.6 L740.3 1578.3 L740.4 1580.0 L740.5 1581.8 L740.6 1583.6 L740.7 1585.4 L740.8 1587.2 L740.9 1589.0 L741.0 1590.7 L741.1 1592.5 L741.2 1594.2 L741.3 1595.8 L741.4 1597.4 L741.5 1598.9 L741.6 1600.3 L741.6 1601.6 L741.7 1602.9 L741.8 1604.0 L741.9 1605.0 L741.9 1605.9 L742.0 1606.6 L742.2 1608.6 L742.5 1610.6 L742.9 1612.5 L743.2 1614.1 L743.6 1615.4 L743.9 1616.0 L744.8 1614.8 L746.0 1612.3 L746.7 1612.0 L746.8 1612.6 L746.9 1613.4 L747.0 1614.3 L747.1 1615.5 L747.2 1616.8 L747.3 1618.2 L747.4 1619.7 L747.5 1621.4 L747.6 1623.1 L747.7 1624.9 L747.8 1626.7 L747.9 1628.6 L748.0 1630.5 L748.1 1632.4 L748.2 1634.2 L748.3 1636.1 L748.4 1637.8 L748.4 1639.5 L748.5 1641.1 L748.6 1642.6 L748.6 1644.0 L748.6 1644.9 L748.7 1646.0 L748.7 1647.1 L748.7 1648.2 L748.8 1649.5 L748.8 1650.8 L748.8 1652.1 L748.8 1653.5 L748.9 1655.0 L748.9 1656.5 L748.9 1658.0 L749.0 1659.6 L749.0 1661.2 L749.0 1662.9 L749.0 1664.5 L749.1 1666.2 L749.1 1668.0 L749.1 1669.7 L749.1 1671.4 L749.1 1673.1 L749.2 1674.9 L749.2 1676.6 L749.2 1678.4 L749.2 1680.1 L749.2 1681.8 L749.2 1683.5 L749.2 1685.2 L749.2 1686.8 L749.2 1688.4 L749.2 1690.0 L749.2 1690.9 L749.2 1691.8 L749.2 1692.8 L749.2 1693.9 L749.2 1695.0 L749.1 1696.3 L749.1 1697.6 L749.1 1698.9 L749.1 1700.4 L749.1 1701.8 L749.0 1703.4 L749.0 1705.0 L749.0 1706.6 L749.0 1708.3 L748.9 1710.0 L748.9 1711.7 L748.9 1713.5 L748.9 1715.3 L748.8 1717.2 L748.8 1719.1 L748.8 1721.0 L748.7 1722.9 L748.7 1724.8 L748.7 1726.8 L748.6 1728.7 L748.6 1730.7 L748.6 1732.7 L748.5 1734.6 L748.5 1736.6 L748.5 1738.5 L748.5 1740.5 L748.4 1742.4 L748.4 1744.3 L748.4 1746.2 L748.3 1748.1 L748.3 1750.0 L748.3 1751.8 L748.2 1753.6 L748.2 1755.4 L748.2 1757.1 L748.2 1758.8 L748.1 1760.4 L748.1 1762.0 L748.1 1763.5 L748.1 1765.0 L748.1 1766.4 L748.1 1767.8 L748.0 1769.1 L748.0 1770.3 L748.0 1771.5 L748.0 1772.6 L748.0 1773.6 L748.0 1774.6 L748.0 1775.4 L748.0 1776.2 L748.0 1776.9 L748.0 1777.5 L748.0 1778.0 L748.1 1778.9 L748.4 1777.8 L748.7 1775.5 L749.1 1772.5 L749.5 1769.4 L749.9 1766.7 L750.3 1765.0 L750.5 1765.0 L750.6 1765.4 L750.6 1766.1 L750.7 1767.0 L750.8 1768.0 L750.8 1769.3 L750.9 1770.6 L751.0 1772.1 L751.0 1773.7 L751.1 1775.5 L751.2 1777.2 L751.2 1779.1 L751.3 1781.0 L751.4 1782.9 L751.4 1784.9 L751.5 1786.8 L751.6 1788.7 L751.6 1790.6 L751.7 1792.4 L751.8 1794.1 L751.8 1795.8 L751.9 1797.3 L751.9 1798.7 L752.0 1800.0 L752.1 1801.1 L752.1 1802.3 L752.2 1803.7 L752.2 1805.2 L752.3 1806.9 L752.4 1808.6 L752.5 1810.5 L752.6 1812.4 L752.7 1814.4 L752.8 1816.4 L752.9 1818.5 L753.0 1820.6 L753.1 1822.6 L753.2 1824.7 L753.3 1826.7 L753.4 1828.7 L753.5 1830.6 L753.6 1832.4 L753.7 1834.2 L753.7 1835.8 L753.8 1837.3 L753.9 1838.7 L754.0 1839.9 L754.1 1840.9 L754.2 1841.8 L754.3 1842.4 L754.3 1842.8 L754.4 1843.0 L754.5 1842.9 L754.6 1842.5 L754.6 1841.9 L754.7 1840.9 L754.8 1839.8 L754.9 1838.4 L755.0 1836.9 L755.2 1835.2 L755.3 1833.4 L755.4 1831.4 L755.5 1829.4 L755.6 1827.3 L755.7 1825.2 L755.9 1823.0 L756.0 1820.9 L756.1 1818.7 L756.2 1816.7 L756.3 1814.7 L756.4 1812.8 L756.5 1811.1 L756.6 1809.5 L756.7 1808.0 L756.8 1806.8 L756.9 1805.8 L757.0 1805.0 L757.4 1803.2 L758.1 1801.7 L758.9 1800.3 L759.6 1798.8 L760.0 1797.0 L760.1 1796.3 L760.1 1795.3 L760.2 1794.3 L760.2 1793.1 L760.3 1791.7 L760.3 1790.3 L760.4 1788.7 L760.4 1787.1 L760.5 1785.4 L760.5 1783.6 L760.6 1781.8 L760.6 1779.9 L760.6 1778.1 L760.7 1776.2 L760.7 1774.3 L760.8 1772.5 L760.8 1770.7 L760.8 1768.9 L760.9 1767.2 L760.9 1765.5 L760.9 1764.0 L760.9 1762.5 L761.0 1761.2 L761.0 1760.0 L761.0 1758.9 L761.0 1757.8 L761.1 1756.6 L761.1 1755.3 L761.1 1753.9 L761.1 1752.5 L761.2 1751.0 L761.2 1749.4 L761.2 1747.8 L761.2 1746.2 L761.2 1744.6 L761.3 1742.9 L761.3 1741.2 L761.3 1739.5 L761.3 1737.8 L761.4 1736.0 L761.4 1734.3 L761.4 1732.6 L761.5 1731.0 L761.5 1729.3 L761.5 1727.7 L761.5 1726.1 L761.6 1724.6 L761.6 1723.1 L761.6 1721.7 L761.7 1720.3 L761.7 1719.0 L761.7 1718.0 L761.8 1717.0 L761.8 1715.8 L761.8 1714.5 L761.9 1713.2 L761.9 1711.8 L762.0 1710.3 L762.0 1708.8 L762.0 1707.1 L762.1 1705.5 L762.2 1703.8 L762.2 1702.0 L762.3 1700.3 L762.3 1698.4 L762.4 1696.6 L762.4 1694.8 L762.5 1692.9 L762.6 1691.1 L762.6 1689.2 L762.7 1687.3 L762.8 1685.5 L762.8 1683.7 L762.9 1681.9 L762.9 1680.1 L763.0 1678.4 L763.1 1676.8 L763.1 1675.1 L763.2 1673.6 L763.2 1672.1 L763.3 1670.6 L763.3 1669.3 L763.4 1668.0 L763.4 1666.8 L763.5 1665.7 L763.5 1664.7 L763.6 1663.8 L763.6 1663.0 L763.7 1661.2 L763.8 1659.3 L763.9 1657.4 L764.1 1655.5 L764.2 1653.7 L764.3 1651.9 L764.5 1650.2 L764.7 1648.5 L764.8 1647.0 L765.0 1645.7 L765.1 1644.4 L765.2 1643.4 L765.4 1642.6 L765.5 1642.0 L766.9 1643.0 L768.3 1644.0 L768.5 1643.2 L768.7 1642.0 L768.9 1640.5 L769.1 1638.6 L769.4 1636.6 L769.6 1634.5 L769.9 1632.4 L770.1 1630.4 L770.3 1628.5 L770.6 1627.0 L770.8 1625.8 L771.0 1625.0 L773.0 1624.7 L774.9 1627.0 L775.1 1627.8 L775.2 1628.9 L775.4 1630.3 L775.6 1632.0 L775.8 1633.9 L776.0 1635.9 L776.2 1638.0 L776.3 1640.1 L776.5 1642.2 L776.7 1644.2 L776.9 1646.1 L777.1 1647.8 L777.3 1649.3 L777.4 1650.4 L777.6 1651.2 L777.7 1651.6 L777.9 1651.6 L778.1 1651.0 L778.4 1650.0 L778.7 1648.6 L779.0 1647.0 L779.3 1645.1 L779.6 1643.0 L779.9 1640.9 L780.2 1638.7 L780.4 1636.7 L780.5 1634.7 L780.5 1633.9 L780.6 1633.0 L780.6 1632.0 L780.7 1630.8 L780.7 1629.5 L780.7 1628.2 L780.8 1626.8 L780.8 1625.2 L780.8 1623.6 L780.9 1622.0 L780.9 1620.3 L780.9 1618.5 L781.0 1616.7 L781.0 1614.9 L781.0 1613.1 L781.0 1611.2 L781.1 1609.4 L781.1 1607.5 L781.1 1605.7 L781.2 1603.9 L781.2 1602.1 L781.2 1600.4 L781.2 1598.7 L781.3 1597.0 L781.3 1595.4 L781.3 1593.9 L781.4 1592.5 L781.4 1591.2 L781.4 1589.9 L781.5 1588.8 L781.5 1587.8 L781.5 1586.6 L781.6 1585.2 L781.7 1583.8 L781.7 1582.3 L781.8 1580.7 L781.9 1579.0 L782.0 1577.3 L782.1 1575.6 L782.2 1573.8 L782.3 1572.0 L782.4 1570.2 L782.5 1568.4 L782.6 1566.6 L782.7 1564.9 L782.8 1563.1 L782.9 1561.4 L783.0 1559.8 L783.1 1558.2 L783.2 1556.8 L783.3 1555.3 L783.4 1554.0 L783.5 1552.8 L783.6 1551.8 L783.6 1550.8 L783.7 1550.0 L783.9 1548.0 L784.1 1545.8 L784.3 1543.4 L784.5 1541.0 L784.8 1538.8 L785.0 1536.9 L785.3 1535.5 L785.5 1534.5 L785.8 1534.3 L786.0 1535.0 L786.1 1535.5 L786.2 1536.2 L786.3 1537.1 L786.4 1538.2 L786.5 1539.4 L786.6 1540.9 L786.7 1542.4 L786.9 1544.1 L787.0 1545.9 L787.1 1547.8 L787.3 1549.8 L787.4 1551.8 L787.6 1553.9 L787.7 1556.0 L787.9 1558.2 L788.0 1560.3 L788.2 1562.4 L788.4 1564.5 L788.5 1566.6 L788.7 1568.6 L788.8 1570.5 L788.9 1572.3 L789.1 1574.0 L789.2 1575.6 L789.3 1577.1 L789.4 1578.4 L789.6 1579.5 L789.7 1580.4 L789.7 1581.2 L789.8 1581.7 L789.9 1582.0 L790.0 1582.1 L790.1 1581.8 L790.2 1581.2 L790.3 1580.3 L790.4 1579.2 L790.5 1577.8 L790.5 1576.3 L790.6 1574.6 L790.7 1572.7 L790.8 1570.7 L790.9 1568.7 L791.0 1566.5 L791.1 1564.4 L791.2 1562.3 L791.3 1560.2 L791.3 1558.2 L791.4 1556.2 L791.5 1554.4 L791.6 1552.7 L791.7 1551.3 L791.8 1550.0 L791.9 1548.9 L792.0 1547.7 L792.1 1546.4 L792.2 1545.0 L792.4 1543.5 L792.5 1541.9 L792.7 1540.2 L792.9 1538.5 L793.0 1536.8 L793.2 1535.0 L793.4 1533.2 L793.6 1531.3 L793.8 1529.5 L793.9 1527.7 L794.1 1525.9 L794.3 1524.2 L794.5 1522.5 L794.6 1520.8 L794.8 1519.2 L795.0 1517.7 L795.1 1516.3 L795.3 1515.0 L795.4 1513.8 L795.5 1512.7 L795.6 1511.5 L795.8 1510.1 L795.9 1508.6 L796.1 1507.0 L796.2 1505.3 L796.4 1503.5 L796.6 1501.7 L796.8 1499.9 L797.0 1498.0 L797.2 1496.2 L797.4 1494.3 L797.6 1492.5 L797.8 1490.7 L798.0 1489.1 L798.2 1487.5 L798.4 1486.0 L798.6 1484.6 L798.8 1483.4 L798.9 1482.3 L799.1 1481.4 L799.3 1480.7 L800.2 1479.3 L801.6 1478.5 L803.2 1477.9 L804.7 1477.5 L805.9 1477.0 L806.9 1476.1 L808.2 1474.9 L809.5 1473.6 L810.6 1472.4 L811.5 1471.4 L812.4 1469.7 L813.5 1467.5 L814.5 1465.8 L815.3 1465.7 L815.5 1466.3 L815.8 1467.2 L816.1 1468.5 L816.5 1470.0 L816.8 1471.8 L817.1 1473.6 L817.5 1475.6 L817.8 1477.5 L818.2 1479.5 L818.5 1481.3 L818.8 1483.0 L819.0 1484.5 L819.2 1485.5 L819.3 1486.7 L819.5 1488.1 L819.7 1489.5 L820.0 1491.1 L820.2 1492.8 L820.4 1494.6 L820.7 1496.4 L820.9 1498.3 L821.2 1500.1 L821.4 1502.0 L821.7 1503.8 L821.9 1505.5 L822.1 1507.2 L822.3 1508.8 L822.5 1510.2 L822.7 1511.6 L822.8 1512.7 L822.9 1514.0 L823.1 1515.5 L823.2 1517.2 L823.4 1519.0 L823.6 1521.0 L823.8 1523.0 L823.9 1525.1 L824.1 1527.2 L824.3 1529.2 L824.5 1531.2 L824.6 1533.0 L824.8 1534.7 L825.0 1536.1 L825.2 1537.3 L825.3 1538.2 L825.5 1538.8 L825.6 1539.0 L825.7 1538.7 L825.9 1537.9 L826.1 1536.7 L826.3 1535.2 L826.6 1533.3 L826.8 1531.2 L827.1 1528.9 L827.4 1526.6 L827.6 1524.2 L827.9 1521.9 L828.1 1519.6 L828.4 1517.6 L828.6 1515.9 L828.8 1514.4 L829.0 1513.4 L829.2 1512.8 L829.3 1512.7 L829.4 1513.0 L829.5 1513.5 L829.6 1514.2 L829.6 1515.1 L829.7 1516.3 L829.8 1517.5 L829.9 1519.0 L830.0 1520.5 L830.1 1522.2 L830.2 1523.9 L830.3 1525.8 L830.4 1527.7 L830.5 1529.7 L830.5 1531.7 L830.6 1533.7 L830.7 1535.7 L830.8 1537.8 L830.9 1539.7 L830.9 1541.7 L831.0 1543.5 L831.0 1545.3 L831.1 1547.0 L831.2 1548.6 L831.2 1550.0 L831.2 1550.9 L831.3 1552.0 L831.3 1553.1 L831.3 1554.3 L831.3 1555.6 L831.4 1557.0 L831.4 1558.5 L831.4 1560.0 L831.4 1561.6 L831.5 1563.2 L831.5 1564.9 L831.5 1566.6 L831.6 1568.4 L831.6 1570.2 L831.6 1572.0 L831.6 1573.9 L831.7 1575.7 L831.7 1577.6 L831.7 1579.4 L831.7 1581.3 L831.8 1583.1 L831.8 1585.0 L831.8 1586.8 L831.9 1588.6 L831.9 1590.3 L831.9 1592.0 L831.9 1593.7 L832.0 1595.3 L832.0 1596.9 L832.0 1598.4 L832.0 1599.8 L832.1 1601.1 L832.1 1602.4 L832.1 1603.6 L832.1 1604.7 L832.2 1605.7 L832.2 1606.6 L832.3 1608.2 L832.3 1609.9 L832.4 1611.7 L832.4 1613.6 L832.5 1615.6 L832.6 1617.7 L832.7 1619.7 L832.8 1621.8 L832.9 1623.9 L833.0 1625.9 L833.1 1627.9 L833.2 1629.8 L833.3 1631.6 L833.4 1633.2 L833.5 1634.7 L833.6 1636.1 L833.7 1637.2 L833.7 1638.1 L833.8 1638.8 L833.9 1639.3 L834.0 1639.4 L834.1 1639.3 L834.2 1638.8 L834.3 1638.1 L834.4 1637.2 L834.6 1636.1 L834.7 1634.7 L834.8 1633.2 L835.0 1631.6 L835.2 1629.8 L835.3 1627.9 L835.5 1625.9 L835.7 1623.9 L835.8 1621.8 L836.0 1619.7 L836.1 1617.7 L836.3 1615.6 L836.4 1613.6 L836.6 1611.7 L836.7 1609.9 L836.8 1608.2 L836.9 1606.6 L837.0 1605.7 L837.0 1604.7 L837.1 1603.6 L837.1 1602.4 L837.2 1601.1 L837.3 1599.7 L837.4 1598.2 L837.4 1596.7 L837.5 1595.1 L837.6 1593.5 L837.7 1591.8 L837.8 1590.0 L837.8 1588.3 L837.9 1586.5 L838.0 1584.6 L838.1 1582.7 L838.2 1580.9 L838.3 1579.0 L838.4 1577.1 L838.4 1575.2 L838.5 1573.4 L838.6 1571.5 L838.7 1569.7 L838.8 1567.9 L838.9 1566.1 L839.0 1564.4 L839.0 1562.7 L839.1 1561.1 L839.2 1559.5 L839.3 1558.0 L839.3 1556.6 L839.4 1555.3 L839.5 1554.0 L839.5 1552.9 L839.6 1551.8 L839.6 1550.8 L839.7 1550.0 L839.8 1548.4 L839.9 1546.7 L840.0 1545.1 L840.2 1543.5 L840.3 1541.8 L840.4 1540.2 L840.5 1538.6 L840.7 1537.0 L840.8 1535.4 L841.0 1533.9 L841.1 1532.4 L841.3 1530.9 L841.4 1529.5 L841.6 1528.1 L841.7 1526.7 L841.9 1525.4 L842.0 1524.2 L842.2 1523.0 L842.4 1521.9 L842.5 1520.7 L842.7 1519.3 L843.0 1517.8 L843.2 1516.2 L843.5 1514.5 L843.8 1512.7 L844.1 1510.9 L844.4 1509.1 L844.7 1507.2 L845.0 1505.3 L845.3 1503.5 L845.7 1501.7 L846.0 1499.9 L846.3 1498.3 L846.6 1496.7 L846.9 1495.3 L847.1 1494.0 L847.4 1492.8 L847.6 1491.8 L847.8 1491.0 L848.4 1489.0 L849.2 1487.1 L850.2 1485.2 L851.1 1483.5 L852.0 1482.2 L852.9 1481.3 L853.5 1481.0 L854.1 1481.3 L854.9 1482.2 L855.7 1483.6 L856.5 1485.2 L857.2 1487.1 L857.8 1489.1 L858.2 1491.0 L858.3 1491.8 L858.4 1492.7 L858.5 1493.7 L858.6 1495.0 L858.7 1496.3 L858.8 1497.8 L858.9 1499.3 L859.1 1501.0 L859.2 1502.7 L859.3 1504.5 L859.4 1506.3 L859.5 1508.2 L859.6 1510.1 L859.7 1512.0 L859.9 1513.9 L860.0 1515.9 L860.1 1517.7 L860.2 1519.6 L860.3 1521.4 L860.4 1523.2 L860.5 1524.8 L860.6 1526.4 L860.7 1527.9 L860.8 1529.3 L860.8 1530.6 L860.9 1531.7 L861.0 1532.7 L861.1 1534.2 L861.2 1535.8 L861.4 1537.6 L861.5 1539.6 L861.7 1541.6 L861.9 1543.7 L862.0 1545.8 L862.2 1547.9 L862.4 1549.9 L862.6 1551.9 L862.8 1553.8 L862.9 1555.5 L863.1 1557.0 L863.3 1558.4 L863.4 1559.5 L863.6 1560.3 L863.7 1560.8 L863.8 1561.0 L863.9 1560.8 L864.0 1560.2 L864.2 1559.3 L864.3 1558.1 L864.5 1556.7 L864.6 1555.0 L864.8 1553.2 L865.0 1551.2 L865.2 1549.2 L865.3 1547.0 L865.5 1544.9 L865.7 1542.8 L865.8 1540.7 L866.0 1538.8 L866.2 1536.9 L866.3 1535.3 L866.5 1533.9 L866.6 1532.7 L866.8 1531.4 L866.9 1529.7 L867.2 1527.8 L867.4 1525.8 L867.6 1523.6 L867.9 1521.3 L868.2 1519.0 L868.5 1516.8 L868.7 1514.7 L869.0 1512.7 L869.3 1511.0 L869.6 1509.6 L869.8 1508.5 L870.0 1507.9 L870.2 1507.7 L870.4 1508.0 L870.5 1508.4 L870.6 1509.0 L870.6 1509.8 L870.7 1510.7 L870.8 1511.8 L870.9 1513.1 L871.0 1514.5 L871.1 1516.0 L871.2 1517.7 L871.4 1519.4 L871.5 1521.3 L871.6 1523.2 L871.7 1525.2 L871.8 1527.3 L871.9 1529.3 L872.1 1531.5 L872.2 1533.6 L872.3 1535.7 L872.4 1537.9 L872.5 1540.0 L872.6 1542.0 L872.8 1544.1 L872.9 1546.1 L873.0 1548.0 L873.1 1549.8 L873.2 1551.5 L873.3 1553.2 L873.4 1554.7 L873.5 1556.1 L873.6 1557.3 L873.7 1558.4 L873.8 1559.3 L873.9 1560.1 L873.9 1560.6 L874.0 1561.0 L874.1 1561.2 L874.3 1561.0 L874.4 1560.3 L874.6 1559.3 L874.8 1557.9 L874.9 1556.3 L875.1 1554.4 L875.3 1552.4 L875.5 1550.2 L875.7 1547.9 L875.9 1545.7 L876.0 1543.4 L876.2 1541.2 L876.4 1539.1 L876.6 1537.1 L876.7 1535.4 L876.9 1533.9 L877.0 1532.7 L877.2 1531.3 L877.4 1529.7 L877.6 1527.9 L877.8 1525.9 L878.1 1523.9 L878.4 1521.7 L878.7 1519.6 L879.0 1517.6 L879.2 1515.6 L879.5 1513.8 L879.8 1512.2 L880.1 1510.9 L880.3 1509.9 L880.5 1509.2 L880.7 1509.0 L880.9 1509.2 L881.1 1509.6 L881.3 1510.4 L881.6 1511.4 L881.8 1512.6 L882.1 1514.0 L882.4 1515.6 L882.7 1517.3 L883.0 1519.2 L883.2 1521.1 L883.5 1523.1 L883.8 1525.1 L884.0 1527.0 L884.2 1529.0 L884.4 1530.9 L884.5 1532.7 L884.6 1533.5 L884.6 1534.4 L884.7 1535.5 L884.7 1536.6 L884.8 1537.9 L884.8 1539.2 L884.9 1540.6 L884.9 1542.1 L885.0 1543.6 L885.0 1545.2 L885.1 1546.9 L885.1 1548.6 L885.2 1550.4 L885.2 1552.2 L885.3 1554.0 L885.4 1555.9 L885.4 1557.7 L885.5 1559.6 L885.5 1561.5 L885.6 1563.4 L885.6 1565.3 L885.7 1567.2 L885.7 1569.0 L885.8 1570.8 L885.8 1572.6 L885.8 1574.3 L885.9 1576.0 L885.9 1577.7 L886.0 1579.3 L886.0 1580.8 L886.1 1582.2 L886.1 1583.6 L886.2 1584.9 L886.2 1586.1 L886.2 1587.1 L886.3 1588.1 L886.3 1589.0 L886.4 1590.6 L886.4 1592.3 L886.5 1594.1 L886.6 1596.0 L886.7 1597.9 L886.8 1599.9 L886.9 1601.9 L887.0 1603.9 L887.1 1605.9 L887.2 1607.8 L887.3 1609.6 L887.4 1611.3 L887.5 1613.0 L887.6 1614.4 L887.7 1615.7 L887.8 1616.8 L887.9 1617.8 L888.0 1618.4 L888.1 1618.9 L888.2 1619.0 L888.3 1618.8 L888.4 1618.4 L888.5 1617.6 L888.6 1616.6 L888.8 1615.3 L888.9 1613.9 L889.1 1612.2 L889.2 1610.5 L889.4 1608.6 L889.6 1606.7 L889.7 1604.7 L889.9 1602.6 L890.1 1600.6 L890.2 1598.6 L890.4 1596.7 L890.5 1594.9 L890.6 1593.1 L890.8 1591.6 L890.9 1590.2 L891.0 1589.0 L891.1 1587.8 L891.2 1586.4 L891.3 1584.8 L891.5 1583.0 L891.6 1581.2 L891.8 1579.2 L891.9 1577.1 L892.1 1575.0 L892.2 1572.9 L892.4 1570.8 L892.6 1568.8 L892.7 1566.9 L892.9 1565.0 L893.0 1563.4 L893.2 1561.8 L893.3 1560.5 L893.5 1559.5 L893.6 1558.7 L893.7 1558.2 L893.8 1558.0 L893.9 1558.1 L894.0 1558.6 L894.2 1559.2 L894.3 1560.1 L894.5 1561.2 L894.6 1562.5 L894.8 1563.9 L895.0 1565.5 L895.2 1567.3 L895.3 1569.1 L895.5 1571.0 L895.7 1573.0 L895.8 1575.1 L896.0 1577.1 L896.2 1579.2 L896.3 1581.3 L896.4 1583.3 L896.5 1585.3 L896.6 1587.2 L896.7 1589.0 L896.7 1589.8 L896.8 1590.7 L896.8 1591.8 L896.8 1592.9 L896.8 1594.1 L896.9 1595.4 L896.9 1596.8 L896.9 1598.3 L896.9 1599.8 L896.9 1601.4 L897.0 1603.0 L897.0 1604.7 L897.0 1606.5 L897.0 1608.3 L897.0 1610.2 L897.0 1612.0 L897.1 1613.9 L897.1 1615.9 L897.1 1617.8 L897.1 1619.8 L897.1 1621.8 L897.1 1623.7 L897.2 1625.7 L897.2 1627.7 L897.2 1629.6 L897.2 1631.5 L897.2 1633.5 L897.2 1635.3 L897.2 1637.2 L897.3 1639.0 L897.3 1640.8 L897.3 1642.5 L897.3 1644.1 L897.3 1645.8 L897.3 1647.3 L897.4 1648.8 L897.4 1650.2 L897.4 1651.5 L897.4 1652.7 L897.5 1653.8 L897.5 1654.9 L897.5 1655.8 L897.5 1656.7 L897.5 1657.4 L897.6 1658.0 L897.6 1658.5 L897.8 1659.6 L898.0 1659.3 L898.4 1658.0 L898.7 1655.9 L899.1 1653.4 L899.5 1650.8 L899.9 1648.3 L900.2 1646.3 L900.4 1645.0 L900.8 1643.2 L901.3 1640.9 L901.7 1638.9 L902.2 1637.6 L902.5 1637.8 L902.6 1638.3 L902.7 1639.1 L902.9 1640.2 L903.0 1641.4 L903.1 1642.9 L903.3 1644.5 L903.4 1646.2 L903.6 1648.1 L903.7 1650.0 L903.8 1652.0 L904.0 1654.0 L904.1 1656.1 L904.1 1658.1 L904.2 1660.0 L904.2 1660.8 L904.2 1661.7 L904.3 1662.6 L904.3 1663.7 L904.3 1664.9 L904.3 1666.1 L904.3 1667.4 L904.3 1668.8 L904.3 1670.3 L904.3 1671.8 L904.4 1673.4 L904.4 1675.0 L904.4 1676.7 L904.4 1678.4 L904.4 1680.1 L904.4 1681.9 L904.4 1683.7 L904.4 1685.5 L904.4 1687.4 L904.4 1689.2 L904.5 1691.1 L904.5 1692.9 L904.5 1694.8 L904.5 1696.6 L904.5 1698.4 L904.5 1700.2 L904.5 1702.0 L904.5 1703.7 L904.5 1705.4 L904.5 1707.1 L904.5 1708.7 L904.5 1710.2 L904.5 1711.7 L904.6 1713.1 L904.6 1714.5 L904.6 1715.7 L904.6 1716.9 L904.6 1718.1 L904.6 1719.1 L904.6 1720.0 L904.6 1721.4 L904.6 1722.8 L904.6 1724.2 L904.7 1725.7 L904.7 1727.3 L904.7 1728.8 L904.7 1730.4 L904.7 1732.0 L904.8 1733.6 L904.8 1735.3 L904.8 1736.9 L904.8 1738.6 L904.8 1740.2 L904.9 1741.9 L904.9 1743.5 L904.9 1745.1 L904.9 1746.8 L905.0 1748.4 L905.0 1749.9 L905.0 1751.5 L905.1 1753.0 L905.1 1754.5 L905.1 1755.9 L905.1 1757.3 L905.2 1758.7 L905.2 1760.0 L905.2 1761.0 L905.2 1762.0 L905.3 1763.1 L905.3 1764.3 L905.3 1765.6 L905.4 1766.9 L905.4 1768.3 L905.5 1769.8 L905.5 1771.3 L905.5 1772.8 L905.6 1774.4 L905.6 1776.0 L905.7 1777.7 L905.7 1779.4 L905.8 1781.1 L905.8 1782.8 L905.9 1784.5 L906.0 1786.3 L906.0 1788.1 L906.1 1789.8 L906.1 1791.6 L906.2 1793.4 L906.2 1795.1 L906.3 1796.9 L906.3 1798.6 L906.4 1800.3 L906.4 1801.9 L906.5 1803.6 L906.5 1805.2 L906.6 1806.7 L906.6 1808.2 L906.7 1809.7 L906.7 1811.1 L906.7 1812.5 L906.8 1813.8 L906.8 1815.0 L906.8 1816.0 L906.9 1817.1 L906.9 1818.3 L906.9 1819.7 L906.9 1821.1 L907.0 1822.5 L907.0 1824.1 L907.1 1825.7 L907.1 1827.5 L907.1 1829.2 L907.2 1831.0 L907.2 1832.9 L907.2 1834.8 L907.3 1836.7 L907.3 1838.7 L907.4 1840.7 L907.4 1842.7 L907.5 1844.8 L907.5 1846.8 L907.5 1848.8 L907.6 1850.9 L907.6 1852.9 L907.7 1854.9 L907.7 1856.9 L907.8 1858.8 L907.8 1860.7 L907.9 1862.6 L907.9 1864.4 L907.9 1866.2 L908.0 1867.9 L908.0 1869.6 L908.1 1871.1 L908.1 1872.6 L908.1 1874.1 L908.2 1875.4 L908.2 1876.6 L908.3 1877.8 L908.3 1878.8 L908.3 1879.7 L908.4 1880.5 L908.4 1881.2 L908.4 1881.7 L908.4 1882.1 L908.5 1882.4 L908.5 1882.5 L908.5 1882.5 L908.6 1882.2 L908.6 1881.9 L908.6 1881.4 L908.6 1880.7 L908.7 1879.9 L908.7 1878.9 L908.7 1877.9 L908.8 1876.7 L908.8 1875.4 L908.9 1874.0 L908.9 1872.5 L908.9 1871.0 L909.0 1869.3 L909.0 1867.6 L909.0 1865.8 L909.1 1863.9 L909.1 1862.0 L909.2 1860.0 L909.2 1858.1 L909.2 1856.0 L909.3 1854.0 L909.3 1851.9 L909.4 1849.8 L909.4 1847.8 L909.4 1845.7 L909.5 1843.6 L909.5 1841.6 L909.5 1839.6 L909.6 1837.6 L909.6 1835.6 L909.7 1833.7 L909.7 1831.9 L909.7 1830.1 L909.7 1828.4 L909.8 1826.8 L909.8 1825.2 L909.8 1823.8 L909.9 1822.4 L909.9 1821.1 L909.9 1820.0 L909.9 1818.9 L909.9 1817.8 L910.0 1816.6 L910.0 1815.3 L910.0 1814.0 L910.0 1812.6 L910.1 1811.1 L910.1 1809.6 L910.1 1808.1 L910.1 1806.5 L910.2 1804.9 L910.2 1803.2 L910.2 1801.5 L910.2 1799.8 L910.3 1798.1 L910.3 1796.3 L910.3 1794.6 L910.3 1792.8 L910.4 1791.0 L910.4 1789.2 L910.4 1787.4 L910.5 1785.6 L910.5 1783.8 L910.5 1782.1 L910.5 1780.3 L910.6 1778.5 L910.6 1776.8 L910.6 1775.1 L910.6 1773.4 L910.7 1771.8 L910.7 1770.2 L910.7 1768.6 L910.8 1767.1 L910.8 1765.6 L910.8 1764.2 L910.8 1762.8 L910.9 1761.5 L910.9 1760.2 L910.9 1759.0 L910.9 1757.9 L911.0 1756.9 L911.0 1755.9 L911.0 1755.0 L911.0 1753.6 L911.1 1752.0 L911.1 1750.5 L911.2 1748.9 L911.2 1747.2 L911.3 1745.6 L911.4 1743.9 L911.4 1742.1 L911.5 1740.4 L911.6 1738.6 L911.6 1736.9 L911.7 1735.2 L911.8 1733.4 L911.8 1731.7 L911.9 1730.0 L912.0 1728.4 L912.1 1726.8 L912.1 1725.2 L912.2 1723.7 L912.3 1722.2 L912.3 1720.8 L912.4 1719.5 L912.4 1718.2 L912.5 1717.1 L912.6 1716.0 L912.6 1715.0 L912.7 1713.7 L912.7 1712.3 L912.8 1710.8 L912.9 1709.3 L913.0 1707.7 L913.1 1706.0 L913.2 1704.4 L913.3 1702.7 L913.4 1701.0 L913.5 1699.3 L913.6 1697.6 L913.8 1695.9 L913.9 1694.3 L914.0 1692.8 L914.1 1691.2 L914.2 1689.8 L914.2 1688.4 L914.3 1687.2 L914.4 1686.0 L914.5 1684.9 L914.5 1683.5 L914.6 1682.1 L914.7 1680.5 L914.8 1678.7 L914.9 1677.0 L915.0 1675.1 L915.1 1673.2 L915.2 1671.3 L915.3 1669.3 L915.4 1667.4 L915.5 1665.6 L915.7 1663.8 L915.8 1662.0 L915.9 1660.4 L916.0 1658.9 L916.1 1657.6 L916.2 1656.4 L916.3 1655.5 L916.4 1654.7 L917.0 1653.0 L918.1 1651.8 L919.2 1650.6 L920.0 1649.0 L920.2 1648.0 L920.5 1646.6 L920.8 1644.8 L921.1 1642.7 L921.5 1640.4 L921.8 1638.1 L922.2 1635.8 L922.5 1633.7 L922.8 1631.8 L923.2 1630.2 L923.4 1629.0 L923.7 1628.5 L923.9 1628.5 L924.0 1628.9 L924.1 1629.5 L924.2 1630.5 L924.3 1631.6 L924.5 1633.0 L924.6 1634.5 L924.7 1636.2 L924.9 1638.0 L925.0 1640.0 L925.1 1642.0 L925.3 1644.0 L925.4 1646.1 L925.5 1648.2 L925.7 1650.3 L925.8 1652.4 L925.9 1654.3 L926.0 1656.2 L926.2 1658.0 L926.3 1659.6 L926.4 1661.0 L926.5 1662.2 L926.6 1663.2 L926.7 1664.0 L927.3 1665.7 L928.4 1667.0 L929.4 1668.3 L930.0 1670.0 L930.1 1670.7 L930.1 1671.5 L930.2 1672.5 L930.3 1673.7 L930.4 1675.0 L930.5 1676.4 L930.6 1678.0 L930.6 1679.6 L930.7 1681.4 L930.8 1683.2 L930.9 1685.1 L931.0 1687.1 L931.1 1689.1 L931.3 1691.2 L931.4 1693.3 L931.5 1695.4 L931.6 1697.5 L931.7 1699.6 L931.8 1701.7 L931.9 1703.8 L932.0 1705.8 L932.1 1707.8 L932.2 1709.8 L932.3 1711.6 L932.4 1713.4 L932.5 1715.2 L932.6 1716.8 L932.7 1718.3 L932.8 1719.6 L932.9 1720.9 L932.9 1722.0 L933.0 1722.9 L933.1 1723.7 L933.2 1724.3 L933.2 1724.8 L933.3 1725.0 L933.4 1725.0 L933.5 1724.8 L933.5 1724.3 L933.6 1723.6 L933.7 1722.7 L933.8 1721.5 L933.9 1720.2 L934.0 1718.8 L934.2 1717.2 L934.3 1715.4 L934.4 1713.6 L934.5 1711.7 L934.6 1709.7 L934.7 1707.6 L934.8 1705.6 L934.9 1703.5 L935.0 1701.3 L935.1 1699.2 L935.2 1697.2 L935.3 1695.2 L935.4 1693.2 L935.5 1691.4 L935.6 1689.6 L935.7 1688.0 L935.8 1686.5 L935.9 1685.1 L935.9 1684.0 L936.0 1683.0 L936.1 1681.6 L936.2 1680.1 L936.3 1678.5 L936.4 1676.9 L936.5 1675.3 L936.6 1673.6 L936.7 1671.9 L936.8 1670.1 L936.9 1668.4 L937.0 1666.7 L937.1 1665.0 L937.3 1663.3 L937.4 1661.7 L937.5 1660.2 L937.6 1658.7 L937.7 1657.3 L937.9 1655.9 L938.0 1654.7 L938.1 1653.6 L938.3 1652.2 L938.5 1650.7 L938.7 1649.0 L938.9 1647.2 L939.1 1645.3 L939.4 1643.3 L939.6 1641.3 L939.9 1639.2 L940.2 1637.1 L940.5 1635.1 L940.7 1633.1 L941.0 1631.3 L941.3 1629.5 L941.5 1627.9 L941.8 1626.5 L942.0 1625.2 L942.2 1624.2 L942.4 1623.4 L942.6 1623.0 L942.7 1622.8 L942.8 1623.0 L943.0 1623.4 L943.1 1624.2 L943.3 1625.2 L943.4 1626.5 L943.6 1627.9 L943.7 1629.5 L943.9 1631.3 L944.0 1633.1 L944.2 1635.1 L944.3 1637.1 L944.5 1639.2 L944.6 1641.3 L944.8 1643.3 L944.9 1645.3 L945.0 1647.2 L945.1 1649.0 L945.2 1650.7 L945.3 1652.2 L945.4 1653.6 L945.5 1654.7 L945.6 1656.0 L945.7 1657.6 L945.7 1659.3 L945.8 1661.3 L945.9 1663.3 L946.0 1665.5 L946.0 1667.7 L946.1 1669.9 L946.2 1672.1 L946.2 1674.1 L946.3 1676.1 L946.4 1677.9 L946.4 1679.5 L946.5 1680.9 L946.6 1681.9 L946.7 1682.7 L946.7 1683.0 L946.8 1683.0 L946.9 1682.7 L946.9 1682.1 L947.0 1681.3 L947.0 1680.2 L947.1 1678.9 L947.2 1677.4 L947.3 1675.8 L947.4 1674.0 L947.5 1672.1 L947.6 1670.1 L947.7 1668.0 L947.8 1665.8 L947.9 1663.7 L948.0 1661.5 L948.1 1659.3 L948.2 1657.1 L948.3 1655.0 L948.4 1653.0 L948.5 1651.0 L948.6 1649.2 L948.7 1647.5 L948.8 1646.0 L948.9 1644.7 L949.0 1643.6 L949.1 1642.6 L949.1 1642.0 L949.2 1641.6 L949.3 1641.4 L949.5 1641.6 L949.7 1642.2 L949.9 1643.2 L950.1 1644.4 L950.3 1645.9 L950.5 1647.7 L950.7 1649.6 L950.9 1651.6 L951.2 1653.7 L951.4 1655.8 L951.5 1658.0 L951.7 1660.1 L951.9 1662.1 L952.0 1664.0 L952.0 1664.8 L952.1 1665.6 L952.1 1666.6 L952.2 1667.6 L952.3 1668.8 L952.3 1670.0 L952.4 1671.3 L952.5 1672.7 L952.5 1674.1 L952.6 1675.7 L952.7 1677.2 L952.7 1678.9 L952.8 1680.5 L952.9 1682.3 L952.9 1684.0 L953.0 1685.8 L953.1 1687.6 L953.2 1689.5 L953.3 1691.4 L953.3 1693.2 L953.4 1695.1 L953.5 1697.0 L953.6 1698.9 L953.6 1700.8 L953.7 1702.7 L953.8 1704.6 L953.9 1706.4 L953.9 1708.2 L954.0 1710.0 L954.1 1711.8 L954.2 1713.5 L954.2 1715.2 L954.3 1716.8 L954.4 1718.4 L954.4 1719.9 L954.5 1721.3 L954.6 1722.7 L954.6 1724.0 L954.7 1725.3 L954.7 1726.4 L954.8 1727.4 L954.8 1728.4 L954.9 1729.2 L954.9 1730.0 L955.0 1732.0 L955.1 1734.4 L955.3 1737.0 L955.4 1739.6 L955.6 1742.3 L955.7 1744.9 L955.9 1747.4 L956.1 1749.6 L956.2 1751.4 L956.4 1752.7 L956.5 1753.5 L956.6 1753.7 L956.7 1753.1 L956.8 1751.7 L956.8 1751.2 L956.8 1750.7 L956.8 1750.0 L956.9 1749.3 L956.9 1748.6 L956.9 1747.7 L956.9 1746.8 L956.9 1745.8 L957.0 1744.7 L957.0 1743.6 L957.0 1742.4 L957.0 1741.2 L957.0 1739.9 L957.1 1738.5 L957.1 1737.1 L957.1 1735.6 L957.1 1734.1 L957.1 1732.6 L957.2 1731.0 L957.2 1729.3 L957.2 1727.6 L957.2 1725.9 L957.2 1724.1 L957.3 1722.3 L957.3 1720.5 L957.3 1718.6 L957.3 1716.7 L957.4 1714.8 L957.4 1712.9 L957.4 1710.9 L957.4 1708.9 L957.5 1706.9 L957.5 1704.9 L957.5 1702.9 L957.5 1700.8 L957.5 1698.8 L957.6 1696.7 L957.6 1694.7 L957.6 1692.6 L957.6 1690.5 L957.7 1688.4 L957.7 1686.4 L957.7 1684.3 L957.7 1682.3 L957.8 1680.2 L957.8 1678.2 L957.8 1676.1 L957.8 1674.1 L957.9 1672.1 L957.9 1670.2 L957.9 1668.2 L957.9 1666.3 L958.0 1664.4 L958.0 1662.5 L958.0 1660.7 L958.0 1658.9 L958.1 1657.1 L958.1 1655.3 L958.1 1653.6 L958.1 1652.0 L958.2 1650.4 L958.2 1648.8 L958.2 1647.2 L958.2 1645.8 L958.2 1644.3 L958.3 1643.0 L958.3 1641.6 L958.3 1640.4 L958.3 1639.2 L958.4 1638.0 L958.4 1636.9 L958.4 1635.9 L958.4 1634.9 L958.5 1634.1 L958.5 1633.3 L958.5 1632.5 L958.5 1631.9 L958.5 1631.3 L958.6 1630.8 L958.6 1630.3 L958.6 1630.0 L958.7 1629.5 L958.7 1629.2 L958.8 1629.1 L958.8 1629.4 L958.9 1629.8 L959.0 1630.5 L959.1 1631.3 L959.2 1632.4 L959.2 1633.6 L959.3 1635.0 L959.4 1636.5 L959.5 1638.2 L959.6 1640.0 L959.7 1641.9 L959.8 1643.9 L959.9 1645.9 L960.0 1648.1 L960.1 1650.3 L960.2 1652.5 L960.3 1654.8 L960.4 1657.0 L960.5 1659.3 L960.6 1661.6 L960.7 1663.8 L960.8 1666.0 L960.9 1668.2 L961.0 1670.3 L961.1 1672.3 L961.2 1674.2 L961.2 1676.0 L961.3 1677.7 L961.4 1679.3 L961.4 1680.7 L961.5 1681.9 L961.5 1683.0 L961.5 1684.2 L961.6 1685.5 L961.6 1686.9 L961.7 1688.5 L961.7 1690.0 L961.8 1691.7 L961.8 1693.4 L961.8 1695.2 L961.9 1697.0 L961.9 1698.9 L961.9 1700.7 L962.0 1702.6 L962.0 1704.5 L962.0 1706.4 L962.1 1708.3 L962.1 1710.2 L962.1 1712.0 L962.2 1713.8 L962.2 1715.6 L962.2 1717.3 L962.2 1718.9 L962.3 1720.4 L962.3 1721.9 L962.3 1723.3 L962.3 1724.5 L962.3 1725.7 L962.4 1726.7 L962.4 1727.6 L962.4 1728.4 L962.4 1729.0" fill="none" stroke="#ff0000" stroke-width="8.4" stroke-linejoin="round" stroke-linecap="round"/>
<text transform="translate(197.0,1487.1) scale(1,1.04)" font-size="22.8">3300-3000 cm<tspan font-size="12.5" dy="-12.8">-1</tspan></text>
<text transform="translate(197.0,1532.5) scale(1,1.04)" font-size="22.8">N-H</text>
<text transform="translate(575.3,1535.2) scale(1,1.04)" font-size="22.8">1650 cm<tspan font-size="12.5" dy="-12.8">-1</tspan></text>
<text transform="translate(575.3,1579.7) scale(1,1.04)" font-size="22.8">C- N</text>
<text transform="translate(781.0,1693.7) scale(1,1.04)" font-size="22.8">1260 cm<tspan font-size="12.5" dy="-12.8">-1</tspan></text>
<text transform="translate(781.0,1740.1) scale(1,1.04)" font-size="22.8">C- N</text>
<text transform="translate(737.0,1888.3) scale(1,1.04)" font-size="22.8">1374 cm<tspan font-size="12.5" dy="-12.8">-1</tspan></text>
<text transform="translate(736.6,1933.2) scale(1,1.04)" font-size="22.8">COO<tspan font-size="12.5" dy="-12.8">-1</tspan></text>
<text transform="translate(588.8,1902.8) scale(1,1.04)" font-size="22.8">1568 cm<tspan font-size="12.5" dy="-12.8">-1</tspan></text>
<text transform="translate(588.5,1947.1) scale(1,1.04)" font-size="22.8">COO<tspan font-size="12.5" dy="-12.8">-1</tspan></text>
<text transform="translate(925.6,1799.2) scale(1,1.04)" font-size="22.8">578 cm<tspan font-size="12.5" dy="-12.8">-1</tspan></text>
<text transform="translate(925.0,1845.2) scale(1,1.04)" font-size="22.8">Ni-O</text>
<text transform="translate(901.8,1915.1) scale(1,1.04)" font-size="22.8">761 cm<tspan font-size="12.5" dy="-12.8">-1</tspan></text>
<text transform="translate(901.8,1961.5) scale(1,1.04)" font-size="22.8">C- H</text>
<path d="M95.0 1119.7 H1036.8 V1973.6 H95.0 Z" fill="none" stroke="#000" stroke-width="4" stroke-linejoin="round"/>
<line x1="94.6" y1="1973.6" x2="94.6" y2="1988.4" stroke="#000" stroke-width="4" stroke-linecap="round"/>
<line x1="157.4" y1="1973.6" x2="157.4" y2="1981.2" stroke="#000" stroke-width="4" stroke-linecap="round"/>
<line x1="220.3" y1="1973.6" x2="220.3" y2="1988.4" stroke="#000" stroke-width="4" stroke-linecap="round"/>
<line x1="283.1" y1="1973.6" x2="283.1" y2="1981.2" stroke="#000" stroke-width="4" stroke-linecap="round"/>
<line x1="345.9" y1="1973.6" x2="345.9" y2="1988.4" stroke="#000" stroke-width="4" stroke-linecap="round"/>
<line x1="408.7" y1="1973.6" x2="408.7" y2="1981.2" stroke="#000" stroke-width="4" stroke-linecap="round"/>
<line x1="471.6" y1="1973.6" x2="471.6" y2="1988.4" stroke="#000" stroke-width="4" stroke-linecap="round"/>
<line x1="534.4" y1="1973.6" x2="534.4" y2="1981.2" stroke="#000" stroke-width="4" stroke-linecap="round"/>
<line x1="597.2" y1="1973.6" x2="597.2" y2="1988.4" stroke="#000" stroke-width="4" stroke-linecap="round"/>
<line x1="660.1" y1="1973.6" x2="660.1" y2="1981.2" stroke="#000" stroke-width="4" stroke-linecap="round"/>
<line x1="722.9" y1="1973.6" x2="722.9" y2="1988.4" stroke="#000" stroke-width="4" stroke-linecap="round"/>
<line x1="785.7" y1="1973.6" x2="785.7" y2="1981.2" stroke="#000" stroke-width="4" stroke-linecap="round"/>
<line x1="848.5" y1="1973.6" x2="848.5" y2="1988.4" stroke="#000" stroke-width="4" stroke-linecap="round"/>
<line x1="911.4" y1="1973.6" x2="911.4" y2="1981.2" stroke="#000" stroke-width="4" stroke-linecap="round"/>
<line x1="974.2" y1="1973.6" x2="974.2" y2="1988.4" stroke="#000" stroke-width="4" stroke-linecap="round"/>
<line x1="1036.8" y1="1973.6" x2="1036.8" y2="1988.4" stroke="#000" stroke-width="4" stroke-linecap="round"/>
<text transform="translate(94.6,2021) scale(1,1.04)" font-size="29.7" text-anchor="middle">4000</text>
<text transform="translate(220.3,2021) scale(1,1.04)" font-size="29.7" text-anchor="middle">3500</text>
<text transform="translate(345.9,2021) scale(1,1.04)" font-size="29.7" text-anchor="middle">3000</text>
<text transform="translate(471.6,2021) scale(1,1.04)" font-size="29.7" text-anchor="middle">2500</text>
<text transform="translate(597.2,2021) scale(1,1.04)" font-size="29.7" text-anchor="middle">2000</text>
<text transform="translate(722.9,2021) scale(1,1.04)" font-size="29.7" text-anchor="middle">1500</text>
<text transform="translate(848.5,2021) scale(1,1.04)" font-size="29.7" text-anchor="middle">1000</text>
<text transform="translate(974.2,2021) scale(1,1.04)" font-size="29.7" text-anchor="middle">500</text>
<text transform="translate(404.5,2088) scale(1,1.04)" font-size="36.4">Wavenumber(cm<tspan font-size="20.3" dy="-16.5" dx="1.3">-1</tspan><tspan font-size="36.4" dy="16.5" dx="0.8">)</tspan></text>
<text transform="translate(8,1122.5) scale(1.05,1)" font-size="39">(b)</text>
<rect x="133.5" y="1144.5" width="823.9" height="96.7" fill="#fff" stroke="#000" stroke-width="1.5"/>
<line x1="172.8" y1="1167.0" x2="242.6" y2="1167.0" stroke="#000" stroke-width="8.4" stroke-linecap="round"/>
<text transform="translate(250.6,1176.6) scale(1.022,1.04)" font-size="28.8"><tspan letter-spacing="0.6">NiNH</tspan><tspan font-size="17.5" dy="12.6" dx="-1.6">2</tspan><tspan font-size="28.8" dy="-12.6" dx="0.5">BDC/ 5 wt % composite before stability test</tspan></text>
<line x1="172.8" y1="1214.5" x2="242.6" y2="1214.5" stroke="#ff0000" stroke-width="8.4" stroke-linecap="round"/>
<text transform="translate(250.6,1224.9) scale(1.022,1.04)" font-size="28.8"><tspan letter-spacing="0.6">NiNH</tspan><tspan font-size="17.5" dy="12.6" dx="-1.6">2</tspan><tspan font-size="28.8" dy="-12.6" dx="0.5">BDC/ 5 wt % composite after stability test</tspan></text>
</svg>
</body></html>
